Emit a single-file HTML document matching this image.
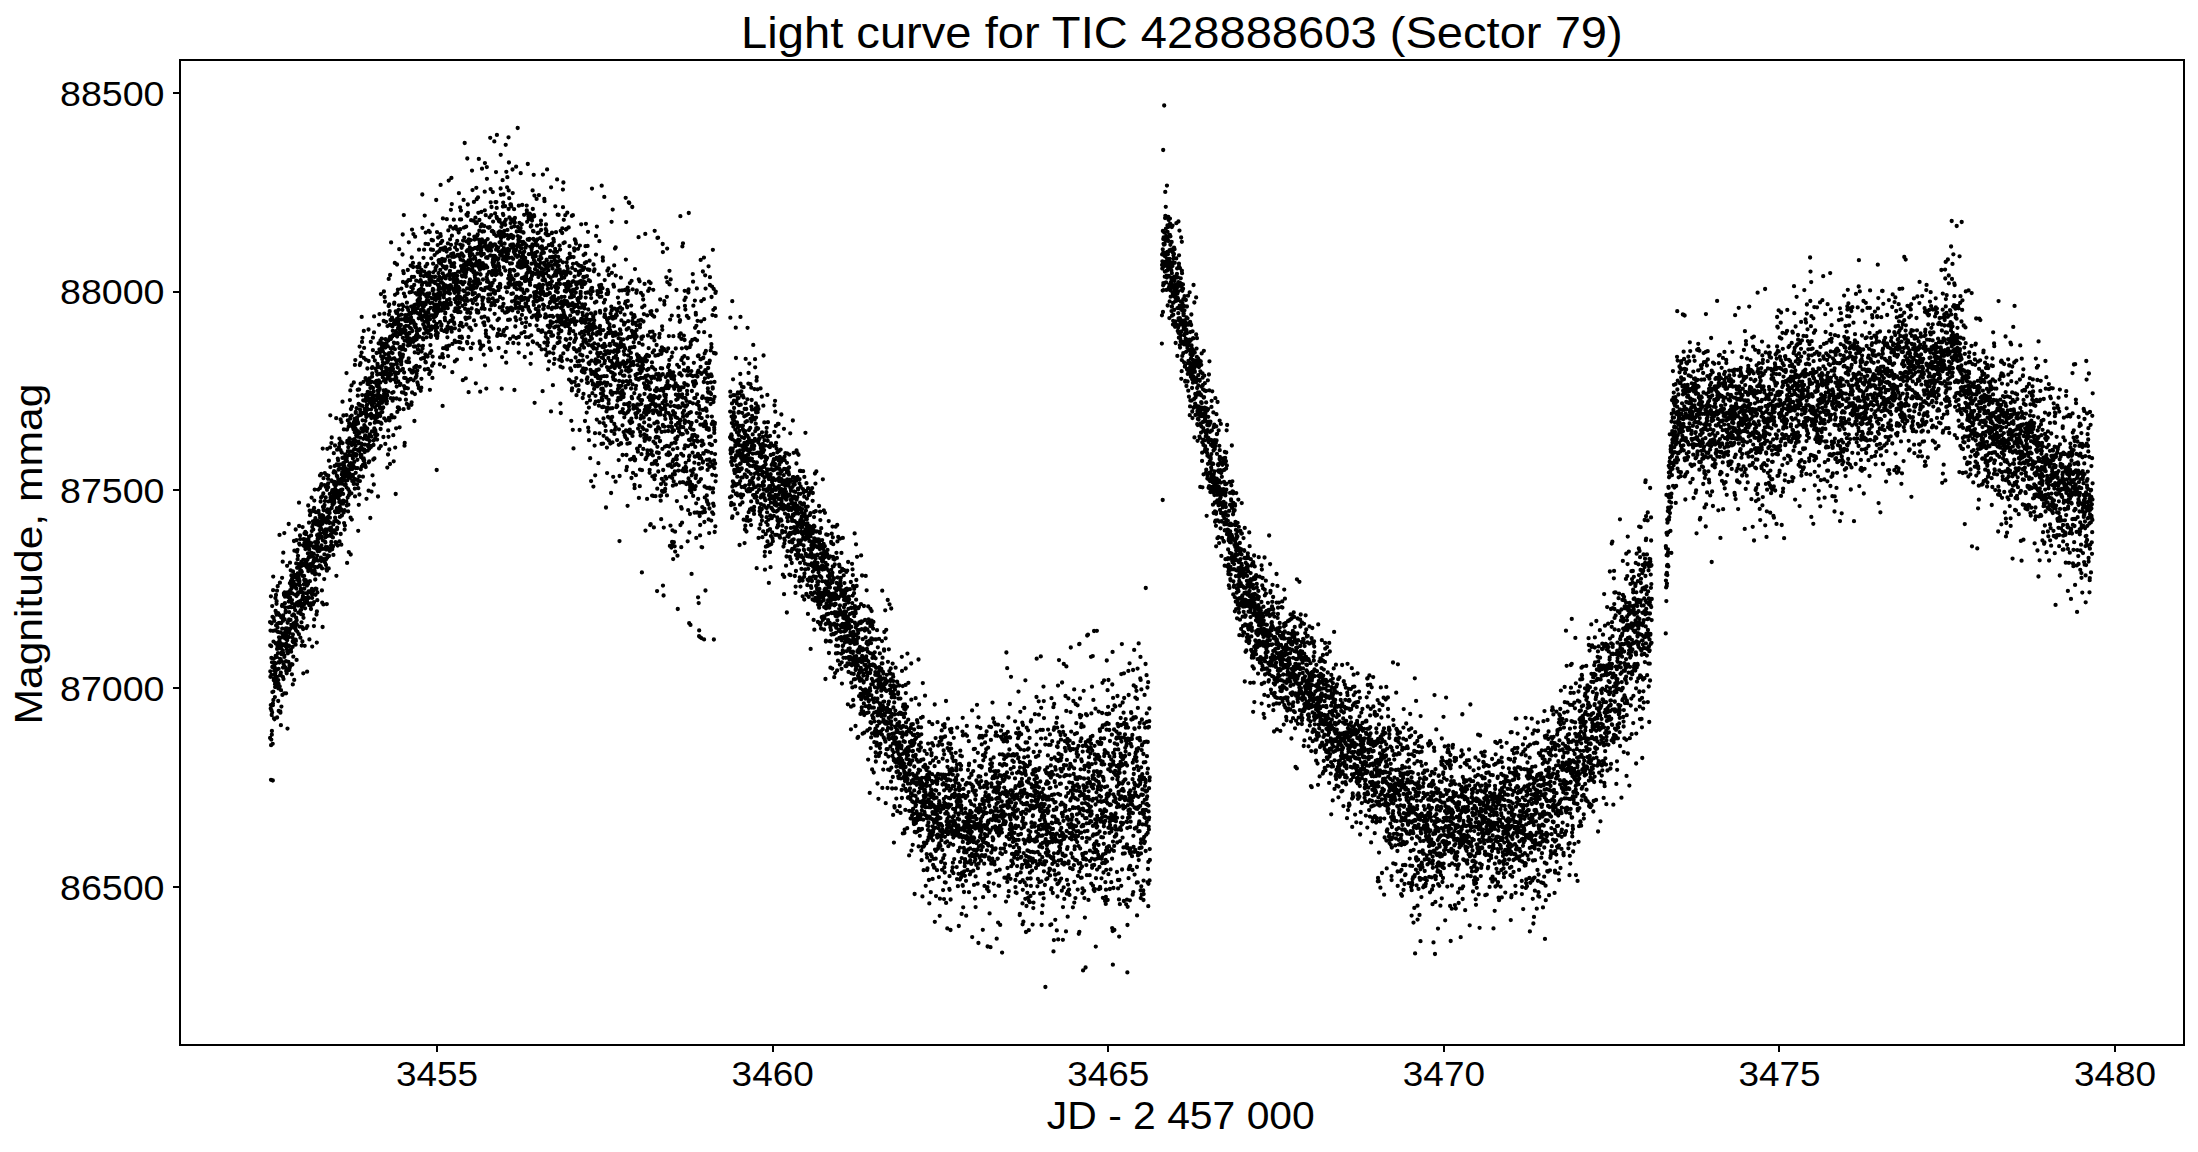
<!DOCTYPE html>
<html><head><meta charset="utf-8"><style>
html,body{margin:0;padding:0;background:#fff;}
body{width:2198px;height:1152px;overflow:hidden;}
svg{display:block;}
text{font-family:"Liberation Sans",sans-serif;fill:#000;}
.tk{font-size:35px;}
</style></head><body>
<svg width="2198" height="1152" viewBox="0 0 2198 1152">
<rect x="0" y="0" width="2198" height="1152" fill="#fff"/>
<path d="M270 622.1h0m.1 115.9h0m.1-92.7h0m.1 26h0m.1 5.5h0m.1-46.2h0m.1-8.2h0m.1 86.2h0m.1-3.5h0m.1-108.8h0m.1 183.5h0m.1-34.6h0m.1-99h0m.1 93.4h0m.1-81.7h0m0 16.9h0m.1 35.6h0m.1-87.1h0m.1 91.7h0m.1 19.7h0m.1-3.7h0m.1-68.7h0m.1 50.1h0m.1-106.3h0m.1 60.9h0m.1 25.1h0m.1-75.3h0m.1 50.2h0m.1 76.8h0m.1 36.7h0m.1-77h0m0 1.7h0m.1-74.4h0m.1-40.6h0m.1-13.6h0m.1 115h0m.1 8.3h0m.1-58.3h0m.1-23.7h0m.1 60.5h0m.1 1.8h0m.1-21.6h0m.1 59.8h0m.1-55.8h0m.1.7h0m.1-42.5h0m0 50h0m.1 48.5h0m.1-50.8h0m.1-1.4h0m.1 14.2h0m.1-6.7h0m.1 22.5h0m.1-12.9h0m.1 2.9h0m.1-56.6h0m.1 43.2h0m.1-75.7h0m.1 73.7h0m.1-60.7h0m.1 45h0m0 22.8h0m.1-35.3h0m.1 19.8h0m.1-68.3h0m.1 30.4h0m.1 60h0m.1-72.1h0m.1 69.9h0m.1-79.4h0m.1-2.6h0m.1 13.5h0m.1 42.3h0m.1 20h0m.1-86.3h0m.1 58.2h0m0 68.6h0m.1-74.4h0m.1-19.2h0m.1 45.5h0m.1-23.5h0m.1-18.3h0m.1-41.4h0m.1 98.2h0m.1-52.5h0m.1 21.2h0m.1-40h0m.1 87.9h0m.1-20.9h0m.1 8.3h0m.1-40.7h0m.1 21.1h0m0 15.2h0m.1 27h0m.1-48.8h0m.1-13.9h0m.1-11h0m.1-14.3h0m.1-8h0m.1 47.6h0m.1-22h0m.1-105.7h0m.1 108.5h0m.1 43.1h0m.1-47.8h0m.1-56h0m.1 60.9h0m0 31.7h0m.1-16.5h0m.1-26.4h0m.1 79h0m.1 1.3h0m.1-69.5h0m.1 31.2h0m.1-14.7h0m.1 13h0m.1 52.5h0m.1-35h0m.1-41.9h0m.1-25.3h0m.1-5.5h0m.1 26.3h0m0 62.8h0m.1-52.4h0m.1-8.5h0m.1 6.6h0m.1-6.9h0m.1 16h0m.1-55.4h0m.1-28.2h0m.1 50.9h0m.1-23.9h0m.1 90.1h0m.1-58.1h0m.1-3.3h0m.1-71.8h0m.1 88.7h0m.1-29.5h0m0 56h0m.1-9.3h0m.1-52.2h0m.1 37.8h0m.1-100.5h0m.1 65.4h0m.1 61h0m.1-14.9h0m.1-19.8h0m.1-6.7h0m.1-44.4h0m.1 1.7h0m.1 49.9h0m.1 48.4h0m.1-160.2h0m0 123.8h0m.1-1.2h0m.1 10.8h0m.1-74h0m.1 26.9h0m.1 18.6h0m.1-34.8h0m.1-6.5h0m.1 10.6h0m.1 25.1h0m.1 13.7h0m.1-12.8h0m.1 2.9h0m.1-23.9h0m.1-1.4h0m0 57h0m.1-36.9h0m.1-2.6h0m.1 32.8h0m.1 32.1h0m.1-22.3h0m.1-27.1h0m.1-15.3h0m.1 11.1h0m.1-3.7h0m.1 37.3h0m.1-34.4h0m.1 10.4h0m.1-20.8h0m.1 42.7h0m0-105.4h0m.1 74.4h0m.1 11.2h0m.1-58.9h0m.1 136.1h0m.1-105.8h0m.1-.6h0m.1-28.3h0m.1 59.4h0m.1-16.1h0m.1-40.1h0m.1 35.4h0m.1 13.7h0m.1 15.7h0m.1-30.6h0m.1-36.1h0m0 12.1h0m.1-83.3h0m.1 77.5h0m.1 44.1h0m.1-8.5h0m.1-17.6h0m.1-7.4h0m.1 57.8h0m.1-39.6h0m.1 35h0m.1-32.2h0m.1-32.3h0m.1 66.6h0m.1-84.2h0m.1-20.5h0m0 44.2h0m.1-9.3h0m.1-5.1h0m.1-2.3h0m.1 75.6h0m.1-45.9h0m.1 8.6h0m.1-58.2h0m.1 21.9h0m.1 57.3h0m.1-68.5h0m.1 70.7h0m.1-66.1h0m.1 39.3h0m.1-49.5h0m0 49.4h0m.1-36.4h0m.1 18.8h0m.1 57h0m.1-61.1h0m.1 71.2h0m.1-74.2h0m.1-21.5h0m.1 36.7h0m.1-21.9h0m.1 71.1h0m.1-26.8h0m.1 9.2h0m.1-5.4h0m.1 42.9h0m.1-49.9h0m0-8h0m.1-55.1h0m.1 12h0m.1 32h0m.1 41.3h0m.1-14.4h0m.1-61h0m.1 43.2h0m.1-10.2h0m.1-38.9h0m.1 47.7h0m.1-82.1h0m.1 74.2h0m.1 64.7h0m.1-103h0m0 30.3h0m.1-56.5h0m.1 33.2h0m.1 44.2h0m.1-53.1h0m.1 29.3h0m.1-9.7h0m.1-7.6h0m.1 23.1h0m.1 16.9h0m.1 13.1h0m.1-11.9h0m.1-51.3h0m.1 67.8h0m.1-5.1h0m0-110.1h0m.1 92.4h0m.1 19h0m.1-10.6h0m.1-12.6h0m.1-54.3h0m.1 25.2h0m.1-48.4h0m.1 55.8h0m.1 63.9h0m.1-39.7h0m.1 4.3h0m.1-39.9h0m.1-32.8h0m.1 16h0m0 34.8h0m.1-27.5h0m.1 4.7h0m.1 52h0m.1-82h0m.1 9.4h0m.1 14.3h0m.1 20.8h0m.1-1.1h0m.1-37.4h0m.1 49.8h0m.1-13.1h0m.1 20.2h0m.1-48.6h0m.1 38.7h0m.1-1h0m0-26h0m.1 8.8h0m.1-6.2h0m.1 55.8h0m.1-131.5h0m.1 23.3h0m.1 17.7h0m.1 38.7h0m.1-9h0m.1 7.6h0m.1 45.6h0m.1-81.9h0m.1 22.9h0m.1 18h0m.1-50.1h0m0 67h0m.1-1.4h0m.1-30.7h0m.1-31.3h0m.1 98.6h0m.1-33.3h0m.1 5.8h0m.1-18h0m.1-2.5h0m.1 24.3h0m.1-25h0m.1-18.3h0m.1 39.1h0m.1-19.3h0m.1-24.6h0m0-4.2h0m.1 60.6h0m.1-15.9h0m.1 39.2h0m.1-73.6h0m.1-6.6h0m.1 40.5h0m.1 21.3h0m.1-23.2h0m.1-5h0m.1 42.5h0m.1-77.4h0m.1-37h0m.1 36.5h0m.1 12.3h0m.1 20h0m0 18.9h0m.1-18.3h0m.1 32.5h0m.1-69.2h0m.1 113.5h0m.1-127.7h0m.1 72.2h0m.1-78.6h0m.1 53.9h0m.1-8.8h0m.1 13.4h0m.1 6.7h0m.1-28.5h0m.1 4h0m.1 8.8h0m0-45.5h0m.1 16.6h0m.1-26.4h0m.1 47.5h0m.1 64.9h0m.1-43.7h0m.1-62.6h0m.1 7.2h0m.1 61.6h0m.1-42.8h0m.1-33.5h0m.1 17h0m.1-1.1h0m.1.7h0m.1 49.6h0m0-18h0m.1-46h0m.1 27.6h0m.1-17.8h0m.1-2.2h0m.1-9h0m.1 95.2h0m.1-65.9h0m.1 31.1h0m.1 8.3h0m.1-36.9h0m.1 36.1h0m.1.1h0m.1-15.2h0m.1 86.1h0m0-88.7h0m.1-15.2h0m.1 25.4h0m.1 32.9h0m.1-23.2h0m.1-43.4h0m.1-11.4h0m.1-2.3h0m.1 7.6h0m.1 30.5h0m.1 13.3h0m.1-91.7h0m.1 65.5h0m.1-31.8h0m.1 52.2h0m.1 6.6h0m0-49.9h0m.1 9.4h0m.1-15h0m.1 39.2h0m.1-59h0m.1 14h0m.1 12.7h0m.1 55.8h0m.1 34.2h0m.1-70.1h0m.1-58.6h0m.1 59.7h0m.1-27.9h0m.1 38.7h0m.1-66h0m0 41.2h0m.1 10.2h0m.1 24.6h0m.1-27h0m.1 39.2h0m.1-33.8h0m.1-57h0m.1 80h0m.1-35.9h0m.1-11.3h0m.1 63.6h0m.1-73.6h0m.1 31h0m.1-23.3h0m.1 60.3h0m0-50.6h0m.1 17.3h0m.1-72.5h0m.1 107.2h0m.1-73.7h0m.1 57.8h0m.1 5.7h0m.1 3.3h0m.1 48.7h0m.1-119.7h0m.1 45.8h0m.1-8h0m.1 8h0m.1 19.7h0m.1-29.3h0m.1-41.8h0m0 35.2h0m.1 47.8h0m.1-80h0m.1 38.1h0m.1-32.8h0m.1 61h0m.1-81.1h0m.1 38.1h0m.1 6.1h0m.1 6.8h0m.1 65.6h0m.1-23.9h0m.1-94.2h0m.1 111.4h0m.1-98.6h0m0-20.2h0m.1 10.7h0m.1 49.7h0m.1 9.4h0m.1-80.8h0m.1 77.4h0m.1-20.9h0m.1 28.3h0m.1-32.3h0m.1 37.5h0m.1-.2h0m.1-61.2h0m.1 76.6h0m.1-36.5h0m.1 15h0m0 15.3h0m.1-65.9h0m.1 25.9h0m.1-36.4h0m.1 10.7h0m.1 35.2h0m.1 1.9h0m.1 28.8h0m.1 25.7h0m.1-65.9h0m.1-24.2h0m.1 118.2h0m.1-31.1h0m.1-66.4h0m.1-24.5h0m0 14.6h0m.1 20.4h0m.1 44.6h0m.1-7.8h0m.1-25.3h0m.1-28h0m.1 11.9h0m.1-14.3h0m.1 11h0m.1-5.4h0m.1 18.2h0m.1-70.9h0m.1 44.8h0m.1 1.3h0m.1-24.9h0m.1 27.9h0m0-26.1h0m.1 11.1h0m.1 10.8h0m.1.8h0m.1-9.7h0m.1 49h0m.1-26.8h0m.1 3.3h0m.1-2.8h0m.1-26.7h0m.1-6.6h0m.1 50.3h0m.1-35.3h0m.1-41.8h0m.1-12.8h0m0 74.6h0m.1-32.3h0m.1 19.4h0m.1-14.3h0m.1 3.8h0m.1 6.7h0m.1-31.8h0m.1 35.8h0m.1 29.2h0m.1-8.8h0m.1-71.7h0m.1 11.4h0m.1-23.4h0m.1 55h0m.1 32.1h0m0-15.8h0m.1-61.2h0m.1 52.8h0m.1 21.8h0m.1-37.1h0m.1 68.8h0m.1-75.2h0m.1 53.2h0m.1 34.3h0m.1-106.6h0m.1 27.7h0m.1 36.2h0m.1 67h0m.1-178.4h0m.1 100.3h0m.1-8.5h0m0-21h0m.1-12.4h0m.1 8.8h0m.1 6.3h0m.1-28.6h0m.1 110.9h0m.1-126.2h0m.1 31.7h0m.1.4h0m.1 7.1h0m.1 14.6h0m.1-25.2h0m.1 15h0m.1 57.3h0m.1-19.9h0m0-39.6h0m.1 34.8h0m.1-49.4h0m.1 28.9h0m.1-48.8h0m.1-12h0m.1 28h0m.1 61.5h0m.1-29.8h0m.1 9h0m.1-11.8h0m.1 12.5h0m.1-5.2h0m.1 9.9h0m.1-17.9h0m0-31.9h0m.1-10.5h0m.1 72.5h0m.1 5.6h0m.1-15.5h0m.1-74.7h0m.1 94.2h0m.1-37h0m.1-11.9h0m.1 2.5h0m.1-11.7h0m.1 93.2h0m.1-33.4h0m.1-80.9h0m.1 22.1h0m0 17.6h0m.1 28.2h0m.1-108.9h0m.1 98.3h0m.1 21.4h0m.1-59h0m.1 8.1h0m.1 37.7h0m.1-19.5h0m.1-57h0m.1 4.6h0m.1 3.8h0m.1-11.6h0m.1 40.8h0m.1-15h0m.1 16.2h0m0 31.5h0m.1 19.3h0m.1-46.4h0m.1-61.3h0m.1 95.3h0m.1-44.6h0m.1 37.5h0m.1-47.7h0m.1 21.9h0m.1-13.2h0m.1 3h0m.1 38h0m.1-57h0m.1 23.8h0m.1 4.9h0m0-21.7h0m.1-53.5h0m.1 80.5h0m.1-112.6h0m.1 51.8h0m.1 30.5h0m.1 33.1h0m.1 5.2h0m.1-1.3h0m.1-7h0m.1-28.5h0m.1 46.2h0m.1-48.8h0m.1 45.5h0m.1-98.9h0m0 37.4h0m.1.5h0m.1 27h0m.1-70.5h0m.1 94h0m.1 4.9h0m.1-6.2h0m.1-38.6h0m.1 57.7h0m.1-59.1h0m.1 42.5h0m.1-28.6h0m.1.9h0m.1-4.3h0m.1 3.7h0m.1 33h0m0 9.4h0m.1-.6h0m.1-15.5h0m.1-7.4h0m.1 1.1h0m.1 30.5h0m.1-73h0m.1-9.3h0m.1 31.2h0m.1-50.6h0m.1 41.7h0m.1 5h0m.1-28.7h0m.1 13h0m.1 37h0m0-27.4h0m.1 8.7h0m.1 27.9h0m.1-48.6h0m.1-15.9h0m.1 32.1h0m.1 13.4h0m.1-65.9h0m.1 72.2h0m.1-28.7h0m.1-3.2h0m.1-13.4h0m.1 19.6h0m.1 50.2h0m.1-29.8h0m0 8h0m.1-34.8h0m.1 57.3h0m.1-9.5h0m.1-38.3h0m.1-76.9h0m.1 78.7h0m.1 78.9h0m.1-82.8h0m.1-28.7h0m.1 79.9h0m.1-68.5h0m.1 32.4h0m.1 21.1h0m.1-79.5h0m0 46.8h0m.1 31.1h0m.1-50.9h0m.1 34.5h0m.1-20.2h0m.1 30.7h0m.1 23.9h0m.1-87h0m.1 23.6h0m.1 26.7h0m.1-48.6h0m.1 5.2h0m.1 13.8h0m.1 2h0m.1-11.6h0m.1 28.7h0m0 13.8h0m.1-2h0m.1-2.3h0m.1 14.9h0m.1-75.7h0m.1 36.6h0m.1 8.7h0m.1 9.6h0m.1-63.4h0m.1 102.8h0m.1-97.7h0m.1 49.5h0m.1 13.7h0m.1 10h0m.1-52.6h0m0 4h0m.1 26.7h0m.1 6.1h0m.1 9.3h0m.1-29.8h0m.1-30.5h0m.1-30.6h0m.1 114.5h0m.1-92.5h0m.1 61h0m.1-12.7h0m.1 14h0m.1 5.5h0m.1 35.4h0m.1-65.9h0m0 13.2h0m.1-69.9h0m.1 59.8h0m.1-29.4h0m.1 22.1h0m.1 40.9h0m.1-31.8h0m.1 26.9h0m.1-38.5h0m.1 17.5h0m.1-31.7h0m.1-56.2h0m.1 41.4h0m.1 25.6h0m.1 12.4h0m.1-4.9h0m0-4.1h0m.1 31.6h0m.1-9.8h0m.1-30.7h0m.1 37.5h0m.1-85.2h0m.1 50.3h0m.1 3.8h0m.1 42.9h0m.1-55h0m.1-28.1h0m.1 48.8h0m.1 44.9h0m.1-60.5h0m.1 6.6h0m0-3.4h0m.1 7.4h0m.1 37h0m.1 19.4h0m.1-44.7h0m.1-17.4h0m.1 58.1h0m.1-52.6h0m.1.2h0m.1-14.3h0m.1-4.4h0m.1 21.7h0m.1-20.9h0m.1 25.7h0m.1-10h0m0 13.6h0m.1-28.3h0m.1 1.9h0m.1 16.3h0m.1-5.5h0m.1.7h0m.1 31.8h0m.1-86.4h0m.1-42h0m.1 114.3h0m.1-29.3h0m.1 47.5h0m.1-44.6h0m.1-31.5h0m.1 133.4h0m0-86.8h0m.1-33.7h0m.1-1.4h0m.1 39.2h0m.1-37.5h0m.1 31.8h0m.1 23h0m.1-77.1h0m.1 30.8h0m.1 24.9h0m.1 35.3h0m.1-22.2h0m.1-42h0m.1 57.5h0m.1-61.4h0m.1 11.9h0m0 16h0m.1-44.7h0m.1 125.6h0m.1-56.9h0m.1-29.8h0m.1-24.1h0m.1-18.1h0m.1 46h0m.1 22.3h0m.1-53.2h0m.1 13h0m.1 22.5h0m.1-19h0m.1-54.7h0m.1 76.3h0m0-13.1h0m.1 14.5h0m.1-59.1h0m.1-28.3h0m.1 26.4h0m.1 46.9h0m.1 54h0m.1 36.8h0m.1-91.4h0m.1-54.1h0m.1 34h0m.1 23.7h0m.1-.6h0m.1-10.7h0m.1 37.9h0m0-68.8h0m.1-39.1h0m.1 39.2h0m.1-9h0m.1 104h0m.1-74.6h0m.1-38.4h0m.1 62.6h0m.1 11.8h0m.1-29.6h0m.1 4h0m.1 25.4h0m.1-15.9h0m.1-37.8h0m.1 39.6h0m.1 10.2h0m0-18.3h0m.1 16.2h0m.1-9.2h0m.1-25.7h0m.1 2.5h0m.1 23.4h0m.1-36.5h0m.1 52.7h0m.1 1.9h0m.1-101.4h0m.1 60.8h0m.1-21.5h0m.1 3.4h0m.1 24h0m.1-10h0m0 22.7h0m.1-7.9h0m.1 1.3h0m.1-36.4h0m.1 13.4h0m.1 56.4h0m.1-123.8h0m.1 131.5h0m.1-71.8h0m.1 54.5h0m.1-119h0m.1 68.2h0m.1 39.7h0m.1-22.3h0m.1 27.1h0m0-59.9h0m.1-.9h0m.1 7.3h0m.1 36.5h0m.1-1.6h0m.1-18.8h0m.1-4.7h0m.1-6.7h0m.1 17.3h0m.1-33.1h0m.1 28.1h0m.1-5.8h0m.1-10.1h0m.1-1.2h0m.1 65h0m0-66.9h0m.1 32.5h0m.1 30.2h0m.1-20.2h0m.1-23.3h0m.1 31.6h0m.1-78.3h0m.1 5.9h0m.1 26.5h0m.1 1.2h0m.1 8h0m.1 99.4h0m.1-42.6h0m.1-55.7h0m.1 9.2h0m.1-37.7h0m0 39.3h0m.1-53.8h0m.1 115.3h0m.1-89.3h0m.1 34.5h0m.1-60.4h0m.1 86.9h0m.1-25.4h0m.1 43.4h0m.1-61.4h0m.1-86.5h0m.1 58.3h0m.1-39.9h0m.1 116.1h0m.1-71.7h0m0-4.4h0m.1 43.6h0m.1-11h0m.1 16.8h0m.1-42.3h0m.1-49h0m.1 20.6h0m.1-27.6h0m.1 113.2h0m.1-12.3h0m.1-42.2h0m.1 32.4h0m.1 1.4h0m.1-1.4h0m.1-3.6h0m0 11.3h0m.1-26.5h0m.1-75.8h0m.1-35.7h0m.1 149.6h0m.1-22.1h0m.1-102.5h0m.1 88.1h0m.1-34.9h0m.1 10.7h0m.1-68h0m.1 111h0m.1-28.5h0m.1 29.5h0m.1 8.8h0m.1 6.4h0m0 11.7h0m.1-45.1h0m.1-2.7h0m.1-28.6h0m.1 38.5h0m.1-25.7h0m.1-31.3h0m.1 78.7h0m.1-2.1h0m.1-127.5h0m.1 27h0m.1 54.5h0m.1-64.5h0m.1 112.4h0m.1-35.1h0m0 24.4h0m.1.5h0m.1 13.3h0m.1-54.3h0m.1 42.9h0m.1-25.5h0m.1 18.2h0m.1-8.4h0m.1 29h0m.1-30h0m.1-34.5h0m.1 20h0m.1-42.6h0m.1 48.9h0m.1 40h0m0-71.7h0m.1-35.7h0m.1 53h0m.1-14.7h0m.1 16.9h0m.1-20.3h0m.1 22.5h0m.1-37.4h0m.1 119.1h0m.1-92.7h0m.1 25h0m.1 8.1h0m.1-31.3h0m.1 20.5h0m.1-24.1h0m0-7.1h0m.1 7.4h0m.1 24.1h0m.1-60.2h0m.1 12.1h0m.1 3.3h0m.1 7.9h0m.1 58.8h0m.1-41h0m.1-9.6h0m.1 15.2h0m.1 31.2h0m.1-62.2h0m.1 60.6h0m.1-115.3h0m.1 31.5h0m0 129.7h0m.1-28.3h0m.1-47h0m.1-21.4h0m.1 42.8h0m.1-42.6h0m.1 67.2h0m.1-12.7h0m.1-14.4h0m.1-55.8h0m.1 62.5h0m.1-46.7h0m.1 4.7h0m.1-6.7h0m.1 10.3h0m0 21.2h0m.1 11.8h0m.1-.1h0m.1 82.5h0m.1-130h0m.1 57.9h0m.1-63.3h0m.1 16.1h0m.1-56.8h0m.1 105.2h0m.1-33.2h0m.1-4.6h0m.1-8.8h0m.1 36h0m.1-49.6h0m0 31.1h0m.1 73.6h0m.1-92.9h0m.1-16.9h0m.1-13.7h0m.1 63.4h0m.1-26.2h0m.1-28.8h0m.1-3h0m.1 32.2h0m.1-38.5h0m.1 108.1h0m.1-80.3h0m.1.3h0m.1 2.6h0m.1-60.2h0m0 12.5h0m.1 37.8h0m.1 12.8h0m.1-43.9h0m.1 102.6h0m.1-43.6h0m.1 29.1h0m.1-4.5h0m.1-49.1h0m.1 93.1h0m.1-81.4h0m.1-70.7h0m.1-16h0m.1 83.7h0m.1 28.4h0m0-28.3h0m.1 58.2h0m.1-76.1h0m.1 34.6h0m.1 5.8h0m.1-62.2h0m.1 46.7h0m.1 11.3h0m.1 16h0m.1 3.8h0m.1-8.1h0m.1-61.6h0m.1 52.3h0m.1 11.6h0m.1-36.6h0m0 24.9h0m.1.4h0m.1 14.3h0m.1-35.8h0m.1 10.5h0m.1-10h0m.1-4.9h0m.1-24.1h0m.1 9.6h0m.1-27.8h0m.1 32.1h0m.1 30.8h0m.1-2.7h0m.1 4.3h0m.1-31.2h0m0 53.3h0m.1-65h0m.1 60.2h0m.1-30h0m.1-41h0m.1 1.2h0m.1 50.6h0m.1-25h0m.1 8h0m.1 97.9h0m.1-74.6h0m.1-29.2h0m.1 21.3h0m.1-47h0m.1 14.7h0m.1 21.5h0m0-59.9h0m.1 42.8h0m.1-5.6h0m.1 10.1h0m.1-65.8h0m.1 123.6h0m.1-65.5h0m.1 22.3h0m.1-55.7h0m.1-35.4h0m.1 74.3h0m.1-14.6h0m.1 33.8h0m.1-55.2h0m.1-2.4h0m0 45.9h0m.1 12.6h0m.1 7.6h0m.1-33.6h0m.1 17.2h0m.1-59.4h0m.1 88.7h0m.1-6.4h0m.1 23.5h0m.1-152h0m.1 118.7h0m.1-56.6h0m.1 42.6h0m.1-2.5h0m.1 27.4h0m0-49.5h0m.1-5.6h0m.1-23.5h0m.1-6.4h0m.1 61.4h0m.1-52.2h0m.1 54.9h0m.1-37h0m.1-6.8h0m.1 53.1h0m.1-3.7h0m.1-64.9h0m.1 28.4h0m.1 5.4h0m.1 23.3h0m.1-49.2h0m0 10.9h0m.1 10.4h0m.1 27.9h0m.1 6.8h0m.1-50.3h0m.1 79.9h0m.1-46.7h0m.1-42.8h0m.1-26.6h0m.1 36.5h0m.1-65.9h0m.1 89.2h0m.1 12.9h0m.1 24.7h0m.1-27.2h0m0-77.4h0m.1 49.7h0m.1 34h0m.1-100.4h0m.1 46.9h0m.1 50.3h0m.1-20.1h0m.1-72.4h0m.1 52.4h0m.1 19.6h0m.1 70.2h0m.1-96.3h0m.1-8.4h0m.1 40.1h0m.1 2.9h0m0 8h0m.1 30.3h0m.1-52.9h0m.1-45.8h0m.1 49.2h0m.1-1h0m.1 33h0m.1-4.6h0m.1-55.3h0m.1 52.4h0m.1 7.9h0m.1-44.5h0m.1 42.3h0m.1-27.5h0m.1 5.1h0m0-16.4h0m.1 33h0m.1 72.2h0m.1-92.7h0m.1-48.8h0m.1 32.4h0m.1-12.4h0m.1 31.4h0m.1-16.4h0m.1 93.4h0m.1-62.8h0m.1 38.7h0m.1-89.8h0m.1 13.9h0m.1 82.3h0m.1-130.7h0m0 63.4h0m.1-90.6h0m.1 139h0m.1-103.4h0m.1 38.6h0m.1 4.2h0m.1-52.9h0m.1 145.1h0m.1-92.4h0m.1 63.3h0m.1-82.1h0m.1-27.1h0m.1 64.2h0m.1-6.8h0m.1 95.4h0m0-139.3h0m.1-49.7h0m.1 61.6h0m.1 35.1h0m.1 8.9h0m.1-60.7h0m.1 28.4h0m.1 31.1h0m.1 18.8h0m.1-59.1h0m.1 25.2h0m.1-121.9h0m.1 83h0m.1 48.8h0m.1-15.1h0m0-6.8h0m.1 62.8h0m.1-66.8h0m.1-28.4h0m.1 45.6h0m.1 4.9h0m.1-52.8h0m.1 75.2h0m.1 24.6h0m.1-80.8h0m.1-10.2h0m.1 26.7h0m.1 47.6h0m.1-75h0m.1 5.1h0m.1 4.7h0m0 29.2h0m.1 4.3h0m.1-21.9h0m.1 51.2h0m.1 36.9h0m.1-100.2h0m.1 57.1h0m.1-27.3h0m.1 96.5h0m.1-137.6h0m.1 18.9h0m.1 15.8h0m.1-54.6h0m.1 39.4h0m.1 36.3h0m0-76.9h0m.1 55.8h0m.1 58.9h0m.1-97h0m.1 1.1h0m.1-58.5h0m.1 86.3h0m.1-54.4h0m.1 77.9h0m.1 74.9h0m.1-75.2h0m.1-48.4h0m.1 51.6h0m.1-40.5h0m.1-23.8h0m0 22.5h0m.1 26.3h0m.1-28.9h0m.1 51.2h0m.1 45.9h0m.1-55.3h0m.1 5h0m.1-65h0m.1 85.5h0m.1-35.4h0m.1 23.5h0m.1-64.7h0m.1 42.2h0m.1-99.6h0m.1 72h0m0-17.8h0m.1-6h0m.1 99.2h0m.1-118.8h0m.1 50.1h0m.1.1h0m.1 24.3h0m.1 39.9h0m.1-117.9h0m.1 38.5h0m.1-6.1h0m.1 51h0m.1 8.5h0m.1-57.8h0m.1 3.5h0m.1-17.4h0m0 50.3h0m.1 47.5h0m.1-47.4h0m.1-54.9h0m.1 10.2h0m.1 4.2h0m.1-70.5h0m.1 160h0m.1-61.1h0m.1-15.1h0m.1 94.3h0m.1-74.2h0m.1 46.3h0m.1-44.8h0m.1 30.5h0m0-38.1h0m.1-16.4h0m.1 28.6h0m.1 11.2h0m.1 13.6h0m.1-28.2h0m.1-21.6h0m.1-4.6h0m.1 25h0m.1-29.6h0m.1 5.7h0m.1 32.1h0m.1 1.6h0m.1-3.2h0m.1-46.6h0m0-26h0m.1 70h0m.1-9.6h0m.1-29.6h0m.1 29.9h0m.1 43h0m.1-62.8h0m.1 26.5h0m.1-51.4h0m.1 28.1h0m.1-22.9h0m.1-55.3h0m.1 102.2h0m.1-122.2h0m.1 103.3h0m.1 31.2h0m0-14.3h0m.1-72.8h0m.1 66.6h0m.1-77.4h0m.1 35.1h0m.1 86.3h0m.1-47.6h0m.1 64.3h0m.1-136h0m.1-58.1h0m.1 78.5h0m.1 92.5h0m.1-13.6h0m.1 5.4h0m.1-45.6h0m0 .1h0m.1-2.4h0m.1 115.7h0m.1-105.1h0m.1 102.3h0m.1-116.2h0m.1 61.7h0m.1-92h0m.1 21.5h0m.1 32h0m.1-34.8h0m.1 6h0m.1 9.2h0m.1-14.3h0m.1 78h0m0-15.8h0m.1-94.7h0m.1 116.2h0m.1-65.6h0m.1-.1h0m.1-8.2h0m.1 62h0m.1-26.1h0m.1-46.3h0m.1 21.4h0m.1-50.9h0m.1 118h0m.1-101.2h0m.1-20.9h0m.1 25.7h0m0 31.8h0m.1 22.7h0m.1-41.3h0m.1 15.2h0m.1-14.9h0m.1 60.7h0m.1-39.7h0m.1-72h0m.1 118.3h0m.1-42.7h0m.1 59.3h0m.1-94.9h0m.1 4.3h0m.1 11.8h0m.1-46h0m.1 38.5h0m0 89.3h0m.1-49.6h0m.1-116h0m.1 137.6h0m.1-34.7h0m.1 17h0m.1-29.2h0m.1 5.5h0m.1-5.1h0m.1-.4h0m.1-40.6h0m.1 77.2h0m.1-30.8h0m.1 6.1h0m.1-1.6h0m0-30.3h0m.1 14.9h0m.1-47.7h0m.1 59.4h0m.1.5h0m.1-19.5h0m.1-55h0m.1 113.4h0m.1-56.2h0m.1 5.5h0m.1-11h0m.1-10.7h0m.1 7h0m.1-26.4h0m.1 19.5h0m0 98.1h0m.1-32.8h0m.1 30.3h0m.1-110.5h0m.1-34.3h0m.1 19.5h0m.1-47.4h0m.1 162.9h0m.1-19.8h0m.1-41.7h0m.1 9.9h0m.1-.5h0m.1-18h0m.1 48.2h0m.1-81.8h0m.1 21.1h0m0 10.7h0m.1-57.7h0m.1 4.1h0m.1 74.9h0m.1-3.5h0m.1-104.3h0m.1 146.2h0m.1-42.1h0m.1 33.2h0m.1-48.9h0m.1 24h0m.1-69.7h0m.1 35.8h0m.1-27.6h0m.1 20.1h0m0 62.3h0m.1 53.6h0m.1-95.9h0m.1-17.7h0m.1 45h0m.1-12h0m.1 53.7h0m.1-47.6h0m.1-109.8h0m.1 90.6h0m.1-22.7h0m.1-11.5h0m.1 34.5h0m.1-3h0m.1-15.3h0m0 68.4h0m.1-41.8h0m.1 1h0m.1-9.2h0m.1 38.9h0m.1-85.9h0m.1 85.2h0m.1-53.3h0m.1 63.3h0m.1-2.5h0m.1-34.1h0m.1-35.1h0m.1 26.9h0m.1 2.6h0m.1-66.7h0m0 41.5h0m.1-13.8h0m.1 75.8h0m.1 11.9h0m.1-89.1h0m.1 7.2h0m.1-29.1h0m.1 64.3h0m.1 13.5h0m.1 35.8h0m.1-112.8h0m.1 80.9h0m.1-39.5h0m.1-21h0m.1 13.4h0m.1-15.3h0m0 54.6h0m.1-27h0m.1 69.9h0m.1-89.4h0m.1-49.1h0m.1 31.9h0m.1 48.5h0m.1-66.4h0m.1 26.3h0m.1 46.8h0m.1-69.6h0m.1 99.6h0m.1-37.6h0m.1-33.7h0m.1 19.6h0m0-16.7h0m.1 3.6h0m.1 2.4h0m.1 12.4h0m.1-4.1h0m.1-39.5h0m.1 7h0m.1 110.6h0m.1-115.2h0m.1 34.3h0m.1 48.9h0m.1-7.7h0m.1-62.4h0m.1 99h0m.1-8.9h0m0-75.5h0m.1-33.5h0m.1 81.8h0m.1-47.2h0m.1-.7h0m.1-18.7h0m.1 7.5h0m.1 27.4h0m.1 26.5h0m.1-151.9h0m.1 33.3h0m.1 120.6h0m.1-65.5h0m.1 55.3h0m.1-21.1h0m.1 41h0m0-12.3h0m.1-42.9h0m.1 4.1h0m.1 17.2h0m.1 15.2h0m.1-49.5h0m.1-32.1h0m.1 58.2h0m.1-5.4h0m.1-4.2h0m.1-30.3h0m.1 57.5h0m.1-83.9h0m.1 44.6h0m.1 63.7h0m0-86.4h0m.1 54.7h0m.1 1.2h0m.1-1h0m.1-110.9h0m.1 153.9h0m.1-53.4h0m.1 12.4h0m.1-6.8h0m.1-8.9h0m.1 41.5h0m.1 7.6h0m.1-118h0m.1 22.5h0m.1 37.9h0m0-71.7h0m.1 129.8h0m.1-80.1h0m.1 47.7h0m.1-12.4h0m.1-15.6h0m.1-28.3h0m.1 23h0m.1 16h0m.1 24.6h0m.1-35.3h0m.1-6.9h0m.1 5.2h0m.1 55h0m.1-36h0m0-34.4h0m.1-20.9h0m.1 30.1h0m.1-17.9h0m.1 17.4h0m.1 63h0m.1-23.8h0m.1-16.5h0m.1 6.1h0m.1 46.6h0m.1-124.8h0m.1 79.4h0m.1-23.1h0m.1 12.1h0m.1-2.5h0m.1-13.9h0m0 30.3h0m.1-95.5h0m.1 86.3h0m.1 13.7h0m.1-57.7h0m.1-.8h0m.1 101.5h0m.1-98.9h0m.1 18.2h0m.1-13.9h0m.1 5.5h0m.1-2.1h0m.1-50.7h0m.1 157.7h0m.1-109.2h0m0 38.7h0m.1-16.2h0m.1 49.9h0m.1-23.1h0m.1 15.2h0m.1 26.4h0m.1-36.7h0m.1-27h0m.1 29.2h0m.1-87.5h0m.1 86.5h0m.1-6.6h0m.1-14h0m.1-57.1h0m.1 92.9h0m0-70.1h0m.1 45.2h0m.1-86.3h0m.1 58.1h0m.1-16.4h0m.1-4.7h0m.1 3.9h0m.1 84.8h0m.1-63h0m.1 12.9h0m.1 62.3h0m.1-153.3h0m.1 132h0m.1-66h0m.1-9.1h0m.1 7.5h0m0-48.6h0m.1 9.5h0m.1 13.8h0m.1 8.6h0m.1 55.2h0m.1 35.9h0m.1-73.5h0m.1 25.5h0m.1 2.1h0m.1-23.1h0m.1 15.8h0m.1-28.4h0m.1 39.5h0m.1-27h0m.1 10.3h0m0 6h0m.1-3.8h0m.1-29.8h0m.1-21.9h0m.1 44.1h0m.1-17.3h0m.1 1.2h0m.1 14.6h0m.1-21h0m.1 39.8h0m.1-1.8h0m.1-44.7h0m.1 43.5h0m.1-45.7h0m.1 57.7h0m0 9.5h0m.1-34.9h0m.1 30.9h0m.1 4.4h0m.1-19.9h0m.1-115.5h0m.1 104.6h0m.1 6.7h0m.1 16.2h0m.1-61.3h0m.1 57.6h0m.1-12.1h0m.1 1.8h0m.1-81.4h0m.1 20.4h0m0 85.4h0m.1-10.4h0m.1-31.2h0m.1 39.8h0m.1-28.1h0m.1-23.3h0m.1-39.6h0m.1 88.1h0m.1-39.3h0m.1 17.6h0m.1-74h0m.1 42.5h0m.1 28.4h0m.1-18.5h0m.1-16.7h0m.1-12.8h0m0 44.6h0m.1-19.6h0m.1.9h0m.1 1.5h0m.1-25.2h0m.1 23.8h0m.1-9.7h0m.1 21.6h0m.1-47.3h0m.1 9.2h0m.1 38.3h0m.1-10.5h0m.1 14.2h0m.1 62.2h0m.1-42.5h0m0 35.4h0m.1-46.7h0m.1-18h0m.1-22.8h0m.1-35.7h0m.1 14.8h0m.1-64h0m.1 51.2h0m.1 6.9h0m.1 20.7h0m.1 31.1h0m.1-12.5h0m.1 43.2h0m.1.4h0m.1 4h0m0-5.5h0m.1-19.8h0m.1-26.1h0m.1 32.1h0m.1-28.5h0m.1 6.6h0m.1 20.3h0m.1-50.1h0m.1-17.9h0m.1 65h0m.1 48.2h0m.1.4h0m.1 51.3h0m.1-157.6h0m.1 25.1h0m.1-55h0m0 47.7h0m.1 91.5h0m.1-9.4h0m.1-87.4h0m.1 23h0m.1-16.7h0m.1-17.3h0m.1 36.4h0m.1-9.4h0m.1 20.5h0m.1 5.5h0m.1 28.3h0m.1 35.7h0m.1-75.4h0m.1-4.4h0m0 7.1h0m.1 14.4h0m.1-19.1h0m.1-28.5h0m.1 15.5h0m.1 41.6h0m.1-58.5h0m.1 60.8h0m.1-73h0m.1 66.1h0m.1-.7h0m.1-26.6h0m.1 6.2h0m.1-7h0m.1 63.1h0m0-70h0m.1-9.7h0m.1 36.5h0m.1 24.1h0m.1-25.6h0m.1-16h0m.1 58.8h0m.1-79.1h0m.1-.8h0m.1-15.1h0m.1 80.6h0m.1-112.9h0m.1 30.4h0m.1 50.6h0m.1 5.2h0m0 43.8h0m.1-43.4h0m.1-30.4h0m.1 61.9h0m.1-10.6h0m.1 3h0m.1-3.1h0m.1-18.4h0m.1-64.8h0m.1 13.1h0m.1 99.6h0m.1-63.6h0m.1-62.1h0m.1 62.4h0m.1 29.8h0m.1-18.8h0m0-12.6h0m.1-110.6h0m.1 112h0m.1-6.6h0m.1 59.7h0m.1-55.2h0m.1-1.9h0m.1-12.9h0m.1 10.4h0m.1 13h0m.1-26h0m.1-12.4h0m.1-11.8h0m.1 44.7h0m.1-22.8h0m0 8.2h0m.1-39.7h0m.1 23.3h0m.1-35.9h0m.1 94.1h0m.1 7.4h0m.1-25.6h0m.1-17.4h0m.1 19.2h0m.1-94.6h0m.1 35h0m.1 82.9h0m.1-73.6h0m.1 32.7h0m.1-20.6h0m0-88.3h0m.1 88h0m.1 49.7h0m.1 16.1h0m.1-127.6h0m.1 31.6h0m.1 21.1h0m.1 64.2h0m.1 7.5h0m.1 43.7h0m.1-28.3h0m.1-79.2h0m.1-10.1h0m.1 63.8h0m.1-39.5h0m.1 9.9h0m0-13.4h0m.1-1.2h0m.1 43.6h0m.1-64.5h0m.1-24.8h0m.1 35h0m.1 26.7h0m.1-13.7h0m.1 5.4h0m.1-62.2h0m.1 37.2h0m.1 65.6h0m.1-42.1h0m.1-17.2h0m.1 60.7h0m0-57h0m.1 44.2h0m.1-18.3h0m.1 6.4h0m.1 41.5h0m.1 20.7h0m.1-33.1h0m.1-71.9h0m.1-9h0m.1 26.5h0m.1.7h0m.1 33.8h0m.1-22.7h0m.1 5.6h0m.1-64.6h0m0 56h0m.1 19.6h0m.1 39.8h0m.1-31.2h0m.1-22.6h0m.1-44.6h0m.1 38.9h0m.1 1.4h0m.1-5.1h0m.1 10h0m.1 21.3h0m.1-11.5h0m.1 60.9h0m.1-109.8h0m.1-20.3h0m0 67h0m.1-55.6h0m.1 34.9h0m.1 4.2h0m.1-25.1h0m.1 55h0m.1-5.2h0m.1-17.4h0m.1 15.9h0m.1 9h0m.1-40.6h0m.1 31h0m.1-15.8h0m.1-5h0m.1-26.8h0m.1 86.9h0m0-48.9h0m.1-60.4h0m.1 66h0m.1-105.4h0m.1 97.4h0m.1 17.2h0m.1 22.4h0m.1-41.9h0m.1-31.6h0m.1 91.4h0m.1-11.1h0m.1-11.4h0m.1-53.7h0m.1 30.7h0m.1-83.2h0m0 77.6h0m.1-89.7h0m.1 37.3h0m.1-15.4h0m.1 113.2h0m.1-30.3h0m.1-52.6h0m.1 63.5h0m.1-40.4h0m.1-72h0m.1 55.5h0m.1-46.7h0m.1 62.6h0m.1 16.1h0m.1-44.6h0m0 69.6h0m.1 13.5h0m.1-88.8h0m.1 51.2h0m.1-23.4h0m.1-6.5h0m.1 68.8h0m.1-83.8h0m.1 12.2h0m.1 10.1h0m.1 22.3h0m.1 7.1h0m.1-60.3h0m.1 81.1h0m.1 53.6h0m.1-31h0m0-64.9h0m.1-23.8h0m.1-19.9h0m.1 49.9h0m.1-14.9h0m.1.5h0m.1-20h0m.1-56.2h0m.1 67.8h0m.1 4.1h0m.1-7h0m.1-37.2h0m.1 40.4h0m.1 4.3h0m.1-34.7h0m0 62.8h0m.1-24.2h0m.1 6h0m.1 9.2h0m.1-23h0m.1 6.1h0m.1 21.6h0m.1 8.1h0m.1 4.7h0m.1-38.4h0m.1 33.9h0m.1 13.3h0m.1-90.8h0m.1 35.4h0m.1 12.1h0m0 2.4h0m.1 101.5h0m.1-59.3h0m.1-47.2h0m.1.7h0m.1-45.9h0m.1 14.7h0m.1 83.2h0m.1-109.8h0m.1 84.2h0m.1-47.8h0m.1 14.1h0m.1 4.5h0m.1 72.2h0m.1-53.5h0m0 6h0m.1 18.2h0m.1-154.1h0m.1 184.8h0m.1-127.5h0m.1 34.3h0m.1 50.7h0m.1-96.3h0m.1 8.4h0m.1 105h0m.1-53.4h0m.1 45.2h0m.1-16.3h0m.1-24.6h0m.1 68.2h0m.1-76.5h0m0 131.7h0m.1-148.9h0m.1-3.8h0m.1 11.2h0m.1 33.3h0m.1-49.7h0m.1 15.8h0m.1 77.6h0m.1-45.6h0m.1 35.3h0m.1-28.6h0m.1-34.7h0m.1-6.7h0m.1 34.6h0m.1-2.6h0m0-23.2h0m.1-1.4h0m.1 73.1h0m.1-14.9h0m.1-27h0m.1-23.4h0m.1-3h0m.1 88.3h0m.1-107.8h0m.1 118.9h0m.1-108.4h0m.1-30.4h0m.1 128h0m.1-77.9h0m.1 59.8h0m0-30h0m.1-34.7h0m.1 43.1h0m.1-45.2h0m.1 26.5h0m.1-24.1h0m.1-95.1h0m.1 117.5h0m.1-34h0m.1 14.1h0m.1 20.3h0m.1-98.4h0m.1 102.9h0m.1 1.4h0m.1 49.2h0m.1-40.5h0m0-17.7h0m.1-36.4h0m.1 22.8h0m.1-51.1h0m.1 66.6h0m.1-22.3h0m.1-6.2h0m.1 13.8h0m.1 16h0m.1-7.2h0m.1-79.5h0m.1 118.5h0m.1-47.7h0m.1 11h0m.1-12.2h0m0-34.9h0m.1 44.2h0m.1-24.2h0m.1-17h0m.1 35.8h0m.1 23.2h0m.1-5.5h0m.1-15.5h0m.1-29.7h0m.1 10.5h0m.1 7h0m.1-47.7h0m.1 82.2h0m.1-26.5h0m.1-50.4h0m0 102.1h0m.1 58.2h0m.1-161.1h0m.1 41h0m.1-24.4h0m.1 59.1h0m.1-110.1h0m.1 99.8h0m.1-4.1h0m.1 26.7h0m.1-111h0m.1 23.9h0m.1 38.3h0m.1 42.9h0m.1-30.8h0m0 38.9h0m.1-26.9h0m.1-50h0m.1 28.8h0m.1-10.6h0m.1-4.7h0m.1-14.6h0m.1 61.8h0m.1-16.9h0m.1-81.9h0m.1 113.4h0m.1-63.9h0m.1-34.1h0m.1 99.7h0m.1-45.8h0m.1 13.8h0m0-18.2h0m.1 3.6h0m.1-107h0m.1 136.2h0m.1-55.5h0m.1 27.9h0m.1-3.8h0m.1-33h0m.1-10.7h0m.1 40.9h0m.1 80.6h0m.1-99.5h0m.1 1.9h0m.1 25.9h0m.1-25.2h0m0 99h0m.1-60.3h0m.1 108.4h0m.1-117.5h0m.1 74.9h0m.1-105h0m.1 30.5h0m.1-48.2h0m.1 25.2h0m.1 2.7h0m.1 34.7h0m.1 58.3h0m.1-97.1h0m.1-38.3h0m.1 54.1h0m0-10.4h0m.1-7.9h0m.1 69.8h0m.1-8.9h0m.1-84.3h0m.1 15.2h0m.1-70.8h0m.1 73.8h0m.1 55.1h0m.1-66.1h0m.1 68.8h0m.1 6.8h0m.1-3.3h0m.1-13.7h0m.1-26.9h0m.1 41.6h0m0 1.4h0m.1-26.7h0m.1-14.6h0m.1 80.7h0m.1-22.8h0m.1-80.5h0m.1 55.5h0m.1-29.4h0m.1 86.2h0m.1-100.7h0m.1-11.3h0m.1-11.3h0m.1 91h0m.1-96.3h0m.1 64.2h0m0-43.9h0m.1 70.3h0m.1 8.6h0m.1-16.3h0m.1-117.2h0m.1 18.6h0m.1-47.2h0m.1 202.2h0m.1-122.6h0m.1-1.5h0m.1 25.6h0m.1 21.2h0m.1-42.2h0m.1 21.6h0m.1-2.1h0m0-50.1h0m.1 118.4h0m.1-3h0m.1-64.8h0m.1-8.1h0m.1 78.5h0m.1 52.4h0m.1-122h0m.1 21h0m.1-38.7h0m.1 28.3h0m.1-110.1h0m.1 11.7h0m.1 102.9h0m.1-24.5h0m0 22.4h0m.1-12.2h0m.1 20.1h0m.1-13.2h0m.1-16.4h0m.1 22.7h0m.1-41.5h0m.1 79.4h0m.1-91.2h0m.1 22h0m.1 49.8h0m.1-48.6h0m.1 50.8h0m.1 19.2h0m.1-25.8h0m.1-46.9h0m0 89.9h0m.1-55.4h0m.1-54.5h0m.1 114.1h0m.1-70h0m.1 16.6h0m.1 10.9h0m.1-54.3h0m.1 54.2h0m.1-82h0m.1 9.9h0m.1 22.6h0m.1 98.7h0m.1-60.5h0m.1 21.6h0m0-61.2h0m.1 37.1h0m.1-147.7h0m.1 117.5h0m.1 39h0m.1-50.9h0m.1-54.3h0m.1 13.2h0m.1 87.3h0m.1 60.6h0m.1-99.5h0m.1 75.6h0m.1-111.2h0m.1 90.3h0m.1-19.7h0m0 19.5h0m.1-98.2h0m.1 96.1h0m.1-29.4h0m.1-42.4h0m.1 15.6h0m.1 9h0m.1 19.2h0m.1-43.7h0m.1-.6h0m.1 40.2h0m.1-8.6h0m.1 20.5h0m.1 15.5h0m.1-106.3h0m.1 67.6h0m0 12.5h0m.1-7.4h0m.1-43.2h0m.1 68.6h0m.1 38.4h0m.1-72.7h0m.1-23.9h0m.1 60.2h0m.1-28h0m.1 2.6h0m.1 4h0m.1-26.2h0m.1 17h0m.1-27.4h0m.1-92.8h0m0 160.6h0m.1-21.9h0m.1-20.9h0m.1 54.6h0m.1-57.9h0m.1 49.2h0m.1-11.4h0m.1-49.4h0m.1-30.9h0m.1 78.1h0m.1-21h0m.1 30.3h0m.1-98.7h0m.1 54.9h0m.1 13.8h0m0 4.2h0m.1-8.6h0m.1 7.3h0m.1-101.6h0m.1 77.6h0m.1-13.8h0m.1-33.8h0m.1 64h0m.1-19.5h0m.1-29.6h0m.1-9.1h0m.1 66.3h0m.1-139.3h0m.1 123.2h0m.1-39.6h0m0 51.7h0m.1 65.7h0m.1-34.7h0m.1-41.7h0m.1 60.6h0m.1 14.6h0m.1-34.3h0m.1 33.3h0m.1-63.2h0m.1 16.3h0m.1-27.7h0m.1-11.5h0m.1 15.8h0m.1-31.1h0m.1 26.4h0m.1 89.3h0m0-57.8h0m.1-38.9h0m.1 78h0m.1-10.7h0m.1-97.3h0m.1 14.4h0m.1 94.1h0m.1-63.3h0m.1 3.4h0m.1-27.5h0m.1-22.4h0m.1 87.4h0m.1-75.9h0m.1 52.3h0m.1 51.1h0m0-38h0m.1-42.2h0m.1 32.7h0m.1-2.7h0m.1-49.4h0m.1 38h0m.1-84.8h0m.1-33.7h0m.1 86.8h0m.1-46.8h0m.1 43.5h0m.1 17.3h0m.1 18.9h0m.1 60.5h0m.1-108.2h0m0 18.1h0m.1-.3h0m.1-21.3h0m.1 165.4h0m.1-156.5h0m.1 21h0m.1 2.3h0m.1 101.6h0m.1-106.8h0m.1-17.9h0m.1 78h0m.1-73.9h0m.1-56.3h0m.1 126.2h0m.1-7.8h0m.1-92.1h0m0 7.3h0m.1 45.8h0m.1-35.4h0m.1-21.6h0m.1 12.5h0m.1 116.5h0m.1-27.8h0m.1-109.4h0m.1 56.9h0m.1 16.1h0m.1-19.2h0m.1 11.7h0m.1 69.9h0m.1-93.5h0m.1-5.3h0m0 26.3h0m.1-22.7h0m.1 9h0m.1.1h0m.1-21.9h0m.1 113.8h0m.1-100.8h0m.1 77.9h0m.1-106.5h0m.1 18.6h0m.1 45.7h0m.1-20.1h0m.1 62.2h0m.1-25.3h0m.1 64.6h0m0-207.1h0m.1 74.9h0m.1 39.3h0m.1-6.6h0m.1 3.6h0m.1 106.7h0m.1-190.9h0m.1 115.8h0m.1-35.8h0m.1 9.4h0m.1 66.7h0m.1-72.1h0m.1 36.3h0m.1 19.9h0m.1-3.9h0m0-120.8h0m.1 47.9h0m.1-58h0m.1 52.7h0m.1 23.3h0m.1 89.7h0m.1-107.5h0m.1 13.6h0m.1 5h0m.1 65.9h0m.1-81.2h0m.1 39.9h0m.1 32.4h0m.1-27.7h0m.1-146h0m.1 71.7h0m0 78.1h0m.1-96.7h0m.1 60.6h0m.1-88.5h0m.1 112.9h0m.1-17.6h0m.1-59.6h0m.1 51.3h0m.1-32.1h0m.1 19.9h0m.1 71.2h0m.1-38.2h0m.1 2.2h0m.1 47.1h0m.1-56.1h0m0 75.3h0m.1-57.4h0m.1-11.4h0m.1-24.8h0m.1-40.7h0m.1 14.6h0m.1 4h0m.1 56.9h0m.1-4.4h0m.1-71.1h0m.1 103.1h0m.1-72.7h0m.1 9.7h0m.1-38.3h0m.1 21h0m0 66.6h0m.1-9.2h0m.1-49.2h0m.1 72.6h0m.1-50.4h0m.1 5.6h0m.1 38h0m.1-23.1h0m.1-30.6h0m.1-28h0m.1 90.8h0m.1-140.9h0m.1 67.1h0m.1-43.5h0m.1 44.9h0m.1 55.4h0m0-45.6h0m.1-3.5h0m.1 14.6h0m.1 77.6h0m.1 6.5h0m.1-73.2h0m.1-33.5h0m.1 9.5h0m.1 33.8h0m.1-27.5h0m.1-.8h0m.1-30h0m.1-12.1h0m.1 10.2h0m.1 51.2h0m0-44.3h0m.1 163.7h0m.1-106.6h0m.1 3.9h0m.1 13.3h0m.1-77.9h0m.1-4.8h0m.1 36.3h0m.1 31.6h0m.1-1.3h0m.1 42h0m.1-9.1h0m.1-13h0m.1 3.6h0m.1-32.6h0m0 22.8h0m.1-42.8h0m.1-5.1h0m.1 52h0m.1-135.6h0m.1 153.6h0m.1 17.7h0m.1-88.7h0m.1 47.3h0m.1-21.8h0m.1-43.3h0m.1 51.4h0m.1 6.3h0m.1 18.4h0m.1-50.7h0m0 18h0m.1-28.3h0m.1 61.2h0m.1-41.7h0m.1 36.4h0m.1-58.1h0m.1 30.1h0m.1-38.4h0m.1-9.1h0m.1 85.1h0m.1-48.9h0m.1 3.6h0m.1 31.1h0m.1-58.2h0m.1 103.9h0m.1-102.5h0m0 14.5h0m.1 97h0m.1-146.9h0m.1 131.3h0m.1-51.8h0m.1 18.1h0m.1-72.4h0m.1 51.7h0m.1-59.8h0m.1 85.4h0m.1-47h0m.1-15.4h0m.1 6.2h0m.1 12.5h0m.1 42.5h0m0-22.9h0m.1-42.7h0m.1-4.1h0m.1-6h0m.1 87.8h0m.1-30.9h0m.1-60h0m.1-55h0m.1 94.5h0m.1-19.5h0m.1 41.5h0m.1-24.4h0m.1 18.6h0m.1 16.3h0m.1 33.1h0m0-75.9h0m.1 39.3h0m.1-48.5h0m.1-23.8h0m.1 53.8h0m.1 36.7h0m.1 8.2h0m.1-55.8h0m.1-62.4h0m.1 84.5h0m.1-27.8h0m.1 45.8h0m.1 2.6h0m.1-56.8h0m.1-10.3h0m.1 12.1h0m0-11h0m.1-11.8h0m.1 45.5h0m.1-35.7h0m.1 16.9h0m.1-1.8h0m.1-24.4h0m.1 59.6h0m.1-40.1h0m.1 14.2h0m.1 33.1h0m.1-35.4h0m.1-49.3h0m.1 36.9h0m.1 0h0m0 41.5h0m.1 38.8h0m.1-54.9h0m.1-16h0m.1 95.9h0m.1-113.5h0m.1 37.5h0m.1 16.9h0m.1-31.8h0m.1-8.1h0m.1 18.5h0m.1 50.4h0m.1-23.2h0m.1-56h0m.1 33.2h0m0 25.4h0m.1 30.8h0m.1-19h0m.1-40.5h0m.1 44.7h0m.1-18.6h0m.1-27.8h0m.1-30.4h0m.1 28.3h0m.1 32.5h0m.1-100.7h0m.1 4.9h0m.1 79.5h0m.1-77h0m.1 8.8h0m0 41.2h0m.1-1.3h0m.1 11.1h0m.1 7h0m.1 10.8h0m.1-23.8h0m.1-27.3h0m.1-75.5h0m.1 180.5h0m.1-44.2h0m.1 6.7h0m.1-37.3h0m.1-53.8h0m.1 82.2h0m.1-30.3h0m.1-48.7h0m0 90.2h0m.1-92.6h0m.1 37.5h0m.1 82.9h0m.1-97.2h0m.1 39.9h0m.1 30.8h0m.1-39.8h0m.1-53.6h0m.1 21.7h0m.1 29.8h0m.1-55h0m.1 111.2h0m.1-42.3h0m.1 29.2h0m0-27h0m.1.1h0m.1-38.1h0m.1-32.2h0m.1 81.5h0m.1-24.2h0m.1 91.9h0m.1-137.3h0m.1 51.8h0m.1 75.1h0m.1-133.7h0m.1 5.8h0m.1 53.8h0m.1 56h0m.1-109.9h0m0 47.6h0m.1-9.3h0m.1-14.2h0m.1 3.4h0m.1 64.4h0m.1-41.3h0m.1-55.5h0m.1 26.7h0m.1 27.2h0m.1-57.2h0m.1 27.1h0m.1 11h0m.1-64.9h0m.1 151.1h0m.1-132.5h0m.1 64.1h0m0-15.8h0m.1-26.3h0m.1 111.1h0m.1-68.9h0m.1-34.2h0m.1 76.7h0m.1-13.8h0m.1-70.5h0m.1-56.6h0m.1 130.1h0m.1-45h0m.1-44.7h0m.1 77.1h0m.1-76h0m.1 28.6h0m0-4.9h0m.1-44.4h0m.1 102.2h0m.1 105h0m.1-106.6h0m.1-2.3h0m.1-32h0m.1 7.3h0m.1 17h0m.1 9.7h0m.1-43h0m.1 21h0m.1-9.6h0m.1 29.8h0m.1 14.8h0m0 6.3h0m.1-59h0m.1-14.3h0m.1 58.2h0m.1-36.2h0m.1 2h0m.1 26.1h0m.1 4.3h0m.1 29.3h0m.1-126.7h0m.1 119.2h0m.1-72.8h0m.1 56h0m.1-75.6h0m.1 44.9h0m0-18.8h0m.1 91.9h0m.1-104.2h0m.1 80.3h0m.1-74.7h0m.1-11.9h0m.1 54.9h0m.1 28.9h0m.1-44.9h0m.1 40.5h0m.1-26.9h0m.1-11.2h0m.1 55.5h0m.1-52.9h0m.1 33.3h0m.1-77.7h0m0 32.4h0m.1 48.4h0m.1-53.8h0m.1-64.5h0m.1 111.2h0m.1-6.5h0m.1-33.1h0m.1 17.7h0m.1-19.4h0m.1 27.8h0m.1 53h0m.1-48.6h0m.1-22.4h0m.1-15.1h0m.1 12.6h0m0-24.7h0m.1 68.1h0m.1-77.7h0m.1 18.2h0m.1 35.9h0m.1-.5h0m.1-3.1h0m.1-25.8h0m.1 24h0m.1-62.4h0m.1-3.7h0m.1 9.3h0m.1 63.9h0m.1 38h0m.1-78.4h0m0 4.7h0m.1 10.3h0m.1 80.9h0m.1-61.1h0m.1-1.2h0m.1-40.7h0m.1 53.1h0m.1 31h0m.1-42.5h0m.1-38.2h0m.1 81.4h0m.1-51.1h0m.1 111.1h0m.1-150.6h0m.1 32.4h0m.1 18.3h0m0-116.7h0m.1 110.2h0m.1 19.9h0m.1-28.4h0m.1 32.8h0m.1-16.1h0m.1-44.2h0m.1 60h0m.1-56.5h0m.1 17.2h0m.1-16.7h0m.1 52.8h0m.1-42.6h0m.1-.2h0m.1-63.8h0m0 65.5h0m.1 78.1h0m.1-141.4h0m.1 93.9h0m.1-15.7h0m.1-64.8h0m.1 50.5h0m.1 52.3h0m.1-36.7h0m.1 13.8h0m.1 54.8h0m.1-80.4h0m.1 45.5h0m.1-80.7h0m.1-4.6h0m0 107.7h0m.1-3.5h0m.1-15.9h0m.1-92.9h0m.1 48.7h0m.1-25.1h0m.1 107.1h0m.1-124.4h0m.1 2.9h0m.1 26h0m.1 35.3h0m.1-34.6h0m.1 4.7h0m.1 29h0m.1-10.1h0m0-114.6h0m.1 65.8h0m.1 110.2h0m.1-60.4h0m.1 67.6h0m.1-13.6h0m.1-13.2h0m.1-36.9h0m.1 53.5h0m.1-75.6h0m.1 102.5h0m.1-62.4h0m.1.5h0m.1-37.2h0m.1-6.6h0m.1 12.5h0m0-10h0m.1-31h0m.1 10.1h0m.1 48.6h0m.1 38.1h0m.1 29.4h0m.1-45.2h0m.1-32.9h0m.1 44.3h0m.1 25h0m.1-59.5h0m.1 33.3h0m.1-23.3h0m.1-9.6h0m.1-36.3h0m0 58.7h0m.1-58.5h0m.1-6.5h0m.1 51.2h0m.1 24.1h0m.1-1.7h0m.1-3h0m.1-43.7h0m.1 6.8h0m.1 47.7h0m.1 79.2h0m.1-224.1h0m.1 148.5h0m.1-37.6h0m.1-10.4h0m0-26.1h0m.1 4.1h0m.1-21.8h0m.1 65h0m.1-75.8h0m.1 48.1h0m.1-48.7h0m.1 102.9h0m.1-19.5h0m.1-70.5h0m.1 62.2h0m.1-39.2h0m.1-11.5h0m.1 40h0m.1 25.6h0m.1 62.6h0m0-84.4h0m.1 34.7h0m.1-18.7h0m.1 0h0m.1 36.5h0m.1-114.4h0m.1 36.9h0m.1 72.8h0m.1-108.8h0m.1 1.9h0m.1 122.1h0m.1-111.7h0m.1 44.1h0m.1 5.6h0m.1-26.4h0m0 52h0m.1 19.3h0m.1-82h0m.1 94.3h0m.1-99h0m.1 14.4h0m.1 11.7h0m.1 13.2h0m.1-50.5h0m.1 58.8h0m.1-101.3h0m.1 65.7h0m.1-15.8h0m.1 7.4h0m.1 23.8h0m0 12.4h0m.1-38.2h0m.1 29.7h0m.1-59.1h0m.1 43.5h0m.1 50.6h0m.1-62.6h0m.1 6.8h0m.1 18.9h0m.1 32.2h0m.1-16.9h0m.1-20.7h0m.1-32.1h0m.1 48h0m.1-120.5h0m0 127.6h0m.1-45.2h0m.1 53.9h0m.1-27.2h0m.1 54.7h0m.1-76.8h0m.1-51.7h0m.1 77.6h0m.1-19.8h0m.1 15.3h0m.1 49.7h0m.1-80.7h0m.1 61.1h0m.1 8.4h0m.1 7.2h0m.1-118.6h0m0 83.2h0m.1-32.5h0m.1 17.9h0m.1-22.4h0m.1 19.1h0m.1 49.2h0m.1 30.3h0m.1-39.4h0m.1-74.6h0m.1 96.3h0m.1-96.3h0m.1 23.6h0m.1 68.6h0m.1-66.7h0m.1 50.9h0m0-38.1h0m.1-34.4h0m.1 53.3h0m.1-42.6h0m.1 143.3h0m.1-36.9h0m.1-10.3h0m.1-125.6h0m.1 182.2h0m.1-105.1h0m.1 7.8h0m.1-12h0m.1-28.9h0m.1 26.6h0m.1 29.6h0m0 26.3h0m.1-38.2h0m.1-22.1h0m.1-18.7h0m.1-1.8h0m.1 84.5h0m.1-36.6h0m.1-17.8h0m.1-73.6h0m.1-4.7h0m.1 96.2h0m.1-1.7h0m.1 44.8h0m.1-61.6h0m.1-33.5h0m.1-82.9h0m0 72.7h0m.1-55.1h0m.1 103.3h0m.1 7h0m.1 35.8h0m.1-170.8h0m.1 60.6h0m.1 80.4h0m.1-11.2h0m.1-92.5h0m.1 51.5h0m.1 32h0m.1-19.2h0m.1 38.1h0m.1-21.2h0m0-23.5h0m.1 37.5h0m.1-18.2h0m.1 49.4h0m.1-103.8h0m.1 48.5h0m.1-17.7h0m.1 17.4h0m.1 26h0m.1 9.7h0m.1-111.1h0m.1 131.9h0m.1-24.7h0m.1-.4h0m.1-18.1h0m0 35.3h0m.1-21.3h0m.1-88.4h0m.1 45.4h0m.1 16.6h0m.1-4.4h0m.1-3.3h0m.1 56h0m.1-110.8h0m.1 43h0m.1-9.7h0m.1 38.8h0m.1 19h0m.1-54h0m.1 52.2h0m0-52h0m.1 93.3h0m.1-146.9h0m.1 89.7h0m.1 47h0m.1-60.9h0m.1-29.8h0m.1 9.7h0m.1 57.6h0m.1-44.2h0m.1 64.9h0m.1-40.5h0m.1-24.3h0m.1 4.8h0m.1 37.2h0m.1 22.1h0m0-73.7h0m.1-44.9h0m.1 30.5h0m.1 66.8h0m.1 54.9h0m.1-94.9h0m.1 48.7h0m.1-43.3h0m.1 53.9h0m.1-97.8h0m.1 84.7h0m.1-77.2h0m.1 18.7h0m.1 48.2h0m.1-23.2h0m0 7.1h0m.1 24.3h0m.1-13.2h0m.1 52.9h0m.1-29.9h0m.1-65.5h0m.1 32.1h0m.1-19.5h0m.1 6.1h0m.1 89.5h0m.1-124.3h0m.1 103.8h0m.1 9.7h0m.1 50.3h0m.1-111.2h0m0 10.4h0m.1 1.8h0m.1-27.1h0m.1 87.9h0m.1 7.8h0m.1-174.5h0m.1 81.2h0m.1 91.2h0m.1-120.4h0m.1 14h0m.1 29.9h0m.1-1.8h0m.1-6.9h0m.1 1.8h0m.1 124.9h0m.1-214.6h0m0 74.8h0m.1-26.2h0m.1 57.1h0m.1-39.7h0m.1 50h0m.1-19.8h0m.1 137h0m.1-191.3h0m.1 34.6h0m.1 56.5h0m.1-52h0m.1 22.2h0m.1-69.9h0m.1 93.4h0m.1-34.9h0m0 42.2h0m.1-98.7h0m.1 39.1h0m.1-12.9h0m.1 105.1h0m.1-142.3h0m.1 100.8h0m.1-16.8h0m.1 42.5h0m.1-41.3h0m.1-54.7h0m.1 64.6h0m.1-93.7h0m.1 116.6h0m.1-52.5h0m0-22.7h0m.1 10.3h0m.1 45.6h0m.1-94.7h0m.1 142.1h0m.1-101.3h0m.1 93.8h0m.1-56.7h0m.1 73.8h0m.1-132h0m.1 88.4h0m.1-39.5h0m.1-24h0m.1 62.3h0m.1-45.3h0m0-21.1h0m.1 22h0m.1-23.6h0m.1 16.6h0m.1 14.7h0m.1 47.7h0m.1-49.6h0m.1-28.7h0m.1 82.9h0m.1-65.5h0m.1-51.7h0m.1 16.1h0m.1 126.3h0m.1-79.4h0m.1 73.4h0m.1-110.3h0m0-3.3h0m.1 118.5h0m.1-92.1h0m.1 4.5h0m.1 5h0m.1-34.2h0m.1 87.7h0m.1-95.3h0m.1 84.5h0m.1-78.4h0m.1 158.2h0m.1-81.1h0m.1 16.8h0m.1-120.1h0m.1 87.9h0m0-60.1h0m.1 7.9h0m.1 1.3h0m.1 71.9h0m.1-33.6h0m.1-23.1h0m.1-4.4h0m.1-1.6h0m.1 4.6h0m.1 11.3h0m.1-37.3h0m.1 10.4h0m.1-56.5h0m.1 94.5h0m.1 26.4h0m0-60.5h0m.1 95.9h0m.1-114.4h0m.1 56.3h0m.1 48.8h0m.1-39.3h0m.1-44.8h0m.1 50h0m.1-32.7h0m.1 65.9h0m.1-14.9h0m.1-42.7h0m.1 32.6h0m.1 52.6h0m.1-26h0m.1-11.5h0m0-45.2h0m.1-34.1h0m.1-11.4h0m.1 98.7h0m.1-91.5h0m.1 64.8h0m.1 52.1h0m.1-138.8h0m.1 84.9h0m.1-58.6h0m.1 37.9h0m.1 28.4h0m.1-65.7h0m.1-14.3h0m.1 40.1h0m0 27h0m.1-26.3h0m.1-24.5h0m.1 88.6h0m.1-95.7h0m.1-13.8h0m.1 67.9h0m.1 90h0m.1-116.5h0m.1 18.4h0m.1-69.2h0m.1 29.2h0m.1-36.7h0m.1 93.3h0m.1-41.9h0m0-4.8h0m.1 76.1h0m.1-145.1h0m.1 145.3h0m.1-49h0m.1-57.9h0m.1 65.1h0m.1-10.8h0m.1 26.3h0m.1-23.4h0m.1 93.2h0m.1-9.8h0m.1-23.6h0m.1-103.1h0m.1 38.3h0m0 68.4h0m.1-26h0m.1-25.5h0m.1-4.5h0m.1 50.5h0m.1-131.4h0m.1 46.6h0m.1-23h0m.1 113.3h0m.1-151h0m.1 87.8h0m.1 108.1h0m.1-118.2h0m.1 35.5h0m.1-11.2h0m.1 29.3h0m0 68.4h0m.1-151.3h0m.1 50.5h0m.1 76.9h0m.1 32.6h0m.1-116.5h0m.1 72.4h0m.1-32h0m.1-1.7h0m.1-92.4h0m.1-9.3h0m.1 79.9h0m.1-11.7h0m.1 1.2h0m.1-48.9h0m0 119.1h0m.1-73.7h0m.1 131.6h0m.1-133.5h0m.1 27.6h0m.1 17.5h0m.1-49.9h0m.1-29.8h0m.1 4.1h0m.1 42.5h0m.1-23.4h0m.1 167.8h0m.1-183h0m.1 73.9h0m.1 1.9h0m0-28.4h0m.1-57.4h0m.1 72.6h0m.1 20h0m.1-35.3h0m.1-6.7h0m.1-150.1h0m.1 99.2h0m.1 41.7h0m.1 17.3h0m.1 46.4h0m.1-68.9h0m.1 22.1h0m.1-55.2h0m.1 93.4h0m.1-12.6h0m0-38.5h0m.1 50h0m.1-58.4h0m.1-8.7h0m.1.9h0m.1 169.3h0m.1-222.1h0m.1 84.1h0m.1-25.3h0m.1 24.4h0m.1-76.4h0m.1 102.7h0m.1 14.9h0m.1-61h0m.1-7.6h0m0 23.1h0m.1 41.7h0m.1-115.7h0m.1 176.2h0m.1-119.2h0m.1 77.4h0m.1-101.2h0m.1 130.6h0m.1-71h0m.1 113.1h0m.1-161.8h0m.1-1.2h0m.1 83.5h0m.1-19.6h0m.1-16.9h0m0 42.3h0m.1-38h0m.1-35.9h0m.1-73.1h0m.1-18.7h0m.1 138.7h0m.1-3.5h0m.1-69.4h0m.1 68.4h0m.1-35.3h0m.1 14.1h0m.1 70.7h0m.1-193h0m.1 135.4h0m.1 24.4h0m0-54.1h0m.1 21.1h0m.1-62.2h0m.1 61.8h0m.1 23h0m.1 7h0m.1-88.6h0m.1 90.2h0m.1-23.9h0m.1 17.5h0m.1-33.7h0m.1 32.2h0m.1-20.7h0m.1 107.2h0m.1-131.2h0m.1 69.2h0m0-55.7h0m.1-70.8h0m.1 94.8h0m.1 36.2h0m.1-22.5h0m.1 1.5h0m.1-99.4h0m.1 76.4h0m.1-120.5h0m.1 192.1h0m.1-10.9h0m.1-125.6h0m.1 31.5h0m.1-40.9h0m.1 23.6h0m0 15h0m.1-35.6h0m.1 22.3h0m.1 66.2h0m.1-45.1h0m.1 49.2h0m.1-43.4h0m.1 13.3h0m.1-67h0m.1 107.7h0m.1-101.4h0m.1 38.2h0m.1-45.4h0m.1 104h0m.1-92.3h0m0 79.9h0m.1 67.3h0m.1-78.3h0m.1-179.9h0m.1 212.2h0m.1-40.2h0m.1 41.3h0m.1-15.6h0m.1 23.8h0m.1-7h0m.1-53.2h0m.1-58.8h0m.1 57.7h0m.1 42.7h0m.1-131.1h0m.1 100.5h0m0-97.3h0m.1 146h0m.1 36.9h0m.1-48.6h0m.1-64.9h0m.1 60.9h0m.1 27.5h0m.1 17.3h0m.1-12.6h0m.1-16.3h0m.1-104.3h0m.1 44.6h0m.1 28.9h0m.1-21.3h0m.1-157.9h0m0 147h0m.1-27.1h0m.1 46.4h0m.1 19.2h0m.1-102.3h0m.1 34.4h0m.1 46.4h0m.1-61.1h0m.1 51.3h0m.1-40.9h0m.1 6.8h0m.1 108.8h0m.1-79.6h0m.1-36.8h0m.1 121.5h0m0-93.9h0m.1 14.5h0m.1 2.5h0m.1 153.5h0m.1-121.9h0m.1 11.8h0m.1-62.7h0m.1 62.1h0m.1 14.6h0m.1-117.5h0m.1 82.3h0m.1 62.3h0m.1 9.1h0m.1-80.5h0m.1 106h0m0-153.3h0m.1 89.1h0m.1-26h0m.1-112.2h0m.1 136.9h0m.1-117.6h0m.1 32.2h0m.1 28.9h0m.1-57.1h0m.1 122.9h0m.1-83.9h0m.1-40.8h0m.1 77.7h0m.1-11.9h0m.1-89.5h0m.1 60.1h0m0 74.8h0m.1-3.4h0m.1-125h0m.1 165.5h0m.1-32h0m.1 9.2h0m.1-84.6h0m.1-15.1h0m.1 35.2h0m.1-28.9h0m.1 20.9h0m.1-18h0m.1 16.6h0m.1-10.8h0m.1 27.8h0m0 6.8h0m.1-22h0m.1-15.1h0m.1 113h0m.1-35.1h0m.1-23.2h0m.1-71.8h0m.1 79.4h0m.1-41.5h0m.1 39.9h0m.1-19.1h0m.1 120.9h0m.1-132h0m.1-54.3h0m.1 110.6h0m0 3.7h0m.1 10.1h0m.1-209.3h0m.1 88.6h0m.1 6.3h0m.1-43.9h0m.1 93.7h0m.1 28.2h0m.1 22.3h0m.1-8.8h0m.1-45h0m.1 79.1h0m.1-69.4h0m.1-163.3h0m.1 123.4h0m.1-14.3h0m0 58.3h0m.1-40.9h0m.1 5.1h0m.1 135.6h0m.1-159.1h0m.1-33h0m.1 94.5h0m.1 13.6h0m.1-40.9h0m.1 5.8h0m.1-31.5h0m.1-39.5h0m.1 30.3h0m.1-51.6h0m.1 158.6h0m0-80h0m.1 89.9h0m.1-83.4h0m.1-41.9h0m.1 59.5h0m.1 6.4h0m.1 55.4h0m.1-181.3h0m.1 86.8h0m.1 44.8h0m.1-62.5h0m.1 47.3h0m.1-32.6h0m.1 149.3h0m.1-54.6h0m0-179.6h0m.1 28.1h0m.1 40.6h0m.1 39.4h0m.1-10.6h0m.1-30.7h0m.1 78.3h0m.1 14.6h0m.1-41.7h0m.1-21.2h0m.1 18.8h0m.1-47.5h0m.1 89.9h0m.1.6h0m.1-95.3h0m0 129.3h0m.1-81.4h0m.1 47.5h0m.1-44.7h0m.1-9.5h0m.1 48.5h0m.1-91.4h0m.1 39.7h0m.1-51.2h0m.1 91.5h0m.1-39h0m.1-4.8h0m.1-11.1h0m.1 63.6h0m.1-12.2h0m.1-34.4h0m0-13h0m.1 121.9h0m.1-15.3h0m.1-141.9h0m.1 126.4h0m.1-36.7h0m.1-11.7h0m.1 6.6h0m.1-96.9h0m.1 250.5h0m.1-65.1h0m.1-108.7h0m.1-1.4h0m.1 7.7h0m.1-44.3h0m0 83h0m.1-48.7h0m.1-56.2h0m.1 31.5h0m.1-8.6h0m.1-18h0m.1 34.8h0m.1 52.1h0m.1-56.5h0m.1-65h0m.1 165.5h0m.1-109.4h0m.1 109.8h0m.1-57.8h0m.1 9.6h0m0-75h0m.1 50.8h0m.1-25.6h0m.1 17.5h0m.1 28.9h0m.1-46.4h0m.1 66h0m.1-121.2h0m.1 18.5h0m.1 81.6h0m.1 5.1h0m.1 29.7h0m.1 29.7h0m.1-62.8h0m.1 16.9h0m.1-26.8h0m0-.9h0m.1-17.5h0m.1 11.7h0m.1-36.2h0m.1 22.1h0m.1 51.4h0m.1-15.9h0m.1 35.1h0m.1-87h0m.1 6.2h0m.1 42.6h0m.1-69.2h0m.1-2.1h0m.1 81.6h0m.1-49.6h0m0 62.7h0m.1-41.6h0m.1-28.3h0m.1-32.7h0m.1 120.5h0m.1-68.7h0m.1-43.5h0m.1-33h0m.1 13.6h0m.1 45.2h0m.1 88.2h0m.1-147h0m.1 96.1h0m.1 1.4h0m.1-189.7h0m0 103.8h0m.1 112.1h0m.1-154.1h0m.1 170.9h0m.1-60.1h0m.1-148.3h0m.1 248.1h0m.1-107.2h0m.1 92h0m.1-73.8h0m.1-51.7h0m.1 101.2h0m.1 36.3h0m.1-27.8h0m.1-132.8h0m0 97.8h0m.1-96.9h0m.1 31.2h0m.1 105.2h0m.1-149.8h0m.1 211.9h0m.1-218.1h0m.1 13.2h0m.1 111.1h0m.1-51.7h0m.1-4.8h0m.1-34.3h0m.1 110.5h0m.1-47.7h0m.1-16.6h0m.1-39.3h0m0-37.2h0m.1 80.8h0m.1-169.3h0m.1 134.6h0m.1 69.6h0m.1 3.4h0m.1-59.4h0m.1-147.6h0m.1 200h0m.1 18.2h0m.1-44.7h0m.1 66.6h0m.1-13.5h0m.1-146.5h0m.1 78.7h0m0-14.1h0m.1 111.9h0m.1-26.6h0m.1-52.1h0m.1 40.1h0m.1 2.1h0m.1-86.2h0m.1 28.7h0m.1 4.7h0m.1-17.5h0m.1 5.2h0m.1 30.5h0m.1-82.9h0m.1 7.9h0m.1 105.1h0m0 40.5h0m.1 18.9h0m.1-197.2h0m.1 116.1h0m.1-65.9h0m.1 16.3h0m.1 17.2h0m.1 33.9h0m.1 23.7h0m.1-215.1h0m.1 113.9h0m.1 115h0m.1-51.5h0m.1-95.1h0m.1 34.5h0m.1 9.8h0m0 98.5h0m.1 40.7h0m.1-155h0m.1 87.4h0m.1-43.3h0m.1 46.8h0m.1-43.8h0m.1-48.3h0m.1 25.7h0m.1-25.9h0m.1 140.5h0m.1-120.2h0m.1 71.3h0m.1-75.9h0m.1-16.9h0m0 78h0m.1-46.2h0m.1 137.8h0m.1 3.4h0m.1-171.4h0m.1 89.5h0m.1 54.1h0m.1-191.3h0m.1 69.7h0m.1 120.5h0m.1-125.4h0m.1 79.4h0m.1-38.5h0m.1 14.1h0m.1-66.1h0m0 52.7h0m.1-38.5h0m.1 138.2h0m.1-60.7h0m.1-28.7h0m.1-7h0m.1 38.5h0m.1-124.5h0m.1 32.5h0m.1 4.7h0m.1 6.5h0m.1-46h0m.1 117.8h0m.1-53.8h0m.1 94.2h0m0-74.8h0m.1-13.6h0m.1 44.3h0m.1-.2h0m.1-39.3h0m.1 47.3h0m.1 37.1h0m.1-93h0m.1 95.2h0m.1-92.3h0m.1 69.2h0m.1-49.6h0m.1-18.4h0m.1 37.4h0m.1-77.4h0m.1-83.4h0m0 142.5h0m.1-23.9h0m.1-76.5h0m.1 218.6h0m.1-93.2h0m.1-61.8h0m.1 67.8h0m.1 14.4h0m.1-63.7h0m.1 8.3h0m.1-88.4h0m.1 114h0m.1 90.9h0m.1-40.3h0m.1 23.7h0m0-142.3h0m.1-2.8h0m.1 107.5h0m.1-32h0m.1-27h0m.1-6.3h0m.1 68.9h0m.1-17h0m.1-60.1h0m.1 19.5h0m.1-85.1h0m.1 27h0m.1 95.8h0m.1-56.3h0m.1-22.2h0m0 66.6h0m.1 50.4h0m.1-115.3h0m.1 28.4h0m.1 3.8h0m.1 201.3h0m.1-102.2h0m.1-70h0m.1-92.9h0m.1 120.2h0m.1-10.3h0m.1-53.5h0m.1-19h0m.1 16.6h0m.1-66.1h0m.1 69.7h0m0-3.9h0m.1-24.6h0m.1 32.3h0m.1-69.2h0m.1 149.4h0m.1-71.1h0m.1-56.3h0m.1 107.6h0m.1-11.6h0m.1-58.3h0m.1-45.1h0m.1 69.2h0m.1 29.4h0m.1 9.7h0m.1 15.6h0m0-3.7h0m.1-128.6h0m.1 88.2h0m.1-110h0m.1 157h0m.1-31h0m.1 30.3h0m.1-54.6h0m.1 1.8h0m.1-29.8h0m.1-123.7h0m.1 142.9h0m.1 153.8h0m.1-71.4h0m.1-83.2h0m0 30.5h0m.1 6.8h0m.1-56.9h0m.1 32.3h0m.1 25.4h0m.1-52.7h0m.1 53.2h0m.1 43.1h0m.1-22h0m.1-26.6h0m.1-28.7h0m.1 49.9h0m.1-69.9h0m.1-5.5h0m.1 144h0m0-128.9h0m.1-54.6h0m.1 122.7h0m.1 12.2h0m.1 3.4h0m.1-68h0m.1 69.5h0m.1-79.7h0m.1-40h0m.1 46.4h0m.1 24.2h0m.1-115.2h0m.1 91.3h0m.1 28.3h0m.1-41.5h0m.1 28.3h0m0-11h0m.1-38.1h0m.1 63.8h0m.1 13.5h0m.1-143.8h0m.1 74.3h0m.1 83.6h0m.1-20.4h0m.1-130.5h0m.1 118.9h0m.1 65.2h0m.1-3h0m.1-31.7h0m.1-48.7h0m.1 10.5h0m0-68.1h0m.1 65.2h0m.1 128h0m.1-129.8h0m.1-83.6h0m.1 114.5h0m.1-143h0m.1 241.1h0m.1-73.9h0m.1-67.8h0m.1-5.5h0m.1-62.9h0m.1 90.2h0m.1-4.2h0m.1-89h0m0 143h0m.1-75.8h0m.1-40.9h0m.1 113.8h0m.1 12.7h0m.1-97.1h0m.1-4.4h0m.1 133.2h0m.1-118.6h0m.1 33.8h0m.1 65.6h0m.1-144.7h0m.1-16.4h0m.1 37.1h0m.1 15.2h0m.1 34.3h0m0 53.5h0m.1-78.8h0m.1 119.3h0m.1-82.7h0m.1-123.4h0m.1 109.4h0m.1 42.4h0m.1 21.9h0m.1-126.7h0m.1 59.2h0m.1 131.4h0m.1-116.9h0m.1-60.1h0m.1-33.7h0m.1 61.1h0m0 45.5h0m.1-82.9h0m.1 138.8h0m.1-144.4h0m.1-104h0m.1 230.5h0m.1-56.1h0m.1-14.9h0m.1 85.1h0m.1-105.7h0m.1 73.7h0m.1-87.7h0m.1 140.5h0m.1-91.9h0m.1 2.2h0m0 31.2h0m.1-40.5h0m.1 32.8h0m.1-38.8h0m.1 69.7h0m.1-50.2h0m.1-36.5h0m.1 62.8h0m.1-5.4h0m.1-86.6h0m.1 43.2h0m.1-77.7h0m.1 100.7h0m.1 41.3h0m.1 138.6h0m0-169.5h0m.1 43h0m.1 24.1h0m.1-41.9h0m.1-208.9h0m.1 141.6h0m.1 57.6h0m.1-14.4h0m.1-9.9h0m.1-57.6h0m.1-117.5h0m.1 189.5h0m.1 44.3h0m.1-92.3h0m.1 58.3h0m.1-61.3h0m0 22.1h0m.1-24.5h0m.1 79.2h0m.1-98.4h0m.1 60.1h0m.1 43.1h0m.1-52.3h0m.1-68.1h0m.1 91.2h0m.1-32.1h0m.1-62.5h0m.1 62.5h0m.1-6.3h0m.1 51.1h0m.1-61.8h0m0 32.8h0m.1 28.7h0m.1-141.5h0m.1 196.4h0m.1-88.1h0m.1-57.2h0m.1 63.8h0m.1 86.3h0m.1-132.5h0m.1 7.6h0m.1 108.3h0m.1 11.3h0m.1 23.8h0m.1-109.7h0m.1-55.7h0m0-.5h0m.1 35.6h0m.1-37.7h0m.1 80.7h0m.1 46.9h0m.1-131.5h0m.1 143.7h0m.1-164.7h0m.1 42.1h0m.1-38.6h0m.1 119.1h0m.1-46h0m.1 6.3h0m.1-165.2h0m.1 130.2h0m.1 50.8h0m0-172.9h0m.1 333.5h0m.1-159.5h0m.1 43.9h0m.1-79h0m.1 100.8h0m.1-10.5h0m.1 114.2h0m.1-245.2h0m.1 177.3h0m.1-178.8h0m.1 77.5h0m.1-37.9h0m.1 12.6h0m.1-99.8h0m0 93.5h0m.1-90.2h0m.1 91h0m.1 31.1h0m.1-11.2h0m.1-9.2h0m.1 85.1h0m.1-60h0m.1 15.3h0m.1 42.4h0m.1-79.9h0m.1 9.8h0m.1 57.9h0m.1-79h0m.1 86.5h0m0-107.2h0m.1 23.9h0m.1 4.1h0m.1-10.1h0m.1 17.3h0m.1-26.4h0m.1-108.6h0m.1 201.3h0m.1-90.5h0m.1 66.5h0m.1-103.3h0m.1 94.6h0m.1-149.1h0m.1 198.6h0m.1-90.8h0m0-17.8h0m.1-138.2h0m.1 33.5h0m.1 100.6h0m.1-7.9h0m.1.3h0m.1 6h0m.1 84.2h0m.1-78.2h0m.1-13.3h0m.1-6.8h0m.1-18.5h0m.1 82.5h0m.1-45.6h0m.1 2.8h0m.1 38.4h0m0-13.4h0m.1 41.8h0m.1-2.5h0m.1-116.4h0m.1 28.8h0m.1 100.5h0m.1-89.8h0m.1 70.9h0m.1-86.6h0m.1-89.1h0m.1 13.6h0m.1 86.4h0m.1 15.2h0m.1 159.9h0m.1-91.7h0m0 22.4h0m.1-12.2h0m.1-144.8h0m.1 95.8h0m.1-9.3h0m.1 119.5h0m.1-153.4h0m.1-92.8h0m.1 137.7h0m.1-15h0m.1 16.7h0m.1 8.1h0m.1-4.2h0m.1-45.6h0m.1-1.9h0m0 172.4h0m.1-169.3h0m.1 65.4h0m.1-86.9h0m.1-41.2h0m.1 151.5h0m.1-40.1h0m.1 114.9h0m.1-64h0m.1-46h0m.1-79.3h0m.1 177.7h0m.1-100.1h0m.1 113.8h0m.1-82.7h0m.1 12.9h0m0 11.5h0m.1-36.4h0m.1-38.1h0m.1 147.9h0m.1-186.8h0m.1-36.1h0m.1 123.4h0m.1-73.1h0m.1 94.8h0m.1-67.1h0m.1 128h0m.1-111.8h0m.1-50.9h0m.1 26.3h0m.1 59.4h0m0-76.4h0m.1-12.7h0m.1 38.9h0m.1 27.6h0m.1 103.7h0m.1-74.9h0m.1 2.9h0m.1-61.1h0m.1 118.5h0m.1 19.9h0m.1-165.3h0m.1 52.1h0m.1-21.4h0m.1 25.9h0m.1-36.6h0m0-22.9h0m.1-34.9h0m.1 46.1h0m.1 30.4h0m.1 59.6h0m.1-27.4h0m.1-57.4h0m.1-14.3h0m.1-95.5h0m.1 174h0m.1-24.7h0m.1 20h0m.1 41.8h0m.1-45.3h0m.1-38h0m0-11.3h0m.1-41.7h0m.1 21.1h0m.1 62.3h0m.1 107.5h0m.1-156.6h0m.1 37.5h0m.1 172.4h0m.1-180.7h0m.1-32.3h0m.1 27h0m.1-15.4h0m.1-99.9h0m.1 162.9h0m.1-154.6h0m.1 71.2h0m0 7.4h0m.1 70.7h0m.1-59.1h0m.1-15.9h0m.1-23.4h0m.1 64.7h0m.1-34.7h0m.1-23h0m.1-37.2h0m.1-2.1h0m.1 89.4h0m.1-102.2h0m.1 106.1h0m.1-8.3h0m.1 62.9h0m0-109.4h0m.1-52.9h0m.1 87.1h0m.1-17.4h0m.1-173.7h0m.1 308.8h0m.1-98.4h0m.1-6.1h0m.1-87h0m.1 100.4h0m.1-38.8h0m.1 112h0m.1-53.2h0m.1 93.3h0m.1-208.3h0m0 21h0m.1 27.5h0m.1-11.9h0m.1 133.2h0m.1-74.3h0m.1-86.1h0m.1 48.3h0m.1 126.1h0m.1-128.2h0m.1 76.1h0m.1-224.2h0m.1 111.3h0m.1 45.8h0m.1-5.9h0m.1 15.4h0m.1 21.1h0m0 48.1h0m.1-238.9h0m.1 173.4h0m.1 39h0m.1-28.5h0m.1 55.1h0m.1-76.8h0m.1-18.3h0m.1-23.7h0m.1 104.9h0m.1-132.8h0m.1 34.5h0m.1 40.6h0m.1 60.6h0m.1-88.1h0m0-27.1h0m.1 92.3h0m.1-148.3h0m.1 39.9h0m.1-49.2h0m.1 132.2h0m.1-2.5h0m.1-114.6h0m.1 91.9h0m.1 47.6h0m.1-74.8h0m.1-61h0m.1 88.8h0m.1 68.6h0m.1-169.4h0m0 165.2h0m.1-56.1h0m.1 90.4h0m.1-149.6h0m.1 120.3h0m.1-37.5h0m.1 53.7h0m.1-68.5h0m.1 55.7h0m.1-70.3h0m.1-16.2h0m.1-36.4h0m.1-32.3h0m.1 99.8h0m.1-25h0m0 14.3h0m.1-10.9h0m.1 38.5h0m.1-18.2h0m.1-39.1h0m.1 107h0m.1 58.9h0m.1-183.1h0m.1 27.1h0m.1 60.9h0m.1-78.2h0m.1 142.2h0m.1-139.1h0m.1-78.6h0m.1 25.4h0m.1 160.6h0m0-189h0m.1 132.3h0m.1-208.8h0m.1 247.2h0m.1-20.4h0m.1 16.7h0m.1 166.7h0m.1-210.2h0m.1 119.5h0m.1-76.9h0m.1 28.7h0m.1-137.1h0m.1 143h0m.1-88.1h0m.1 111.9h0m0-32.4h0m.1-53.6h0m.1 59.1h0m.1-4.6h0m.1-42.5h0m.1 184.9h0m.1-249.9h0m.1-32.8h0m.1 2.6h0m.1 67.4h0m.1 12.8h0m.1 45.7h0m.1 19.3h0m.1-45.7h0m.1-5.9h0m0-67.3h0m.1 121.2h0m.1 81.6h0m.1-151h0m.1 52.4h0m.1-84.3h0m.1 38.4h0m.1 7.9h0m.1 47.7h0m.1-145h0m.1 95.1h0m.1 52.1h0m.1-34.6h0m.1 20.1h0m.1-198.6h0m.1 102.1h0m0 27.1h0m.1-21.6h0m.1-100h0m.1 214.2h0m.1-51.7h0m.1-138.5h0m.1 77.3h0m.1 46.8h0m.1 58h0m.1-18.6h0m.1-106.4h0m.1 22.4h0m.1 55.7h0m.1 47.9h0m.1-90.7h0m0-12h0m.1 76.6h0m.1-27.9h0m.1 77.9h0m.1-56.2h0m.1 32.7h0m.1-188.6h0m.1 38.4h0m.1-11.2h0m.1 53.4h0m.1 65.7h0m.1-49h0m.1 58.6h0m.1-80.8h0m.1 110.5h0m0-8.1h0m.1-165.2h0m.1 1.8h0m.1 68.8h0m.1 92h0m.1 27.8h0m.1 34.6h0m.1-212.1h0m.1 110.6h0m.1-15.2h0m.1-17.1h0m.1 9h0m.1-124.7h0m.1 152.1h0m.1-46.2h0m0-54h0m.1 172.2h0m.1-136h0m.1 59.8h0m.1-59.9h0m.1-55.6h0m.1 51.5h0m.1 69.2h0m.1-85.5h0m.1 97.9h0m.1 143.4h0m.1-98.4h0m.1-97.1h0m.1-31.1h0m.1 111.4h0m.1-150h0m0 23.2h0m.1 247.8h0m.1-139.2h0m.1-7.5h0m.1-50.4h0m.1 230.2h0m.1-5.8h0m.1-213.5h0m.1 64.5h0m.1-72.4h0m.1 49.2h0m.1 57.8h0m.1-3.1h0m.1-99.4h0m.1 42.5h0m0 181.1h0m.1-101.7h0m.1-10.4h0m.1-56.3h0m.1-44h0m.1-65.5h0m.1 7.7h0m.1-107h0m.1 99.4h0m.1 13.8h0m.1 106h0m.1-157.8h0m.1 137.3h0m.1-157.5h0m.1 337h0m0-264.2h0m.1 67.1h0m.1 106.1h0m.1-128.9h0m.1 27.3h0m.1-4.8h0m.1 27.4h0m.1-70.1h0m.1 149.3h0m.1-40.2h0m.1-66.3h0m.1 71.7h0m.1-87.9h0m.1-28.1h0m.1 27.9h0m.1 38.1h0m0-191h0m.1 138.4h0m.1 51.4h0m.1-103.1h0m.1 94.9h0m.1-95.4h0m.1 86.5h0m.1-18.2h0m.1 27.7h0m.1-71.7h0m.1-82.8h0m.1-41.6h0m.1 381.8h0m.1-307.2h0m.1 39.6h0m0-52.6h0m.1 202.8h0m.1-13h0m.1-22.5h0m.1-133.1h0m.1 144h0m.1-118.9h0m.1 133.6h0m.1-88.6h0m.1-148.2h0m.1 146.4h0m.1-51.6h0m.1 220.4h0m.1-301.9h0m.1 119.7h0m0 .9h0m.1-37.7h0m.1-20.5h0m.1 72.9h0m.1 26.9h0m.1-52.1h0m.1 10.4h0m.1 18h0m.1-63.9h0m.1 47.6h0m.1 18.1h0m.1 66.5h0m.1 5h0m.1-40.6h0m.1 28.1h0m0-113.6h0m.1 127.7h0m.1-100.6h0m.1 15h0m.1-17.8h0m.1 71.3h0m.1-87h0m.1 81.7h0m.1-76.1h0m.1 3.3h0m.1 59.8h0m.1-83.6h0m.1 136.4h0m.1-127.3h0m.1 15.6h0m.1 111.4h0m0-237.8h0m.1 253.1h0m.1-91h0m.1 1.5h0m.1 6.9h0m.1-73.7h0m.1 170h0m.1-73.8h0m.1 7.6h0m.1 41.6h0m.1-20.9h0m.1-43.8h0m.1-83.1h0m.1-75.7h0m.1-7.8h0m0 115.3h0m.1 96.2h0m.1-152.8h0m.1 63.1h0m.1 62.5h0m.1-62.3h0m.1 4.9h0m.1-53.7h0m.1 86.1h0m.1-54.2h0m.1-7.8h0m.1 19.5h0m.1 51h0m.1 75.6h0m.1-176.5h0m0 108.8h0m.1-105.6h0m.1-50.3h0m.1 79.2h0m.1 47.8h0m.1-7.4h0m.1 28.3h0m.1-158.3h0m.1 225.7h0m.1-37.5h0m.1-10.4h0m.1-149.3h0m.1 151h0m.1-78.7h0m.1 1.2h0m.1 33.1h0m0-171.9h0m.1 242.6h0m.1-4h0m.1 15.2h0m.1 10.3h0m.1-204.1h0m.1 92.3h0m.1-2.8h0m.1-110.5h0m.1 217h0m.1 133.7h0m.1-286.5h0m.1 107.3h0m.1-32.6h0m.1 5.2h0m0-3.2h0m.1 38.4h0m.1-86.2h0m.1 14.9h0m.1 135.2h0m.1-107.9h0m.1-1.3h0m.1-114.6h0m.1 145.9h0m.1 9.4h0m.1-22.5h0m.1 85.3h0m.1-233.4h0m.1 188.4h0m.1-165.4h0m0 37.6h0m.1-61.9h0m.1 184h0m14.1 21.7h0m.1-60h0m.1-25.7h0m.1-19.9h0m.1-74h0m.1 132.3h0m.1-53.7h0m.1 40.2h0m.1 17.1h0m.1-15.1h0m.1 9.8h0m.1 56.8h0m.1-43.1h0m.1-10.1h0m.1-17.5h0m0 68.5h0m.1-6.6h0m.1-79.7h0m.1 41.4h0m.1-22.3h0m.1-12.6h0m.1-19.7h0m.1 114.5h0m.1-52.8h0m.1-163.9h0m.1 185.5h0m.1 29.8h0m.1-65.1h0m.1-12h0m.1 9.3h0m.1 32.6h0m0-62.1h0m.1 39.9h0m.1-79.8h0m.1 111.8h0m.1-96h0m.1 31.4h0m.1 32.5h0m.1 25.1h0m.1-71.9h0m.1 1.6h0m.1 90.6h0m.1-103.7h0m.1 7.3h0m.1 12.8h0m.1 49.1h0m0 .9h0m.1 12.7h0m.1-24h0m.1-34.5h0m.1 35.6h0m.1 12.6h0m.1-78.1h0m.1 21.9h0m.1 24.2h0m.1 67.8h0m.1-79.3h0m.1 15.3h0m.1 1.1h0m.1 11.5h0m.1 27.8h0m0-84.1h0m.1-73.6h0m.1 166.3h0m.1-136h0m.1 97.2h0m.1 15.4h0m.1.9h0m.1-70.4h0m.1 64.2h0m.1 5h0m.1.8h0m.1 22.2h0m.1-89.9h0m.1 19h0m.1 10h0m0 9.2h0m.1 42.6h0m.1-7.5h0m.1-25.3h0m.1 62h0m.1-45.4h0m.1-69.9h0m.1 97.3h0m.1-102.9h0m.1 1.3h0m.1 33.6h0m.1-2.1h0m.1 14.3h0m.1 4.5h0m.1-31.4h0m.1-14.6h0m0 72.1h0m.1-14.8h0m.1-20.5h0m.1-23h0m.1 33.1h0m.1-39.8h0m.1-12.1h0m.1 90.4h0m.1-12.3h0m.1-40.2h0m.1 114h0m.1-104.4h0m.1 29.5h0m.1-6.1h0m.1-10.5h0m0-3.2h0m.1 54.4h0m.1-23.6h0m.1-107.1h0m.1 94.9h0m.1-152h0m.1 66.8h0m.1 79.7h0m.1-58.7h0m.1 89.6h0m.1-68.5h0m.1 43.6h0m.1-11.3h0m.1 19.5h0m.1 19.8h0m0-106.1h0m.1 54.4h0m.1 9.2h0m.1 32.1h0m.1-18.6h0m.1-31.3h0m.1-41.4h0m.1-9h0m.1 26.1h0m.1 47.5h0m.1-6.6h0m.1 48.7h0m.1-43.4h0m.1 18.4h0m.1-82h0m.1 61.9h0m0-28.2h0m.1-3.5h0m.1 69.4h0m.1-47.4h0m.1-2.5h0m.1 3.2h0m.1-50.9h0m.1-10.2h0m.1 132.5h0m.1-69.2h0m.1-2.4h0m.1 8.7h0m.1-25.3h0m.1 6.5h0m.1-21.7h0m0 44.9h0m.1-18.3h0m.1 44.4h0m.1 55.8h0m.1-134.1h0m.1 65.3h0m.1-40.7h0m.1 95.9h0m.1-72.6h0m.1 28.7h0m.1-54.5h0m.1 94.6h0m.1-103.6h0m.1-18.9h0m.1-44.3h0m0 88.6h0m.1-13.1h0m.1 21.5h0m.1-40.5h0m.1 32.8h0m.1-.2h0m.1-39h0m.1 111.4h0m.1 11.1h0m.1-71.4h0m.1 10.1h0m.1 20.3h0m.1-13.5h0m.1-55.8h0m.1 40.1h0m0 55.7h0m.1-72.3h0m.1-2.9h0m.1-42.5h0m.1 36.7h0m.1-108.2h0m.1 122.4h0m.1 41.2h0m.1-27.4h0m.1-5.7h0m.1-3.8h0m.1.2h0m.1-40.6h0m.1-30.5h0m.1 137.2h0m.1-49.1h0m0-98.8h0m.1 139.3h0m.1-74.2h0m.1 50.9h0m.1-39.6h0m.1-19.3h0m.1 54.5h0m.1-43.4h0m.1-77.5h0m.1 125.3h0m.1-38.1h0m.1 1.4h0m.1-9.8h0m.1 38.8h0m.1 28.3h0m0-18.3h0m.1-25.3h0m.1-7.6h0m.1-30.4h0m.1 92.2h0m.1-135.9h0m.1 34.6h0m.1 30.5h0m.1 11.1h0m.1 13.4h0m.1-32.8h0m.1 84.1h0m.1-23.7h0m.1-113.7h0m.1 33.8h0m0-14.9h0m.1 101.8h0m.1-67.6h0m.1-40.8h0m.1 46.2h0m.1-36.6h0m.1 49.2h0m.1 23.8h0m.1-66.8h0m.1 50.3h0m.1 12.4h0m.1-59.9h0m.1 70.4h0m.1-54.6h0m.1 48h0m.1-28.7h0m0-11.1h0m.1 67.8h0m.1-15.3h0m.1-46.9h0m.1-103.3h0m.1 132.5h0m.1-36.3h0m.1 43.9h0m.1-23.2h0m.1-12.9h0m.1-7.8h0m.1 69.3h0m.1 3.5h0m.1-7h0m.1-88.6h0m0 27.7h0m.1 19.7h0m.1-76.6h0m.1 108.5h0m.1-78.2h0m.1 75.7h0m.1-56.1h0m.1 34.7h0m.1-114.5h0m.1 8.1h0m.1 63.8h0m.1-22.6h0m.1 1.7h0m.1 30.4h0m.1 27.4h0m0 19.1h0m.1-63.4h0m.1-20.2h0m.1 49.8h0m.1-35.7h0m.1-5.2h0m.1 15.8h0m.1 68.7h0m.1-30.2h0m.1-86h0m.1 187.5h0m.1-191h0m.1 85.3h0m.1-34.5h0m.1 64.3h0m0-19.8h0m.1 28.5h0m.1-31.5h0m.1-16.6h0m.1 49.5h0m.1-113.1h0m.1 22.9h0m.1-5.9h0m.1 46.3h0m.1-23.8h0m.1-.4h0m.1 57.1h0m.1-6.7h0m.1-36.3h0m.1-33.5h0m.1 128.9h0m0-59.6h0m.1-38h0m.1 27h0m.1 7.2h0m.1-35.5h0m.1 50.8h0m.1-22h0m.1-32.7h0m.1 93.5h0m.1-89.9h0m.1 72.5h0m.1-41.3h0m.1-13.7h0m.1 51.7h0m.1-55.5h0m0 33.4h0m.1 28.8h0m.1-61.5h0m.1-8.1h0m.1 66.5h0m.1 12.9h0m.1-136h0m.1 109.1h0m.1 10.9h0m.1-60.2h0m.1 56h0m.1-47.3h0m.1-11.6h0m.1 12.2h0m.1 38h0m0-39.6h0m.1-6.3h0m.1 21h0m.1 45.8h0m.1-119.7h0m.1 112.3h0m.1 11.5h0m.1-88.2h0m.1 34.9h0m.1 18.7h0m.1-12.1h0m.1 63.4h0m.1-61.9h0m.1-24.9h0m.1-2.3h0m.1 34.6h0m0-38.7h0m.1-7.2h0m.1 15.5h0m.1 79h0m.1-37.2h0m.1-88.4h0m.1 83.9h0m.1-134.1h0m.1 116.8h0m.1 22.3h0m.1-9.2h0m.1 20h0m.1-24.2h0m.1-31.1h0m.1 16.7h0m0-1.2h0m.1-43.2h0m.1 54.8h0m.1-37h0m.1 58h0m.1 57.9h0m.1-4.3h0m.1 17.9h0m.1-113.3h0m.1 5.2h0m.1 38.7h0m.1-54.7h0m.1 54.7h0m.1-42.3h0m.1 31.6h0m0-25.3h0m.1 69.9h0m.1 12.5h0m.1-39.1h0m.1-72.2h0m.1 86.8h0m.1-62.6h0m.1-27.4h0m.1 58.7h0m.1 26.3h0m.1-89.4h0m.1 80.2h0m.1-35.3h0m.1 1.3h0m.1 38.3h0m0-42.8h0m.1-11.7h0m.1 88.2h0m.1-151.1h0m.1 146.5h0m.1-104.6h0m.1 88.1h0m.1-84.1h0m.1 89.9h0m.1-108.5h0m.1 123.6h0m.1-57.3h0m.1-12.4h0m.1-6.4h0m.1 50h0m.1-41.8h0m0 27.9h0m.1-16h0m.1-43.6h0m.1 136.7h0m.1-103.7h0m.1 16.2h0m.1-1.1h0m.1-8.1h0m.1 58.7h0m.1-45.8h0m.1-22.8h0m.1 17.7h0m.1-19h0m.1-27.8h0m.1 105h0m0-116.3h0m.1 93.2h0m.1-39.2h0m.1 25.5h0m.1-29.3h0m.1-9.6h0m.1 90.7h0m.1-93h0m.1-19.2h0m.1 47.6h0m.1 33.5h0m.1-92.6h0m.1 25.9h0m.1 48.4h0m.1 26.3h0m0-36.1h0m.1-38.9h0m.1 27.1h0m.1-31.3h0m.1 53.3h0m.1-28.8h0m.1 19.3h0m.1-26.7h0m.1 50.3h0m.1-40.9h0m.1-27.4h0m.1 74.5h0m.1-40.5h0m.1-17.5h0m.1 4.1h0m.1 56.6h0m0-42.6h0m.1 11.6h0m.1-47.7h0m.1 16h0m.1-8.2h0m.1-9.1h0m.1-7.2h0m.1 24.3h0m.1-32.5h0m.1 65.2h0m.1 4.8h0m.1-56.7h0m.1 44.1h0m.1-38.1h0m.1 34.6h0m0 3.9h0m.1-71.6h0m.1-26.7h0m.1 99.2h0m.1.2h0m.1-17.4h0m.1-17.8h0m.1-5.7h0m.1-63h0m.1 134.1h0m.1-123.2h0m.1 83.2h0m.1-14.9h0m.1 17.5h0m.1-51.9h0m0 13.3h0m.1 43.2h0m.1-76.2h0m.1 64h0m.1-47h0m.1 52.6h0m.1 16h0m.1-23.2h0m.1 17.2h0m.1-56.9h0m.1 9h0m.1 9.7h0m.1 67.5h0m.1-66.4h0m.1 19.3h0m0 39.7h0m.1-31.5h0m.1 21.6h0m.1-65.2h0m.1 68h0m.1-32.8h0m.1 16.9h0m.1 6.2h0m.1-86.6h0m.1 101.1h0m.1-51.4h0m.1 52.2h0m.1-47.2h0m.1 16.2h0m.1-58.5h0m.1-12.4h0m0 98.6h0m.1-62.1h0m.1 38.4h0m.1-12.7h0m.1-35.2h0m.1 30.1h0m.1-3.3h0m.1 30.9h0m.1-44h0m.1 4.2h0m.1 66.7h0m.1 1.5h0m.1-44.6h0m.1-35.5h0m.1 47.2h0m0-30.3h0m.1 63.8h0m.1-47.6h0m.1-20h0m.1 11.1h0m.1-20.6h0m.1 29h0m.1-40h0m.1 49.3h0m.1 20.4h0m.1-11.3h0m.1-46.1h0m.1 43.1h0m.1-26.1h0m.1-64.4h0m0 74.6h0m.1 31.5h0m.1-19.6h0m.1-19.7h0m.1-10.1h0m.1 19.5h0m.1 17h0m.1-9.5h0m.1 32.7h0m.1 1.6h0m.1-6.8h0m.1-41.5h0m.1 24.2h0m.1-13.1h0m.1 12h0m.1-2.8h0m0 70.2h0m.1-116.4h0m.1 49.6h0m.1-27.6h0m.1 29.2h0m.1-4.6h0m.1 41.6h0m.1-54.2h0m.1-17.1h0m.1 32.8h0m.1-1.3h0m.1-77.9h0m.1 165.4h0m.1-125.3h0m.1 108h0m0-38.3h0m.1 5h0m.1-37.7h0m.1-49.3h0m.1 3.6h0m.1 80.1h0m.1-55h0m.1 28.3h0m.1-24.5h0m.1-6.5h0m.1 49.2h0m.1-78.7h0m.1 41.9h0m.1-2.6h0m.1 14.1h0m0-8h0m.1-29.4h0m.1 11.4h0m.1 11.3h0m.1 73.9h0m.1-37.9h0m.1-28.1h0m.1 8.9h0m.1-14.3h0m.1 62.2h0m.1-58.8h0m.1-25.3h0m.1 140.1h0m.1-149.7h0m.1 22.5h0m0-32h0m.1 64.2h0m.1-35.2h0m.1-2.9h0m.1 56.8h0m.1 14.9h0m.1-36h0m.1-44h0m.1 50.1h0m.1-35.8h0m.1 29.6h0m.1.2h0m.1-46.9h0m.1 66.1h0m.1-28.1h0m.1-1.6h0m0-32.5h0m.1 64.6h0m.1-52.4h0m.1 25.6h0m.1-35.5h0m.1-7.2h0m.1.1h0m.1-12.8h0m.1 39.7h0m.1 80.3h0m.1-32.8h0m.1-62.1h0m.1 2.4h0m.1 74.8h0m.1-24.1h0m0-24.9h0m.1-12h0m.1-.5h0m.1-62.1h0m.1 54.7h0m.1 87.2h0m.1-15.9h0m.1-59.5h0m.1 34.3h0m.1-6.2h0m.1-37.2h0m.1-10.1h0m.1 10.1h0m.1 26.9h0m.1 33.9h0m0-34h0m.1-7.4h0m.1-8.2h0m.1 48.3h0m.1 12.8h0m.1-44.6h0m.1-15h0m.1 17.5h0m.1 19.3h0m.1 8.8h0m.1-6.6h0m.1-55.5h0m.1 21.4h0m.1-9.4h0m.1 33.6h0m.1-55.4h0m0-56.6h0m.1 94.1h0m.1-17.6h0m.1 1.6h0m.1 7h0m.1-21.5h0m.1 31.4h0m.1-38.3h0m.1-24.4h0m.1 86.5h0m.1-35.8h0m.1 45.3h0m.1-21.6h0m.1-35.7h0m.1 5h0m0-14.8h0m.1 32.1h0m.1 17.2h0m.1-16.9h0m.1 7.1h0m.1-36.7h0m.1 91.5h0m.1-42.7h0m.1 12.9h0m.1-66.7h0m.1 24.1h0m.1-11.7h0m.1 101h0m.1-83.1h0m.1 76.8h0m0-56.6h0m.1-31.7h0m.1 56.7h0m.1 16h0m.1-63.8h0m.1-8.1h0m.1 14.3h0m.1-32.9h0m.1-17h0m.1-13.1h0m.1 49.3h0m.1-22.1h0m.1 45.4h0m.1 4h0m.1 23.2h0m0-20.3h0m.1-18.3h0m.1 47h0m.1-61.4h0m.1-44.1h0m.1 23.8h0m.1 29.2h0m.1 39.2h0m.1 5.7h0m.1-62.3h0m.1 64.6h0m.1-21.1h0m.1 8.1h0m.1-51h0m.1 24.2h0m.1-58.7h0m0 69.2h0m.1-14.4h0m.1 33.6h0m.1 13.2h0m.1-62.6h0m.1 56.5h0m.1 5.4h0m.1-48h0m.1 73.3h0m.1-97.7h0m.1-4.1h0m.1 45.2h0m.1 52.9h0m.1-36.6h0m.1-69.8h0m0 37.8h0m.1 54.1h0m.1-60.1h0m.1 17.8h0m.1-26.7h0m.1 92.8h0m.1-8h0m.1-92.1h0m.1-15.6h0m.1 73.2h0m.1-3.6h0m.1-12.8h0m.1 3.7h0m.1-12.5h0m.1 37.9h0m0-1.3h0m.1 13.4h0m.1-12.3h0m.1-44.3h0m.1 4.1h0m.1 5.1h0m.1 12.1h0m.1-24.5h0m.1-4.3h0m.1 18.2h0m.1-6.2h0m.1 10.1h0m.1 53.6h0m.1 15.8h0m.1-80.2h0m.1 18.5h0m0-12h0m.1-33.5h0m.1 68.3h0m.1-86.2h0m.1 66.4h0m.1-16.1h0m.1-28.9h0m.1 52.9h0m.1 14.9h0m.1-22h0m.1 11.3h0m.1-46.3h0m.1 46.9h0m.1 26.5h0m.1-80.1h0m0 102.8h0m.1-122.6h0m.1 96.7h0m.1-60.2h0m.1 25.4h0m.1-7.1h0m.1 1.2h0m.1 30.7h0m.1-39.6h0m.1 15.5h0m.1 30h0m.1-39.9h0m.1-96.8h0m.1 84.5h0m.1-.8h0m0-9.6h0m.1 47.1h0m.1-16.4h0m.1-27h0m.1 7h0m.1-26.6h0m.1 28h0m.1 74.9h0m.1-110.7h0m.1 111.6h0m.1-60.1h0m.1-10.9h0m.1-4.6h0m.1-20.7h0m.1 57.7h0m0-29.1h0m.1-10.5h0m.1 18.8h0m.1 49.8h0m.1-61.9h0m.1 9.6h0m.1 46.7h0m.1-73h0m.1 58.1h0m.1 49.2h0m.1-75.5h0m.1-50.3h0m.1 80.7h0m.1-39h0m.1 51h0m.1-24.6h0m0-7h0m.1-54.2h0m.1 101.9h0m.1-41.4h0m.1.1h0m.1.9h0m.1.2h0m.1-7.2h0m.1-8.5h0m.1-47.9h0m.1 33h0m.1 7.1h0m.1 45.2h0m.1-.8h0m.1-62.6h0m0 14.7h0m.1-3.1h0m.1 28.8h0m.1-.6h0m.1 10.1h0m.1-51.7h0m.1 23.2h0m.1 112.5h0m.1-158h0m.1 102.1h0m.1-6.8h0m.1-8.4h0m.1-24.9h0m.1-3.3h0m.1 38.3h0m0-42.6h0m.1 3.4h0m.1-6.6h0m.1 21.2h0m.1-15.1h0m.1-6.5h0m.1 39.3h0m.1-23.5h0m.1-69.4h0m.1 61.2h0m.1 45.4h0m.1-29.9h0m.1 34.7h0m.1-98.7h0m.1 63.6h0m.1-71.4h0m0 78.6h0m.1-38.6h0m.1 15h0m.1 18.8h0m.1-39.3h0m.1 4.4h0m.1 9.7h0m.1 34.7h0m.1 43.6h0m.1-89.6h0m.1-4.7h0m.1 29.9h0m.1-38.4h0m.1-5.1h0m.1 57.8h0m0-31.4h0m.1 91.3h0m.1-103.3h0m.1 74.1h0m.1-8h0m.1-47h0m.1 16.3h0m.1-88.3h0m.1 90.2h0m.1-5.9h0m.1-26.4h0m.1 66.6h0m.1-114.4h0m.1 94.7h0m.1-19.7h0m0 4.6h0m.1-52h0m.1 65.7h0m.1-35.5h0m.1 21.3h0m.1 23.3h0m.1-54.3h0m.1-60.2h0m.1 97.3h0m.1-3h0m.1-19.2h0m.1-7.1h0m.1-8.1h0m.1 32.4h0m.1 25.2h0m0-41.9h0m.1 53.9h0m.1-46.3h0m.1 27.5h0m.1-27.1h0m.1 7.9h0m.1 30.8h0m.1-9.1h0m.1 16.7h0m.1 20.6h0m.1-55h0m.1 37.8h0m.1-22.9h0m.1-.5h0m.1 10.5h0m.1-21.4h0m0 2h0m.1 23.1h0m.1-56.3h0m.1 54.7h0m.1 4.9h0m.1-92.9h0m.1 101.7h0m.1-60.6h0m.1-3.3h0m.1 45.2h0m.1-47.9h0m.1 34.7h0m.1-26.8h0m.1-17.4h0m.1 92.3h0m0-91h0m.1-21.2h0m.1 46.4h0m.1 66.6h0m.1-104.6h0m.1 84.2h0m.1-56.8h0m.1 29.2h0m.1-8.4h0m.1 54.5h0m.1-75.6h0m.1 81.3h0m.1-75h0m.1-25.3h0m.1 49.2h0m0 19.1h0m.1-3.6h0m.1 8.7h0m.1-35.5h0m.1 51.1h0m.1-.1h0m.1-72.1h0m.1 16.2h0m.1-21.1h0m.1 25.4h0m.1 15.7h0m.1-20.6h0m.1 9h0m.1 28.2h0m.1 21.2h0m.1.9h0m0-140.6h0m.1 76.9h0m.1-1.9h0m.1 5.3h0m.1-10.7h0m.1-.8h0m.1 50.9h0m.1 17.5h0m.1-72.7h0m.1 56.3h0m.1-89.7h0m.1 83.9h0m.1 35.2h0m.1-22.4h0m.1-54.2h0m0-1.2h0m.1 17.4h0m.1 49.1h0m.1-28.3h0m.1 1.6h0m.1 3.5h0m.1-48.8h0m.1-33.4h0m.1 39.6h0m.1 4.6h0m.1 31.6h0m.1-7.2h0m.1 97.6h0m.1-112.4h0m.1-3.6h0m0 61.1h0m.1-41.6h0m.1 59.1h0m.1-.9h0m.1-32.4h0m.1-2.3h0m.1-71.5h0m.1 89.2h0m.1-34.1h0m.1 13.7h0m.1 11.2h0m.1-25.8h0m.1-33.8h0m.1 14h0m.1-14.9h0m0 60.2h0m.1-29.8h0m.1 7.3h0m.1-26.9h0m.1 16.9h0m.1-31.8h0m.1 44.5h0m.1-59.6h0m.1 59.8h0m.1-18.5h0m.1 24.1h0m.1 20h0m.1-19h0m.1-9.3h0m.1 21.9h0m.1-43.1h0m0 15.8h0m.1 14.5h0m.1-79.9h0m.1 37h0m.1 94.9h0m.1-56.9h0m.1-.8h0m.1 12.4h0m.1-23.1h0m.1-7.7h0m.1 1.7h0m.1 44.2h0m.1 18.4h0m.1-67.3h0m.1 13.6h0m0 17.9h0m.1-48.9h0m.1 37.7h0m.1 30.7h0m.1 2.7h0m.1 40.1h0m.1-84.4h0m.1 10.6h0m.1 47.5h0m.1-37.4h0m.1 25.9h0m.1-30.2h0m.1-57.8h0m.1 28h0m.1-26.9h0m0 57h0m.1 34.6h0m.1-21.6h0m.1-32.2h0m.1-47.1h0m.1 61.3h0m.1-20.5h0m.1 1h0m.1 20.4h0m.1 72.7h0m.1-86.2h0m.1-9.6h0m.1-46.2h0m.1 97.8h0m.1-58.1h0m.1-29h0m0 43.2h0m.1 24h0m.1-47.5h0m.1 36.7h0m.1-49.5h0m.1 89.8h0m.1-75.1h0m.1 35.1h0m.1-27.7h0m.1 12.7h0m.1 34.3h0m.1-35.1h0m.1 15.4h0m.1 40.5h0m.1 43.1h0m0-53.5h0m.1-24.5h0m.1 6.1h0m.1-45.7h0m.1 5.2h0m.1-.4h0m.1 47.7h0m.1-16.6h0m.1-7.2h0m.1 84.8h0m.1-73.9h0m.1 26.6h0m.1-1.2h0m.1-20.8h0m.1 12.2h0m0-89.3h0m.1 77.5h0m.1 28.7h0m.1 20.5h0m.1-58.5h0m.1 50.8h0m.1-17.9h0m.1-37.1h0m.1-37.9h0m.1 59.5h0m.1-29.3h0m.1 56.5h0m.1-14.8h0m.1-66.8h0m.1 31.6h0m0 26.4h0m.1 54.6h0m.1-145.6h0m.1 95.4h0m.1-78.9h0m.1 55.9h0m.1-19.8h0m.1 75.6h0m.1-37.3h0m.1 44.9h0m.1-14.8h0m.1-62.6h0m.1-46.3h0m.1 61.6h0m.1-9.5h0m.1 24.5h0m0-29.7h0m.1 2.8h0m.1 44.1h0m.1-15.9h0m.1-28.9h0m.1 43.6h0m.1-65h0m.1 44.2h0m.1 29.2h0m.1-52.9h0m.1-18.8h0m.1 47.1h0m.1-16.8h0m.1 68h0m.1-59.2h0m0-16.3h0m.1-17.2h0m.1-33.3h0m.1 44.5h0m.1 27.9h0m.1-30.4h0m.1 44.9h0m.1 12.7h0m.1-6.4h0m.1-53.9h0m.1 7.9h0m.1 51.3h0m.1-46.6h0m.1 1.1h0m.1 2.4h0m0 59.7h0m.1-100.8h0m.1 115.9h0m.1-28.5h0m.1 22h0m.1-34.9h0m.1 56.2h0m.1-46.3h0m.1-66.8h0m.1-1.6h0m.1 46.1h0m.1 23h0m.1-14.1h0m.1 22.2h0m.1 4.4h0m.1-112.6h0m0 76.4h0m.1.5h0m.1 30.7h0m.1-55.2h0m.1 62h0m.1-34.4h0m.1 39.9h0m.1-61.4h0m.1 16.1h0m.1-37.2h0m.1-5.4h0m.1 37.3h0m.1-7.3h0m.1 27.4h0m.1 4.2h0m0-13.8h0m.1.7h0m.1-35.3h0m.1 21.7h0m.1 6.5h0m.1-15.6h0m.1 46.9h0m.1-6.2h0m.1-43h0m.1 11.3h0m.1 11h0m.1 8h0m.1 42.4h0m.1-53.1h0m.1-12.7h0m0 30.5h0m.1 8.9h0m.1 18.1h0m.1-68.6h0m.1 22.6h0m.1 18.2h0m.1-4.3h0m.1-53.8h0m.1 67.8h0m.1 26.4h0m.1-15h0m.1-34.6h0m.1-27.9h0m.1 1.7h0m.1 30.2h0m0-22.5h0m.1.3h0m.1-27.7h0m.1 65.5h0m.1 27.4h0m.1-43.3h0m.1 21.5h0m.1-14.1h0m.1 76.7h0m.1-87.1h0m.1 4h0m.1-59.2h0m.1 60.1h0m.1-19.6h0m.1 6.3h0m.1 63.1h0m0-23h0m.1 8.3h0m.1-17.5h0m.1-43.1h0m.1 30.4h0m.1 31.5h0m.1-58.9h0m.1 21.4h0m.1 3.8h0m.1 34.7h0m.1-30.9h0m.1 35.4h0m.1-15.5h0m.1-28.6h0m.1 15.4h0m0-46.1h0m.1 24.7h0m.1 43.1h0m.1-13.8h0m.1-1.2h0m.1-9.6h0m.1 25.6h0m.1-6h0m.1-17.2h0m.1-52.8h0m.1 147.3h0m.1-22.6h0m.1-99h0m.1 75h0m.1-55.8h0m0 46.4h0m.1-65.2h0m.1 26.8h0m.1-13.9h0m.1 38.8h0m.1 5.5h0m.1-24.8h0m.1-76.7h0m.1 78.2h0m.1-38.9h0m.1 84.3h0m.1-74.5h0m.1-43.6h0m.1 64.3h0m.1-38h0m.1 57.4h0m0-77.9h0m.1 76.5h0m.1-65.6h0m.1 114h0m.1-62.5h0m.1 25h0m.1-30.5h0m.1 73.4h0m.1-72.7h0m.1 41.2h0m.1-37.7h0m.1 43.2h0m.1-86.2h0m.1-4.3h0m.1 68.1h0m0-40.8h0m.1-8.2h0m.1 56.2h0m.1-24.4h0m.1-106.4h0m.1 110.5h0m.1-21.2h0m.1-16.6h0m.1 73.1h0m.1-19.5h0m.1 26.7h0m.1-62.4h0m.1-13.1h0m.1 115.1h0m.1-56h0m0-4.5h0m.1-52.3h0m.1 14.4h0m.1 40.9h0m.1-124.2h0m.1 55.4h0m.1 56.5h0m.1-76.2h0m.1 85.9h0m.1-30.8h0m.1-49.1h0m.1 55.9h0m.1 1.5h0m.1-3.8h0m.1 22.5h0m0-105.3h0m.1 68.4h0m.1 34.4h0m.1-7.8h0m.1-.9h0m.1 87h0m.1-107.9h0m.1-5.6h0m.1 41.1h0m.1-27.7h0m.1 38h0m.1-42.8h0m.1 104h0m.1-128.8h0m.1 29.5h0m.1 38.5h0m0-26.8h0m.1 28.7h0m.1-4.4h0m.1 4.2h0m.1-70.8h0m.1 89h0m.1-43.6h0m.1 8.7h0m.1-38.9h0m.1 55.7h0m.1 1.6h0m.1-7.3h0m.1-2.2h0m.1-11.1h0m.1-12h0m0 33.8h0m.1-32.5h0m.1 2h0m.1 20.1h0m.1 17.7h0m.1 25.8h0m.1-20h0m.1-32.3h0m.1-32h0m.1 38.3h0m.1-44.9h0m.1-18.9h0m.1-48.7h0m.1 143.8h0m.1-3.1h0m0-74.6h0m.1 40.6h0m.1 17.2h0m.1 31.6h0m.1-3.4h0m.1-78.4h0m.1 41.4h0m.1-95h0m.1 80.4h0m.1 5.6h0m.1-11.2h0m.1-28.7h0m.1 26.9h0m.1 85.2h0m.1-94.5h0m.1 22h0m0 32.5h0m.1-3.6h0m.1-41.1h0m.1 62.8h0m.1-.5h0m.1-35.7h0m.1-2.1h0m.1-13.9h0m.1 23h0m.1-1h0m.1 21.8h0m.1-97.4h0m.1 90.8h0m.1-36.4h0m.1 54.6h0m0 17.7h0m.1-72.8h0m.1 4.9h0m.1-15.5h0m.1-18.8h0m.1 28.1h0m.1 34.8h0m.1-35.8h0m.1-37.7h0m.1 45.1h0m.1-36.7h0m.1 41h0m.1 20.1h0m.1 9.3h0m.1 7.5h0m0-68.9h0m.1-61.4h0m.1 89.1h0m.1-7h0m.1 34.5h0m.1-2.1h0m.1-33.9h0m.1 12.4h0m.1 28.4h0m.1-54.1h0m.1-52.9h0m.1 88.8h0m.1-6.6h0m.1-23.5h0m.1 63.9h0m0-52.7h0m.1-18.5h0m.1 34.5h0m.1 54.3h0m.1-101h0m.1 68.9h0m.1-75.5h0m.1 71h0m.1-42.2h0m.1-7h0m.1 49.4h0m.1 65.5h0m.1-153.2h0m.1 55.1h0m.1-38.8h0m.1 89.6h0m0-39.5h0m.1-53.5h0m.1 82h0m.1 6.8h0m.1-41.4h0m.1 33.7h0m.1-9.7h0m.1 14.9h0m.1-73.4h0m.1 62.7h0m.1 10.9h0m.1-65.1h0m.1 152.2h0m.1-64.3h0m.1-40.4h0m0-35.1h0m.1 11.8h0m.1 8.1h0m.1 17.8h0m.1-64.7h0m.1-17.3h0m.1 113.4h0m.1-96.2h0m.1 122.1h0m.1-78h0m.1-47.5h0m.1 20.6h0m.1 94.2h0m.1-53.1h0m.1-45.8h0m0 84.5h0m.1-27.7h0m.1-41.7h0m.1-42.5h0m.1 9.5h0m.1 58.2h0m.1 28.8h0m.1 25.7h0m.1 36.2h0m.1-54h0m.1-90.2h0m.1 32.6h0m.1 41.2h0m.1-33.8h0m.1 19.1h0m.1-20.1h0m0 16.5h0m.1 37.3h0m.1-18h0m.1-71.4h0m.1 26.5h0m.1-15.8h0m.1-17.5h0m.1 96.1h0m.1-36.6h0m.1 91.1h0m.1-64.8h0m.1-5.4h0m.1-37.5h0m.1-7.8h0m.1 55.6h0m0-46.8h0m.1 76.4h0m.1-20.9h0m.1.1h0m.1-22.9h0m.1-46.2h0m.1 78.8h0m.1-65.2h0m.1 21.4h0m.1 48.3h0m.1-60.8h0m.1-2.7h0m.1-32.8h0m.1 89.3h0m.1 23.8h0m0-94.1h0m.1 74.4h0m.1 28.8h0m.1-5.2h0m.1-26.2h0m.1-62.2h0m.1-28.6h0m.1 28.5h0m.1 44.2h0m.1 33.7h0m.1-3h0m.1-50.7h0m.1 19.7h0m.1-31.3h0m.1-50.2h0m0 42.2h0m.1 63.3h0m.1-9.8h0m.1-24.3h0m.1-2.9h0m.1 84.8h0m.1-68.1h0m.1-27.5h0m.1-40.6h0m.1 28.4h0m.1 37.9h0m.1-33.6h0m.1 52h0m.1-50.4h0m.1 117.2h0m.1-114.2h0m0 48.8h0m.1-60.4h0m.1 48.6h0m.1 34.5h0m.1-47.6h0m.1-69.7h0m.1 115.1h0m.1-9.4h0m.1-77.3h0m.1 16h0m.1 39.8h0m.1-52.4h0m.1 51.9h0m.1-69.1h0m.1 50.1h0m0 44.6h0m.1-71.7h0m.1 28.2h0m.1 9.1h0m.1 38.9h0m.1-8.6h0m.1-29.1h0m.1-4.4h0m.1-23.4h0m.1-.8h0m.1-2.6h0m.1-3.7h0m.1 51.1h0m.1-40.4h0m.1-21.7h0m0 .9h0m.1 26.1h0m.1 20.3h0m.1-37.2h0m.1-15.7h0m.1 43.6h0m.1 27.7h0m.1-93.6h0m.1 43.8h0m.1-94.2h0m.1 197.2h0m.1-124.5h0m.1-5.7h0m.1 52.3h0m.1-21h0m.1 40.2h0m0-57.6h0m.1 34.3h0m.1 4h0m.1 11.8h0m.1 47.9h0m.1-67.7h0m.1-28.4h0m.1 46.2h0m.1-41.3h0m.1 59h0m.1-22.9h0m.1-5.3h0m.1-59.9h0m.1 1.4h0m.1 33.4h0m0 17.5h0m.1-69.6h0m.1 56.4h0m.1 25.3h0m.1-29.3h0m.1 55h0m.1-23.8h0m.1 46.8h0m.1-79.9h0m.1 41.1h0m.1-113.3h0m.1 68.7h0m.1 62.7h0m.1-57.8h0m.1 6.3h0m0-51.9h0m.1 164.9h0m.1-49h0m.1-45.9h0m.1 13.3h0m.1-13.5h0m.1-78.3h0m.1 92h0m.1-30.8h0m.1-8.6h0m.1 66.8h0m.1-37.2h0m.1-37.2h0m.1 55.9h0m.1-20.5h0m0 13.7h0m.1-16h0m.1 15.6h0m.1-.9h0m.1-41.5h0m.1 106.9h0m.1-65.6h0m.1-122.4h0m.1 149.1h0m.1-87.3h0m.1 66.2h0m.1 41.6h0m.1-65.3h0m.1 6.8h0m.1 45.5h0m.1-19.1h0m0-2.6h0m.1-24.9h0m.1 8h0m.1-68.7h0m.1 52.4h0m.1 10.4h0m.1 26.9h0m.1-4.4h0m.1-63.5h0m.1 18.9h0m.1-85.7h0m.1 107.3h0m.1 58.5h0m.1-46.9h0m.1-33.4h0m0 31.7h0m.1-10.6h0m.1-37.3h0m.1 11.8h0m.1 24.7h0m.1 36.2h0m.1-65.2h0m.1 12.5h0m.1-25.1h0m.1 47.7h0m.1-36.7h0m.1 102.2h0m.1-60.3h0m.1-112.9h0m.1 159.2h0m0-39h0m.1-11.9h0m.1 8.1h0m.1-27.6h0m.1-10.4h0m.1 6h0m.1 20.9h0m.1 24.2h0m.1 50.5h0m.1-54.5h0m.1 16h0m.1 6h0m.1-62h0m.1-30.4h0m.1 28.3h0m.1 85.1h0m0-102.7h0m.1 69.3h0m.1-49.1h0m.1 120.4h0m.1-138.2h0m.1 4.4h0m.1 26.3h0m.1-21.9h0m.1 66.8h0m.1 6.4h0m.1 1.7h0m.1 82.2h0m.1-148.3h0m.1 39h0m.1-19h0m0-11.9h0m.1 38.6h0m.1 65.2h0m.1-108.8h0m.1 110.2h0m.1-66.1h0m.1-27.1h0m.1-24.9h0m.1 72.3h0m.1-24.7h0m.1-10.5h0m.1-16h0m.1 16.6h0m.1-7.6h0m.1 18.1h0m0-70h0m.1 74.4h0m.1 46.3h0m.1-26.1h0m.1-76h0m.1 51.8h0m.1 6.7h0m.1 53.8h0m.1-32.1h0m.1 5.5h0m.1-41.4h0m.1 29.6h0m.1-28.1h0m.1-6.2h0m.1-44.3h0m0 66.9h0m.1-18.5h0m.1-47.9h0m.1 129.1h0m.1-87.2h0m.1 27.8h0m.1-1.4h0m.1-18.6h0m.1 14.2h0m.1 25.1h0m.1-77.1h0m.1-1.7h0m.1 84h0m.1-17.7h0m.1-44.6h0m.1 64h0m0-79.4h0m.1 48.3h0m.1 7h0m.1-11.5h0m.1 16.2h0m.1-33.3h0m.1-39.8h0m.1 36.7h0m.1 41.5h0m.1-18.3h0m.1-2.9h0m.1-9.7h0m.1 73.4h0m.1-79.7h0m.1 28.2h0m0 .7h0m.1-42.8h0m.1 61.4h0m.1-12.3h0m.1 5.3h0m.1-68.4h0m.1 114.3h0m.1-79.9h0m.1 12.4h0m.1 15.7h0m.1 17.3h0m.1-50.3h0m.1 30.6h0m.1-10.4h0m.1-3h0m0 1.8h0m.1-32.9h0m.1 31.9h0m.1 43.9h0m.1-76.6h0m.1-56.6h0m.1 141.2h0m.1-127.1h0m.1 66.2h0m.1-10.1h0m.1 33.7h0m.1-24.7h0m.1 29.3h0m.1-32.8h0m.1-46.4h0m.1 147.3h0m0-79.6h0m.1 14h0m.1-61.1h0m.1 19.1h0m.1 8.2h0m.1 51.5h0m.1-80.8h0m.1 64.2h0m.1-27.7h0m.1-27.1h0m.1 64h0m.1-14.6h0m.1-46.3h0m.1 59.3h0m.1-67.6h0m0 62.8h0m.1-20.6h0m.1 81.9h0m.1-60.1h0m.1 56.7h0m.1-53.8h0m.1-33.9h0m.1 39.2h0m.1-76.8h0m.1 9.2h0m.1 39h0m.1 57.4h0m.1-20.9h0m.1-79.9h0m.1-24.2h0m0 82.1h0m.1-98.5h0m.1 24.6h0m.1 41.3h0m.1-12h0m.1 4.8h0m.1 21.9h0m.1 41.9h0m.1-56.5h0m.1 24.4h0m.1 14.4h0m.1 2.1h0m.1-20.7h0m.1-22.8h0m.1 23.8h0m0-48.9h0m.1 48.9h0m.1 72.5h0m.1-48.4h0m.1-126.2h0m.1 125.2h0m.1.5h0m.1-31.6h0m.1 50.1h0m.1-14.3h0m.1-28.3h0m.1-3.6h0m.1-32h0m.1 77.5h0m.1-114.3h0m.1 91.4h0m0-25.8h0m.1 15.4h0m.1-16.7h0m.1 12.5h0m.1-28.4h0m.1-1.7h0m.1 125.9h0m.1-104.6h0m.1 60.1h0m.1-20.5h0m.1-19.9h0m.1 4h0m.1-12.1h0m.1 35.5h0m.1-37.3h0m0-18.7h0m.1 46.4h0m.1-23.8h0m.1 19.1h0m.1-40.7h0m.1 20.5h0m.1 35.8h0m.1 19.2h0m.1-91.1h0m.1 34.7h0m.1-33.8h0m.1 65.7h0m.1-61.1h0m.1-69.3h0m.1 36.2h0m0 24.7h0m.1 126.2h0m.1-104.7h0m.1 47.4h0m.1-52.5h0m.1 40.2h0m.1 30.3h0m.1 7.4h0m.1-3.2h0m.1-14h0m.1-41.1h0m.1 35h0m.1-21.6h0m.1-22.5h0m.1 93.5h0m.1-110h0m0-10.6h0m.1 26.7h0m.1 58h0m.1-52.9h0m.1 23.4h0m.1-34.4h0m.1 69h0m.1-31.3h0m.1-7.5h0m.1 46.9h0m.1-80.1h0m.1 82h0m.1-21.5h0m.1-73h0m.1 37h0m0 23.9h0m.1-55.4h0m.1 8.1h0m.1 80.8h0m.1 70.1h0m.1-62.1h0m.1-36.3h0m.1-16.9h0m.1-39.2h0m.1 79.5h0m.1-62.1h0m.1 20.1h0m.1 6.3h0m.1 22.9h0m.1-10.2h0m0-97.8h0m.1 56.8h0m.1 77.4h0m.1-9.4h0m.1-18.2h0m.1 8.5h0m.1-75.2h0m.1 37.4h0m.1 8h0m.1 27.9h0m.1-26.6h0m.1-25h0m.1 53h0m.1-30.4h0m.1 18.6h0m0-80.8h0m.1 63.1h0m.1 15.9h0m.1 32.4h0m.1-48.5h0m.1-60.5h0m.1 11.2h0m.1 86.3h0m.1-3.6h0m.1-43.6h0m.1-23.2h0m.1 69.4h0m.1-57.4h0m.1 16.7h0m.1-51.2h0m.1-67.7h0m0 133.1h0m.1 53.8h0m.1-76.8h0m.1-33.7h0m.1 93h0m.1-84h0m.1-40.4h0m.1 46.3h0m.1 41.2h0m.1-41.3h0m.1 30.1h0m.1.6h0m.1 2.4h0m.1 52h0m.1-47.7h0m0 13.8h0m.1 28.3h0m.1-59.9h0m.1 43.9h0m.1-53.1h0m.1 23.6h0m.1-4.8h0m.1 39.1h0m.1-3.5h0m.1-72.9h0m.1 4.9h0m.1-29.7h0m.1 9.5h0m.1 32.6h0m.1 21.7h0m0-47.3h0m.1 116.2h0m.1-21.4h0m.1 31.1h0m.1-57.5h0m.1 7.6h0m.1-32.3h0m.1 51h0m.1-22.5h0m.1-23.3h0m.1 18h0m.1 95.2h0m.1-49.8h0m.1-58.2h0m.1-71.5h0m.1-33.8h0m0 102.3h0m.1-.1h0m.1.5h0m.1 16.2h0m.1 17.7h0m.1-60.3h0m.1 7.3h0m.1 80h0m.1 23.5h0m.1-74.4h0m.1.2h0m.1 46.6h0m.1-28.3h0m.1-16.6h0m.1-6.2h0m0 54h0m.1-79h0m.1 45.5h0m.1-61.2h0m.1 62.3h0m.1-8.3h0m.1-15h0m.1 16.7h0m.1-110.8h0m.1 69.1h0m.1 12.8h0m.1 19.5h0m.1-4.6h0m.1-24.4h0m.1 28.3h0m0 10.9h0m.1 78.5h0m.1-84.6h0m.1 5.9h0m.1 8.5h0m.1-31.8h0m.1-4.2h0m.1 63.6h0m.1-57.2h0m.1-15.9h0m.1 25h0m.1 59.1h0m.1-100.3h0m.1 28.6h0m.1 34h0m0 1.8h0m.1 39.3h0m.1 12.4h0m.1-95.2h0m.1 50.6h0m.1 42.9h0m.1-27.8h0m.1-72.8h0m.1 9.3h0m.1 25.2h0m.1 27.6h0m.1-86.2h0m.1 86.5h0m.1-54.1h0m.1 46.5h0m.1 3.6h0m0-9.5h0m.1 20.5h0m.1-37.6h0m.1 7.7h0m.1 72.8h0m.1-100.8h0m.1-1.6h0m.1-55.7h0m.1 181.5h0m.1-131h0m.1 61.8h0m.1-30.7h0m.1 13.2h0m.1-30.9h0m.1 9.5h0m0 65.4h0m.1-56.6h0m.1-41h0m.1 30.1h0m.1-43.8h0m.1 69h0m.1 13h0m.1-24.1h0m.1 47.2h0m.1 37.7h0m.1-99.3h0m.1 45h0m.1-48.4h0m.1 15.7h0m.1-14.8h0m0 12.1h0m.1-47.2h0m.1 37.4h0m.1-39.6h0m.1 103.2h0m.1-75.3h0m.1 16.2h0m.1-54h0m.1 31h0m.1 45h0m.1-95h0m.1 88h0m.1-29.2h0m.1 95.9h0m.1-52.6h0m.1 8.5h0m0-21.1h0m.1 26.6h0m.1-79.8h0m.1 104.4h0m.1-32.8h0m.1-86.6h0m.1 84.2h0m.1-24.5h0m.1 53.7h0m.1-64.3h0m.1 12.2h0m.1 14.6h0m.1-22.9h0m.1 69.2h0m.1-45h0m0-40.9h0m.1 32h0m.1-15.7h0m.1 69.4h0m.1-101.3h0m.1-61.7h0m.1 217.3h0m.1-115.4h0m.1 43.2h0m.1-41.4h0m.1-18.1h0m.1 37.7h0m.1-16.7h0m.1-34.8h0m.1-38.2h0m0 81.5h0m.1 39.1h0m.1-7.6h0m.1-93.3h0m.1 138.3h0m.1-138.3h0m.1 32.8h0m.1 28.4h0m.1-7.8h0m.1-32.1h0m.1 18.6h0m.1 24.6h0m.1-.1h0m.1 13.2h0m.1 34.8h0m0-55.3h0m.1-31h0m.1 53.7h0m.1-27.9h0m.1-28.4h0m.1-59.1h0m.1 94.4h0m.1 18h0m.1 14.2h0m.1-74.8h0m.1 33h0m.1-61.5h0m.1 79.2h0m.1-5.9h0m.1-40.5h0m.1 50h0m0 17.7h0m.1 1.7h0m.1-85.8h0m.1 55.5h0m.1 59.7h0m.1-73.3h0m.1-10h0m.1 7.4h0m.1 42.2h0m.1-41h0m.1-60.6h0m.1 93.8h0m.1 80.2h0m.1-71.4h0m.1 54.3h0m0-74.8h0m.1-18.9h0m.1-30.4h0m.1 56.3h0m.1-18.8h0m.1 33.8h0m.1-27.8h0m.1 18.7h0m.1-99.4h0m.1 87.4h0m.1 10.4h0m.1-11.1h0m.1 37.9h0m.1-52.7h0m.1 27.3h0m0-96.6h0m.1 100.2h0m.1 21.1h0m.1-82.2h0m.1-48.7h0m.1 44.2h0m.1 34.1h0m.1 61.1h0m.1-125.1h0m.1 81.3h0m.1 23.9h0m.1-20.2h0m.1-45.2h0m.1 49.1h0m.1-74.9h0m.1-21.2h0m0 68.3h0m.1-29.2h0m.1-51.5h0m.1 165h0m.1-31.9h0m.1-27.1h0m.1-56.5h0m.1 8.6h0m.1-32.7h0m.1 57.8h0m.1-9.3h0m.1 8.7h0m.1 91.4h0m.1-108.8h0m.1 12.3h0m0-48.3h0m.1 113h0m.1-12.2h0m.1-130.9h0m.1 3.1h0m.1 145.2h0m.1 9.8h0m.1-45.5h0m.1 26.9h0m.1-127.2h0m.1 77.1h0m.1 29h0m.1-38.3h0m.1-29.3h0m.1 30h0m0-26.6h0m.1 104.2h0m.1-85.8h0m.1-11.8h0m.1-84h0m.1 201.9h0m.1-98.7h0m.1 28h0m.1-25.4h0m.1 14.6h0m.1-9.4h0m.1-23.8h0m.1 40.7h0m.1-48.4h0m.1 41.1h0m0 3.5h0m.1 16.3h0m.1-80.6h0m.1 167.6h0m.1-109.4h0m.1-52.2h0m.1-18.7h0m.1 65.6h0m.1-6.7h0m.1 27.2h0m.1-115.5h0m.1 89.1h0m.1 18.2h0m.1 20.2h0m.1-102.7h0m.1 42.5h0m0-6.7h0m.1 25.1h0m.1-6.5h0m.1 18.5h0m.1-42.1h0m.1 50.3h0m.1-74.1h0m.1 56.1h0m.1 82.3h0m.1-119h0m.1 106.3h0m.1 13.6h0m.1-99.1h0m.1 36.4h0m.1 4.4h0m0-59.6h0m.1-42.6h0m.1 69.1h0m.1-68.6h0m.1 113.9h0m.1-99.7h0m.1 186h0m.1-30.5h0m.1-119.2h0m.1-48.6h0m.1 89.7h0m.1-32.5h0m.1 15.9h0m.1-56.2h0m.1 4.9h0m0 75.4h0m.1-100.1h0m.1 3.5h0m.1 95.9h0m.1 3.2h0m.1-34.9h0m.1-27.8h0m.1 102.3h0m.1-75.8h0m.1 39.2h0m.1-76.3h0m.1-1.4h0m.1 60.7h0m.1 50.1h0m.1-97.2h0m.1 4.4h0m0 11.3h0m.1 76.7h0m.1-53.9h0m.1 16.2h0m.1 19.8h0m.1-7.2h0m.1 35.6h0m.1-112.2h0m.1 61h0m.1 12.2h0m.1-96.4h0m.1 78.3h0m.1 4.8h0m.1-23.8h0m.1-11h0m0 73h0m.1-37.3h0m.1-12.7h0m.1 12.9h0m.1-28.4h0m.1 27.5h0m.1 9.7h0m.1-50.6h0m.1 29.1h0m.1.6h0m.1 13.7h0m.1-33.8h0m.1 22.6h0m.1-17.4h0m.1-34.2h0m0 21.6h0m.1-29.6h0m.1 82.6h0m.1-9.4h0m.1-46.2h0m.1-2.2h0m.1 2.2h0m.1-11.9h0m.1 2.5h0m.1 61.9h0m.1-30.9h0m.1 65.7h0m.1-35.3h0m.1-3h0m.1-64.4h0m0 114.7h0m.1-72.4h0m.1-79h0m.1 76.3h0m.1-4.1h0m.1 34.6h0m.1-59.4h0m.1 43.6h0m.1-19h0m.1 86.5h0m.1-89.6h0m.1 35.5h0m.1 18.9h0m.1-67.4h0m.1 41.8h0m.1-10.7h0m0 59.1h0m.1-22.5h0m.1-63.8h0m.1 138.5h0m.1-131.2h0m.1 18.5h0m.1 6.2h0m.1 17.3h0m.1-46.5h0m.1 16.3h0m.1-5.1h0m.1 26.8h0m.1-42.9h0m.1 14.3h0m.1-35.9h0m0 115.7h0m.1-31.8h0m.1 14.2h0m.1-72.6h0m.1-38.6h0m.1 5h0m.1 13.7h0m.1 65.5h0m.1-33.4h0m.1-5.6h0m.1-26.5h0m.1 108h0m.1-111.7h0m.1 42h0m.1-2.2h0m0 3.3h0m.1 1.4h0m.1 19.5h0m.1 84.2h0m.1-55.8h0m.1-29.8h0m.1-72h0m.1 116.4h0m.1 2.3h0m.1-78.7h0m.1 41.4h0m.1-106.1h0m.1 48.2h0m.1 105.4h0m.1-167.4h0m.1 124.1h0m0 43.9h0m.1-150.4h0m.1 78.2h0m.1 60h0m.1 33.7h0m.1-85.6h0m.1 53.3h0m.1-86.1h0m.1 6h0m.1 41.3h0m.1 11.7h0m.1-20.6h0m.1 64.7h0m.1-39.7h0m.1 19.1h0m0-19.9h0m.1-25.9h0m.1 4.1h0m.1-4.8h0m.1 5.8h0m.1 35.5h0m.1-3.3h0m.1 12.9h0m.1-15.7h0m.1-.9h0m.1-63.3h0m.1 16.9h0m.1-4.1h0m.1-10.8h0m.1-63.4h0m0 115.8h0m.1-65.6h0m.1-.4h0m.1 12h0m.1 84.5h0m.1-42.1h0m.1 77h0m.1-93.8h0m.1 30h0m.1.5h0m.1-35.1h0m.1 18.9h0m.1-110.3h0m.1 57h0m.1 42.4h0m0-89.5h0m.1 103.3h0m.1-11.8h0m.1-31.4h0m.1 74.1h0m.1-31.6h0m.1 24h0m.1-34.5h0m.1 15.3h0m.1-11.2h0m.1-62h0m.1 49.2h0m.1-4.7h0m.1 8.7h0m.1-2.5h0m.1 28.7h0m0-32.5h0m.1-24.8h0m.1 47.5h0m.1-98.4h0m.1 24.1h0m.1 126.9h0m.1-128.6h0m.1 64.5h0m.1-50.4h0m.1 64.5h0m.1-11.7h0m.1 25.3h0m.1-17.6h0m.1 23.6h0m.1-78.4h0m0 91h0m.1-73.3h0m.1 47.3h0m.1-37.4h0m.1 49.2h0m.1-26.2h0m.1-7.8h0m.1 14.8h0m.1-23.9h0m.1 4.1h0m.1 50.7h0m.1-16h0m.1-28.1h0m.1-23.8h0m.1 59.9h0m0-90.2h0m.1 42.4h0m.1-41.2h0m.1 9.7h0m.1 27.8h0m.1 19.4h0m.1-15.4h0m.1 37.6h0m.1-143.6h0m.1 226.7h0m.1-96.6h0m.1-3.1h0m.1-50h0m.1 68.5h0m.1-65.4h0m.1 26.6h0m0 9.9h0m.1 13.1h0m.1-1.2h0m.1-52.4h0m.1-15.4h0m.1 99.6h0m.1-20.9h0m.1-7.6h0m.1-4.9h0m.1 3h0m.1-91.1h0m.1 72.9h0m.1 62.8h0m.1-59.6h0m.1 24.7h0m0-11.8h0m.1-32.7h0m.1-12.8h0m.1 25h0m.1 44h0m.1-100.6h0m.1 96.1h0m.1-108.4h0m.1 149.8h0m.1-82.6h0m.1 12.5h0m.1-29h0m.1 60.1h0m.1-64.7h0m.1 81.5h0m0 30.7h0m.1-83h0m.1-33.5h0m.1 63.5h0m.1-59h0m.1 15.6h0m.1 32h0m.1 22.2h0m.1-84.5h0m.1 70.3h0m.1-7.5h0m.1-24.2h0m.1 31.2h0m.1-23.5h0m.1-18h0m0-103.9h0m.1 21.9h0m.1 97.9h0m.1 24.9h0m.1-66.9h0m.1 26h0m.1 75.1h0m.1-28.6h0m.1-102.3h0m.1 115.4h0m.1-58.3h0m.1 31.2h0m.1-17.3h0m.1-41.2h0m.1 160.4h0m.1-225.7h0m0 59.2h0m.1 87.2h0m.1-51.2h0m.1 15.7h0m.1-52h0m.1 70.2h0m.1-61.9h0m.1-18.4h0m.1-28.4h0m.1 119.5h0m.1-49.4h0m.1 49.9h0m.1-30.2h0m.1-22.9h0m.1-68.8h0m0 94.9h0m.1 6.5h0m.1-71.4h0m.1 21.7h0m.1-10.8h0m.1-48.7h0m.1 95.9h0m.1 11.5h0m.1-27.1h0m.1 13.2h0m.1-2.7h0m.1 41.9h0m.1-15.5h0m.1 5h0m.1-69.1h0m0 50.7h0m.1-21h0m.1-43.2h0m.1 62.9h0m.1-86.1h0m.1 22h0m.1 88.8h0m.1-16.2h0m.1-103h0m.1 91.1h0m.1-10.5h0m.1-16.2h0m.1-62.9h0m.1 61.6h0m.1 41.9h0m.1 88.8h0m0-83h0m.1-91.6h0m.1 84.9h0m.1 57.1h0m.1-93.2h0m.1-43.7h0m.1 95.7h0m.1-68.9h0m.1 27.1h0m.1 11.8h0m.1-21.8h0m.1 7.4h0m.1 27.1h0m.1 3.7h0m.1-17.2h0m0 38.5h0m.1-38h0m.1-40h0m.1 100.2h0m.1-59.3h0m.1 7.5h0m.1 22.3h0m.1-48.4h0m.1-51.2h0m.1-14.3h0m.1 53.4h0m.1 59.3h0m.1-26.9h0m.1 8h0m.1-44h0m0-39.5h0m.1 47.9h0m.1-65.4h0m.1 39.1h0m.1 68.6h0m.1-61.1h0m.1-32.7h0m.1 79.4h0m.1-1.7h0m.1-13.9h0m.1-81.6h0m.1 103.9h0m.1-50.2h0m.1 42.7h0m.1 22.5h0m0-25.3h0m.1 63.9h0m.1-53h0m.1-47.8h0m.1-4.7h0m.1 103.8h0m.1 59.3h0m.1-148.9h0m.1 24.4h0m.1 7.4h0m.1 14.6h0m.1-96.3h0m.1 97.9h0m.1-24.9h0m.1 2.1h0m.1-23.6h0m0 74.8h0m.1-72.4h0m.1 89.6h0m.1-8.9h0m.1-87.1h0m.1 62.3h0m.1 1.7h0m.1-53.8h0m.1-78.8h0m.1 79.5h0m.1 26.6h0m.1 80.7h0m.1-39.8h0m.1-13.8h0m.1-28.5h0m0 27.3h0m.1-89.6h0m.1 1.5h0m.1-6.4h0m.1 6.8h0m.1 41.4h0m.1 134.9h0m.1-187.6h0m.1 70.7h0m.1-10.8h0m.1-79.6h0m.1 70.8h0m.1-83.6h0m.1 136.6h0m.1-11.2h0m0-69h0m.1 15h0m.1-14.5h0m.1 2.7h0m.1 59.5h0m.1-79.5h0m.1 32.5h0m.1-35.9h0m.1 99.4h0m.1-42.7h0m.1 38.6h0m.1-80.3h0m.1-75.7h0m.1 134.8h0m.1-9.8h0m.1 22.1h0m0-37.9h0m.1 28.5h0m.1 8.4h0m.1-72.1h0m.1-58.1h0m.1 120.4h0m.1-20.6h0m.1-26.6h0m.1-34.3h0m.1 126.2h0m.1-66.6h0m.1-1.4h0m.1-44.3h0m.1 6.8h0m.1 41.2h0m0-97h0m.1 139.4h0m.1-71.5h0m.1 74.2h0m.1-48.7h0m.1-40h0m.1 120.1h0m.1-88.5h0m.1-19.7h0m.1 62h0m.1-23.1h0m.1-16h0m.1-86.2h0m.1 11.2h0m.1 112.9h0m0-74.7h0m.1 56.4h0m.1-59h0m.1 49.3h0m.1-88.1h0m.1 66.5h0m.1 72.1h0m.1-52.7h0m.1-25.7h0m.1 11.4h0m.1 4.4h0m.1 130.4h0m.1-123.1h0m.1 12.2h0m.1-40.4h0m0 45.2h0m.1-4.3h0m.1-50.8h0m.1-41.7h0m.1 62.2h0m.1 60.8h0m.1-76.4h0m.1 9.5h0m.1 66.7h0m.1-56h0m.1-77.9h0m.1 197.9h0m.1-111.3h0m.1-40.2h0m.1 18.7h0m.1 40.4h0m0-44.7h0m.1 100.2h0m.1-58.1h0m.1 7.9h0m.1-14.3h0m.1-37.4h0m.1 32.7h0m.1 69.3h0m.1-98.6h0m.1 11.3h0m.1 35.4h0m.1-58.7h0m.1 94.5h0m.1-115.4h0m.1 71.6h0m0-61.7h0m.1 30.3h0m.1.2h0m.1 130.2h0m.1-141.8h0m.1 70.1h0m.1-26.6h0m.1-50.8h0m.1 72.9h0m.1-42h0m.1-69.9h0m.1-6.1h0m.1 84.1h0m.1 1h0m.1-78.3h0m0 73.5h0m.1-17.5h0m.1 35.6h0m.1-53.4h0m.1 34.6h0m.1-9h0m.1 31.1h0m.1 21.7h0m.1 98.5h0m.1-213.3h0m.1 78.8h0m.1-52.6h0m.1-11h0m.1-28.7h0m.1 53.4h0m.1 27h0m0-13.7h0m.1 21.2h0m.1-1.6h0m.1 11.9h0m.1-18.7h0m.1 11.7h0m.1-5.1h0m.1-30.8h0m.1-39.7h0m.1-6.9h0m.1 86.4h0m.1-65.8h0m.1 93.4h0m.1-89.4h0m.1 4.8h0m0 23.7h0m.1 17.9h0m.1 72.2h0m.1-98.3h0m.1-4.4h0m.1 40.7h0m.1 28.5h0m.1-50h0m.1-19h0m.1 48.8h0m.1-9.6h0m.1 6.9h0m.1-83.1h0m.1 106.5h0m.1-39.3h0m0 46.5h0m.1-60.6h0m.1 30.7h0m.1-31h0m.1 110.6h0m.1-167.8h0m.1 23.3h0m.1 7.8h0m.1-112.4h0m.1 124.2h0m.1 101h0m.1-41.1h0m.1 41.6h0m.1-82h0m.1-23.7h0m0 22.4h0m.1-53.4h0m.1-73.3h0m.1 213.7h0m.1-80.2h0m.1 66.3h0m.1-130.5h0m.1 69.9h0m.1-75.5h0m.1 145.6h0m.1-69.7h0m.1-53.3h0m.1 1.2h0m.1 140.6h0m.1-178.8h0m.1 74.8h0m0 10.9h0m.1-48.4h0m.1 120.4h0m.1 16h0m.1-113.7h0m.1 37.3h0m.1 24h0m.1-4.8h0m.1 5.2h0m.1-89.7h0m.1 57h0m.1-69.3h0m.1 62.3h0m.1 30h0m.1 16.1h0m0-141.6h0m.1 113.6h0m.1-79.9h0m.1 91.4h0m.1-3.7h0m.1-10.1h0m.1 63.5h0m.1-59.2h0m.1-50.7h0m.1 21.4h0m.1 33.6h0m.1-147.1h0m.1 118.3h0m.1 29.5h0m.1-69.2h0m0 110.8h0m.1-5.5h0m.1-27.8h0m.1-30.6h0m.1-11.9h0m.1 45.6h0m.1-6h0m.1 23.9h0m.1-80.5h0m.1 63.7h0m.1 24.4h0m.1-100.8h0m.1 53h0m.1-4.9h0m.1-11.1h0m.1 56.2h0m0-62.4h0m.1 50.4h0m.1-14.6h0m.1 36.5h0m.1-68.4h0m.1-41.3h0m.1 84.5h0m.1-29.2h0m.1 37.8h0m.1-80h0m.1-5.4h0m.1 79.4h0m.1-26.8h0m.1-19.2h0m.1 62.3h0m0-58.5h0m.1 17.5h0m.1 16.4h0m.1-77.3h0m.1 99.2h0m.1-48.4h0m.1-11.1h0m.1 10.5h0m.1-27.4h0m.1-57.1h0m.1 90.4h0m.1-23.7h0m.1 99.1h0m.1-7.1h0m.1-93.8h0m0 39.4h0m.1 66.8h0m.1-64.2h0m.1-24.9h0m.1-8.3h0m.1-61.9h0m.1 118.7h0m.1-11.8h0m.1-21.3h0m.1-7.8h0m.1 82.2h0m.1-48.4h0m.1 30.6h0m.1-121.2h0m.1-8.6h0m0 27.3h0m.1 93.3h0m.1-71.4h0m.1 79.5h0m.1-56.9h0m.1 41.6h0m.1-62.6h0m.1 58.3h0m.1-56.4h0m.1 11.5h0m.1-71.5h0m.1-9.9h0m.1 30.2h0m.1 76.4h0m.1-8.8h0m.1-134.5h0m0 65.8h0m.1-10.1h0m.1 92.6h0m.1-68.5h0m.1-35.4h0m.1 111.9h0m.1-63.3h0m.1 67.1h0m.1-3.1h0m.1-62.5h0m.1-53.4h0m.1 67.1h0m.1 115.2h0m.1-153h0m.1 151.8h0m0-131.3h0m.1-15.1h0m.1 114.7h0m.1-89.3h0m.1-81h0m.1 37.5h0m.1 23.5h0m.1 12.7h0m.1 86.9h0m.1-14.7h0m.1-44.9h0m.1 21.2h0m.1-43.4h0m.1-56.4h0m.1 80h0m0-11.5h0m.1 54.2h0m.1-28.3h0m.1 39.3h0m.1-85.5h0m.1 14.1h0m.1-17.7h0m.1-5.1h0m.1 91.2h0m.1-43.4h0m.1-98.9h0m.1 62.2h0m.1 118.6h0m.1 20.9h0m.1-44.1h0m.1-59.9h0m0 69.5h0m.1-78h0m.1-86.7h0m.1 92.8h0m.1-55.1h0m.1 41.4h0m.1 117.5h0m.1-82h0m.1-14.9h0m.1 28.3h0m.1-59.4h0m.1 33.3h0m.1-59h0m.1-17.9h0m.1 41.5h0m0-34.2h0m.1-49.5h0m.1 81.7h0m.1-25.4h0m.1 6.3h0m.1 111.9h0m.1-38.9h0m.1 16.9h0m.1-56.4h0m.1-39.4h0m.1 6.3h0m.1 127.9h0m.1-218.5h0m.1 93.4h0m.1 50h0m0-81.2h0m.1 121h0m.1-88.5h0m.1 38.6h0m.1 118.4h0m.1-76h0m.1-51.7h0m.1 5.2h0m.1 75.8h0m.1 20.7h0m.1-65.5h0m.1-112.8h0m.1 65.9h0m.1 73.3h0m.1-85.4h0m0 21.3h0m.1-60.3h0m.1 54.6h0m.1 95.7h0m.1-42.3h0m.1-84.2h0m.1 112.3h0m.1-129.1h0m.1 114.6h0m.1-2.9h0m.1-104.8h0m.1-26.1h0m.1 167.3h0m.1-46.8h0m.1-20.5h0m.1-47.8h0m0 55.8h0m.1-89.8h0m.1 108.7h0m.1 73h0m.1-119.6h0m.1 90.4h0m.1-122.3h0m.1 56.6h0m.1-24.8h0m.1 30.9h0m.1-35.7h0m.1-67.8h0m.1 164.3h0m.1-137.9h0m.1 108.4h0m0-111h0m.1 95.9h0m.1-19.9h0m.1-42.8h0m.1 71.3h0m.1-34.4h0m.1 64.2h0m.1-44.1h0m.1 26.6h0m.1-156.9h0m.1 164.3h0m.1-77.7h0m.1.3h0m.1-88.3h0m.1 64.3h0m0 20.9h0m.1 17.5h0m.1-.4h0m.1-21.6h0m.1 26h0m.1 33.8h0m.1-65.2h0m.1-7.9h0m.1 83h0m.1-30.4h0m.1-66.5h0m.1 78.1h0m.1-11.6h0m.1 84.4h0m.1-62h0m.1-4h0m0-42.5h0m.1-41.7h0m.1 41.1h0m.1-7.9h0m.1-1.5h0m.1 102h0m.1-137.9h0m.1 132.4h0m.1-130.6h0m.1-20h0m.1 141.1h0m.1-84.8h0m.1-22.5h0m.1 53.8h0m.1-43.3h0m0 29.3h0m.1-34.5h0m.1 35.6h0m.1-47.1h0m.1 72.8h0m.1-66.1h0m.1 37.2h0m.1-109.3h0m.1 127.5h0m.1-51.5h0m.1 17.3h0m.1-6.6h0m.1-29.3h0m.1-2.4h0m.1 92h0m0-67.9h0m.1 12.8h0m.1-6.5h0m.1-42.7h0m.1 111.1h0m.1-85.4h0m.1 49.1h0m.1-55.5h0m.1-31.6h0m.1-47.6h0m.1 140.8h0m.1-179.1h0m.1 72.9h0m.1 51.3h0m.1 58h0m0-63h0m.1 86.3h0m.1-59.9h0m.1-2.7h0m.1 84.7h0m.1-49.6h0m.1-44.6h0m.1-5.6h0m.1 65.5h0m.1 27h0m.1-79.4h0m.1-3h0m.1 68.3h0m.1-109.2h0m.1 78.4h0m.1-7.9h0m0-19.6h0m.1-36.5h0m.1-68.8h0m.1 103.9h0m.1-90.5h0m.1 114.3h0m.1-41.7h0m.1 5.9h0m.1 89h0m.1-35.7h0m.1-78.4h0m.1 86.3h0m.1-58.3h0m.1-44.5h0m.1 68.5h0m0-9.8h0m.1 50.1h0m.1 2.5h0m.1 30.8h0m.1-112.2h0m.1 29.8h0m.1-81.5h0m.1 99.6h0m.1-25.1h0m.1-147.9h0m.1 187.7h0m.1-8.2h0m.1-97.3h0m.1-30.8h0m.1 89.3h0m0 27.7h0m.1-16.4h0m.1 72.9h0m.1 43.7h0m.1-108.1h0m.1-13.3h0m.1-11.3h0m.1 120.6h0m.1-97.3h0m.1 31.8h0m.1 9.8h0m.1 7h0m.1-28.7h0m.1 69.8h0m.1-62.4h0m.1-18h0m0-95h0m.1 69.3h0m.1 14.4h0m.1 79.6h0m.1-104.2h0m.1 38.4h0m.1-20.7h0m.1-120.1h0m.1 142.1h0m.1 69.6h0m.1-197.2h0m.1 170.2h0m.1-153.2h0m.1 77.4h0m.1 15.7h0m0 50.3h0m.1-45.5h0m.1 3.4h0m.1 42h0m.1 3.2h0m.1-60.4h0m.1 37.6h0m.1 43.2h0m.1-42.5h0m.1-72.4h0m.1 51.8h0m.1-77.3h0m.1 242.4h0m.1-158.8h0m.1-89.9h0m0 58.2h0m.1 42.7h0m.1 13.7h0m.1-41.9h0m.1-27.2h0m.1-11.6h0m.1 89.3h0m.1 17.8h0m.1-45.1h0m.1-6.3h0m.1-2.5h0m.1-52.1h0m.1 26.4h0m.1 45.5h0m.1-14.5h0m0 18.4h0m.1-67.7h0m.1 74h0m.1-87.9h0m.1 111h0m.1-69.8h0m.1 23.8h0m.1-48.8h0m.1 29.4h0m.1-57.7h0m.1 69.2h0m.1-95h0m.1 143.5h0m.1-46.3h0m.1 24.6h0m.1-40.3h0m0 30.9h0m.1-59.2h0m.1-9.4h0m.1 23.2h0m.1-51.7h0m.1 110.6h0m.1-55.9h0m.1 6.5h0m.1-30.8h0m.1 67.4h0m.1 25.9h0m.1-80.4h0m.1 81.8h0m.1-37h0m.1-5.6h0m0-93h0m.1 38.7h0m.1 102.3h0m.1-6.3h0m.1 56h0m.1-137.3h0m.1 69.2h0m.1-112.2h0m.1 32.2h0m.1-11.6h0m.1 12.3h0m.1 56.6h0m.1 55.1h0m.1-60.3h0m.1-70.1h0m0 165.4h0m.1-86.7h0m.1-139.5h0m.1 189.9h0m.1-65.4h0m.1 35.6h0m.1-86.5h0m.1 23.2h0m.1 45.8h0m.1-99.6h0m.1 82h0m.1 40.7h0m.1-21.8h0m.1-25.8h0m.1-16.5h0m.1-.2h0m0 93.4h0m.1-59.1h0m.1-5h0m.1-54.3h0m.1 64.9h0m.1 17.6h0m.1-149.9h0m.1 244.2h0m.1-91.3h0m.1-50.1h0m.1-80.2h0m.1 210.3h0m.1-86.8h0m.1-58.9h0m.1-90.5h0m0 166.5h0m.1-142.9h0m.1 89.1h0m.1-14h0m.1-45.1h0m.1 23.7h0m.1 1h0m.1 79.7h0m.1-24.3h0m.1 37.1h0m.1-107.6h0m.1 152.7h0m.1-84.9h0m.1 44.7h0m.1-77.5h0m0 39.4h0m.1-71.8h0m.1 104.9h0m.1-52.4h0m.1-35.7h0m.1 22.9h0m.1 10h0m.1-96.5h0m.1 96.5h0m.1-59.6h0m.1 47.8h0m.1 14.1h0m.1 108.7h0m.1-96.8h0m.1-87.2h0m0 93.9h0m.1-122.6h0m.1 10h0m.1 47.4h0m.1 108.9h0m.1 12.5h0m.1-31.3h0m.1-118.2h0m.1 73.2h0m.1 33h0m.1-167.6h0m.1 108.2h0m.1 145.6h0m.1-196.9h0m.1 18.5h0m.1-7.4h0m0 129.5h0m.1-22.5h0m.1-8.8h0m.1 21.5h0m.1-113.3h0m.1-99.9h0m.1 181.8h0m.1-110.1h0m.1 114.9h0m.1-5.4h0m.1-17.7h0m.1 57.3h0m.1-44.9h0m.1-81.7h0m.1 22.3h0m0 73.8h0m.1-66.5h0m.1 64.2h0m.1-53.2h0m.1 35.4h0m.1-61.4h0m.1 35.8h0m.1-69.7h0m.1 25.4h0m.1 83.6h0m.1-60.3h0m.1-44.1h0m.1 120.4h0m.1 18.6h0m.1-120.9h0m0 70.2h0m.1 12.9h0m.1-69.4h0m.1-16.2h0m.1 47.5h0m.1 88h0m.1-77h0m.1-.9h0m.1-130.3h0m.1 150.7h0m.1 30.2h0m.1-137h0m.1 127.3h0m.1-20.5h0m.1 21.8h0m.1-40.5h0m0 2.2h0m.1 123.1h0m.1-32.7h0m.1-138.3h0m.1-36.9h0m.1 102.4h0m.1 3.2h0m.1-16.7h0m.1-16.4h0m.1 82.9h0m.1-223.4h0m.1 101.3h0m.1 99.4h0m.1-25.7h0m.1-.5h0m0-62.1h0m.1 122.6h0m.1-36.2h0m.1-6.6h0m.1-19.9h0m.1-95.1h0m.1 24.3h0m.1-17.4h0m.1 62.9h0m.1-75.8h0m.1 72.2h0m.1-32.2h0m.1 30.6h0m.1-109.7h0m.1 55h0m0 59.7h0m.1 44.9h0m.1-114.1h0m.1 95.1h0m.1 94.8h0m.1-134.9h0m.1-31.2h0m.1-54.4h0m.1-44.5h0m.1 108.8h0m.1 12.7h0m.1 43.1h0m.1 62.7h0m.1-133.8h0m.1 57.7h0m0 62.3h0m.1-30.8h0m.1-30.4h0m.1-1.9h0m.1-73.6h0m.1-4.2h0m.1 108.1h0m.1 69.6h0m.1-53.3h0m.1 28.1h0m.1 1h0m.1-7.9h0m.1-91.5h0m.1 31.4h0m.1-126.1h0m.1 165.2h0m0-43.7h0m.1-.6h0m.1 42.2h0m.1-115.5h0m.1 73.4h0m.1-50.6h0m.1 120.8h0m.1-141.2h0m.1 33.9h0m.1 50.8h0m.1 61.8h0m.1-85.1h0m.1-69.2h0m.1 34.7h0m.1 52h0m0 10.8h0m.1-88.9h0m.1 118.8h0m.1-101.2h0m.1-2.9h0m.1 36.7h0m.1-50.3h0m.1-38.2h0m.1 87h0m.1-151.6h0m.1 143.2h0m.1-41.7h0m.1 75h0m.1-92.4h0m.1 121.9h0m0-27.5h0m.1 7.7h0m.1-13.8h0m.1-53.6h0m.1 70.8h0m.1 2.3h0m.1-24.8h0m.1 18.4h0m.1-7h0m.1-28.8h0m.1-14.3h0m.1 33.9h0m.1 0h0m.1 40.7h0m.1 11.7h0m.1-75.1h0m0-7h0m.1 120.2h0m.1-100.2h0m.1 1h0m.1-64.9h0m.1 85.8h0m.1-128h0m.1 48.1h0m.1 48.1h0m.1-23.2h0m.1 51.4h0m.1 39.8h0m.1-29.5h0m.1-45.7h0m.1-100.6h0m0 79h0m.1 134.2h0m.1-20.6h0m.1-45.9h0m.1 13.1h0m.1-2.8h0m.1-112.3h0m.1 51.7h0m.1-25.1h0m.1 74.8h0m.1 24.4h0m.1-52h0m.1 90.2h0m.1-99.7h0m.1-19.5h0m0-1.5h0m.1-73.4h0m.1 135.6h0m.1-61h0m.1 58h0m.1-10.5h0m.1 5.2h0m.1-108.1h0m.1 62.5h0m.1 5h0m.1 29.1h0m.1-66h0m.1-2h0m.1 108.8h0m.1-127.5h0m0 81.3h0m.1-65.8h0m.1 93.5h0m.1-62.9h0m.1 5.1h0m.1-27.6h0m.1-51.4h0m.1 184.3h0m.1-89.9h0m.1 76.1h0m.1-39.7h0m.1-81h0m.1 22.2h0m.1 53.9h0m.1-24.1h0m.1-61.2h0m0 76.6h0m.1 23.6h0m.1 17.4h0m.1 70.3h0m.1-125h0m.1-21.8h0m.1.4h0m.1-143.2h0m.1 227.5h0m.1 60.1h0m.1-287.8h0m.1 169h0m.1-35.9h0m.1 14.2h0m.1-76.3h0m0 80.8h0m.1-97.3h0m.1 134.3h0m.1 15.7h0m.1 14.6h0m.1-145.8h0m.1 23.9h0m.1 28.1h0m.1 99h0m.1-90.5h0m.1 100h0m.1-68.5h0m.1 23.4h0m.1-105.7h0m.1-11.4h0m0 43.8h0m.1-20.9h0m.1-14.3h0m.1 102.2h0m.1 51.3h0m.1-116.4h0m.1 32.3h0m.1 72.9h0m.1-63.2h0m.1 34.6h0m.1 16h0m.1 39.2h0m.1-4.6h0m.1-73.1h0m.1-63.8h0m.1 104.1h0m0-109.7h0m.1 62.6h0m.1 16.3h0m.1 145.5h0m.1-111.3h0m.1-33.2h0m.1-40.4h0m.1 9.9h0m.1-69h0m.1-35.6h0m.1 103.8h0m.1 15.8h0m.1-31.9h0m.1.2h0m.1 9.5h0m0 102.6h0m.1-121.5h0m.1 128.8h0m.1-132.2h0m.1 24.4h0m.1 8.6h0m.1 32.5h0m.1 86.2h0m.1-64.8h0m.1 5.8h0m.1-40.4h0m.1-15.1h0m.1-5.9h0m.1-52.5h0m.1 222.8h0m0-168.9h0m.1-32.6h0m.1-23.9h0m.1 44.6h0m.1-72.5h0m.1 138.6h0m.1 6.9h0m.1-113.6h0m.1 119h0m.1-23.2h0m.1-23.7h0m.1 5.1h0m.1-36.4h0m.1 88.3h0m.1-159.9h0m0 122.5h0m.1-40.9h0m.1-161.4h0m.1 147.6h0m.1 28.2h0m.1 19.6h0m.1-26.8h0m.1-53h0m.1 59.7h0m.1-6.3h0m.1-169.8h0m.1 105.8h0m.1 37.9h0m.1-14.9h0m.1 41.7h0m.1 94.7h0m0-102.9h0m.1-25.4h0m.1 19.7h0m.1-43.6h0m.1 17.1h0m.1-7.6h0m.1 65.9h0m.1-55.9h0m.1 32.4h0m.1 12.1h0m.1-69.9h0m.1 96.9h0m.1 36.5h0m.1-93.6h0m.1 26h0m0 43.1h0m.1 10.3h0m.1-45.5h0m.1-32h0m.1 37.7h0m.1-81.7h0m.1 13.9h0m.1-5.9h0m.1 68.2h0m.1-78.7h0m.1 69.6h0m.1-149.8h0m.1 86.8h0m.1 5.4h0m.1 72.5h0m0 62.1h0m.1-170.2h0m.1 97.9h0m.1-24.8h0m.1 27.6h0m.1-49.9h0m.1 94.4h0m.1-171.9h0m.1 181.1h0m.1-2.3h0m.1-114.8h0m.1 50h0m.1-64.8h0m.1 40.1h0m.1 2.6h0m.1-122.5h0m0 179.7h0m.1-9.9h0m.1 59.8h0m.1-97.3h0m.1 10.4h0m.1 53.5h0m.1-152.4h0m.1 134.5h0m.1-59.3h0m.1 114.6h0m.1-105h0m.1 60.2h0m.1-73.4h0m.1-140.5h0m.1 234h0m0-16.9h0m.1-2.1h0m.1-67h0m.1 112h0m.1-145.2h0m.1 8.7h0m.1 89.1h0m.1 15.9h0m.1 29.6h0m.1-129.9h0m.1 60.1h0m.1 4.3h0m.1 28.5h0m.1-143.4h0m.1 95.8h0m0-41.4h0m.1 60.6h0m.1 122.9h0m.1-112.3h0m.1 43.9h0m.1-28.3h0m.1-69.4h0m.1 42.7h0m.1-24.7h0m.1-6.2h0m.1 49h0m.1-13.7h0m.1-71.7h0m.1-125.1h0m.1 140.3h0m0 48.7h0m.1 49.8h0m.1-53.8h0m.1 10.5h0m.1 25.4h0m.1 6.7h0m.1-116.5h0m.1 47.3h0m.1 44.5h0m.1-61.3h0m.1-17.5h0m.1 31.5h0m.1 14.9h0m.1 53.7h0m.1-79.1h0m.1-17h0m0 22.9h0m.1 63.1h0m.1-133.3h0m.1 107.3h0m.1 70.3h0m.1-106.1h0m.1-9.5h0m.1-29.7h0m.1 13.1h0m.1 38.7h0m.1 71.3h0m.1-35.6h0m.1-56.5h0m.1-45.6h0m.1 13h0m0 115.7h0m.1-127h0m.1 155.9h0m.1-76.7h0m.1 78.2h0m.1-66.9h0m.1-60.9h0m.1 40.5h0m.1-29.1h0m.1-33.5h0m.1 51.3h0m.1 7h0m.1-52.8h0m.1 42.3h0m.1 50.9h0m0-35.3h0m.1-58.9h0m.1 135.3h0m.1-114.1h0m.1 94.6h0m.1-40.8h0m.1 39h0m.1-43h0m.1-101h0m.1 150.2h0m.1-98.7h0m.1-37.3h0m.1-44.4h0m.1 139h0m.1-60.1h0m.1 15.1h0m0-51.3h0m.1 172.3h0m.1-60.5h0m.1 17.2h0m.1-42h0m.1 50.3h0m.1-84.8h0m.1 94.5h0m.1-71.3h0m.1-20.6h0m.1 63.2h0m.1-17.5h0m.1-3h0m.1-143h0m.1 75.8h0m0-17.7h0m.1 25.9h0m.1 45.5h0m.1-56.2h0m.1 55.7h0m.1-59.1h0m.1 37h0m.1 45.7h0m.1 30.1h0m.1 38h0m.1-84.6h0m.1 4.5h0m.1 61.3h0m.1-157.7h0m.1 27h0m0 101.8h0m.1 6.6h0m.1 44h0m.1-6.9h0m.1-7.3h0m.1-39.4h0m.1-39.3h0m.1 58.8h0m.1-156h0m.1 84.9h0m.1-69h0m.1 65.2h0m.1-134.4h0m.1 186.9h0m.1-45h0m0 59.2h0m.1-138.7h0m.1 63.4h0m.1 63.5h0m.1-135.6h0m.1 79.4h0m.1-103.4h0m.1 209.8h0m.1-146.9h0m.1 50.6h0m.1 13.9h0m.1-110.8h0m.1 62.5h0m.1-55.4h0m.1 113.8h0m.1 46.5h0m0-194.2h0m.1 115.8h0m.1-71.9h0m.1 94h0m.1 10h0m.1 18.3h0m.1 5.5h0m.1-138h0m.1 16.3h0m.1 63.9h0m.1 39h0m.1-76.6h0m.1 8.3h0m.1 57.3h0m.1-16.7h0m0 83.8h0m.1-148h0m.1 84.1h0m.1-20.5h0m.1-.2h0m.1-14h0m.1-19.3h0m.1 98.3h0m.1-102.6h0m.1 53.5h0m.1-15.5h0m.1-40.2h0m.1 49.5h0m.1 2.3h0m.1 65.8h0m0-122.8h0m.1 72h0m.1-2.9h0m.1 20.9h0m.1-84.9h0m.1 50.7h0m.1-80.5h0m.1 94.4h0m.1 29.6h0m.1 69.4h0m.1-243.6h0m.1 94.2h0m.1 41.2h0m.1-168h0m.1 279.1h0m.1-114h0m0-107.1h0m.1 254.8h0m.1-123.1h0m.1-143.7h0m.1 54.9h0m.1 8.6h0m.1 33h0m.1 93.6h0m.1-123.4h0m.1 7.9h0m.1 28.7h0m.1 49.7h0m.1-35.6h0m.1-85.8h0m.1 116.4h0m0-92.1h0m.1 2.6h0m.1 173.6h0m.1-224.6h0m.1 91.4h0m.1-53.5h0m.1 93.4h0m.1-16.2h0m.1-70.9h0m.1 24.6h0m.1-3.2h0m.1 55.2h0m.1-119.7h0m.1 110.2h0m.1-3.3h0m0-14.7h0m.1-23.8h0m.1 60.9h0m.1-6.1h0m.1-8.4h0m.1-18.9h0m.1 32.9h0m.1-1.1h0m.1-95.7h0m.1-6.9h0m.1 44.1h0m.1-38h0m.1 28.5h0m.1 20.3h0m.1 85.5h0m0-64.8h0m.1 10.6h0m.1 24.7h0m.1-98h0m.1 35.1h0m.1-83.6h0m.1 27.9h0m.1 105.6h0m.1-55.2h0m.1 2.7h0m.1 103h0m.1 8.4h0m.1-83.9h0m.1-55.1h0m.1-23.1h0m.1 67.6h0m0-60.1h0m.1 58h0m.1-27h0m.1 19.5h0m.1-12.4h0m.1 127.5h0m.1-116.7h0m.1 153.9h0m.1-167.6h0m.1 111h0m.1-142h0m.1 68.5h0m.1-33.7h0m.1-39.2h0m.1 170.6h0m0-105h0m.1-61h0m.1-32.6h0m.1 135.5h0m.1-13.6h0m.1-30.7h0m.1-43.2h0m.1 8.4h0m.1-44h0m.1 38.6h0m.1 9.4h0m.1 56.6h0m.1 7.3h0m.1-104.9h0m.1-50.9h0m0 211.7h0m.1-95.6h0m.1-48.6h0m.1 54.9h0m.1-58.8h0m.1 17.9h0m.1-111.5h0m.1 113.6h0m.1 111.8h0m.1-44.9h0m.1-59.3h0m.1 18.3h0m.1 33.7h0m.1 20.3h0m.1-135.1h0m.1 61.8h0m0 24.5h0m.1 64.9h0m.1-94.5h0m.1 46.1h0m.1 17.9h0m.1-41.5h0m.1 26.9h0m.1 38.8h0m.1-134.7h0m.1 78.2h0m.1 7.4h0m.1 102.7h0m.1-227.7h0m.1 64.4h0m.1-39.7h0m0 24.9h0m.1 74.5h0m.1-73.3h0m.1 48.4h0m.1 7.5h0m.1-23.3h0m.1 96.6h0m.1-53.2h0m.1-65.7h0m.1 21.5h0m.1 41.2h0m.1-49.3h0m.1 59.3h0m.1-27.8h0m.1-27.7h0m0 11.2h0m.1-43.7h0m.1 79.1h0m.1-70.5h0m.1 13.1h0m.1 23.9h0m.1 139.6h0m.1-57.7h0m.1-101h0m.1-21.5h0m.1 97.5h0m.1-96.3h0m.1 122.5h0m.1-104.4h0m.1 101h0m0 55.3h0m.1-134.2h0m.1 56.6h0m.1 6h0m.1 144.3h0m.1-47.4h0m.1-186.4h0m.1 168.2h0m.1-58.8h0m.1-42.8h0m.1 12.8h0m.1-90.4h0m.1 11.1h0m.1 44.6h0m.1-112.4h0m.1 139.5h0m0-9.7h0m.1 77.5h0m.1-183.2h0m.1 174.2h0m.1-55.3h0m.1-4h0m.1-17.2h0m.1 2h0m.1-40.5h0m.1-14.2h0m.1 127h0m.1-203.7h0m.1 188.2h0m.1-34.4h0m.1-7.6h0m0 90.8h0m.1-102.5h0m.1 29.4h0m.1 38.7h0m.1-75.5h0m.1 63.1h0m.1-5.1h0m.1-57.5h0m.1 30.8h0m.1-77.7h0m.1 68.7h0m.1-8.7h0m.1-91.8h0m.1 83.5h0m.1 56.4h0m0-139.2h0m.1 6.6h0m.1 77.9h0m.1-51h0m.1-8.3h0m.1 59.5h0m.1-58.6h0m.1 62h0m.1 55.2h0m.1-43.3h0m.1-8.1h0m.1-69.8h0m.1 135h0m.1-90.8h0m.1 115.5h0m.1-132h0m0 34.2h0m.1-77.9h0m.1 94.1h0m.1-143.1h0m.1 127.3h0m.1 94.8h0m.1-56.3h0m.1-118.5h0m.1 129.6h0m.1-161.5h0m.1 88.6h0m.1-14.1h0m.1 9h0m.1 19.5h0m.1-138.5h0m0 202h0m.1-69.1h0m.1-54.3h0m.1 78.9h0m.1 67.2h0m.1-145.7h0m.1 99.6h0m.1-44.1h0m.1 10.3h0m.1-37.8h0m.1 35.4h0m.1 57.5h0m.1-152.2h0m.1 19.5h0m.1 40.5h0m0-4h0m.1-66.7h0m.1 65.5h0m.1-34.8h0m.1 90.9h0m.1-23.3h0m.1 10.3h0m.1 12.8h0m.1-51h0m.1-66.5h0m.1 136.7h0m.1-66.4h0m.1-11.9h0m.1 133.3h0m.1-183.6h0m0 168.1h0m.1 48.4h0m.1-148.9h0m.1-15.6h0m.1 58h0m.1-70.6h0m.1-69.7h0m.1 184.2h0m.1 29.6h0m.1-174.5h0m.1 147.5h0m.1-48.3h0m.1-21.1h0m.1 45.3h0m.1-83.1h0m.1 22h0m0 26.6h0m.1 10.6h0m.1-164h0m.1 216.7h0m.1-35.9h0m.1 30.2h0m.1-74.6h0m.1-52.5h0m.1 95h0m.1-.9h0m.1 26.8h0m.1-17h0m.1-93.4h0m.1-14.8h0m.1 53.7h0m0 36.4h0m.1-28.8h0m.1-43.9h0m.1 65.5h0m.1-127.4h0m.1 103.9h0m.1-125.5h0m.1 233.4h0m.1-210.4h0m.1 218.2h0m.1-55.1h0m.1 10.4h0m.1-13.9h0m.1-72.2h0m.1 27.4h0m0 91.6h0m.1-196.9h0m.1 87.3h0m.1 70.8h0m.1-97.4h0m.1 144.6h0m.1-175.2h0m.1 25.9h0m.1 49.4h0m.1-50.4h0m.1 29.8h0m.1 15.2h0m.1-10.4h0m.1 45.4h0m.1-11.7h0m.1-2.6h0m0-7.4h0m.1-7.9h0m.1 16.4h0m.1 2.8h0m.1 25.3h0m.1 51.2h0m.1-136.5h0m.1 146h0m.1-19.4h0m.1 13.5h0m.1-131.7h0m.1 47.6h0m.1 3.5h0m.1-35.6h0m.1 59.1h0m0-113.5h0m.1 18.7h0m.1 100.8h0m.1-25.8h0m.1-122.3h0m.1 122.5h0m.1-17.6h0m.1 41.9h0m.1-55.8h0m.1 4.6h0m.1-62.9h0m.1 52.1h0m.1-17.6h0m.1 55.9h0m.1-154h0m0 118.3h0m.1 68.7h0m.1-263h0m.1 236.7h0m.1-14.8h0m.1-18.3h0m.1 12.5h0m.1-62.4h0m.1 92.9h0m.1-35.7h0m.1-123.7h0m.1 147h0m.1-108.8h0m.1 8.4h0m.1 82.2h0m0-47.8h0m.1 34.6h0m.1 5.6h0m.1-23.2h0m.1 31.6h0m.1-117.3h0m.1 194.7h0m.1-49.3h0m.1-90.9h0m.1 26.7h0m.1 100.3h0m.1-141.5h0m.1-45.3h0m.1 224h0m.1-44.3h0m.1-56.3h0m0 78.2h0m.1-72.4h0m.1 15.2h0m.1-7.2h0m.1 10.1h0m.1-102.6h0m.1 61.3h0m.1 29.4h0m.1-96.4h0m.1-12.7h0m.1 71.9h0m.1 100h0m.1-103h0m.1 71.7h0m.1 10.9h0m12-516.4h0m.1-28.3h0m.1-50.2h0m.1-10.7h0m.1 14.2h0m.1-7.3h0m.1-6.8h0m.1 9.3h0m.1 26.8h0m.1-41.3h0m.1-18.3h0m.1 81h0m.1-46h0m.1 19.3h0m.1-32.9h0m0-13.4h0m.1 44.1h0m.1 7h0m.1-46.3h0m.1-6.3h0m.1 28h0m.1 1.1h0m.1-21.9h0m.1 39.1h0m.1-19.5h0m.1-31.9h0m.1 20.6h0m.1 10.5h0m.1-1.6h0m.1-17.7h0m.1 32.5h0m0-44.1h0m.1 39h0m.1-15.3h0m.1-38.2h0m.1 21.3h0m.1-47.5h0m.1 23.9h0m.1.5h0m.1 49.1h0m.1-10h0m.1-48.6h0m.1 34.1h0m.1-12.3h0m.1 53.7h0m.1-46.3h0m0 25.6h0m.1 9.2h0m.1 5.4h0m.1 13.7h0m.1-36.1h0m.1-37.1h0m.1 58.9h0m.1 2h0m.1-92h0m.1 73.2h0m.1 11.8h0m.1-18.7h0m.1 9.7h0m.1-36.1h0m.1 12.5h0m0-6.2h0m.1 73.7h0m.1-41.2h0m.1-10.1h0m.1-13.7h0m.1 26.7h0m.1 1.2h0m.1-9.4h0m.1-42.1h0m.1 24.1h0m.1-14.2h0m.1-6.9h0m.1 56.1h0m.1-24.5h0m.1 35.9h0m0-23.6h0m.1-2.7h0m.1-1.7h0m.1 8.7h0m.1 50h0m.1-33.4h0m.1-34.6h0m.1 51.3h0m.1-42.6h0m.1-23.9h0m.1-16.3h0m.1 5h0m.1 63h0m.1 3.7h0m.1-45.5h0m.1 21.7h0m0-30.2h0m.1 32.2h0m.1 28.2h0m.1-14.4h0m.1-19.6h0m.1-13h0m.1 27.9h0m.1 6.6h0m.1-21.3h0m.1 7.5h0m.1 40.7h0m.1-31.4h0m.1-37.7h0m.1 64.7h0m.1-33.6h0m0-46h0m.1 79.4h0m.1 9.2h0m.1-28.4h0m.1-25h0m.1-12.9h0m.1 16.7h0m.1-40.5h0m.1 67h0m.1.5h0m.1-40.7h0m.1 72.2h0m.1-21.7h0m.1 17.9h0m.1-24.9h0m0 18.8h0m.1-22.5h0m.1-36.9h0m.1 29.9h0m.1-36.3h0m.1 9.6h0m.1 22.3h0m.1-26.9h0m.1-6.3h0m.1 62.3h0m.1-33.3h0m.1 3.9h0m.1 9.3h0m.1-40.6h0m.1 39.8h0m.1-26.2h0m0 33.7h0m.1-1.8h0m.1-6.6h0m.1 38.7h0m.1-35.4h0m.1 9.9h0m.1-8.6h0m.1 5h0m.1 23.7h0m.1 21.6h0m.1-46.4h0m.1-11.9h0m.1-.4h0m.1 3.9h0m.1 36.5h0m0-47.1h0m.1-19.2h0m.1-35.2h0m.1 62.8h0m.1 6.5h0m.1-8.1h0m.1 4h0m.1 5.2h0m.1-19.8h0m.1 20.1h0m.1-25.5h0m.1 18.9h0m.1 68.6h0m.1-47.8h0m.1-7.8h0m0-7h0m.1 4.7h0m.1 33h0m.1-53.6h0m.1 21h0m.1-6.8h0m.1 35.8h0m.1-14.2h0m.1-31.1h0m.1-60.6h0m.1 96.8h0m.1 14.6h0m.1-46.9h0m.1 51.7h0m.1-74h0m0 2.6h0m.1-11h0m.1 69.9h0m.1-40.9h0m.1 36h0m.1-89.7h0m.1 88.6h0m.1-13.5h0m.1 39.6h0m.1-27.2h0m.1-50h0m.1 79.5h0m.1-38.9h0m.1 30.1h0m.1-55.7h0m.1 39.6h0m0 9.8h0m.1 3.1h0m.1 5.8h0m.1-63.1h0m.1 23.1h0m.1-17.8h0m.1 39.4h0m.1-85.5h0m.1 141.3h0m.1-88.7h0m.1 41.3h0m.1-45.1h0m.1 84.9h0m.1-11.1h0m.1-118.3h0m0 28.9h0m.1 53.3h0m.1-50.8h0m.1 37.3h0m.1 45.4h0m.1-65.1h0m.1 12.1h0m.1 2.2h0m.1 15.5h0m.1 21.1h0m.1 1.6h0m.1-58.9h0m.1 4.3h0m.1 36.9h0m.1 27.6h0m0-46.8h0m.1-7.3h0m.1 14.7h0m.1 1.4h0m.1 11.7h0m.1-13.5h0m.1 15.4h0m.1-23h0m.1 56.5h0m.1-17.9h0m.1-9.2h0m.1-7.5h0m.1-17.4h0m.1-14.1h0m.1 38h0m.1-12.1h0m0-1.8h0m.1 46.4h0m.1-45h0m.1 43.9h0m.1 15.9h0m.1-.5h0m.1-56.5h0m.1 19.4h0m.1-17.8h0m.1 12.6h0m.1 2.7h0m.1-41.4h0m.1 32.2h0m.1 9.7h0m.1 9.9h0m0-7.6h0m.1-4.8h0m.1-9.5h0m.1 56.1h0m.1-68.7h0m.1 6.1h0m.1 16.4h0m.1-6.6h0m.1-26.7h0m.1 63.1h0m.1-.8h0m.1-22.7h0m.1-3.6h0m.1 5.4h0m.1 33.6h0m0-63.2h0m.1 28.2h0m.1 27.4h0m.1-50.4h0m.1 39.6h0m.1-67.4h0m.1 74.7h0m.1 20.3h0m.1-21.9h0m.1-8h0m.1-37.2h0m.1 1.1h0m.1-1.2h0m.1 39.5h0m.1-18h0m0 51.7h0m.1-55.1h0m.1 28.3h0m.1-7.6h0m.1-11.7h0m.1-11h0m.1 32.6h0m.1-79.9h0m.1 122.9h0m.1-74h0m.1 26.4h0m.1 38.8h0m.1-84.5h0m.1 10.2h0m.1 68.4h0m.1-77.1h0m0 30.8h0m.1-4.4h0m.1 15.8h0m.1-12.4h0m.1 23.6h0m.1-36.9h0m.1 18.3h0m.1-33.2h0m.1 49.5h0m.1-60h0m.1 57.6h0m.1-26.6h0m.1 55h0m.1-29.7h0m.1 2.8h0m0-25.3h0m.1 25.1h0m.1 14.6h0m.1-8.8h0m.1 32.3h0m.1-44.6h0m.1 51.2h0m.1-86.8h0m.1 23.8h0m.1 9.9h0m.1-1.6h0m.1 19.3h0m.1-22.2h0m.1-22.4h0m.1 22.1h0m0-21.8h0m.1 31.1h0m.1 6.8h0m.1-91.3h0m.1 122.7h0m.1-57.3h0m.1 18.5h0m.1 9.3h0m.1-7.3h0m.1 28h0m.1 8h0m.1-104.4h0m.1 134.9h0m.1-70h0m.1 12.7h0m.1-9h0m0-18.5h0m.1 19.3h0m.1 6.2h0m.1 3.2h0m.1 22.4h0m.1-9.8h0m.1-33.1h0m.1 54.2h0m.1-17.6h0m.1-32.4h0m.1 31.1h0m.1 9.2h0m.1-26.3h0m.1 3.1h0m.1-84.7h0m0 37.1h0m.1 31.2h0m.1 12.7h0m.1 28.4h0m.1-58.2h0m.1 15h0m.1 16.2h0m.1-22.9h0m.1-18.7h0m.1 76.3h0m.1-26.5h0m.1 36.2h0m.1-63.4h0m.1 50.1h0m.1 1.2h0m0 28.7h0m.1-46.2h0m.1 30.5h0m.1-6.1h0m.1-26.6h0m.1-34.1h0m.1 1.6h0m.1 15.3h0m.1 10.2h0m.1 25.1h0m.1 9h0m.1-53h0m.1 39.8h0m.1 2.6h0m.1 5.6h0m0-47.5h0m.1-4.2h0m.1 51.5h0m.1-22h0m.1 1.3h0m.1 43h0m.1-56.8h0m.1-19.2h0m.1 20.2h0m.1 57h0m.1-43.1h0m.1 21.1h0m.1-.6h0m.1 71.7h0m.1-115.6h0m.1 42.4h0m0-2.3h0m.1-17.3h0m.1 16.8h0m.1-49.4h0m.1 61.9h0m.1-51h0m.1 60.2h0m.1-30.4h0m.1-37.4h0m.1 30.6h0m.1 31.2h0m.1-39.9h0m.1-33.3h0m.1 49.6h0m.1 6.1h0m0-1.5h0m.1 8.6h0m.1 44.7h0m.1-8.2h0m.1-10.4h0m.1-34.5h0m.1 79.5h0m.1-113.8h0m.1 4.2h0m.1 7.5h0m.1 23.7h0m.1 13.1h0m.1-32.7h0m.1 26.6h0m.1 23.8h0m0-11.6h0m.1 2.6h0m.1 14.2h0m.1 29.4h0m.1-76.7h0m.1 16.3h0m.1-63.1h0m.1 46.8h0m.1-.5h0m.1 11.4h0m.1-32.8h0m.1 38.9h0m.1 7h0m.1-31.1h0m.1 17.1h0m.1 43.5h0m0-10.8h0m.1-57.1h0m.1 27.2h0m.1 8.6h0m.1 27.2h0m.1 2.8h0m.1-35.6h0m.1 1.9h0m.1 17.2h0m.1-20.4h0m.1 24.1h0m.1-45.2h0m.1 17.1h0m.1 64.5h0m.1-41h0m0-29.2h0m.1 67.3h0m.1-36.9h0m.1-2h0m.1 4.5h0m.1 80.5h0m.1-94.2h0m.1-13h0m.1 41h0m.1 3.3h0m.1-42.4h0m.1 14.6h0m.1 53.5h0m.1-22.9h0m.1 20h0m0-45.6h0m.1 9.6h0m.1-30.6h0m.1-28.8h0m.1 83.5h0m.1-54.6h0m.1 28.6h0m.1-21h0m.1 21.2h0m.1-14.1h0m.1 63.9h0m.1-45.8h0m.1-16.6h0m.1 15.6h0m.1-66.5h0m0 82.4h0m.1-35.2h0m.1 64.4h0m.1-95.8h0m.1 89.6h0m.1-118.6h0m.1 63.3h0m.1 48.1h0m.1-11.4h0m.1-29.4h0m.1 49.1h0m.1-58.1h0m.1 50.3h0m.1 14.8h0m.1 4h0m.1-70.3h0m0 66.7h0m.1-1.4h0m.1-29.5h0m.1 1.4h0m.1 4.7h0m.1-23.6h0m.1 4.9h0m.1 22.6h0m.1 10.3h0m.1-23.7h0m.1-47.2h0m.1 63h0m.1-69.1h0m.1 87.8h0m.1-13.5h0m0-44.6h0m.1 50.1h0m.1 11.1h0m.1-46.8h0m.1-53.6h0m.1 96.2h0m.1-24.1h0m.1-17.2h0m.1 36.1h0m.1-41.5h0m.1 48.6h0m.1 15.3h0m.1-61.9h0m.1 2.9h0m.1 47h0m0-28.8h0m.1-51.5h0m.1 80.3h0m.1-42.2h0m.1 62.5h0m.1-85.8h0m.1 46.6h0m.1 3.4h0m.1 2.5h0m.1-38.3h0m.1-16.7h0m.1 60.1h0m.1 10.3h0m.1-23.8h0m.1 10.1h0m.1-32.4h0m0-8.9h0m.1 62.2h0m.1 9h0m.1 10.5h0m.1-34.6h0m.1-41h0m.1-48h0m.1 87.1h0m.1 35.4h0m.1-29.9h0m.1 11.8h0m.1-59.5h0m.1 82.7h0m.1-12h0m.1 32.5h0m0-34.1h0m.1 8.4h0m.1-94.3h0m.1-12.1h0m.1 26.3h0m.1 61.3h0m.1-23.1h0m.1-44.5h0m.1 19.6h0m.1 41h0m.1-61h0m.1 57.9h0m.1 8.7h0m.1 37.8h0m.1-55.5h0m0-80.7h0m.1 118.4h0m.1-32.5h0m.1-7.5h0m.1-15.6h0m.1 25.3h0m.1-25.9h0m.1 1.1h0m.1 5.2h0m.1 66.7h0m.1-31.9h0m.1-74.9h0m.1 56.2h0m.1-14.8h0m.1 20.7h0m0 8.7h0m.1-20.9h0m.1 62.8h0m.1-21.6h0m.1-75.7h0m.1 42.7h0m.1-29.4h0m.1-38.5h0m.1 29.6h0m.1 6.6h0m.1 3h0m.1 50.2h0m.1-11.5h0m.1-28.3h0m.1-7h0m.1 33.1h0m0 8.3h0m.1 23.7h0m.1-31h0m.1 7.1h0m.1-80.5h0m.1 58.7h0m.1 30.6h0m.1-40.2h0m.1-2.1h0m.1 85h0m.1-34.7h0m.1-27.4h0m.1 27.8h0m.1-18.9h0m.1-25.9h0m0 14.6h0m.1-1.9h0m.1 48.4h0m.1-47.9h0m.1 4.4h0m.1-31.4h0m.1 1.8h0m.1 26.6h0m.1 2.2h0m.1 19.9h0m.1-.4h0m.1-5.8h0m.1-37h0m.1 43h0m.1-54.9h0m0 47h0m.1 10.5h0m.1 24.9h0m.1-51.6h0m.1 16.8h0m.1-4h0m.1-41.8h0m.1 81.5h0m.1-59.9h0m.1 41h0m.1-52.9h0m.1 48.4h0m.1 6.1h0m.1-18.2h0m.1 59.5h0m.1-51.7h0m0 16.4h0m.1-78.4h0m.1 78.2h0m.1-67.4h0m.1-5h0m.1 26.4h0m.1 11.2h0m.1 63.8h0m.1-55.9h0m.1 8.8h0m.1-19.6h0m.1 14.5h0m.1-45.8h0m.1 58.1h0m.1 3.7h0m0-54.4h0m.1-16.1h0m.1 37.1h0m.1 25.2h0m.1-31h0m.1-53.5h0m.1 93.8h0m.1-58.6h0m.1 68.7h0m.1 32h0m.1-141.2h0m.1 107h0m.1 1.2h0m.1.3h0m.1 25.5h0m0 7.5h0m.1-36.9h0m.1.6h0m.1-9.4h0m.1-5.4h0m.1 42.8h0m.1-8.7h0m.1-19.3h0m.1 43.9h0m.1-2.7h0m.1-6.8h0m.1-24.2h0m.1-1.4h0m.1 46.4h0m.1-14.3h0m0-2h0m.1-58.2h0m.1 14h0m.1 12h0m.1-4.3h0m.1 55.3h0m.1-29.2h0m.1-76.8h0m.1 60.1h0m.1 10.8h0m.1-48h0m.1-11.9h0m.1 40.6h0m.1-2.1h0m.1 47.7h0m.1-40.8h0m0 28.6h0m.1 13.4h0m.1-5.7h0m.1-51h0m.1 18.8h0m.1-17.2h0m.1-25.8h0m.1 70h0m.1-68.7h0m.1-15.4h0m.1 21h0m.1 33.5h0m.1-4.9h0m.1 18.8h0m.1 3.1h0m0-111.3h0m.1 62.3h0m.1 28.4h0m.1 22.7h0m.1 2.4h0m.1-80h0m.1 43.5h0m.1-33.5h0m.1 71.1h0m.1-24.1h0m.1 17.7h0m.1-16.7h0m.1-25h0m.1-20.9h0m.1 101h0m0-102.5h0m.1 11h0m.1 78.4h0m.1-69.6h0m.1 49h0m.1 26.1h0m.1-.6h0m.1-17h0m.1-5.1h0m.1 21.2h0m.1-24.9h0m.1 9h0m.1-24.6h0m.1-4.5h0m.1-30.1h0m.1 86.9h0m0-38.2h0m.1 52.4h0m.1-107.2h0m.1 1.6h0m.1 35.9h0m.1-16.4h0m.1 21.8h0m.1-25.1h0m.1 17.7h0m.1 16.5h0m.1 45.6h0m.1-25.6h0m.1-46.2h0m.1 23.9h0m.1-3.5h0m0 58.8h0m.1-116h0m.1 41h0m.1 36.2h0m.1-31.8h0m.1 54.2h0m.1-55.8h0m.1 23.2h0m.1 28.5h0m.1 29.7h0m.1-16h0m.1-57.8h0m.1 54.3h0m.1-62.3h0m.1 18.2h0m0 45.8h0m.1-77.7h0m.1 82h0m.1-73.7h0m.1 58.6h0m.1-19.2h0m.1 14h0m.1 1.7h0m.1-86.6h0m.1 68.5h0m.1 23.1h0m.1-29.2h0m.1 46.7h0m.1-81.9h0m.1 21.3h0m0 64.4h0m.1-35.5h0m.1-2.5h0m.1 6.4h0m.1 54.3h0m.1-84.5h0m.1 47.5h0m.1-24.9h0m.1-1.9h0m.1-28.4h0m.1 76.7h0m.1-33.5h0m.1-26.2h0m.1 8.4h0m.1-14.9h0m.1 51.7h0m0-74.4h0m.1 28.3h0m.1 11.4h0m.1 12.7h0m.1-33.1h0m.1-.9h0m.1 54.2h0m.1 25.5h0m.1-95.4h0m.1 33h0m.1-2.7h0m.1-9.4h0m.1 47.5h0m.1-98.8h0m.1 30.4h0m0 31.9h0m.1 20.2h0m.1 10.6h0m.1 2.7h0m.1.3h0m.1-26.9h0m.1 2.7h0m.1 20.3h0m.1 21.4h0m.1 18.7h0m.1-61.4h0m.1-5.2h0m.1 57.1h0m.1-19.2h0m.1 25.4h0m0-45.3h0m.1-9.7h0m.1 27.5h0m.1-66.5h0m.1 73.7h0m.1-39.9h0m.1-2h0m.1 17.9h0m.1-37.6h0m.1 20.1h0m.1 62.4h0m.1-81.9h0m.1 42.1h0m.1-34.9h0m.1 67.4h0m.1 56.1h0m0-153.6h0m.1 74.2h0m.1-2.4h0m.1 17.1h0m.1 7.7h0m.1-18.2h0m.1 9.4h0m.1-42.1h0m.1 78.2h0m.1-36.4h0m.1-52.6h0m.1 25h0m.1 4.5h0m.1-33.9h0m.1 17h0m0-7.4h0m.1 56.8h0m.1 25.7h0m.1-44.6h0m.1 35.3h0m.1-77.1h0m.1 36.5h0m.1-19.8h0m.1 56.5h0m.1-61.4h0m.1 18.4h0m.1.2h0m.1-9.7h0m.1-19.8h0m.1 69.8h0m0-66.7h0m.1 36.3h0m.1-48.5h0m.1-2.6h0m.1 12.9h0m.1 4.8h0m.1 57h0m.1-70h0m.1 25h0m.1-2.4h0m.1 31.1h0m.1 17.7h0m.1-47.5h0m.1 10.5h0m.1 45.6h0m0 5.1h0m.1-36.5h0m.1-5.8h0m.1-68.4h0m.1 52.3h0m.1 56.1h0m.1-50h0m.1-44.6h0m.1 50h0m.1-9.1h0m.1 37.3h0m.1-21h0m.1 8.5h0m.1 70.9h0m.1-87.4h0m.1-13.1h0m0 27.4h0m.1 7.4h0m.1-44h0m.1 53h0m.1-66.9h0m.1 20h0m.1 44.4h0m.1 26.3h0m.1-53.6h0m.1 40.1h0m.1-32.2h0m.1-38.6h0m.1 32.9h0m.1 30.7h0m.1-1.7h0m0 30.2h0m.1-26.9h0m.1 20.6h0m.1 4h0m.1-91.5h0m.1 15.8h0m.1 26.7h0m.1 59.9h0m.1-14h0m.1-58h0m.1 7.6h0m.1-17h0m.1 11.3h0m.1 115.6h0m.1-98h0m0-51.6h0m.1 26.1h0m.1-23.9h0m.1 93.1h0m.1-42.6h0m.1 67.8h0m.1-14.2h0m.1-80.2h0m.1-10.8h0m.1-22h0m.1 91.4h0m.1 55.2h0m.1-93.9h0m.1-4.8h0m.1 8.1h0m.1-17.6h0m0-27.5h0m.1 33.2h0m.1-20.6h0m.1 35.1h0m.1-5.6h0m.1-2.7h0m.1 34.7h0m.1-61.9h0m.1 71.8h0m.1-9.4h0m.1 4.2h0m.1-46.3h0m.1 21.4h0m.1 33.9h0m.1-23.1h0m0-56h0m.1 58h0m.1-24.7h0m.1.1h0m.1 8.6h0m.1-40.8h0m.1 7.6h0m.1 3.8h0m.1 7.7h0m.1 38.5h0m.1 13.3h0m.1-4.7h0m.1 1.9h0m.1-25.8h0m.1-5.2h0m0-15.5h0m.1 61.3h0m.1-37.4h0m.1 13.3h0m.1-5.3h0m.1 43.8h0m.1-74.6h0m.1 10.3h0m.1-18.4h0m.1 14.2h0m.1 38.1h0m.1-25.3h0m.1-60.7h0m.1 39.8h0m.1 36.2h0m0-7.9h0m.1-15h0m.1 30.7h0m.1-24.3h0m.1 8.5h0m.1 20.3h0m.1-2.3h0m.1-66.5h0m.1 39.7h0m.1 46.2h0m.1-31.1h0m.1 28.3h0m.1-46.1h0m.1 47.4h0m.1-36.7h0m.1-3.3h0m0 11h0m.1 25h0m.1-48.6h0m.1 15.8h0m.1-13.8h0m.1 8h0m.1 7h0m.1-4h0m.1 7.3h0m.1 34.4h0m.1-61.2h0m.1-36.7h0m.1 138.3h0m.1-19.6h0m.1-114.5h0m0 45.8h0m.1 54.4h0m.1-44.8h0m.1-11.3h0m.1-28.1h0m.1-7.4h0m.1 87.8h0m.1-42h0m.1-46.1h0m.1 66.8h0m.1 14.1h0m.1-24.3h0m.1 7.2h0m.1-53.2h0m.1 57.3h0m0-22.9h0m.1-6.4h0m.1-9.7h0m.1 30.2h0m.1 77.1h0m.1-93.5h0m.1 12.4h0m.1-4.1h0m.1 1.3h0m.1 52.6h0m.1-22.6h0m.1 34.8h0m.1 22.9h0m.1-160.3h0m.1 111.3h0m.1-34.9h0m0-44.2h0m.1 5.7h0m.1 34.2h0m.1 44.9h0m.1-13.1h0m.1-18.9h0m.1-30.3h0m.1 20.7h0m.1 13.9h0m.1 6.2h0m.1-28.4h0m.1-43.9h0m.1 12.9h0m.1 58.7h0m.1-17.6h0m0 22.7h0m.1-1.2h0m.1-42.4h0m.1 35.3h0m.1 19.7h0m.1-57.8h0m.1 3.6h0m.1 53.7h0m.1-43.5h0m.1 18.3h0m.1-10.7h0m.1 3.7h0m.1-2.8h0m.1 39.9h0m.1-27.2h0m0-5.8h0m.1 11.6h0m.1-21.5h0m.1-17.6h0m.1-9.9h0m.1 93.3h0m.1-83.2h0m.1-1.5h0m.1 51.9h0m.1 18.3h0m.1-18.8h0m.1.9h0m.1-53.7h0m.1 95.8h0m.1-25.7h0m0-43.8h0m.1-2.6h0m.1-98.2h0m.1 79.5h0m.1 55.6h0m.1 3.7h0m.1-42.9h0m.1-15.4h0m.1 28.8h0m.1-10.7h0m.1 6h0m.1 25.3h0m.1-101.3h0m.1 80.5h0m.1-52h0m.1 68.7h0m0-46.3h0m.1-24h0m.1 66.8h0m.1 7.4h0m.1-55.9h0m.1 80.4h0m.1-61.2h0m.1-1.1h0m.1 17.5h0m.1-9.5h0m.1-12.5h0m.1 70.2h0m.1-62.8h0m.1 31.7h0m.1-34.6h0m0-5.2h0m.1 2.9h0m.1-18.6h0m.1 69.7h0m.1-74.4h0m.1 42.5h0m.1 10.6h0m.1-70.1h0m.1 75.1h0m.1-46h0m.1 13h0m.1-18h0m.1 56.8h0m.1-68.7h0m.1 12.2h0m0 41.8h0m.1 59.2h0m.1-33.4h0m.1 27.7h0m.1-91.3h0m.1 70.1h0m.1-45h0m.1-1.1h0m.1 94.3h0m.1-35.9h0m.1-38.6h0m.1-40.4h0m.1 40h0m.1 22.8h0m.1-20.6h0m.1 34.2h0m0-55.9h0m.1 47.4h0m.1-.5h0m.1-34.5h0m.1-12.3h0m.1 59.8h0m.1-38.5h0m.1 21.4h0m.1-50.4h0m.1 34.5h0m.1 2.3h0m.1.6h0m.1-9h0m.1 5h0m.1-14.2h0m0 13.9h0m.1-18.6h0m.1-3h0m.1 62.4h0m.1-129.4h0m.1 28.6h0m.1 50.5h0m.1-13.6h0m.1 89.8h0m.1-47.6h0m.1 16.2h0m.1-64.8h0m.1 8.7h0m.1-55.9h0m.1 42.6h0m0 48.8h0m.1-59.4h0m.1 62.8h0m.1-10.1h0m.1-56.6h0m.1-6.3h0m.1 35.8h0m.1 31.1h0m.1-44.3h0m.1-1h0m.1 18.7h0m.1 6.8h0m.1 3.4h0m.1 17.7h0m.1-73.3h0m0 42.8h0m.1 25.5h0m.1 32.7h0m.1-28h0m.1-22.4h0m.1 15.6h0m.1-37.4h0m.1 44.5h0m.1-52.9h0m.1 4.4h0m.1 8.4h0m.1 24.1h0m.1 27.4h0m.1-32.9h0m.1 76.5h0m.1-40.1h0m0 7.4h0m.1-18.1h0m.1-10h0m.1-7.3h0m.1 24.6h0m.1-22.6h0m.1-19.9h0m.1 53.3h0m.1-8.9h0m.1-34.3h0m.1-16.9h0m.1 19.3h0m.1-50.2h0m.1 83.8h0m.1-39.2h0m0 38h0m.1-9.5h0m.1-26.9h0m.1 9.3h0m.1-61.3h0m.1 56.2h0m.1-50h0m.1 94.1h0m.1-47.7h0m.1 31.6h0m.1-38.2h0m.1-14.4h0m.1 2.1h0m.1 63.3h0m.1-23.9h0m0-14.8h0m.1 8.2h0m.1-29.4h0m.1 27.2h0m.1-16.9h0m.1 75.8h0m.1-91.5h0m.1 31.8h0m.1-38.3h0m.1-2.8h0m.1-34.2h0m.1 115.6h0m.1-23.5h0m.1 16.4h0m.1-10.6h0m.1-32.1h0m0-23.9h0m.1 7h0m.1-39.8h0m.1 54.8h0m.1-5.7h0m.1-.1h0m.1 59.8h0m.1-84.3h0m.1 42h0m.1-40h0m.1 27.1h0m.1 1.5h0m.1 43.7h0m.1-52.5h0m.1 22.4h0m0 49.6h0m.1.3h0m.1-35.9h0m.1 1.5h0m.1 37.4h0m.1-31.2h0m.1-29h0m.1-10.7h0m.1-2.2h0m.1 27.5h0m.1-9.7h0m.1 45.5h0m.1-56.4h0m.1 46.5h0m.1-21.2h0m0-4.7h0m.1 22.9h0m.1-26.1h0m.1-3.5h0m.1-46.8h0m.1 38.2h0m.1-26.3h0m.1 41.6h0m.1-8.9h0m.1-4.2h0m.1-22.7h0m.1 3h0m.1 61.4h0m.1 5h0m.1-50.2h0m0 45.8h0m.1-43.1h0m.1-40.3h0m.1 38h0m.1 3.2h0m.1-20.7h0m.1 7.8h0m.1 31.9h0m.1-38.1h0m.1 21.4h0m.1 14.2h0m.1-39.5h0m.1 14.5h0m.1-33.6h0m.1 62.3h0m.1 27.8h0m0-23.8h0m.1-71.5h0m.1 78.9h0m.1-52.1h0m.1 32.3h0m.1-39.7h0m.1 87.8h0m.1-44.8h0m.1-32.5h0m.1 33.2h0m.1 61h0m.1-119.8h0m.1 74.6h0m.1-24.3h0m.1-54.7h0m0 60h0m.1 20.8h0m.1-45.5h0m.1-15.7h0m.1 10.6h0m.1 24.4h0m.1 23.5h0m.1-18.8h0m.1 30.7h0m.1-67.6h0m.1-5.7h0m.1 75.2h0m.1 12h0m.1-60.4h0m.1 13.9h0m0-2.3h0m.1 32.9h0m.1-17.6h0m.1-7.3h0m.1-10.5h0m.1-54.4h0m.1 98.7h0m.1-78.9h0m.1 9.3h0m.1-24.7h0m.1 18.7h0m.1.2h0m.1 15.4h0m.1-12.8h0m.1 41.5h0m.1-5.2h0m0-47.7h0m.1 85.2h0m.1-70.4h0m.1 86.5h0m.1-58.7h0m.1 5.9h0m.1-11.6h0m.1 29.5h0m.1 73.6h0m.1-85.7h0m.1-5.5h0m.1-16.9h0m.1-7.4h0m.1 44.3h0m.1 24.9h0m0-72.9h0m.1 16.4h0m.1-5h0m.1-8h0m.1 17.1h0m.1-20.6h0m.1-4.6h0m.1 125.3h0m.1-189.1h0m.1 79.9h0m.1 23.9h0m.1-35.6h0m.1-14h0m.1 45.3h0m.1 4.9h0m0 15.4h0m.1-80.6h0m.1 47.8h0m.1 35.6h0m.1 21.9h0m.1-26.6h0m.1-57h0m.1 35.9h0m.1-8h0m.1 16.2h0m.1 10.1h0m.1 23.2h0m.1-64.1h0m.1 44.3h0m.1-33.4h0m0-10.8h0m.1 0h0m.1 2.5h0m.1 36.4h0m.1-5h0m.1-105.7h0m.1 92h0m.1 19.7h0m.1-3.2h0m.1 19.9h0m.1-42.5h0m.1 21.7h0m.1-69.7h0m.1 49.5h0m.1-23.2h0m.1-20.6h0m0 1.1h0m.1 24.7h0m.1 32.3h0m.1-69h0m.1 43.3h0m.1 30.3h0m.1-33.8h0m.1 44.2h0m.1-39.2h0m.1 32h0m.1-8.1h0m.1 31.6h0m.1 2.9h0m.1-75.7h0m.1 69.2h0m0 12.8h0m.1-101.6h0m.1 97.9h0m.1-26.8h0m.1-41.8h0m.1 66.4h0m.1-18.2h0m.1-37.2h0m.1-1.1h0m.1 11.3h0m.1 6.9h0m.1-1.3h0m.1-10.1h0m.1-29.6h0m.1 42.1h0m0 15.1h0m.1 13.7h0m.1-52.1h0m.1 1.2h0m.1-19.2h0m.1 106.4h0m.1-34.8h0m.1-68.3h0m.1-19.1h0m.1 54.7h0m.1-24.8h0m.1 50.5h0m.1 36.2h0m.1-63h0m.1-31.3h0m.1 61.4h0m0 2.1h0m.1-11.2h0m.1-11.9h0m.1-10.2h0m.1 16.5h0m.1-59.7h0m.1 55h0m.1-7h0m.1 23.2h0m.1-89h0m.1 73.7h0m.1 3.1h0m.1-32.2h0m.1 30h0m.1-32.9h0m0 30h0m.1-57.5h0m.1 35.1h0m.1 19.6h0m.1-13.7h0m.1 31.1h0m.1-9.3h0m.1-55.7h0m.1 28.5h0m.1 41.9h0m.1-14.6h0m.1 38.2h0m.1-58.6h0m.1 16.4h0m.1 13.2h0m0-59.2h0m.1 42.7h0m.1-49.2h0m.1 47.6h0m.1 31.5h0m.1-20.9h0m.1-6.9h0m.1-6.7h0m.1 39.1h0m.1-60.5h0m.1 87.2h0m.1-42.8h0m.1 11h0m.1-6.3h0m.1-47.7h0m0 56.5h0m.1-12.5h0m.1-30.2h0m.1 6.8h0m.1-2.7h0m.1-34.8h0m.1-17.2h0m.1 49.9h0m.1 20.1h0m.1 29.1h0m.1-25.5h0m.1 38.4h0m.1-52.7h0m.1 2.7h0m.1 3.6h0m.1-12.7h0m0 42h0m.1-58.1h0m.1 30.7h0m.1 1.8h0m.1-10.8h0m.1 101.2h0m.1-80.7h0m.1-24.8h0m.1 70.5h0m.1-57.5h0m.1 13.4h0m.1-34.4h0m.1-34.4h0m.1 149h0m.1-82.5h0m0-24h0m.1-38.9h0m.1 31.3h0m.1 5.4h0m.1 6.7h0m.1-57.2h0m.1 43.9h0m.1 60.2h0m.1-19.6h0m.1 28.7h0m.1-35.3h0m.1-31h0m.1 56.7h0m.1-59.7h0m.1 27h0m0 2.4h0m.1-3.2h0m.1-54.3h0m.1 85.5h0m.1-72.8h0m.1 49.7h0m.1-45.7h0m.1 33.8h0m.1 22.3h0m.1-75.3h0m.1 5.3h0m.1 73.3h0m.1-67.7h0m.1 17.3h0m.1 60.7h0m.1-16.3h0m0-15.7h0m.1 26.1h0m.1-48.2h0m.1 42.5h0m.1-.5h0m.1-1.3h0m.1-25.1h0m.1 59.5h0m.1-11.7h0m.1 12.8h0m.1-66.5h0m.1-.3h0m.1 64.9h0m.1-51.2h0m.1 61.5h0m0-51.2h0m.1-5.3h0m.1-39.4h0m.1 52.6h0m.1-31.3h0m.1 53.6h0m.1-6.9h0m.1 2.5h0m.1-28.1h0m.1-36h0m.1 32.7h0m.1-19.8h0m.1 22.7h0m.1-16.8h0m.1 73.5h0m0-26.6h0m.1-37.9h0m.1 11.4h0m.1-12.8h0m.1 18.3h0m.1 68.9h0m.1-82.3h0m.1-78.1h0m.1 108.9h0m.1-29.2h0m.1-19.6h0m.1-8.5h0m.1 48.7h0m.1-43.7h0m.1 54.9h0m0-23.5h0m.1-37.1h0m.1 30.9h0m.1 22.1h0m.1-40.3h0m.1-26.7h0m.1 45.9h0m.1 69.2h0m.1-86.9h0m.1-.1h0m.1-12.1h0m.1 69.8h0m.1-45.5h0m.1 6.7h0m.1 13.2h0m.1-2.4h0m0-60.6h0m.1 86.8h0m.1-71.5h0m.1-12.7h0m.1 34h0m.1 20.9h0m.1-16.8h0m.1-16.8h0m.1-.6h0m.1 31.8h0m.1-17.8h0m.1-27.7h0m.1-8.8h0m.1 34.2h0m.1.3h0m0-53.6h0m.1 56.2h0m.1 27.5h0m.1 18.8h0m.1-11.6h0m.1-42.6h0m.1-6.1h0m.1 37.8h0m.1-44.7h0m.1 3.3h0m.1 94.7h0m.1-118.5h0m.1 51.1h0m.1-45.2h0m.1 60.7h0m0-46h0m.1 45.1h0m.1 16.2h0m.1-14h0m.1 48.7h0m.1-10.8h0m.1-91.2h0m.1 14.8h0m.1 61.8h0m.1-30.4h0m.1 8.9h0m.1-9.8h0m.1 19.7h0m.1-33.4h0m.1 47.9h0m.1-14.1h0m0 33h0m.1-88.2h0m.1-17.9h0m.1 44.4h0m.1-63.4h0m.1 5.8h0m.1 46.4h0m.1-6.5h0m.1 81.6h0m.1-85.9h0m.1 34.1h0m.1-21.7h0m.1-16.8h0m.1 40.8h0m.1 23.7h0m0 7.4h0m.1-46h0m.1 44.5h0m.1-21.5h0m.1-21.6h0m.1 33.4h0m.1-43.1h0m.1 59.9h0m.1-103.2h0m.1 27.4h0m.1-34.5h0m.1 77.4h0m.1-33.8h0m.1 5.7h0m.1 33.1h0m0 29.5h0m.1-43.9h0m.1-42.6h0m.1 93.3h0m.1-80.1h0m.1 42.4h0m.1 6.8h0m.1 16.4h0m.1-27.5h0m.1 28.9h0m.1-11.2h0m.1-10.7h0m.1-12.4h0m.1 10.2h0m.1-32.1h0m0 .3h0m.1 35.9h0m.1 50.2h0m.1-140h0m.1 81h0m.1 32.7h0m.1-58.5h0m.1 13.7h0m.1 37h0m.1-97.3h0m.1 89.5h0m.1.4h0m.1-13.9h0m.1 26.6h0m.1-12.6h0m.1-18.9h0m0 6.8h0m.1-48.9h0m.1 10.1h0m.1 83.1h0m.1-35.2h0m.1 11.2h0m.1 12.4h0m.1-56.4h0m.1 108.6h0m.1-139.4h0m.1 91.6h0m.1-79.4h0m.1 61.1h0m.1-22.9h0m.1-31.9h0m0 19.6h0m.1 6.7h0m.1-16.9h0m.1 24.5h0m.1-12.9h0m.1 29.9h0m.1 20.6h0m.1-54h0m.1-15.2h0m.1 104.7h0m.1-121.8h0m.1 4.6h0m.1 83.2h0m.1-67.6h0m.1 43h0m0-26.1h0m.1-13.7h0m.1 44.5h0m.1-53h0m.1 58.3h0m.1-83.4h0m.1 71.3h0m.1-10.9h0m.1-40.7h0m.1-56.2h0m.1 78.7h0m.1 18.8h0m.1 1.7h0m.1 57.8h0m.1-28.6h0m.1-57.8h0m0 5.3h0m.1-17.5h0m.1 32.7h0m.1 8.9h0m.1 7.4h0m.1-39.4h0m.1 51h0m.1-45.5h0m.1 28.2h0m.1 42.6h0m.1-65.1h0m.1 13.4h0m.1-59.8h0m.1 110.2h0m.1 4.2h0m0-37.9h0m.1 8.9h0m.1-63.5h0m.1 87.8h0m.1-4.7h0m.1 15.9h0m.1-68.5h0m.1 12.6h0m.1-37.2h0m.1-8.2h0m.1 62.8h0m.1-13.8h0m.1-26.5h0m.1 42.4h0m.1 22.1h0m0-56.8h0m.1 35.2h0m.1-12.4h0m.1 4h0m.1 25.7h0m.1-43.9h0m.1 26.5h0m.1-70.4h0m.1 65.8h0m.1 52.3h0m.1-10.7h0m.1-25.5h0m.1-55.2h0m.1 57.9h0m.1-29.4h0m0-19.2h0m.1 26.1h0m.1 1.6h0m.1 26h0m.1-35.4h0m.1-56h0m.1 43.8h0m.1 55.5h0m.1-40.5h0m.1 24.3h0m.1 4.1h0m.1-29.8h0m.1 30.3h0m.1 7.1h0m.1 2.7h0m.1-81h0m0 48.1h0m.1 1.6h0m.1 5.9h0m.1-49.6h0m.1 7h0m.1 49.2h0m.1 16.3h0m.1-33h0m.1-28.5h0m.1 80.4h0m.1-33.2h0m.1 13.8h0m.1-38.4h0m.1 6.2h0m.1 6.2h0m0 6.8h0m.1-48h0m.1 29h0m.1-68.8h0m.1 84.8h0m.1-46.6h0m.1 87.6h0m.1-8.2h0m.1-11.2h0m.1 2.2h0m.1-10.1h0m.1-29.8h0m.1 4.8h0m.1 9.3h0m.1-25.1h0m0-4.2h0m.1 44.6h0m.1 43h0m.1-50.7h0m.1-42.9h0m.1-31h0m.1-.3h0m.1 31.1h0m.1 45.7h0m.1-25.2h0m.1-26.1h0m.1 33h0m.1-3.5h0m.1 25.7h0m.1 4.1h0m.1-24h0m0-34.7h0m.1-22.6h0m.1 51h0m.1-11.8h0m.1 53.3h0m.1-1.2h0m.1-76.2h0m.1 82.4h0m.1-73.6h0m.1 34.4h0m.1 32.4h0m.1-87.7h0m.1 56.2h0m.1-9.6h0m.1 50h0m0-51.9h0m.1-11.5h0m.1 44.4h0m.1-9.9h0m.1 12.9h0m.1-31.2h0m.1-28.9h0m.1 69.4h0m.1-21.3h0m.1 61.9h0m.1-72.6h0m.1-52.9h0m.1 41.2h0m.1 23.6h0m.1-93.7h0m0 31.4h0m.1 49.9h0m.1-13h0m.1 27h0m.1-30.9h0m.1 81.9h0m.1-81.8h0m.1 20.8h0m.1-48.5h0m.1 45.7h0m.1 5.5h0m.1-27.1h0m.1-35.9h0m.1 117.3h0m.1-69.2h0m0 3.1h0m.1-31.3h0m.1 94.9h0m.1-103.8h0m.1 47.8h0m.1 1.2h0m.1 56.3h0m.1-104.3h0m.1 59h0m.1-2.4h0m.1-20.7h0m.1-19.6h0m.1-7.2h0m.1 30.9h0m.1-10.7h0m.1 30.7h0m0 19.7h0m.1-23.1h0m.1 9.5h0m.1-49.4h0m.1-28.4h0m.1 57.3h0m.1 33.6h0m.1-57.7h0m.1-13.1h0m.1 24.3h0m.1 10.7h0m.1 23.1h0m.1-34.4h0m.1 19.6h0m.1-18.2h0m0-66.1h0m.1 106.2h0m.1-48h0m.1 72.2h0m.1 28.3h0m.1-92.4h0m.1 5.8h0m.1 27.2h0m.1-15.3h0m.1 41.3h0m.1 2.6h0m.1-90.6h0m.1-18.6h0m.1 90.1h0m.1 20.1h0m0-53.3h0m.1-11.8h0m.1 24.1h0m.1-24.3h0m.1-57.1h0m.1 20.4h0m.1 31.2h0m.1 47.9h0m.1-44.2h0m.1 14.5h0m.1-41.2h0m.1 70.8h0m.1-87.5h0m.1 77.7h0m.1-12.5h0m.1-4.8h0m0-3.8h0m.1 3.3h0m.1-12.7h0m.1 24.2h0m.1 56.6h0m.1-56.9h0m.1-65.2h0m.1 37.1h0m.1 38.2h0m.1-2.1h0m.1-7.4h0m.1-24.2h0m.1.7h0m.1-11h0m.1-21.3h0m0 64h0m.1 2.6h0m.1 53.2h0m.1-49.4h0m.1-28.2h0m.1 37h0m.1-3.5h0m.1-71.3h0m.1 51.5h0m.1 12.8h0m.1-50.2h0m.1 2.4h0m.1 14.6h0m.1 57.1h0m.1-62.7h0m0 33.8h0m.1-92.9h0m.1 110.1h0m.1-3h0m.1 18.4h0m.1-45.5h0m.1-21.7h0m.1-29.7h0m.1 76.7h0m.1 14.9h0m.1-39.2h0m.1-3.5h0m.1-25h0m.1 72h0m.1-59.1h0m0 36.1h0m.1-83.2h0m.1 67h0m.1.4h0m.1 22.1h0m.1 15.3h0m.1-80h0m.1 12.8h0m.1 41.5h0m.1 15.3h0m.1-88.2h0m.1 28h0m.1 108.7h0m.1-98.6h0m.1 9h0m.1-.3h0m0 24.5h0m.1 3.7h0m.1-31.7h0m.1 70.9h0m.1 11.1h0m.1-60.8h0m.1-11.7h0m.1-23.2h0m.1 42.6h0m.1-57.4h0m.1 26.4h0m.1 9.8h0m.1 5.2h0m.1-12.2h0m.1 61.3h0m0-54.5h0m.1 29.7h0m.1-4h0m.1-28.6h0m.1 29.2h0m.1-33.1h0m.1-32.8h0m.1 14h0m.1 42.4h0m.1-34.6h0m.1 34.3h0m.1-8.3h0m.1 11.9h0m.1-4h0m.1-20.4h0m0 29.8h0m.1-16.8h0m.1 12.2h0m.1-13.2h0m.1-15.3h0m.1-1.1h0m.1-1.3h0m.1 12.8h0m.1-22.6h0m.1 39.8h0m.1-11.9h0m.1-8.6h0m.1-9.8h0m.1 55.7h0m.1 3.8h0m.1-10.2h0m0-37.3h0m.1 11.5h0m.1 26.5h0m.1-.7h0m.1-6.7h0m.1 3.6h0m.1 16.5h0m.1-38.4h0m.1-41.1h0m.1 58.4h0m.1-8.9h0m.1 44.6h0m.1-58h0m.1 4.8h0m.1 10.7h0m0-40.2h0m.1 1h0m.1-13.3h0m.1.8h0m.1 63.9h0m.1 8.8h0m.1-96.8h0m.1 68.1h0m.1 5.8h0m.1 1.6h0m.1 21.2h0m.1-115.5h0m.1 149.1h0m.1-98.8h0m.1-50.4h0m0 113.8h0m.1-20.5h0m.1-65.2h0m.1-21.5h0m.1 64.9h0m.1 52.2h0m.1-8.1h0m.1-55.6h0m.1 4.6h0m.1 44.7h0m.1-35.1h0m.1-11.6h0m.1 18h0m.1-24.3h0m.1-42.1h0m0 64.2h0m.1-28.1h0m.1 81.4h0m.1-44.3h0m.1-29.9h0m.1-60.4h0m.1 65.5h0m.1 16.6h0m.1-21.9h0m.1 64.4h0m.1 16.5h0m.1-34.5h0m.1-66.7h0m.1 11.8h0m.1-42.5h0m.1 64.7h0m0-7h0m.1 21.8h0m.1-30.9h0m.1-24.4h0m.1 73.4h0m.1-37.9h0m.1 30h0m.1 68h0m.1-99.6h0m.1 63.7h0m.1-66.8h0m.1 17.2h0m.1 28.3h0m.1-97.9h0m.1 85.2h0m0 3.7h0m.1 6.9h0m.1 17.9h0m.1-28h0m.1-8.3h0m.1 25.1h0m.1-8h0m.1 39.5h0m.1-69.9h0m.1 44.2h0m.1 22.3h0m.1-12.1h0m.1-40.5h0m.1-1.9h0m.1-86.3h0m0 86.5h0m.1-57.1h0m.1 37.6h0m.1 2h0m.1 4.9h0m.1-8.9h0m.1 34.2h0m.1 29.1h0m.1-19.8h0m.1-41.3h0m.1-1.7h0m.1 22h0m.1 23.5h0m.1-73.8h0m.1 80.7h0m.1 38.2h0m0-63.8h0m.1-57.4h0m.1 104.1h0m.1-24h0m.1-28.3h0m.1-.5h0m.1 20h0m.1 7.2h0m.1-45.6h0m.1 47.3h0m.1-76.5h0m.1 44.9h0m.1-19.3h0m.1 34.8h0m.1 16.3h0m0 30.1h0m.1-20.9h0m.1-73.1h0m.1 46.4h0m.1 43.1h0m.1-85.3h0m.1 35h0m.1 53.2h0m.1-49.2h0m.1-56.7h0m.1 68.7h0m.1-42.3h0m.1 45h0m.1-43.3h0m.1 27.5h0m0-29.2h0m.1-41.3h0m.1 59.8h0m.1 121.4h0m.1-76.6h0m.1 73.3h0m.1-139h0m.1 43.4h0m.1 14.9h0m.1-55.5h0m.1 20.3h0m.1 24.2h0m.1 94.9h0m.1-110.4h0m.1-46.5h0m0 77.6h0m.1 50.7h0m.1-87.9h0m.1 6.3h0m.1 4.7h0m.1-72.4h0m.1 6.8h0m.1 63.6h0m.1 30.9h0m.1 1.1h0m.1-52.3h0m.1 17h0m.1 51h0m.1-26.6h0m.1-33h0m.1 56.5h0m0 69.4h0m.1-140.9h0m.1-10.1h0m.1 23.4h0m.1-72.7h0m.1 49.5h0m.1 22h0m.1-1.2h0m.1-15.2h0m.1 13.5h0m.1-38.5h0m.1 74.5h0m.1-35.7h0m.1 3.2h0m.1 40h0m0-41.3h0m.1 35.6h0m.1 79.2h0m.1-133.6h0m.1-5.1h0m.1 20h0m.1 34.3h0m.1-83.4h0m.1 76.6h0m.1.5h0m.1-.5h0m.1-31.5h0m.1 22.8h0m.1 5.9h0m.1.6h0m0-48.4h0m.1 59.9h0m.1-56.6h0m.1 69.8h0m.1-106.6h0m.1 74h0m.1-20.5h0m.1 38.7h0m.1-61.6h0m.1 166.4h0m.1-137.1h0m.1 61h0m.1-37h0m.1-2.4h0m.1 58.3h0m.1-32.4h0m0-63.4h0m.1 36.9h0m.1-28.2h0m.1 45.4h0m.1-24.2h0m.1-73h0m.1 34.5h0m.1 33.5h0m.1 32.5h0m.1 3.1h0m.1-102.6h0m.1 81.5h0m.1-24.5h0m.1 4.8h0m.1 11h0m0-17.1h0m.1-11h0m.1-57.4h0m.1 153.6h0m.1-76.1h0m.1 18.7h0m.1 85.3h0m.1-37.7h0m.1.9h0m.1-27.6h0m.1-55.4h0m.1 17.6h0m.1 17.3h0m.1 45.9h0m.1-21.8h0m0 2.9h0m.1-4.7h0m.1-11.5h0m.1 9.6h0m.1-106.4h0m.1 11.5h0m.1 7.4h0m.1 60.4h0m.1 32.2h0m.1-13h0m.1 16.9h0m.1-27.9h0m.1 19.7h0m.1-74.7h0m.1 106.5h0m0-108.8h0m.1 44.9h0m.1-13h0m.1 31.4h0m.1-53h0m.1-3.8h0m.1 108.9h0m.1-113.1h0m.1 104.1h0m.1-46.5h0m.1-14.2h0m.1 11.2h0m.1 54.8h0m.1-60.6h0m.1 8.7h0m.1 36.2h0m0-77.1h0m.1 49.4h0m.1 4.1h0m.1-36.3h0m.1 81h0m.1-75.7h0m.1 15.7h0m.1 32.3h0m.1-29.3h0m.1 10.4h0m.1-50.6h0m.1 128.5h0m.1 4h0m.1-41.1h0m.1-36.1h0m0 44.6h0m.1-20.5h0m.1-57.3h0m.1 17h0m.1 33.1h0m.1-20.4h0m.1-48.7h0m.1 44.4h0m.1 42.3h0m.1-47.3h0m.1-9.4h0m.1 33h0m.1-151.2h0m.1 148.6h0m.1 52.2h0m0-74.1h0m.1-69.4h0m.1 83.6h0m.1-15.4h0m.1-62.7h0m.1 29.9h0m.1 62h0m.1 16.6h0m.1-37.9h0m.1-5.2h0m.1 28.9h0m.1-60h0m.1 18.1h0m.1 11.1h0m.1-.1h0m.1-4.1h0m0 12.7h0m.1 23.5h0m.1-66.7h0m.1 38.3h0m.1-5h0m.1 4h0m.1 54h0m.1-53.7h0m.1 72.4h0m.1-64.1h0m.1-60h0m.1 53.3h0m.1-23.3h0m.1 68.5h0m.1-99.8h0m0 44.6h0m.1-90.6h0m.1 96.9h0m.1-60.6h0m.1 104.6h0m.1-4.3h0m.1-37.3h0m.1 29.1h0m.1-66.5h0m.1 29.4h0m.1-36.9h0m.1 59h0m.1-75.7h0m.1 120.6h0m.1-71.8h0m0-45.3h0m.1 137.6h0m.1 14.4h0m.1-51.4h0m.1-170.2h0m.1 142.5h0m.1-37.1h0m.1 0h0m.1-27.9h0m.1 51.9h0m.1-23.8h0m.1 58.2h0m.1-75h0m.1 86.8h0m.1-27.3h0m0 32h0m.1-106.6h0m.1 44h0m.1 3.4h0m.1 24.4h0m.1-14.3h0m.1-41.6h0m.1 31.4h0m.1 29.3h0m.1-32h0m.1 17h0m.1-67.1h0m.1 57.7h0m.1 53.7h0m.1 27.4h0m.1-85.5h0m0-12.6h0m.1 32.2h0m.1-29.9h0m.1-31.1h0m.1 93.8h0m.1-32.7h0m.1 15.4h0m.1 73.3h0m.1-113.3h0m.1 64.2h0m.1-10.1h0m.1 34.9h0m.1 10.5h0m.1-62.8h0m.1-48.9h0m0 15h0m.1 3.8h0m.1 108.3h0m.1-145.9h0m.1 79.6h0m.1-63.7h0m.1-18.2h0m.1 77.4h0m.1-43.4h0m.1 37.2h0m.1-45.2h0m.1 68.1h0m.1 23.5h0m.1-90h0m.1 43.5h0m0-40.7h0m.1-39.3h0m.1-11.1h0m.1 162.4h0m.1-96h0m.1-84.9h0m.1 104.1h0m.1-6.4h0m.1-21.9h0m.1 20.7h0m.1-31.6h0m.1 0h0m.1 46.2h0m.1 63.8h0m.1-39.8h0m.1-14.5h0m0 .4h0m.1-.5h0m.1 35.3h0m.1 10.3h0m.1-107.8h0m.1-19.1h0m.1 41.2h0m.1 75.7h0m.1 9.2h0m.1-57.2h0m.1 25.5h0m.1-55h0m.1 32.7h0m.1-46.9h0m.1 57.9h0m0-91.5h0m.1-16.4h0m.1 24.1h0m.1 49.9h0m.1 16.1h0m.1 29.2h0m.1-42.9h0m.1 42.3h0m.1-59.7h0m.1 14h0m.1 37h0m.1-87.1h0m.1 15.2h0m.1 32.4h0m.1-21.5h0m0 7.1h0m.1-5.3h0m.1 35h0m.1-61.1h0m.1 75.2h0m.1-33.5h0m.1 34.9h0m.1-23.4h0m.1 12.6h0m.1-40.4h0m.1 28.7h0m.1-48h0m.1 60.6h0m.1 68.3h0m.1-123.4h0m0 52.3h0m.1-82.3h0m.1 37.6h0m.1 53.8h0m.1-48.9h0m.1 33.9h0m.1 27.7h0m.1-51.4h0m.1 76.1h0m.1-121.6h0m.1 44.5h0m.1 11.6h0m.1 19.7h0m.1-98.8h0m.1 151.7h0m.1-55.9h0m0-4.9h0m.1 26.2h0m.1-32.5h0m.1 52.4h0m.1-41.6h0m.1-27h0m.1-10.5h0m.1 115h0m.1-151.3h0m.1-7.3h0m.1 69.1h0m.1-20h0m.1 138.2h0m.1-25.4h0m.1-67.7h0m0-68.2h0m.1 84.2h0m.1-56.8h0m.1 100.9h0m.1-61.1h0m.1 44.4h0m.1 18.8h0m.1-72.3h0m.1 66.7h0m.1-106.4h0m.1 58.4h0m.1-9.7h0m.1 11.8h0m.1-25.8h0m.1 69.7h0m0-78.5h0m.1 34.6h0m.1-44.3h0m.1 133.7h0m.1-72.8h0m.1-22.4h0m.1-16.3h0m.1 9.5h0m.1-31.3h0m.1-33.3h0m.1-5h0m.1 156.9h0m.1-144.3h0m.1 113h0m.1-93.1h0m.1 42.5h0m0 49.2h0m.1-196.9h0m.1 65.4h0m.1 76.3h0m.1 133.4h0m.1-221.2h0m.1 88.5h0m.1-25.1h0m.1 18.2h0m.1-5.2h0m.1-16.7h0m.1 51.9h0m.1 25.8h0m.1-10.6h0m.1-158.1h0m0 156.5h0m.1-61.3h0m.1-11.4h0m.1 72.6h0m.1-29.3h0m.1 57.3h0m.1-133.5h0m.1 108.8h0m.1-59.9h0m.1 35.8h0m.1-27.5h0m.1-3.1h0m.1-64.9h0m.1 20.1h0m.1 144.6h0m0-90.2h0m.1 104.1h0m.1-131.6h0m.1 84.9h0m.1-46.8h0m.1-9.5h0m.1-21.1h0m.1 64.2h0m.1-85.6h0m.1 8h0m.1 106.8h0m.1-64.3h0m.1-5.6h0m.1-72.8h0m.1 39.2h0m0 80.4h0m.1-73.3h0m.1-55.3h0m.1 114.6h0m.1-99.5h0m.1 86h0m.1 76.6h0m.1-36.9h0m.1-62.8h0m.1-27.2h0m.1-9.5h0m.1 49.8h0m.1-11.5h0m.1 63.1h0m.1-60.1h0m.1 49.5h0m0-28.2h0m.1 100.1h0m.1-225.1h0m.1 115.5h0m.1-69.7h0m.1 38.9h0m.1-64.9h0m.1 97.5h0m.1-97.1h0m.1 127.9h0m.1 32.9h0m.1-18.3h0m.1-127.1h0m.1 62h0m.1 49h0m0-97h0m.1 98.7h0m.1 3.1h0m.1-120.2h0m.1 105.1h0m.1-23.9h0m.1.2h0m.1 38.5h0m.1-51.3h0m.1 34.4h0m.1-34.6h0m.1-29h0m.1-13.5h0m.1 80.6h0m.1-55.8h0m0 89.3h0m.1-66.6h0m.1-37.5h0m.1 9.8h0m.1 47.9h0m.1 12.5h0m.1-47.3h0m.1-26.7h0m.1 46.5h0m.1-4.2h0m.1 63.7h0m.1-113.1h0m.1 106.6h0m.1-101.6h0m.1-6.7h0m.1 88.9h0m0 11.5h0m.1-61.5h0m.1 8.2h0m.1 11.8h0m.1-33.5h0m.1 23.1h0m.1 58.8h0m.1 8.2h0m.1-55h0m.1 1.7h0m.1-1.2h0m.1 52.1h0m.1-119.9h0m.1 72.5h0m.1-5.9h0m0-14.6h0m.1 5h0m.1-42h0m.1 47.4h0m.1 13h0m.1-44.7h0m.1 61h0m.1 24.9h0m.1-21.6h0m.1-34.4h0m.1-9.2h0m.1 5.1h0m.1-49.9h0m.1 55h0m.1 39h0m0-49.3h0m.1 22.2h0m.1-43.3h0m.1 34.2h0m.1 12.1h0m.1-10.5h0m.1-86.2h0m.1 55.9h0m.1 13.3h0m.1-5.4h0m.1 34h0m.1-25.8h0m.1-70.1h0m.1 60h0m.1-19.6h0m0 73.6h0m.1-13.3h0m.1-10.3h0m.1 40.9h0m.1-44.8h0m.1-14.3h0m.1-32.7h0m.1 77.6h0m.1-45.6h0m.1 34.7h0m.1-110.5h0m.1 151.1h0m.1-48.9h0m.1 10.3h0m.1-40.1h0m.1-38.3h0m0 55.2h0m.1-20.6h0m.1-12.9h0m.1 2.9h0m.1 45.2h0m.1-28h0m.1-73.5h0m.1 96h0m.1 1.3h0m.1-1.6h0m.1-41.2h0m.1-5.8h0m.1 28.5h0m.1 56.6h0m.1-91.1h0m0-3.5h0m.1 25h0m.1-35.8h0m.1 117.5h0m.1-96.8h0m.1 59h0m.1-56.9h0m.1 109.4h0m.1-40.3h0m.1-7.3h0m.1 11.2h0m.1-7.1h0m.1-79.8h0m.1 64.2h0m.1-11h0m0 51.7h0m.1-42.9h0m.1-47.7h0m.1 147.2h0m.1-109.3h0m.1-32h0m.1-16.8h0m.1 66.4h0m.1-103h0m.1 76.9h0m.1 19.4h0m.1-93.1h0m.1 22.6h0m.1-78.4h0m.1 138h0m.1-11.6h0m0 2.1h0m.1-7.5h0m.1 36.4h0m.1 101.5h0m.1-78h0m.1-42.5h0m.1-3h0m.1 71.4h0m.1-132.7h0m.1 57.5h0m.1 52.5h0m.1-87h0m.1 84.3h0m.1-88.3h0m.1 33.8h0m0-22.4h0m.1 27.8h0m.1-98h0m.1 84.7h0m.1 7.6h0m.1-12h0m.1 57h0m.1-18.2h0m.1-41.4h0m.1 47.9h0m.1-62h0m.1 25.8h0m.1 35.2h0m.1-26.2h0m.1 43.9h0m0-50.5h0m.1-15h0m.1 57.3h0m.1-23.5h0m.1 30.4h0m.1 58.2h0m.1-44.5h0m.1-55.4h0m.1.3h0m.1-39.5h0m.1 41.5h0m.1-55.1h0m.1 86.4h0m.1-41.5h0m.1-45.3h0m0 62.6h0m.1 33.7h0m.1-18.5h0m.1-8.8h0m.1 41.3h0m.1-85.3h0m.1 36.5h0m.1-16.7h0m.1 26.4h0m.1-65.2h0m.1 84h0m.1-55h0m.1 46.1h0m.1 15.4h0m.1-35.8h0m.1 69.5h0m0-112.5h0m.1 8.2h0m.1-5h0m.1 11.1h0m.1 46.4h0m.1 21.2h0m.1-39.6h0m.1-28.7h0m.1 1.4h0m.1-46.7h0m.1 66.6h0m.1-63.6h0m.1 99.5h0m.1-82.1h0m.1 116.4h0m0-159.8h0m.1 117.5h0m.1-98.4h0m.1 44.9h0m.1-.1h0m.1 39.4h0m.1 40.2h0m.1-14.7h0m.1-102.4h0m.1 102.3h0m.1-106.7h0m.1 34.8h0m.1 82.7h0m.1-103.9h0m.1 21.8h0m0 26h0m.1-49.6h0m.1 68.5h0m.1-124h0m.1 146.8h0m.1-32.5h0m.1-13h0m.1 50.1h0m.1-90h0m.1 72.3h0m.1-15.6h0m.1-16.7h0m.1 9.6h0m.1-25.1h0m.1-35.8h0m.1-20.5h0m0 98.2h0m.1 9.5h0m.1-35.1h0m.1-7.8h0m.1-43h0m.1 152.1h0m.1-114.2h0m.1 43.1h0m.1-2h0m.1-57.3h0m.1 36.3h0m.1 20.7h0m.1-40.6h0m.1 20.3h0m.1 14.7h0m0-143.7h0m.1 138h0m.1-22.5h0m.1 4.3h0m.1-55.4h0m.1 32.1h0m.1 13.5h0m.1-27.8h0m.1 40.8h0m.1-28.8h0m.1 15.4h0m.1.1h0m.1 79.3h0m.1-73.7h0m.1-60.7h0m0 11.2h0m.1 73.4h0m.1 7.1h0m.1-43.9h0m.1-8.6h0m.1 45.5h0m.1-87.5h0m.1 86.9h0m.1-7.7h0m.1 2h0m.1-84.9h0m.1 85.7h0m.1 19.6h0m.1-43.7h0m.1-17h0m0-38.1h0m.1 58.4h0m.1 32.3h0m.1-16.9h0m.1 8h0m.1 31.2h0m.1-67.2h0m.1-37.5h0m.1 5.4h0m.1 44.4h0m.1 7.3h0m.1 3.5h0m.1 84.9h0m.1-121h0m.1 27.5h0m.1-57.5h0m0 6.1h0m.1 7.2h0m.1 31.4h0m.1 141.3h0m.1-119.3h0m.1 7h0m.1-63.6h0m.1 19.6h0m.1-3.5h0m.1 67.8h0m.1-39.5h0m.1 43.1h0m.1-75.8h0m.1 39.3h0m.1 20.4h0m0 72.2h0m.1-23.2h0m.1-104.1h0m.1 81.9h0m.1-53h0m.1 3.8h0m.1-13h0m.1 22.8h0m.1-76.2h0m.1 85.8h0m.1-36h0m.1 26.2h0m.1-78.7h0m.1 67.4h0m.1-20.4h0m0 9.7h0m.1 16.5h0m.1 32.4h0m.1-32.1h0m.1 17h0m.1-40.9h0m.1-13.5h0m.1 2.3h0m.1 11.3h0m.1 45.2h0m.1-1.5h0m.1 7h0m.1-14.2h0m.1-28.1h0m.1-45.2h0m.1 100.2h0m0-1.2h0m.1-95.7h0m.1 143.9h0m.1-109.2h0m.1 68.9h0m.1-80.7h0m.1 60h0m.1-18.2h0m.1 28.6h0m.1-26.2h0m.1-35h0m.1 115.2h0m.1-148.3h0m.1 32.9h0m.1-35h0m0 94.8h0m.1-27.7h0m.1-18.8h0m.1 69h0m.1-15.6h0m.1-52.6h0m.1 9.8h0m.1 9.1h0m.1-9.1h0m.1 39.3h0m.1-17.4h0m.1-11.5h0m.1 13h0m.1-33.1h0m.1 44.9h0m0 16.7h0m.1-30h0m.1-28.8h0m.1 15.3h0m.1-22.4h0m.1 63.2h0m.1 26.3h0m.1-84.1h0m.1 23.7h0m.1-29.9h0m.1 24.5h0m.1-23.6h0m.1 99.9h0m.1-106.5h0m.1 67.8h0m0-59.6h0m.1 34.9h0m.1-18.9h0m.1-18.2h0m.1-17.8h0m.1 47.3h0m.1 15.4h0m.1-6.2h0m.1 2.7h0m.1-28.1h0m.1 72.8h0m.1-74h0m.1 2.8h0m.1.7h0m.1 15.8h0m.1-67.1h0m0 74.8h0m.1-8.7h0m.1 10.4h0m.1 93.9h0m.1-106.3h0m.1-74.5h0m.1 32.9h0m.1 56.3h0m.1-34.6h0m.1 30h0m.1-4.2h0m.1-24.2h0m.1-62.1h0m.1 36.5h0m.1 9.8h0m0 32.4h0m.1-34.9h0m.1 32.7h0m.1 61.3h0m.1-96.7h0m.1-77.2h0m.1-.2h0m.1 112.4h0m.1-18.6h0m.1 91h0m.1-122h0m.1-22.5h0m.1 52.8h0m.1 35.9h0m.1 34.1h0m0 9h0m.1-26.8h0m.1-38.6h0m.1-12.7h0m.1-12.1h0m.1 42.9h0m.1-14.8h0m.1-44.6h0m.1 30.6h0m.1-27.7h0m.1 52.4h0m.1 2h0m.1 23.3h0m.1-71.8h0m.1 10.9h0m.1 7.9h0m0-44.1h0m.1 27.5h0m.1 17.4h0m.1 17.8h0m.1-27.4h0m.1 111.8h0m.1-63.5h0m.1-55.2h0m.1 5.7h0m.1 14.8h0m.1 29.1h0m.1 7.7h0m.1-.2h0m.1-8.4h0m.1-3.3h0m0-50.5h0m.1 21h0m.1 18.6h0m.1 12.8h0m.1-57.7h0m.1 69.7h0m.1 11.5h0m.1-97.6h0m.1-4.4h0m.1 20h0m.1 8.9h0m.1 42.1h0m.1 29h0m.1 3.4h0m.1-52.6h0m0-12.2h0m.1 76.6h0m.1-28.2h0m.1-11.9h0m.1-28.6h0m.1-5.4h0m.1 41.4h0m.1-21.7h0m.1-4.1h0m.1-6.8h0m.1 31.4h0m.1 12.7h0m.1-12.1h0m.1-16.9h0m.1-65.1h0m0 76.5h0m.1-17.4h0m.1-69.8h0m.1 53.7h0m.1-17.7h0m.1 34.6h0m.1 1.3h0m.1 21.9h0m.1 82h0m.1-158h0m.1 89.1h0m.1-77.1h0m.1 74.8h0m.1-28.7h0m.1-5.7h0m.1-115.2h0m0 126h0m.1 25.3h0m.1-32.2h0m.1 20.6h0m.1 32h0m.1-49.2h0m.1 15.5h0m.1-22.7h0m.1-38.6h0m.1 86.6h0m.1-12.7h0m.1-52.4h0m.1-5.3h0m.1 48.9h0m.1-19.8h0m0-36.8h0m.1 7.3h0m.1 74.4h0m.1-77.8h0m.1 19.2h0m.1 26.1h0m.1 22.3h0m.1-10.7h0m.1-41.7h0m.1 4h0m.1 14.1h0m.1-34.8h0m.1 99.4h0m.1-76.1h0m.1 45.2h0m0-79.4h0m.1 18.1h0m.1 1.3h0m.1-11.9h0m.1-18.4h0m.1 29.5h0m.1 40.1h0m.1 26.6h0m.1 14h0m.1-19.4h0m.1 21.8h0m.1-51.8h0m.1 53h0m.1-18.6h0m.1-59.6h0m.1 20.8h0m0 29.6h0m.1 23.8h0m.1-91.8h0m.1 89.2h0m.1-69.1h0m.1-22.7h0m.1-9.2h0m.1-19h0m.1 56.5h0m.1 8.3h0m.1 77h0m.1-36.9h0m.1 8.8h0m.1 33.6h0m.1-21.7h0m0-74.9h0m.1-9.7h0m.1 28.5h0m.1-8.7h0m.1 26.3h0m.1-34.3h0m.1-9.1h0m.1 86.6h0m.1-34.5h0m.1 15h0m.1 1.5h0m.1-77.5h0m.1 86.9h0m.1-34.7h0m.1 3.2h0m0 .6h0m.1-57h0m.1 7.8h0m.1-15.4h0m.1-8.9h0m.1 16.3h0m.1-56.4h0m.1 116.2h0m.1-16.8h0m.1-12h0m.1 25.3h0m.1-87.1h0m.1 134h0m.1-126h0m.1 61h0m0-4.1h0m.1-24.8h0m.1 39.4h0m.1-27.7h0m.1 38.6h0m.1 2.3h0m.1-37.8h0m.1 112.6h0m.1-78.2h0m.1-45.3h0m.1-3.2h0m.1 62.5h0m.1-128.1h0m.1 50.6h0m.1 40.3h0m.1 15.7h0m0-17.3h0m.1-1.2h0m.1-33.4h0m.1-4.4h0m.1 90.3h0m.1-67.5h0m.1 20.3h0m.1-13h0m.1 52h0m.1-115.3h0m.1 63.9h0m.1-40.4h0m.1 35.6h0m.1 21.2h0m.1-47.3h0m0 79.3h0m.1-73.5h0m.1 56h0m.1-29.9h0m.1 6.1h0m.1 24.5h0m.1-28h0m.1 17.7h0m.1-17.9h0m.1 16.5h0m.1-58.1h0m.1-22.8h0m.1 74.1h0m.1-13.4h0m.1-6.1h0m0-7.8h0m.1-40.3h0m.1 73.4h0m.1 5.2h0m.1-35.4h0m.1-42.8h0m.1 4.1h0m.1 73.6h0m.1-34.5h0m.1 13.8h0m.1-21.1h0m.1 45.1h0m.1-21.5h0m.1-44.3h0m.1-21.5h0m.1 36.5h0m0-14.3h0m.1-26.7h0m.1 102.6h0m.1-2.6h0m.1-18.4h0m.1-14.3h0m.1 76.3h0m.1-106h0m.1 28.8h0m.1-18.5h0m.1-15.4h0m.1 71h0m.1-42.7h0m.1-21.8h0m.1-4h0m0 22.4h0m.1-12h0m.1-24h0m.1 15.2h0m.1 38.7h0m.1-61.8h0m.1 30.7h0m.1 98.8h0m.1-64.8h0m.1-30.9h0m.1 24h0m.1-16.4h0m.1.9h0m.1 47.1h0m.1-29.8h0m0 15.7h0m.1-37h0m.1 2.8h0m.1 34.8h0m.1 27.3h0m.1-34.8h0m.1-32.4h0m.1 65.9h0m.1-33.3h0m.1-32.7h0m.1.9h0m.1 18.2h0m.1-47.6h0m.1 34.9h0m.1-41.2h0m0 94.5h0m.1-30.5h0m.1 24.8h0m.1-69.5h0m.1 61.4h0m.1-9h0m.1-56.7h0m.1 105.7h0m.1-72.2h0m.1 10.4h0m.1 6.7h0m.1-39h0m.1 16.8h0m.1 6h0m.1 5.9h0m.1-14.1h0m0 33.5h0m.1-44.2h0m.1-21.9h0m.1 50.3h0m.1-17.2h0m.1 19.1h0m.1 51.8h0m.1-23.4h0m.1 2.5h0m.1-34.7h0m.1 7h0m.1-19.2h0m.1 12.1h0m.1 17.1h0m.1 6.6h0m0-22.2h0m.1-29.1h0m.1 55.5h0m.1-92h0m.1 40.5h0m.1 28h0m.1 54.2h0m.1-34.4h0m.1 29.4h0m.1-41.2h0m.1-60.3h0m.1 34h0m.1-15.1h0m.1 28.5h0m.1-17.8h0m0-2.3h0m.1 41.7h0m.1.9h0m.1 83.3h0m.1-113.4h0m.1 10.6h0m.1 22.6h0m.1-20.5h0m.1-28.7h0m.1 15.5h0m.1-49.7h0m.1 28.5h0m.1 34.8h0m.1-5.1h0m.1-26.9h0m.1 16.5h0m0 98.2h0m.1-47.1h0m.1-34.8h0m.1-43.1h0m.1 93.7h0m.1-90.5h0m.1-47h0m.1 97.2h0m.1 47.3h0m.1-122.5h0m.1-9.7h0m.1 42h0m.1 44.6h0m.1-32.3h0m.1-2.2h0m0-8.6h0m.1 40.8h0m.1 18.8h0m.1-43.5h0m.1 54.9h0m.1-56h0m.1 24.2h0m.1-14.1h0m.1-20.9h0m.1 13.1h0m.1-71.9h0m.1 81.5h0m.1 60.4h0m.1-12.4h0m.1-23.6h0m0-12h0m.1-59.1h0m.1 63.8h0m.1-65.1h0m.1 59.9h0m.1 45.6h0m.1-119.8h0m.1 37.5h0m.1 52.1h0m.1-21.5h0m.1-11.4h0m.1 78.6h0m.1-24.8h0m.1-68.6h0m.1-43.6h0m0 35.8h0m.1 30.2h0m.1 73.5h0m.1-39h0m.1-59.7h0m.1 61.2h0m.1-61.3h0m.1-6.5h0m.1.2h0m.1 24.8h0m.1 24.9h0m.1-7.1h0m.1-47.4h0m.1 31.4h0m.1-80.8h0m.1 52h0m0-51.4h0m.1 67.7h0m.1 77.5h0m.1-40.8h0m.1-63h0m.1 57.1h0m.1 8.6h0m.1-50.9h0m.1 15.5h0m.1-39.2h0m.1 96h0m.1-54.7h0m.1-68.4h0m.1 10.7h0m.1 139.8h0m0-135.3h0m.1 43.6h0m.1-17.5h0m.1 8.8h0m.1 27.1h0m.1 15.7h0m.1-41h0m.1-7.6h0m.1 46.6h0m.1-10.6h0m.1 25.2h0m.1-85.1h0m.1 88.6h0m.1 5.5h0m.1-86h0m0 42.4h0m.1 16.2h0m.1-2.3h0m.1 23.1h0m.1 13.5h0m.1-4.2h0m.1-82.2h0m.1 91.7h0m.1 3.6h0m.1-85h0m.1-5.5h0m.1 55.9h0m.1-42.7h0m.1 0h0m.1-16.5h0m.1 76.3h0m0-53.7h0m.1 54.2h0m.1-84.1h0m.1 18.5h0m.1 33.9h0m.1 21.4h0m.1 42.7h0m.1-66h0m.1-17h0m.1-30.6h0m.1 93.3h0m.1-44.7h0m.1 6.1h0m.1-2.9h0m.1 1.7h0m0-12.2h0m.1 9.9h0m.1 2.1h0m.1-2.5h0m.1 24.7h0m.1-16.6h0m.1-95.1h0m.1 33.9h0m.1 17.9h0m.1 31.2h0m.1 38h0m.1-10.1h0m.1-1.2h0m.1-30.9h0m.1-40.6h0m0 51.9h0m.1 17h0m.1-61h0m.1 52.3h0m.1 4.9h0m.1-51.2h0m.1 40h0m.1-.9h0m.1-33h0m.1 17.3h0m.1 6.9h0m.1-12.5h0m.1-53.9h0m.1 70.9h0m.1-61.2h0m0 79.9h0m.1-5.2h0m.1 16.3h0m.1-32.3h0m.1-21.3h0m.1 13.4h0m.1-37.8h0m.1 68.6h0m.1-1.1h0m.1-27.6h0m.1 46.4h0m.1-95.4h0m.1 55.6h0m.1-43.2h0m.1-25.3h0m.1 48h0m0-18.4h0m.1 86.1h0m.1-73.5h0m.1-69.4h0m.1 187.8h0m.1-75.6h0m.1 9.5h0m.1-17.2h0m.1 15.1h0m.1 45.4h0m.1-30.4h0m.1-59.5h0m.1 87.8h0m.1-163h0m.1 80h0m0-2.6h0m.1 5.7h0m.1 30.5h0m.1-19.9h0m.1 50.8h0m.1-126.5h0m.1 44.7h0m.1 44.1h0m.1-3.9h0m.1-55h0m.1 29.4h0m.1-6.2h0m.1 16.2h0m.1-3.8h0m.1-42.9h0m0 18h0m.1-17.1h0m.1 43.6h0m.1 42.7h0m.1 12h0m.1-18h0m.1-20.9h0m.1-79.7h0m.1 73.6h0m.1-65.4h0m.1 17.9h0m.1 12h0m.1 30.7h0m.1-.8h0m.1-53h0m.1-20.2h0m0 80.4h0m.1-13.8h0m.1-56.2h0m.1 85.6h0m.1-68.4h0m.1 83h0m.1-4.6h0m.1 31.6h0m.1-58.7h0m.1-56.6h0m.1 122.3h0m.1-174.1h0m.1 88h0m.1-18.9h0m.1 34.1h0m0 27.6h0m.1 8.5h0m.1-85.6h0m.1-53.7h0m.1 127.7h0m.1 10h0m.1-25.9h0m.1 27h0m.1-59.5h0m.1 4.4h0m.1-49.9h0m.1 80.8h0m.1-47.2h0m.1 50.5h0m.1-49.6h0m0-39h0m.1-14.4h0m.1 70.4h0m.1-11h0m.1 33.3h0m.1-59.1h0m.1 55.4h0m.1-35.5h0m.1 13.8h0m.1-25.9h0m.1 3.3h0m.1 49.7h0m.1 30.8h0m.1-67.5h0m.1 24.7h0m0 33.8h0m.1-49.8h0m.1 69.9h0m.1-69.5h0m.1 15h0m.1 25.9h0m.1-18.3h0m.1 25.8h0m.1 7.7h0m.1 3.9h0m.1-37.8h0m.1-54.9h0m.1 43.5h0m.1 20.4h0m.1-41h0m.1 60.7h0m0-29.5h0m.1-1.8h0m.1-28h0m.1 27h0m.1 13.4h0m.1-27.6h0m.1 26.2h0m.1-61.9h0m.1 46.8h0m.1 16.9h0m.1-78.4h0m.1 51.3h0m.1 9.8h0m.1-25.6h0m.1 49.6h0m0 41.4h0m.1 13.2h0m.1-68.1h0m.1 35.5h0m.1 25.6h0m.1-76h0m.1 14.9h0m.1 13.7h0m.1 15.2h0m.1-57.3h0m.1 41.3h0m.1-94.5h0m.1 101.4h0m.1-56.9h0m.1 23.6h0m0 96.6h0m.1-100.6h0m.1-56.8h0m.1 76.3h0m.1 14.5h0m.1-37.3h0m.1 7.1h0m.1 21.6h0m.1-5.8h0m.1-59h0m.1 18.2h0m.1 42.7h0m.1.3h0m.1-11.5h0m.1 44.3h0m.1 2.4h0m0-79.1h0m.1 54h0m.1 12.8h0m.1-115h0m.1 62h0m.1 16.3h0m.1-67.2h0m.1 113.9h0m.1 2.2h0m.1-147.6h0m.1 37.6h0m.1 108.1h0m.1 24.4h0m.1-52.8h0m.1 48h0m0-46.5h0m.1-12.2h0m.1 55h0m.1-88.1h0m.1 4.4h0m.1 16.2h0m.1-6.4h0m.1-36h0m.1 6.7h0m.1 110h0m.1-71.1h0m.1-23h0m.1-63.8h0m.1 48.8h0m.1 27.7h0m0-42.3h0m.1 93h0m.1-61.1h0m.1 40.6h0m.1-49.5h0m.1 24.6h0m.1-63.8h0m.1 32.3h0m.1 9.3h0m.1 50h0m.1-64.9h0m.1 86.3h0m.1-83.3h0m.1 34.2h0m.1 12.8h0m0-21.5h0m.1-23.2h0m.1-2.6h0m.1 42.6h0m.1-41.3h0m.1 101h0m.1-42.8h0m.1-50.8h0m.1-26.7h0m.1 90.2h0m.1 83.5h0m.1-156.2h0m.1-30.5h0m.1 94h0m.1 44.1h0m.1-49.9h0m0-63.2h0m.1 20.5h0m.1 47.4h0m.1-66.1h0m.1 50.6h0m.1 11.4h0m.1 19.2h0m.1-81.9h0m.1 44h0m.1 22.4h0m.1-38.4h0m.1 41.2h0m.1-40.8h0m.1-27.6h0m.1-52.9h0m0 75.7h0m.1 9.6h0m.1 43h0m.1-29.3h0m.1-50.8h0m.1 68.6h0m.1 45.1h0m.1-102.8h0m.1 41.1h0m.1-85.2h0m.1 165.1h0m.1-56.6h0m.1 18.3h0m.1-45.4h0m.1 7.6h0m0-19.9h0m.1-19h0m.1 139.7h0m.1-45.1h0m.1-91.1h0m.1 7.9h0m.1 19.7h0m.1 10.3h0m.1 91.7h0m.1-173.5h0m.1 36.9h0m.1-49.8h0m.1 52.3h0m.1 27.4h0m.1 67.4h0m.1-29.1h0m0-2.8h0m.1-51.5h0m.1 96.5h0m.1-30.5h0m.1-61.5h0m.1-9.4h0m.1 50.8h0m.1-73.7h0m.1 12.4h0m.1 56.3h0m.1-21.5h0m.1-20.1h0m.1 16.4h0m.1-9.6h0m.1 1.5h0m0 19.5h0m.1-78.6h0m.1 100.8h0m.1-48.5h0m.1 8.1h0m.1 8.8h0m.1 20.8h0m.1 76h0m.1-128.3h0m.1-4.1h0m.1 25.9h0m.1-11.8h0m.1-47.3h0m.1 50.4h0m.1-18.6h0m0 95.1h0m.1-25.6h0m.1-113.4h0m.1-8.5h0m.1 158.3h0m.1-83.5h0m.1-66.6h0m.1 54.6h0m.1 110.6h0m.1-70.4h0m.1 66.7h0m.1-17.7h0m.1-77.9h0m.1 53.1h0m.1-96.5h0m0 79.3h0m.1-4.8h0m.1 1.2h0m.1 14.2h0m.1 53.6h0m.1-122.8h0m.1 11.3h0m.1 32.9h0m.1-19.2h0m.1 45.9h0m.1-30.3h0m.1-60.6h0m.1 72.2h0m.1-33.9h0m.1-36.9h0m.1 89.7h0m0-69.4h0m.1 16h0m.1 45.6h0m.1-58h0m.1-5h0m.1 12h0m.1 30.1h0m.1-11.7h0m.1 77.7h0m.1-108.8h0m.1 84.2h0m.1-26h0m.1 5.3h0m.1-30.1h0m.1-56.4h0m0 44.7h0m.1 39.5h0m.1 18.5h0m.1-68h0m.1 19.5h0m.1 19.9h0m.1 17h0m.1-25.1h0m.1-58.2h0m.1 5.5h0m.1 49.1h0m.1-27.7h0m.1 122.2h0m.1-151.1h0m.1 55.8h0m0-34.6h0m.1 61.7h0m.1 44h0m.1-162h0m.1 73.2h0m.1-9.1h0m.1 40.4h0m.1-45.7h0m.1 31.6h0m.1-49.3h0m.1 114.4h0m.1-29.2h0m.1-64.2h0m.1-72.2h0m.1 78.6h0m.1 7.6h0m0-37.6h0m.1 103h0m.1-126.6h0m.1 202.8h0m.1-124.6h0m.1 20.4h0m.1-97h0m.1 12.7h0m.1 70.4h0m.1 64.9h0m.1-91.9h0m.1 106.4h0m.1-80.1h0m.1-50.1h0m.1 69.8h0m0 1.5h0m.1-41.6h0m.1 33.2h0m.1-11.7h0m.1 42.5h0m.1-74.6h0m.1 0h0m.1 47.1h0m.1-100.9h0m.1 65.9h0m.1-17.3h0m.1-7.7h0m.1 95h0m.1-57.5h0m.1-12.7h0m0 40.5h0m.1-121.5h0m.1 114.2h0m.1-71.7h0m.1 57.8h0m.1 51.4h0m.1-65.7h0m.1-58h0m.1-9h0m.1 34.2h0m.1-3.5h0m.1-38.2h0m.1 21.4h0m.1 18.6h0m.1-3.8h0m0 22.1h0m.1-15.2h0m.1 120.6h0m.1-112.3h0m.1-5.7h0m.1 37h0m.1-7.1h0m.1-38.7h0m.1-8.7h0m.1 17.6h0m.1-22.8h0m.1 115.8h0m.1-117.5h0m.1 24.1h0m.1 24.1h0m.1 15h0m0 41.8h0m.1-76.2h0m.1 4.4h0m.1 69.8h0m.1-4.7h0m.1-60.5h0m.1-40.6h0m.1 66.5h0m.1-79.3h0m.1 116h0m.1-25.1h0m.1-85.1h0m.1 91.2h0m.1-78.6h0m.1 21.5h0m0 69.1h0m.1-104.1h0m.1-31.8h0m.1 32.4h0m.1 64.3h0m.1-7.5h0m.1-61.3h0m.1-30.7h0m.1 66.8h0m.1-26.8h0m.1 74.2h0m.1-111.9h0m.1 129.9h0m.1-66.2h0m.1 31.4h0m0 4.1h0m.1 1.5h0m.1-96.1h0m.1 107.9h0m.1-85.5h0m.1 85.2h0m.1-29.7h0m.1-23.3h0m.1 21h0m.1 11.3h0m.1-4.7h0m.1 56.6h0m.1-52.3h0m.1-18h0m.1 110h0m.1-149.8h0m0 2.2h0m.1 84.6h0m.1 11.6h0m.1 29.2h0m.1 1.9h0m.1-21.5h0m.1-101.9h0m.1 82.8h0m.1-86.2h0m.1 61.4h0m.1-51.7h0m.1 49.9h0m.1 8.3h0m.1-.5h0m.1-34.6h0m0-13h0m.1 74.6h0m.1 14.4h0m.1-76.5h0m.1-66.4h0m.1 81.5h0m.1 68.6h0m.1-84.4h0m.1-3.5h0m.1 52.3h0m.1 20.4h0m.1-112.1h0m.1 10.3h0m.1 30.2h0m.1-44.8h0m0 80.2h0m.1-78.8h0m.1 116.1h0m.1-75.9h0m.1 4.2h0m.1 49.9h0m.1 9.2h0m.1-30.9h0m.1 11.4h0m.1-54.4h0m.1 112.2h0m.1-143.8h0m.1 35.5h0m.1-19.3h0m.1-23.2h0m0 112.8h0m.1 9.9h0m.1 34.8h0m.1-76.5h0m.1-89.3h0m.1 5h0m.1 21.1h0m.1 9.9h0m.1 51.4h0m.1.9h0m.1-22.4h0m.1-64.7h0m.1 97.3h0m.1-28.3h0m.1-75.5h0m.1 91.5h0m0-71.6h0m.1 139.1h0m.1-143.5h0m.1 86.5h0m.1-43.6h0m.1-76.8h0m.1 28.9h0m.1 1.2h0m.1 46.3h0m.1 65.2h0m.1-32.9h0m.1 49.6h0m.1-35.7h0m.1 23.6h0m.1-49h0m0 19.9h0m.1 22h0m.1-63.9h0m.1 22.6h0m.1-38.5h0m.1 20h0m.1-50.9h0m.1 48h0m.1-4.3h0m.1 59.9h0m.1-73.2h0m.1-5.7h0m.1 45.8h0m.1-32.2h0m.1-1h0m0 27.5h0m.1 8.4h0m.1-10.2h0m.1 72.5h0m.1-1.6h0m.1 2.4h0m.1-89h0m.1-43.2h0m.1 4.5h0m.1 52.6h0m.1-67.6h0m.1 76.8h0m.1-36.7h0m.1 16.9h0m.1 28.8h0m.1-16.1h0m0-95.4h0m.1 15.3h0m.1 132.6h0m.1-69.7h0m.1 68.2h0m.1-68.2h0m.1 20.3h0m.1-39.4h0m.1 47.6h0m.1 14.9h0m.1-26.8h0m.1 29.1h0m.1-28.5h0m.1-151.6h0m.1 167.6h0m0 32.9h0m.1-93.8h0m.1 75h0m.1-92.2h0m.1 42.3h0m.1 26.6h0m.1-123.3h0m.1 127.8h0m.1-22.6h0m.1 36.6h0m.1-58.9h0m.1 15.3h0m.1 4.8h0m.1 1.3h0m.1-67.4h0m0 122.5h0m.1-113.6h0m.1 41h0m.1 30.4h0m.1-48.2h0m.1 74.5h0m.1-62.2h0m.1-7.1h0m.1 48.2h0m.1 60.1h0m.1-86.2h0m.1 81.8h0m.1-101.4h0m.1 23h0m.1 4.7h0m0 28.6h0m.1-10.5h0m.1-54.1h0m.1 7.8h0m.1 17.8h0m.1 29.3h0m.1 86.1h0m.1-108.2h0m.1 76.2h0m.1 12.6h0m.1-106.6h0m.1-20.5h0m.1 84.7h0m.1-108.5h0m.1 158.7h0m.1-100.6h0m0 36h0m.1-16.3h0m.1-89.8h0m.1 116h0m.1-27.1h0m.1-116.8h0m.1 22.7h0m.1 85.5h0m.1-4.3h0m.1-7.8h0m.1 6.8h0m.1-46.8h0m.1 20.8h0m.1 75.2h0m.1-153.3h0m0-44.9h0m.1 198.8h0m.1-19.5h0m.1 34.4h0m.1-15.3h0m.1 19.1h0m.1-60.3h0m.1-71.1h0m.1 16.7h0m.1 104.3h0m.1-54.8h0m.1 25.1h0m.1 32.7h0m.1-68.7h0m.1 91.2h0m0-111h0m.1 20.2h0m.1 31.3h0m.1 4.4h0m.1-45.8h0m.1 49.2h0m.1-107h0m.1 84.8h0m.1 25.4h0m.1-30.3h0m.1-11h0m.1 7.2h0m.1-66.2h0m.1 141.1h0m.1-72.5h0m.1-17.3h0m0 8.4h0m.1 16.9h0m.1-51.7h0m.1-19.3h0m.1 95.1h0m.1-81h0m.1 11.4h0m.1-95.9h0m.1 142h0m.1 16.5h0m.1-10.3h0m.1 3.6h0m.1-106.4h0m.1 191.8h0m.1-89.8h0m0-43.6h0m.1 50.9h0m.1-13.2h0m.1-4h0m.1-38.7h0m.1 26.3h0m.1-18.3h0m.1 36.8h0m.1-32.5h0m.1 24.2h0m.1-15.6h0m.1 26.7h0m.1 9.4h0m.1-26.5h0m.1 36.8h0m0-38.3h0m.1 115.2h0m.1-72h0m.1 1.7h0m.1-110h0m.1 41.1h0m.1 19.8h0m.1 18.8h0m.1-5.3h0m.1 4.5h0m.1-88h0m.1 150.3h0m.1-70.4h0m.1 12.8h0m.1-22.6h0m0-.2h0m.1-4.3h0m.1 69.1h0m.1-92.3h0m.1 44.6h0m.1 29.6h0m.1-106.4h0m.1 17.8h0m.1-8.5h0m.1 62.9h0m.1-87.5h0m.1 53h0m.1 11.4h0m.1-14.2h0m.1-57.2h0m.1 142.1h0m0-103.3h0m.1 4.5h0m.1 99.5h0m.1-94.7h0m.1-.7h0m.1-16.3h0m.1 21.1h0m.1 25.1h0m.1 69h0m.1-82.4h0m.1 11.7h0m.1-87.3h0m.1 87.7h0m.1 44.9h0m.1-11.6h0m0-113.9h0m.1 31.5h0m.1-30.9h0m.1 63.1h0m.1 57.4h0m.1-116.9h0m.1 90.4h0m.1-53.2h0m.1 70.6h0m.1-69.6h0m.1-50.6h0m.1 50.8h0m.1 4.2h0m.1-2.7h0m.1-13.4h0m0 66.5h0m.1-14.4h0m.1-32.3h0m.1 38.9h0m.1-13.4h0m.1 44.2h0m.1 19.3h0m.1 4.3h0m.1-95.2h0m.1 44.3h0m.1-34h0m.1 26.9h0m.1 5.6h0m.1-28.1h0m.1-2.6h0m.1 40.1h0m0-52.3h0m.1-9.3h0m.1-18.2h0m.1-7.5h0m.1 82.6h0m.1 13h0m.1-53.3h0m.1-36.9h0m.1 104.4h0m.1-70.8h0m.1-15.5h0m.1 10h0m.1 45.7h0m.1-25.7h0m.1 58.7h0m0-25.9h0m.1-27.5h0m.1-81.2h0m.1 33.9h0m.1 100.4h0m.1-10.5h0m.1-23.2h0m.1 2h0m.1-20.3h0m.1-9.7h0m.1-41.1h0m.1 69.9h0m.1-10.2h0m.1-66.3h0m.1-5.5h0m0 65.8h0m.1-43.2h0m.1 93.4h0m.1-61.4h0m.1-49.4h0m.1 24.4h0m.1-10.5h0m.1-.4h0m.1 58h0m.1-59.2h0m.1-14h0m.1-50.6h0m.1 118.7h0m.1-13.1h0m.1-98.8h0m0 135.7h0m.1-75.9h0m.1 101.3h0m.1-67.3h0m.1-31.6h0m.1 52.2h0m.1 44.3h0m.1-153.1h0m.1 98.7h0m.1 6.6h0m.1-36.8h0m.1-31.9h0m.1 19.1h0m.1 66.4h0m.1-2.3h0m.1-27.1h0m0 63.9h0m.1-29.9h0m.1-3.6h0m.1-10.3h0m.1-19.3h0m.1-13.5h0m.1 30.5h0m.1-46.1h0m.1 16.2h0m.1-106.8h0m.1 57.4h0m.1-8h0m.1 131.4h0m.1-158.3h0m.1 91.1h0m0 29.7h0m.1-53.8h0m.1 5.9h0m.1 17.2h0m.1-91.6h0m.1 77.3h0m.1 57.4h0m.1-.9h0m.1-51.9h0m.1-1.5h0m.1 43h0m.1-76.8h0m.1 46.2h0m.1 34.9h0m.1-95.9h0m0 35.9h0m.1 45.3h0m.1 53.1h0m.1-129.5h0m.1 83.6h0m.1 35.4h0m.1-48.2h0m.1-23.6h0m.1-4.6h0m.1-50.6h0m.1 108h0m.1-116.8h0m.1 54h0m.1-14.1h0m.1 34.2h0m.1-35.1h0m0 72.4h0m.1-129.1h0m.1-10.1h0m.1 81.3h0m.1-56.4h0m.1 85.6h0m.1-.6h0m.1 5.5h0m.1-77.8h0m.1 13.6h0m.1 10.6h0m.1 26.8h0m.1-8.1h0m.1 31.2h0m.1-52h0m0 102.8h0m.1-69.1h0m.1 7.2h0m.1-117h0m.1 59.2h0m.1 77.5h0m.1-63h0m.1-1.1h0m.1-24.1h0m.1 38.9h0m.1 40.2h0m.1-30.2h0m.1 47.3h0m.1-86.7h0m.1 62.5h0m0-18h0m.1.3h0m.1-67h0m.1 58.8h0m.1 10.5h0m.1-74.7h0m.1 180.1h0m.1-117.2h0m.1-52.9h0m.1 102h0m.1-94.6h0m.1 60.2h0m.1-82.6h0m.1 114.7h0m.1-32h0m0-18.7h0m.1-31.3h0m.1-13.2h0m.1 106.8h0m.1-70.2h0m.1 59.4h0m.1-91.2h0m.1 42.4h0m.1-47.2h0m.1 63.9h0m.1-99.6h0m.1 113.7h0m.1-86.2h0m.1 70.3h0m.1-12.4h0m.1-8.8h0m0 1.3h0m.1 113.2h0m.1-155.8h0m.1 13.9h0m.1 102h0m.1-45.3h0m.1 28.7h0m.1-41.2h0m.1-33.4h0m.1 15.8h0m.1 22.1h0m.1 11.9h0m.1-21.1h0m.1-43.2h0m.1 17.4h0m0 82.5h0m.1-99.9h0m.1 89.8h0m.1-116.5h0m.1 20h0m.1-25.3h0m.1 126.6h0m.1-81.7h0m.1 10.8h0m.1 61.7h0m.1-36.5h0m.1-75.8h0m.1-14.1h0m.1 0h0m.1 103.4h0m0-38.3h0m.1-34.1h0m.1 36.6h0m.1 40.4h0m.1.2h0m.1 55h0m.1-122.7h0m.1 87h0m.1-16.8h0m.1-18.1h0m.1-133.2h0m.1 52.3h0m.1 136.5h0m.1-114h0m.1 43.7h0m.1-66.4h0m0 140h0m.1-22.1h0m.1-95.6h0m.1-42.8h0m.1 107.4h0m.1 18.1h0m.1-61.2h0m.1 68.3h0m.1-48.4h0m.1-.1h0m.1 3.4h0m.1-69.4h0m.1 27.9h0m.1 44.9h0m.1-14.4h0m0 62.4h0m.1-120h0m.1 86.3h0m.1 73.3h0m.1-63.9h0m.1-3.5h0m.1-61.7h0m.1 11.5h0m.1 34.3h0m.1-55.4h0m.1-15.8h0m.1-42.6h0m.1 37.7h0m.1 99.6h0m.1-11.4h0m0 37.5h0m.1-62.3h0m.1 3.8h0m.1-64.2h0m.1 43.8h0m.1 36.4h0m.1-59.4h0m.1-44.9h0m.1 96.3h0m.1-73h0m.1 97.8h0m.1-63.7h0m.1-14.5h0m.1-15.2h0m.1 22.6h0m0 45.2h0m.1.7h0m.1 12.4h0m.1-26.4h0m.1-11.7h0m.1 22.5h0m.1-53h0m.1-4.1h0m.1 22.6h0m.1-24.9h0m.1-85.8h0m.1 67.1h0m.1 72.6h0m.1-23h0m.1-15.1h0m.1 27.6h0m0 4.7h0m.1 63.1h0m.1-49h0m.1-27.3h0m.1 12.6h0m.1-4.3h0m.1-91.5h0m.1 154.9h0m.1-120.6h0m.1 75.4h0m.1-50.4h0m.1-14.5h0m.1 86.6h0m.1-113.6h0m.1 40.2h0m0-123.4h0m.1 180.8h0m.1-60.5h0m.1-41.7h0m.1 102.7h0m.1-47.5h0m.1-135.7h0m.1 167.9h0m.1-73.4h0m.1 10.7h0m.1-2.5h0m.1-36.3h0m.1 45.5h0m.1 22.2h0m.1 64.1h0m0-2h0m.1-83.7h0m.1 150.5h0m.1-131h0m.1 68.6h0m.1-47.2h0m.1-8.8h0m.1-108h0m.1 156.5h0m.1-163.9h0m.1 138.4h0m.1-105.2h0m.1-11.5h0m.1 16.4h0m.1 8.9h0m.1 11.5h0m0 62.1h0m.1 9.9h0m.1.4h0m.1 26.8h0m.1-19.2h0m.1 2.3h0m.1-28.4h0m.1 55.2h0m.1-62.7h0m.1-83.5h0m.1 23.1h0m.1 120.5h0m.1-69.2h0m.1-12.6h0m.1 75.7h0m0-45.9h0m.1-1h0m.1-4.1h0m.1 105.1h0m.1-91.7h0m.1-6.9h0m.1 3.5h0m.1-35.7h0m.1 16.1h0m.1 92.1h0m.1-80.5h0m.1 89h0m.1-119.2h0m.1 10.5h0m.1-18.4h0m0 36.4h0m.1 45.9h0m.1-66.9h0m.1 3.7h0m.1-50.6h0m.1 127.1h0m.1-27.3h0m.1-28.1h0m.1 44.6h0m.1-22.7h0m.1-38.4h0m.1-68.2h0m.1 68.2h0m.1-36.2h0m.1 58.7h0m0 25.5h0m.1-59.2h0m.1-61.5h0m.1 129.7h0m.1-15.1h0m.1 4.6h0m.1-100.1h0m.1 40.1h0m.1 79.2h0m.1-14.2h0m.1-7.6h0m.1-191h0m.1 226.7h0m.1-107h0m.1.3h0m.1 66.3h0m0-57.3h0m.1-3.1h0m.1 28.6h0m.1-10.9h0m.1 4.5h0m.1-31h0m.1-16h0m.1 23.8h0m.1 8.8h0m.1-1.6h0m.1 39h0m.1 107.3h0m.1-188.2h0m.1 62.9h0m.1 9.7h0m0-65.3h0m.1 27h0m.1-8.2h0m.1 21.1h0m.1-7.6h0m.1-15.4h0m.1 66.5h0m.1-100.3h0m.1 88.6h0m.1 11.1h0m.1-11.6h0m.1-127.1h0m.1 34.1h0m.1 49.3h0m.1-15.6h0m0-7h0m.1 95.3h0m.1-98.5h0m.1 79.6h0m.1 23.5h0m.1 4.9h0m.1 25.6h0m.1-42h0m.1-39.5h0m.1-73.7h0m.1 54.6h0m.1-21.2h0m.1 108h0m.1-42.9h0m.1-32.3h0m.1-62.7h0m0 6h0m.1 37.4h0m.1 27h0m.1 32.3h0m.1-24.2h0m.1-13.6h0m.1 32.4h0m.1-89.3h0m.1 20.7h0m.1-1.6h0m.1 40.4h0m.1 12.2h0m.1-40.2h0m.1-61h0m.1 80.3h0m0-56.5h0m.1 74h0m.1-123h0m.1 186.1h0m.1-131.6h0m.1 167.7h0m.1-92.8h0m.1 32.1h0m.1-14.7h0m.1-80.2h0m.1 4.9h0m.1-8.7h0m.1-40.4h0m.1 127.1h0m.1-96.2h0m0 23h0m.1-65.9h0m.1 102.4h0m.1-129.9h0m.1 216.9h0m.1-111.1h0m.1-4.4h0m.1 26.3h0m.1-53.8h0m.1 14.7h0m.1 20.3h0m.1 8.2h0m.1 19h0m.1-29.6h0m.1-91.5h0m0 62.8h0m.1-7.8h0m.1 21.1h0m.1 22.9h0m.1-12.5h0m.1 147.5h0m.1-159.6h0m.1-23.1h0m.1 34.4h0m.1 9.3h0m.1 91.6h0m.1-128.1h0m.1 56.7h0m.1-9.2h0m.1-9.4h0m.1-2.4h0m0 3h0m.1-64.9h0m.1 29h0m.1 35.9h0m.1 56.7h0m.1-26.9h0m.1-22.9h0m.1-5h0m.1 1.2h0m.1 21.2h0m.1 25.5h0m.1-127.4h0m.1 52.3h0m.1 110.7h0m.1-60.2h0m0-46h0m.1-15.8h0m.1 27.6h0m.1-60.7h0m.1 27h0m.1 65.5h0m.1 2.7h0m.1-24.8h0m.1-5.8h0m.1-19.4h0m.1-41.6h0m.1-11.7h0m.1 40.5h0m.1 14.5h0m.1-36.3h0m0 2.6h0m.1 130.8h0m.1-99.3h0m.1 72h0m.1-65.2h0m.1-31.7h0m.1 10.3h0m.1-32.4h0m.1 93.6h0m.1-2.6h0m.1-2.1h0m.1-22.8h0m.1-28.4h0m.1-16.1h0m.1 65.8h0m.1-39.9h0m0-11.9h0m.1 1.4h0m.1 18.2h0m.1-26.7h0m.1 25.4h0m.1 33.4h0m.1 6.4h0m.1-84.5h0m.1 66.7h0m.1-32.3h0m.1-36.4h0m.1-21.1h0m.1 89.6h0m.1 57.2h0m.1-55.2h0m0 33.8h0m.1 75.2h0m.1-29.9h0m.1-141.3h0m.1 49h0m.1-40.1h0m.1-47.5h0m.1 113.7h0m.1-64.4h0m.1 78.6h0m.1-68.7h0m.1 12.6h0m.1-19.4h0m.1 16.9h0m.1 40.8h0m0-28.2h0m.1 1h0m.1-19.4h0m.1 47.7h0m.1-83.7h0m.1 51.9h0m.1 11.8h0m.1-45h0m.1 78.4h0m.1-49.6h0m.1-64.4h0m.1 46.9h0m.1 35.9h0m.1-21.2h0m.1-77.5h0m0 94.1h0m.1-67.4h0m.1 47.2h0m.1-95.7h0m.1 165.4h0m.1-.5h0m.1-72.6h0m.1-67.9h0m.1 83.1h0m.1 72.5h0m.1-6.7h0m.1 19.2h0m.1-161.9h0m.1 118.1h0m.1-72.8h0m.1-1.1h0m0 47.6h0m.1-25.1h0m.1-54h0m.1-42.7h0m.1 73.2h0m.1-17.4h0m.1 136.2h0m.1-140.4h0m.1 97.6h0m.1-84.9h0m.1 85.7h0m.1-26.4h0m.1 68.1h0m.1-84.1h0m.1 20h0m0-49.2h0m.1-35.5h0m.1 157.2h0m.1-29.4h0m.1-57.6h0m.1 117.7h0m.1-184.9h0m.1 39.7h0m.1-24.4h0m.1 52.2h0m.1-75.6h0m.1 60.3h0m.1 19.3h0m.1 34.9h0m.1-56.8h0m0 85.9h0m.1-137.9h0m.1 65.5h0m.1 55.1h0m.1-136.8h0m.1 50.9h0m.1 14.8h0m.1 82.2h0m.1-54.4h0m.1-82.2h0m.1 21.9h0m.1 10.7h0m.1 55.5h0m.1 24.3h0m.1-67h0m.1-44.2h0m0-47h0m.1 117.2h0m.1 24.9h0m.1-72.7h0m.1-30.7h0m.1 4.3h0m.1 51.3h0m.1-132.1h0m.1 93.8h0m.1 24.7h0m.1-120.4h0m.1 146.1h0m.1-86.2h0m.1 103.1h0m.1-127.1h0m0 132.1h0m.1-109.7h0m.1 70.2h0m.1 24.9h0m.1-47.2h0m.1 26.2h0m.1-10.3h0m.1-8.2h0m.1 61.4h0m.1-101.2h0m.1 80.7h0m.1 40.1h0m.1-38.6h0m.1-72.5h0m.1 55.1h0m0 29.9h0m.1-13.1h0m.1-115.6h0m.1-8h0m.1 189.7h0m.1-72.2h0m.1-16.5h0m.1-22h0m.1 44.8h0m.1 27.4h0m.1-30h0m.1-63.3h0m.1 48.3h0m.1 67.9h0m.1-88h0m0-35.7h0m.1 83.7h0m.1-79.9h0m.1 38h0m.1 117.4h0m.1-70.8h0m.1-92.2h0m.1 80.4h0m.1 11h0m.1 13.3h0m.1-61.5h0m.1 11.3h0m.1 67h0m.1-192.5h0m.1 71.1h0m.1 2.5h0m0 73.1h0m.1-.7h0m.1-28.7h0m.1 38.6h0m.1-69.3h0m.1-8.7h0m.1 21.9h0m.1-70.4h0m.1 23.1h0m.1 66.6h0m.1-23h0m.1-18.9h0m.1 77.6h0m.1-22.7h0m.1-21.1h0m14 34.4h0m.1-87.2h0m.1 34.4h0m.1-32.5h0m.1 39.3h0m.1-12.8h0m.1 26.5h0m.1-106.2h0m.1 38h0m.1 22.3h0m.1 30.8h0m.1-13.2h0m.1 10.8h0m.1-17.7h0m.1-.5h0m0-30.6h0m.1-15.2h0m.1 55.5h0m.1-52.4h0m.1-.2h0m.1 42.3h0m.1-9.2h0m.1-44.5h0m.1 38.2h0m.1 3.2h0m.1-44.8h0m.1 24.7h0m.1 34h0m.1-79.4h0m.1 31.5h0m.1-30.7h0m0 9.2h0m.1-31.2h0m.1 6.8h0m.1 47.1h0m.1-42.4h0m.1 32.3h0m.1 7.6h0m.1-40.5h0m.1 24.7h0m.1-33.8h0m.1-5.9h0m.1-27.4h0m.1 60h0m.1 18.8h0m.1-50.3h0m0-4.9h0m.1 36.8h0m.1-23h0m.1-8.4h0m.1 67.6h0m.1-63.1h0m.1-18.4h0m.1-3.3h0m.1 5.7h0m.1 55.3h0m.1-9.9h0m.1 5.4h0m.1-68.7h0m.1 119h0m.1-102.7h0m0 43.5h0m.1-72.2h0m.1 24.7h0m.1-32.5h0m.1 42.6h0m.1 18.9h0m.1-75h0m.1 32.9h0m.1-2h0m.1 8.7h0m.1 3h0m.1 26h0m.1-14.9h0m.1-36.3h0m.1 45.3h0m0-23.7h0m.1-68.1h0m.1 114.8h0m.1-52.1h0m.1-34.7h0m.1 36.3h0m.1-25.4h0m.1-12.3h0m.1 67.5h0m.1-72.6h0m.1 10.2h0m.1-18h0m.1 32.8h0m.1 9.7h0m.1 19.9h0m.1 40.4h0m0-61h0m.1-22.3h0m.1 8h0m.1 27.8h0m.1-17.8h0m.1 29.9h0m.1 8.2h0m.1-54.7h0m.1 26.1h0m.1 6.4h0m.1-38.1h0m.1-3h0m.1 25.2h0m.1-38.2h0m.1 50.7h0m0 68.1h0m.1-58.4h0m.1-16.8h0m.1-25.4h0m.1 83.7h0m.1-85.3h0m.1 34.6h0m.1-21.2h0m.1 27.8h0m.1 20.5h0m.1-23.6h0m.1-2h0m.1 20.7h0m.1-100.7h0m.1 49.9h0m0-5.4h0m.1-90.1h0m.1 78.3h0m.1 63.5h0m.1 15.7h0m.1-108.1h0m.1 20h0m.1 54.5h0m.1-23.4h0m.1 48.2h0m.1-38.8h0m.1 3.4h0m.1-10.9h0m.1-19.1h0m.1 58.7h0m.1 24.1h0m0-5.7h0m.1-52.2h0m.1 4.7h0m.1-7.3h0m.1 25.8h0m.1-12.6h0m.1 2.7h0m.1-19.4h0m.1-46.8h0m.1 5.8h0m.1 59.5h0m.1-8.9h0m.1-13.4h0m.1-26.3h0m.1 42.1h0m0 46.8h0m.1-43.8h0m.1 23.3h0m.1-26.8h0m.1-56.6h0m.1 46.7h0m.1-31.6h0m.1 92.9h0m.1-30.4h0m.1 26.4h0m.1-44.5h0m.1-50.3h0m.1-14.5h0m.1-1.7h0m.1 52.5h0m0 26.4h0m.1-8.1h0m.1 16.9h0m.1-79.6h0m.1 59.5h0m.1-4.1h0m.1-21.4h0m.1-23.4h0m.1 38.9h0m.1 17h0m.1-49.4h0m.1-6.8h0m.1 70.5h0m.1-13.1h0m.1-122.5h0m0 109.8h0m.1 7h0m.1-36.9h0m.1-3.7h0m.1 19.2h0m.1 35.4h0m.1-21.5h0m.1-4.7h0m.1-67.4h0m.1 98.7h0m.1-23.8h0m.1-47.4h0m.1-20.3h0m.1 27h0m.1 30.4h0m.1-9.8h0m0 33.6h0m.1-71.2h0m.1 89.4h0m.1-142.8h0m.1 69.7h0m.1 91.2h0m.1-16.1h0m.1-87.3h0m.1 16.7h0m.1 50.8h0m.1 59h0m.1-109.8h0m.1-3.3h0m.1 88.1h0m.1-61h0m0-20.5h0m.1 45.2h0m.1 1.9h0m.1 18h0m.1-88.6h0m.1 32.5h0m.1-39.6h0m.1 53.1h0m.1 2.2h0m.1-8.5h0m.1 44.4h0m.1-51.3h0m.1 57.4h0m.1-96.2h0m.1 26h0m0 7.3h0m.1 75.4h0m.1-30.5h0m.1-25.7h0m.1 12h0m.1-43.1h0m.1 3.3h0m.1 41.9h0m.1 12.6h0m.1-46.6h0m.1 60.8h0m.1-61h0m.1-39.2h0m.1 45.6h0m.1-10.7h0m.1 60.6h0m0-76.8h0m.1 69.2h0m.1-41.7h0m.1 26.8h0m.1-26.5h0m.1 13.5h0m.1-55.6h0m.1 66.5h0m.1-25h0m.1 20.8h0m.1-32.4h0m.1 19.9h0m.1-68.6h0m.1 76.4h0m.1-4h0m0-2.3h0m.1-14h0m.1-47.3h0m.1 131.5h0m.1-72.8h0m.1 54.7h0m.1-54.1h0m.1-34.1h0m.1 25.3h0m.1 7h0m.1-5.3h0m.1-14.3h0m.1 25.6h0m.1 19.3h0m.1-26.8h0m0 6.3h0m.1 25.4h0m.1-7.9h0m.1-47.6h0m.1 82.8h0m.1-47.1h0m.1 21.1h0m.1-50.4h0m.1 9.9h0m.1 14.4h0m.1 31.2h0m.1-1h0m.1 34.8h0m.1-60.5h0m.1-6.4h0m0-24.4h0m.1 38.1h0m.1-36.2h0m.1 58h0m.1 7.1h0m.1-83.1h0m.1 45.9h0m.1 80.5h0m.1-111.5h0m.1-30.1h0m.1 87.8h0m.1-65.4h0m.1 12.9h0m.1 73h0m.1-41.9h0m.1-39h0m0 34.7h0m.1-13.2h0m.1 33.3h0m.1-77.8h0m.1 39.7h0m.1 17.3h0m.1-33.7h0m.1-5.7h0m.1 29.7h0m.1 9.4h0m.1 4.3h0m.1 11.2h0m.1 25.3h0m.1 34.5h0m.1-101.4h0m0 40.8h0m.1-38.4h0m.1 16.3h0m.1 34.9h0m.1 45.3h0m.1-109.8h0m.1 77.1h0m.1-69.7h0m.1 145.4h0m.1-96.1h0m.1-50.3h0m.1 28.9h0m.1-1.5h0m.1 12.7h0m.1 10.5h0m0-87.7h0m.1 89.4h0m.1 13.9h0m.1 1.8h0m.1-3.5h0m.1-71.6h0m.1 6h0m.1 36.9h0m.1 22.1h0m.1-51h0m.1-23.4h0m.1-26.6h0m.1 5.2h0m.1 91.4h0m.1-53.7h0m.1 17.4h0m0 7.8h0m.1 10h0m.1-24.5h0m.1 12.3h0m.1 1.4h0m.1-6.7h0m.1 57.6h0m.1 7.7h0m.1-119h0m.1 72.5h0m.1 20.9h0m.1-26h0m.1 101.4h0m.1-105.4h0m.1-14.6h0m0 3h0m.1 32.2h0m.1-21.8h0m.1 105h0m.1-72h0m.1-22.4h0m.1 11.6h0m.1-25.8h0m.1 52.7h0m.1-96.6h0m.1 31h0m.1 33.8h0m.1-23.1h0m.1 43.7h0m.1-82.4h0m0 11.3h0m.1 61.6h0m.1-35.6h0m.1-8.2h0m.1 34.6h0m.1 34.2h0m.1-101.2h0m.1 37h0m.1 56.8h0m.1-4.3h0m.1-40.8h0m.1-7h0m.1 26h0m.1 6.5h0m.1 3.4h0m0 .3h0m.1-36.5h0m.1 60.6h0m.1-94.1h0m.1 111h0m.1-55.1h0m.1 29.6h0m.1-66h0m.1-39.4h0m.1 94.5h0m.1 2.8h0m.1-88.2h0m.1 95.3h0m.1-10.9h0m.1-67.1h0m.1 93.5h0m0-48.2h0m.1 46.3h0m.1 36.3h0m.1-50.4h0m.1-43.1h0m.1 64h0m.1-48.9h0m.1 27.3h0m.1-32.2h0m.1-10.6h0m.1-3.6h0m.1 28.3h0m.1-10.1h0m.1 46.5h0m.1 51.9h0m0-164.6h0m.1-10.1h0m.1-37.7h0m.1 97.8h0m.1 92.5h0m.1-110.6h0m.1 31.2h0m.1-19.4h0m.1 47h0m.1-30.7h0m.1-11.1h0m.1 7.9h0m.1-53.2h0m.1 39.5h0m.1 15.7h0m0 71.7h0m.1-85.4h0m.1-30.9h0m.1 68.3h0m.1-14.3h0m.1-13.1h0m.1-65.8h0m.1 8.2h0m.1 98.1h0m.1-54.8h0m.1 50.3h0m.1-51.1h0m.1 50.8h0m.1 18.6h0m.1-58.9h0m.1 1.7h0m0 29.2h0m.1-46.5h0m.1-4.8h0m.1 87.7h0m.1-90.9h0m.1 12h0m.1 81.6h0m.1-47.7h0m.1-56h0m.1 63.2h0m.1-44.9h0m.1 28h0m.1 9.9h0m.1 10.8h0m.1-60.5h0m0 21h0m.1 43.3h0m.1 45.9h0m.1-97.7h0m.1 31.5h0m.1-54.4h0m.1 65.7h0m.1 2.6h0m.1 13.2h0m.1-46.1h0m.1 2.6h0m.1-74.8h0m.1 44.8h0m.1 63.3h0m.1-57.3h0m0 32.1h0m.1-30h0m.1 29.5h0m.1-49.7h0m.1 44.1h0m.1 6.2h0m.1-3.2h0m.1 73.7h0m.1-96h0m.1 21.2h0m.1-1.2h0m.1 50h0m.1-32.1h0m.1-61.1h0m.1 67.3h0m0-19.5h0m.1 85.9h0m.1-143.4h0m.1 96.5h0m.1-70.4h0m.1 31.4h0m.1-6h0m.1 16.1h0m.1 9.3h0m.1 2.9h0m.1-27h0m.1-8.7h0m.1 6.2h0m.1 3.3h0m.1-16.3h0m.1 40h0m0-76.1h0m.1 79h0m.1-56.1h0m.1 57.3h0m.1 16.1h0m.1 7.2h0m.1-3.7h0m.1-60h0m.1 41h0m.1-8.7h0m.1-36h0m.1-21h0m.1 7.5h0m.1 77.5h0m.1-56.8h0m0 45.8h0m.1-27.6h0m.1 28.5h0m.1-66.1h0m.1 2.8h0m.1-12.5h0m.1 22.6h0m.1 49.4h0m.1-51.1h0m.1.4h0m.1 15h0m.1-3.2h0m.1 14.4h0m.1-33.5h0m.1 22.5h0m0-113.6h0m.1 142.1h0m.1 13.6h0m.1-61.2h0m.1 37.8h0m.1-21.6h0m.1-25.8h0m.1 33.1h0m.1-19.7h0m.1-3.6h0m.1-8.8h0m.1 6.4h0m.1 117.1h0m.1-69h0m.1-17.4h0m.1-12.6h0m0 1.9h0m.1-30h0m.1-20h0m.1-7.7h0m.1 18.6h0m.1 5.8h0m.1 5.8h0m.1-9.7h0m.1 68.2h0m.1-49.5h0m.1 57.1h0m.1-97h0m.1 102.1h0m.1-17.8h0m.1 7.7h0m0 27.5h0m.1-53.4h0m.1-24.4h0m.1 48.8h0m.1 92.6h0m.1-126.8h0m.1-1.3h0m.1 62.1h0m.1-45h0m.1-48.7h0m.1 27.5h0m.1 38.1h0m.1-37.8h0m.1-9.8h0m.1 56.4h0m0-.7h0m.1 20.8h0m.1-104.9h0m.1 28.1h0m.1 25.5h0m.1 59.4h0m.1-37.3h0m.1-34.2h0m.1.5h0m.1 34.4h0m.1-60.9h0m.1 52.9h0m.1-6h0m.1 32.2h0m.1-41.9h0m0-23.7h0m.1-38.9h0m.1 54.9h0m.1 96.4h0m.1-56.1h0m.1-52h0m.1-15.2h0m.1 11.9h0m.1 10.8h0m.1 7.3h0m.1 40.8h0m.1 27.1h0m.1-74.7h0m.1-35h0m.1 50.5h0m.1-44.8h0m0 33.5h0m.1-61.4h0m.1 95.8h0m.1-31.2h0m.1 71.9h0m.1-50.3h0m.1-66.2h0m.1 11.1h0m.1 1.5h0m.1 20.1h0m.1 49.1h0m.1-64.9h0m.1 8.8h0m.1 84.6h0m.1-95.3h0m0 65.6h0m.1-22.7h0m.1-15.5h0m.1-36.6h0m.1 52.9h0m.1-70.7h0m.1 3.2h0m.1 90.5h0m.1-33.1h0m.1 10.8h0m.1 63.5h0m.1-48.9h0m.1-32.9h0m.1-24.3h0m.1 57.9h0m0-3.1h0m.1 31.6h0m.1-56.9h0m.1 14.2h0m.1 6.9h0m.1-19.9h0m.1-25.3h0m.1 42.5h0m.1.9h0m.1 17.6h0m.1-3.5h0m.1 10.5h0m.1-37.3h0m.1 21.6h0m.1 18.9h0m.1-65.6h0m0 37.9h0m.1-2.5h0m.1-54.3h0m.1 38.1h0m.1 9.8h0m.1-14.9h0m.1-43.2h0m.1 41.6h0m.1-36.7h0m.1 3.6h0m.1 31.5h0m.1 6.6h0m.1-31.2h0m.1-43.3h0m.1 92.2h0m0-7.7h0m.1-26.5h0m.1 60.6h0m.1-26.2h0m.1-38.1h0m.1 66.9h0m.1-21.3h0m.1-32.9h0m.1-30.5h0m.1 15.8h0m.1 40.6h0m.1-26h0m.1-3.1h0m.1-23.5h0m.1 32.9h0m0-19.7h0m.1 36.3h0m.1 29.2h0m.1 7.2h0m.1-30.7h0m.1 7.2h0m.1-36.8h0m.1 13.9h0m.1-51.8h0m.1 42.1h0m.1-61h0m.1 67.2h0m.1 8.7h0m.1 8h0m.1 2.4h0m0-23.2h0m.1-28.2h0m.1-.4h0m.1 36.4h0m.1-41.4h0m.1 49.7h0m.1-7.9h0m.1 21.5h0m.1-14.2h0m.1-58.4h0m.1 25.6h0m.1-27h0m.1 36h0m.1-31.5h0m.1 35.5h0m.1 32.3h0m0-31.7h0m.1 7.3h0m.1 74.4h0m.1-123.2h0m.1 87.5h0m.1-28.8h0m.1 66.7h0m.1-81.8h0m.1-98.1h0m.1 114.5h0m.1 9h0m.1-31.9h0m.1 31.6h0m.1 60.7h0m.1-44.4h0m0-68.2h0m.1 11.6h0m.1 17.3h0m.1-11.7h0m.1 12.5h0m.1-11h0m.1 26.9h0m.1-38.5h0m.1 77.4h0m.1-62.4h0m.1-9.8h0m.1-9.6h0m.1 18.4h0m.1 73.5h0m.1-49.8h0m0 49.2h0m.1-80.8h0m.1 39.5h0m.1-69.3h0m.1 98.4h0m.1-53h0m.1 66.5h0m.1-74.1h0m.1 30.2h0m.1-21.5h0m.1 92.7h0m.1-74.3h0m.1-4.2h0m.1.8h0m.1-7.7h0m.1 2.6h0m0 38.6h0m.1-157.1h0m.1 135.7h0m.1-44.6h0m.1 23.9h0m.1 7.1h0m.1-43.4h0m.1 25.8h0m.1-36.2h0m.1 106.4h0m.1-91.3h0m.1 47.6h0m.1-1.6h0m.1 13.9h0m.1-18.3h0m0-42.4h0m.1 47.4h0m.1-44.1h0m.1-23.5h0m.1 29.7h0m.1 18.5h0m.1 30.7h0m.1-81.3h0m.1 4.9h0m.1 47.3h0m.1-9.1h0m.1 58.6h0m.1-47.9h0m.1-47.1h0m.1 83.2h0m0-50.1h0m.1-11.2h0m.1-39.2h0m.1 24.9h0m.1 17.1h0m.1 25.3h0m.1-1.9h0m.1 52.9h0m.1-21.5h0m.1-28.9h0m.1 16.1h0m.1-22.5h0m.1-23.5h0m.1 36h0m.1-42.5h0m0 50.6h0m.1-32.8h0m.1 1.1h0m.1 37.8h0m.1-31.3h0m.1-37.5h0m.1 3.4h0m.1 86.3h0m.1-43.8h0m.1-1.3h0m.1-10.2h0m.1-61h0m.1 63.6h0m.1 27.9h0m.1-36.3h0m.1 17.8h0m0-22.3h0m.1 16h0m.1 55.5h0m.1-41.6h0m.1 98.3h0m.1-150.6h0m.1-47.1h0m.1 99.8h0m.1-39.1h0m.1-6.8h0m.1 32.5h0m.1 11.1h0m.1-28.2h0m.1 14.9h0m.1 53.8h0m0 19.7h0m.1-77.9h0m.1-69.9h0m.1 3.3h0m.1 47.8h0m.1 27.9h0m.1-43.1h0m.1 39.3h0m.1 37.1h0m.1-28.3h0m.1 50.6h0m.1-68.4h0m.1 10.8h0m.1-59.5h0m.1 67.4h0m0 16.3h0m.1-49.6h0m.1 8.7h0m.1 30.5h0m.1-24.6h0m.1-36.1h0m.1 111.2h0m.1-80.9h0m.1-1.1h0m.1-5.5h0m.1 11.1h0m.1-37.6h0m.1-2.6h0m.1 2.7h0m.1 88.2h0m.1-29.1h0m0-.8h0m.1 9.7h0m.1-29.9h0m.1 45.8h0m.1-29h0m.1-49.6h0m.1-67.2h0m.1 101.6h0m.1 3h0m.1-2.9h0m.1 57.2h0m.1-76.3h0m.1 30.6h0m.1-10.4h0m.1 26h0m0-10.4h0m.1-38h0m.1 6h0m.1 47.9h0m.1-36.9h0m.1-43.9h0m.1 73.8h0m.1-54.8h0m.1-9.1h0m.1 43.6h0m.1-2.6h0m.1 39.1h0m.1-79.7h0m.1 17.5h0m.1 62.9h0m0 48.4h0m.1-80.9h0m.1-5.7h0m.1-.2h0m.1-19.2h0m.1-1.3h0m.1 72.9h0m.1-30.3h0m.1-96.9h0m.1 119h0m.1-47.5h0m.1-37.6h0m.1 37.7h0m.1 117.6h0m.1-117.7h0m0 23.4h0m.1 30.5h0m.1-46.8h0m.1-69.5h0m.1 97.9h0m.1-9.5h0m.1-23.5h0m.1 11.7h0m.1-50h0m.1 22h0m.1 26.9h0m.1-85.6h0m.1 203.9h0m.1-107.9h0m.1-38.2h0m.1-13.3h0m0 9.4h0m.1 6h0m.1 41.2h0m.1-6.9h0m.1 18.1h0m.1-19.9h0m.1-25.7h0m.1 6.2h0m.1-59.7h0m.1 117.8h0m.1-43.4h0m.1-44.3h0m.1 58h0m.1 52.1h0m.1-77.5h0m0 35.6h0m.1 11.4h0m.1 41.6h0m.1-48.1h0m.1 15.3h0m.1-41.1h0m.1 60.9h0m.1-72.6h0m.1 17.3h0m.1-67.5h0m.1 66.9h0m.1-39.3h0m.1 17h0m.1 4.1h0m.1-15.2h0m0 53.5h0m.1-66h0m.1 107.7h0m.1-34.3h0m.1-88.1h0m.1-78.9h0m.1 156.1h0m.1-57.6h0m.1 10.4h0m.1 82.8h0m.1-36.3h0m.1-79h0m.1 64.4h0m.1-60.2h0m.1 126h0m.1-148.5h0m0 1.7h0m.1 68.8h0m.1 19.2h0m.1-77.3h0m.1 74.1h0m.1 12h0m.1-24.5h0m.1-17h0m.1 27.5h0m.1-51.1h0m.1 55.1h0m.1 69.6h0m.1-69.3h0m.1-62.4h0m.1 15h0m0-6h0m.1 5.6h0m.1 128.3h0m.1-67.6h0m.1-42.2h0m.1-24.1h0m.1-5.1h0m.1-.5h0m.1 63.9h0m.1-72h0m.1 64.3h0m.1 8.4h0m.1-77.1h0m.1 33.2h0m.1 65h0m0-58.7h0m.1 9h0m.1 51.6h0m.1-21h0m.1 2.4h0m.1-49.7h0m.1-58.3h0m.1 47.2h0m.1 24.1h0m.1-57.5h0m.1 149.9h0m.1-130.2h0m.1.1h0m.1-12.2h0m.1 134.1h0m0-53.2h0m.1-84.1h0m.1 104.6h0m.1-50.9h0m.1 23h0m.1-18.9h0m.1 2.8h0m.1-34h0m.1 44.3h0m.1 3.7h0m.1-60.5h0m.1 96.9h0m.1-37.3h0m.1 29.7h0m.1-26.4h0m.1-44.3h0m0-2.2h0m.1 47.6h0m.1-15.6h0m.1 21.5h0m.1-12.5h0m.1-4h0m.1 15.1h0m.1-6.2h0m.1-147.2h0m.1 236.3h0m.1-154.1h0m.1 27.8h0m.1 20.5h0m.1-13.4h0m.1-53.7h0m0 68.2h0m.1 21h0m.1 42.3h0m.1-72h0m.1 40.4h0m.1 1.2h0m.1-26.4h0m.1-29.1h0m.1 138.9h0m.1-141.2h0m.1 69.7h0m.1 45.9h0m.1-105.4h0m.1-10.8h0m.1 38.2h0m0 56.4h0m.1-94.1h0m.1 45.2h0m.1-31.2h0m.1-13.1h0m.1 27.4h0m.1-62.7h0m.1 111.6h0m.1-104.3h0m.1 91.6h0m.1-41.7h0m.1 1.9h0m.1 27.7h0m.1-101.6h0m.1 59.7h0m.1-8.8h0m0 29.8h0m.1-22.4h0m.1 78.1h0m.1-83.4h0m.1-12.4h0m.1 26.7h0m.1-59.1h0m.1 35h0m.1 57h0m.1 29.9h0m.1-42.2h0m.1-77.4h0m.1-4.2h0m.1 68.1h0m.1 64.5h0m0-91.7h0m.1.7h0m.1 118.4h0m.1-108.7h0m.1 66.6h0m.1-27.9h0m.1-22.1h0m.1 66.1h0m.1.9h0m.1-118.6h0m.1-11.3h0m.1 135.5h0m.1-13.9h0m.1-85.3h0m.1 34.4h0m0-49.6h0m.1 37.4h0m.1.5h0m.1-41.6h0m.1 75.2h0m.1-79.6h0m.1 91.1h0m.1 27.8h0m.1-84.3h0m.1 73.9h0m.1-24.6h0m.1-43.9h0m.1 78.1h0m.1-27h0m.1-53.6h0m0 4.3h0m.1-11.4h0m.1-11.3h0m.1 49.7h0m.1-61.4h0m.1 68h0m.1 69.8h0m.1-97.2h0m.1-45h0m.1 50.7h0m.1 62.1h0m.1 31.2h0m.1-100.4h0m.1 3.6h0m.1.9h0m.1 24.5h0m0-65.2h0m.1 26.7h0m.1-38.3h0m.1 42.6h0m.1-3.7h0m.1-9.2h0m.1-35.7h0m.1 4.1h0m.1-2.8h0m.1 125.7h0m.1-106.8h0m.1 65.2h0m.1-53.3h0m.1-41.1h0m.1 51.6h0m0-20.4h0m.1 48.6h0m.1-8.6h0m.1-20.6h0m.1 48.7h0m.1-69.8h0m.1-15h0m.1 5.1h0m.1 149.8h0m.1-170.7h0m.1 5.4h0m.1 79.7h0m.1-2.9h0m.1-52.2h0m.1-36.7h0m0-29.5h0m.1 76.9h0m.1-67.2h0m.1 65.8h0m.1 83.4h0m.1-107.9h0m.1-40.4h0m.1 23.4h0m.1 103.4h0m.1-50.1h0m.1 42.3h0m.1 3.9h0m.1 25.2h0m.1-81h0m.1.6h0m.1-85h0m0 120.4h0m.1-24.8h0m.1-54.5h0m.1 40.2h0m.1 22.3h0m.1-.2h0m.1-13.8h0m.1 5.7h0m.1-31.4h0m.1 98.4h0m.1-1.9h0m.1-133.2h0m.1 80h0m.1-23h0m.1-37.8h0m0 11.3h0m.1 82.2h0m.1-4.2h0m.1-45.6h0m.1 12.6h0m.1-9.1h0m.1-.5h0m.1-80.7h0m.1 118.9h0m.1-81.4h0m.1 135.7h0m.1-183.4h0m.1 56.3h0m.1 45.4h0m.1 25h0m0-100.6h0m.1 76.7h0m.1-23.1h0m.1 132.8h0m.1-104.2h0m.1-9.9h0m.1-1.6h0m.1 24.8h0m.1-47h0m.1 78h0m.1-60.2h0m.1-72.1h0m.1 30.4h0m.1 71.7h0m.1-86.1h0m0 33.2h0m.1 109.9h0m.1-106.5h0m.1 103.2h0m.1-59.9h0m.1-1.5h0m.1-7h0m.1-43.6h0m.1-6h0m.1 49h0m.1-54.3h0m.1 51.3h0m.1-8.3h0m.1 129.9h0m.1-114.9h0m.1-19.6h0m0 55h0m.1-21.2h0m.1-34.7h0m.1 35.4h0m.1 42.1h0m.1-53.3h0m.1-2.1h0m.1-68.5h0m.1 118.3h0m.1-29.5h0m.1-89h0m.1 87.4h0m.1-62.5h0m.1-9h0m.1-2.3h0m0-10.7h0m.1-25.7h0m.1 37.5h0m.1 64.1h0m.1-52.7h0m.1 37h0m.1 4h0m.1-23.1h0m.1 27.2h0m.1-46h0m.1 32.6h0m.1-14.5h0m.1-68.3h0m.1 89.5h0m.1-89.9h0m0 64.4h0m.1 14.2h0m.1-99.5h0m.1 87.1h0m.1 66.1h0m.1-73.5h0m.1-4.3h0m.1 70.4h0m.1-55.7h0m.1 7.4h0m.1-1.9h0m.1-26.1h0m.1 17.2h0m.1 42.7h0m.1-92.2h0m.1 134.8h0m0-76h0m.1-18.5h0m.1 49.5h0m.1-77.1h0m.1 39.2h0m.1 12.4h0m.1-7.2h0m.1 37.2h0m.1-95.5h0m.1 46h0m.1 64.8h0m.1-90.8h0m.1 22.7h0m.1-8.8h0m.1 19.5h0m0-20.8h0m.1-17.4h0m.1 39.5h0m.1 2.5h0m.1-21.4h0m.1-3.2h0m.1-.7h0m.1 82.2h0m.1-83.4h0m.1 49.8h0m.1-2.1h0m.1 17.8h0m.1-31.6h0m.1-3.2h0m.1 10.7h0m0 23.2h0m.1-69.8h0m.1 23.8h0m.1-52.3h0m.1 64.4h0m.1-19.5h0m.1 46.6h0m.1-69.9h0m.1 112.7h0m.1 3.9h0m.1-149.4h0m.1 98.3h0m.1-63.6h0m.1 53.3h0m.1-87h0m0 53.4h0m.1 52.3h0m.1-8h0m.1-50.1h0m.1 21.7h0m.1 35.7h0m.1 40.1h0m.1-27.1h0m.1-97.5h0m.1 23.5h0m.1 17.5h0m.1 14.7h0m.1-122.7h0m.1 80.9h0m.1 23.7h0m.1-39.6h0m0-38h0m.1 58.6h0m.1 61.2h0m.1 13.4h0m.1-98.5h0m.1 62.7h0m.1-27.7h0m.1 22.7h0m.1 94h0m.1-105.8h0m.1-23.4h0m.1 7h0m.1-2.9h0m.1-48h0m.1 92h0m0-57.1h0m.1 74.4h0m.1 7.2h0m.1-57.5h0m.1-9.5h0m.1 8h0m.1 0h0m.1-28.7h0m.1-9.8h0m.1-48.7h0m.1 129.6h0m.1 13h0m.1-64.2h0m.1 13.6h0m.1 16.9h0m0-20.9h0m.1 15.6h0m.1-55.9h0m.1 70h0m.1-18.9h0m.1 12.5h0m.1-63.9h0m.1 14.7h0m.1 73.6h0m.1-97.5h0m.1 4.7h0m.1 98.1h0m.1-35.3h0m.1-38.6h0m.1 44.4h0m.1 12.8h0m0 43.8h0m.1-23.2h0m.1-64.4h0m.1 24.9h0m.1-48.9h0m.1 32.6h0m.1 38.7h0m.1-43.2h0m.1 9.3h0m.1 62.2h0m.1 53.2h0m.1-70.3h0m.1 25.9h0m.1-64.6h0m.1 69.5h0m0-105.6h0m.1 15h0m.1-33h0m.1 110.1h0m.1-49.5h0m.1-.1h0m.1 1.6h0m.1-5.6h0m.1-9.1h0m.1 14h0m.1-55.6h0m.1-26.9h0m.1 34.7h0m.1 18h0m.1 85.5h0m0 15.5h0m.1-81.6h0m.1 77.9h0m.1-57.4h0m.1-29.3h0m.1-44.8h0m.1 69.5h0m.1 15.1h0m.1-41.7h0m.1-1.7h0m.1-8.3h0m.1 94.5h0m.1-76.1h0m.1 6.3h0m.1-7h0m0-3.1h0m.1 6h0m.1 75.3h0m.1-20.7h0m.1.8h0m.1-77.9h0m.1 36.5h0m.1-72h0m.1 91h0m.1-1.6h0m.1 42.2h0m.1-45.7h0m.1 68h0m.1-104.8h0m.1 12.2h0m.1-107.1h0m0 86.3h0m.1 13.6h0m.1-37.3h0m.1 60.5h0m.1 49h0m.1-87h0m.1-3.8h0m.1 77.1h0m.1-26.1h0m.1-46.8h0m.1 42.5h0m.1-48.4h0m.1-50.2h0m.1 56.5h0m.1 48.9h0m0-13.4h0m.1-2.8h0m.1-44.6h0m.1-41.6h0m.1 103.3h0m.1-20.7h0m.1 68.8h0m.1-137.7h0m.1 104.9h0m.1-11.9h0m.1-28.4h0m.1-87.2h0m.1-9.1h0m.1 116.4h0m.1 10.1h0m0 4.3h0m.1-71.6h0m.1 10.4h0m.1 21h0m.1-65.8h0m.1 61.7h0m.1 5.5h0m.1 21.3h0m.1-76.7h0m.1 92.3h0m.1-45.7h0m.1 6.3h0m.1-44.7h0m.1 9.5h0m.1 46.4h0m.1-49.9h0m0 39h0m.1 3h0m.1-23h0m.1-32.2h0m.1 95.7h0m.1 20.5h0m.1 2.8h0m.1-96.7h0m.1 15.3h0m.1-35.5h0m.1 38.8h0m.1-1.7h0m.1 2.7h0m.1 22.1h0m.1-24.4h0m0 28.7h0m.1-152.9h0m.1 161.6h0m.1-118.1h0m.1 173.6h0m.1-203h0m.1 101.3h0m.1 11h0m.1 70.9h0m.1-128.6h0m.1 22.9h0m.1 59.5h0m.1-126.5h0m.1 234.8h0m.1-91.4h0m0-109.3h0m.1 96.6h0m.1-18.7h0m.1-52.9h0m.1 80.3h0m.1-66.2h0m.1 66.8h0m.1-38.7h0m.1 71.9h0m.1-30.9h0m.1-29.5h0m.1-22h0m.1-24.3h0m.1 47.9h0m.1 23h0m0-12.6h0m.1-37.6h0m.1 7h0m.1 37.5h0m.1-4.1h0m.1 114.1h0m.1-205.5h0m.1 52.8h0m.1-9.9h0m.1 46.7h0m.1 48.1h0m.1-123.2h0m.1 45.6h0m.1 51h0m.1-56.4h0m.1 49h0m0-114.9h0m.1 153.2h0m.1-33.7h0m.1-72.8h0m.1 118.1h0m.1 13.4h0m.1-60.6h0m.1-12.4h0m.1-21h0m.1-60.8h0m.1 108.7h0m.1-47.7h0m.1 23.8h0m.1-33.8h0m.1 10.4h0m0 22.3h0m.1 42.5h0m.1-38.5h0m.1-36.9h0m.1 77h0m.1-37.1h0m.1 7.1h0m.1 8.7h0m.1-6.5h0m.1-58.7h0m.1 19h0m.1-38.9h0m.1 90h0m.1-134.6h0m.1 103.4h0m0-24.3h0m.1 2.8h0m.1-7.3h0m.1 52.3h0m.1-28.9h0m.1-20.4h0m.1 6.2h0m.1-6.4h0m.1 91.9h0m.1-89.7h0m.1 49.2h0m.1-35.9h0m.1 30h0m.1-22.3h0m.1-39.6h0m.1 47.4h0m0 83h0m.1-7.9h0m.1-135.7h0m.1 96.8h0m.1 13.7h0m.1-61.9h0m.1 35.3h0m.1-63.5h0m.1 54h0m.1-75.9h0m.1 89.6h0m.1-1.4h0m.1-72.9h0m.1-8.8h0m.1 43.5h0m0-101.2h0m.1 120.8h0m.1-10.7h0m.1 93.8h0m.1-107.5h0m.1-51.8h0m.1 71.5h0m.1-19.9h0m.1 81.6h0m.1-101.1h0m.1 23.5h0m.1-8.1h0m.1 6.8h0m.1-16.6h0m.1 56.1h0m0-20.1h0m.1-42.2h0m.1 53.5h0m.1 5h0m.1-54.7h0m.1-9.1h0m.1 22.5h0m.1 33.6h0m.1-21.3h0m.1-6.4h0m.1-101.4h0m.1 85.2h0m.1 16h0m.1 27h0m.1-26.3h0m0-27.2h0m.1 5.4h0m.1 41.5h0m.1-23.3h0m.1-122.3h0m.1 80.2h0m.1 9.9h0m.1 57h0m.1-12.4h0m.1 1h0m.1-11.2h0m.1-56.8h0m.1 14.9h0m.1 51.9h0m.1 9.2h0m.1 59.5h0m0-96.1h0m.1 16.5h0m.1.4h0m.1 97.5h0m.1-74.1h0m.1 38.6h0m.1-64.7h0m.1-1.9h0m.1 45.9h0m.1-127.3h0m.1 54.9h0m.1 59.8h0m.1-23.4h0m.1-73.5h0m.1 60.6h0m0 13.8h0m.1-23.6h0m.1 64.8h0m.1-62.7h0m.1 30h0m.1-61.6h0m.1 57.4h0m.1 35.8h0m.1-5.1h0m.1-98.6h0m.1 60.8h0m.1-23.4h0m.1 7.2h0m.1-12.1h0m.1-15.3h0m0 50.7h0m.1 60h0m.1-68.1h0m.1 78.7h0m.1-103.7h0m.1-73.4h0m.1 79.6h0m.1 27.1h0m.1-38.1h0m.1-17.6h0m.1 115.5h0m.1-10.8h0m.1-12.7h0m.1-25.9h0m.1-9.9h0m.1-31.2h0m0 12.5h0m.1 21.7h0m.1-50.3h0m.1 36.7h0m.1 13.7h0m.1-24h0m.1 7.2h0m.1-1.1h0m.1 58.3h0m.1-114.7h0m.1 16.4h0m.1 23.6h0m.1 54.1h0m.1-16.7h0m.1-77.5h0m0 25h0m.1 89h0m.1-181h0m.1 143.2h0m.1 69.7h0m.1-151.8h0m.1 85.5h0m.1-68.3h0m.1 29.5h0m.1-3.3h0m.1-68.1h0m.1 71.8h0m.1 33.5h0m.1-19.8h0m.1 81.8h0m0-135h0m.1 28.9h0m.1-45.5h0m.1 13.4h0m.1 103.1h0m.1 14h0m.1-11h0m.1-40.6h0m.1 1.1h0m.1 70.7h0m.1 20.3h0m.1-106.7h0m.1 58.4h0m.1-46h0m.1 71.6h0m0-26.6h0m.1-43.8h0m.1-44.6h0m.1 33.1h0m.1 16.4h0m.1-4.5h0m.1-9.8h0m.1-30.5h0m.1 32.3h0m.1 3.4h0m.1 55h0m.1-45.8h0m.1 34.4h0m.1-90.7h0m.1 19.1h0m.1-10.4h0m0 14.7h0m.1 49.6h0m.1 86.7h0m.1-143h0m.1 127.9h0m.1-82.3h0m.1 24.6h0m.1-103.5h0m.1 84.5h0m.1 5.1h0m.1 34.2h0m.1-76.3h0m.1 16.5h0m.1-2h0m.1-42.3h0m0 104h0m.1-41.5h0m.1 83.4h0m.1-91.1h0m.1 48.4h0m.1-108.5h0m.1 28.2h0m.1-15h0m.1 125.1h0m.1-85.7h0m.1-52.3h0m.1 55.9h0m.1-54.1h0m.1 121.1h0m.1-86.5h0m0-37.7h0m.1 35.9h0m.1 77.7h0m.1-76.9h0m.1 68.1h0m.1-57.1h0m.1 6.9h0m.1 41.9h0m.1-81.9h0m.1 62.5h0m.1-44.7h0m.1-44.9h0m.1 58.4h0m.1-11.7h0m.1-32.1h0m.1 46.6h0m0-8.1h0m.1 52.3h0m.1-38.7h0m.1-82.7h0m.1 65.1h0m.1 11.5h0m.1 32.7h0m.1-4.6h0m.1-61.4h0m.1 97.4h0m.1-30.9h0m.1-23.4h0m.1-25.1h0m.1-73.1h0m.1 212.8h0m0-67.9h0m.1-7h0m.1-83.4h0m.1-8h0m.1 28.2h0m.1 7.8h0m.1-46.7h0m.1 34h0m.1 71h0m.1-135.9h0m.1 104.8h0m.1 3.3h0m.1-42.9h0m.1 14.1h0m.1-6.4h0m0 9.8h0m.1 44.1h0m.1-120.6h0m.1 193.9h0m.1-56.9h0m.1-43.9h0m.1 12.1h0m.1-19.7h0m.1 54.9h0m.1 4.5h0m.1-105h0m.1 67.3h0m.1 23.5h0m.1-70.7h0m.1 43h0m0-11.2h0m.1-12.1h0m.1-5.9h0m.1 49.3h0m.1-81.6h0m.1 90.8h0m.1 10.3h0m.1-50.3h0m.1-45.3h0m.1-20.8h0m.1 10.1h0m.1 29.6h0m.1 32.9h0m.1-122.6h0m.1 153.3h0m.1-112.1h0m0 92.3h0m.1-71h0m.1 7.7h0m.1 46.7h0m.1-65.1h0m.1 122.3h0m.1-110.3h0m.1-12.2h0m.1 76.1h0m.1 10.5h0m.1-86.1h0m.1 74.3h0m.1-96h0m.1 150.1h0m.1-103h0m0-32.9h0m.1 81.4h0m.1-27.9h0m.1 14.1h0m.1-56.2h0m.1 116.6h0m.1-67.3h0m.1-59.2h0m.1 39.9h0m.1-39.9h0m.1-10h0m.1 106.5h0m.1 6.5h0m.1 5.3h0m.1-133.9h0m0 51.7h0m.1 30.8h0m.1-92.3h0m.1 3.3h0m.1 135.9h0m.1-63.6h0m.1-10.3h0m.1-81.8h0m.1 173.3h0m.1-105.3h0m.1-19.7h0m.1 120.9h0m.1-84.3h0m.1-71.4h0m.1 103.5h0m.1-8.1h0m0-56.1h0m.1 42.4h0m.1 49.6h0m.1 8.3h0m.1-23.5h0m.1-94.1h0m.1 98h0m.1-20h0m.1-86.9h0m.1 54.3h0m.1-22.3h0m.1 46.2h0m.1-51.7h0m.1 121.8h0m.1-108.1h0m0-3.8h0m.1 3.6h0m.1 82.7h0m.1-83h0m.1-47.7h0m.1 38.6h0m.1 66.8h0m.1-8.2h0m.1 83.9h0m.1-101.5h0m.1 3.8h0m.1-24h0m.1 25.2h0m.1-3.6h0m.1 13.9h0m0-92.3h0m.1 156.4h0m.1-87.4h0m.1-15.1h0m.1-8.3h0m.1 32.8h0m.1 23.3h0m.1 12.6h0m.1-30.6h0m.1 58.1h0m.1-145.6h0m.1 78.5h0m.1 29.6h0m.1-4.8h0m.1-19.3h0m0-45.3h0m.1 1.9h0m.1 55.4h0m.1-43.8h0m.1 53.3h0m.1-67h0m.1 28.3h0m.1-51.3h0m.1 35.1h0m.1 49.3h0m.1-29.6h0m.1-32.4h0m.1 176.1h0m.1-172.3h0m.1 59.7h0m.1 30.1h0m0-95.4h0m.1 31.6h0m.1 0h0m.1 37h0m.1-13.5h0m.1-39h0m.1-18.9h0m.1-6.3h0m.1 71.3h0m.1 17.7h0m.1-45.5h0m.1-15.5h0m.1 59.2h0m.1-73.5h0m.1 9.5h0m0 106.6h0m.1-55.7h0m.1-23.5h0m.1-90.9h0m.1 120.9h0m.1-61.4h0m.1 64.5h0m.1 6.8h0m.1-41.2h0m.1 37h0m.1 21.8h0m.1-8h0m.1-54.6h0m.1 30h0m.1-35.2h0m0 8.5h0m.1-40.3h0m.1 95.8h0m.1-50.4h0m.1 22.1h0m.1-63.3h0m.1-39.5h0m.1 42.3h0m.1 51h0m.1 7.4h0m.1 45.3h0m.1-56h0m.1-11h0m.1 41.5h0m.1-29.4h0m.1 15.9h0m0 31.6h0m.1-159.5h0m.1 144.5h0m.1-170.8h0m.1 112.4h0m.1-19.7h0m.1 37h0m.1 96.2h0m.1-105.8h0m.1 10.4h0m.1 15.8h0m.1-57.9h0m.1-57.2h0m.1 126.2h0m.1-10.3h0m0-6.4h0m.1-20.1h0m.1-29.3h0m.1 71.7h0m.1-56.8h0m.1 103.3h0m.1-108.9h0m.1 18h0m.1-16.1h0m.1 97.2h0m.1-69.1h0m.1 49h0m.1-65.1h0m.1 93.2h0m.1-43.6h0m0 12.2h0m.1-.8h0m.1-76.5h0m.1 90.4h0m.1-35.7h0m.1 56.9h0m.1-135.3h0m.1 20.1h0m.1 76.3h0m.1-11.2h0m.1-110h0m.1 58.7h0m.1-7.8h0m.1 45.7h0m.1 26.5h0m0-10.4h0m.1-40.2h0m.1 12.8h0m.1 1h0m.1-47.5h0m.1 68.3h0m.1-24h0m.1-92.8h0m.1 91.3h0m.1 25.8h0m.1 75.4h0m.1-93.7h0m.1 37.5h0m.1-52.8h0m.1 28h0m.1 1.5h0m0-12.4h0m.1-32.2h0m.1 7.5h0m.1 91.9h0m.1-29.2h0m.1 9.7h0m.1-43.5h0m.1 13.1h0m.1-96.6h0m.1 59.5h0m.1 33.9h0m.1-35.9h0m.1 23.3h0m.1-64.9h0m.1 26h0m0 74.4h0m.1-135.8h0m.1 107.2h0m.1-3h0m.1 5.8h0m.1 40.2h0m.1-4.3h0m.1-58.6h0m.1 7.5h0m.1-26h0m.1-25.6h0m.1-8.7h0m.1 25.3h0m.1 77.9h0m.1-.1h0m0-16.5h0m.1-15.2h0m.1-32.9h0m.1 12.2h0m.1-80.1h0m.1 98h0m.1-10.7h0m.1 3.7h0m.1-29.3h0m.1 1.1h0m.1-13h0m.1 75.9h0m.1-15.2h0m.1-35.7h0m.1 77.5h0m.1-27.5h0m0 13.2h0m.1-90.2h0m.1 67.5h0m.1-18.1h0m.1-19.2h0m.1-37.1h0m.1 34h0m.1-13h0m.1 59.4h0m.1 46.8h0m.1-143.1h0m.1 48h0m.1 38.5h0m.1-111.5h0m.1 63.5h0m0 48.8h0m.1-129.8h0m.1 149.5h0m.1-18.9h0m.1-36.1h0m.1 1.7h0m.1-7.3h0m.1-20.1h0m.1 35.4h0m.1 22.4h0m.1.1h0m.1-14.9h0m.1-64.3h0m.1 23.7h0m.1 71.5h0m0-29.2h0m.1 5.9h0m.1 47.1h0m.1-111.9h0m.1 80.2h0m.1 1.3h0m.1-76.1h0m.1-35.3h0m.1 28.1h0m.1 42.1h0m.1-67.7h0m.1 7.7h0m.1 52.2h0m.1-23.5h0m.1 43.9h0m0-45.3h0m.1 24h0m.1 19h0m.1-40.3h0m.1 30.3h0m.1 10.4h0m.1 9.5h0m.1-31.3h0m.1-23.4h0m.1 12h0m.1 35.9h0m.1-47.8h0m.1 34.3h0m.1-4.9h0m.1 18.9h0m.1 14.7h0m0 26.6h0m.1-104.8h0m.1 43.6h0m.1 20.9h0m.1-25.1h0m.1 18.2h0m.1-81.7h0m.1 144.3h0m.1-70h0m.1 51.3h0m.1-60h0m.1 38.5h0m.1-4.4h0m.1 53h0m.1-108.4h0m0 61.6h0m.1-81.8h0m.1 19.8h0m.1-12.9h0m.1 45.8h0m.1 63.5h0m.1-114.4h0m.1 100.7h0m.1-40h0m.1-27.8h0m.1-29.5h0m.1 104.1h0m.1-43.3h0m.1 20.1h0m.1-43.3h0m0-62.3h0m.1.9h0m.1 87.3h0m.1-71.6h0m.1 62.8h0m.1-27.3h0m.1-.1h0m.1-103.5h0m.1 167.3h0m.1-123.6h0m.1 53.3h0m.1 47.9h0m.1-111.5h0m.1 96.3h0m.1 29.3h0m.1 79.4h0m0-129.4h0m.1 45.3h0m.1-64.6h0m.1 79.4h0m.1-44.8h0m.1-47.4h0m.1 31.4h0m.1 34.1h0m.1-22.2h0m.1 63.8h0m.1-69.6h0m.1-9.4h0m.1 58.8h0m.1-46.8h0m.1-50.2h0m0 112.4h0m.1-71h0m.1 46h0m.1-26.6h0m.1 120h0m.1-129.2h0m.1 12.2h0m.1-1.2h0m.1-27.3h0m.1 88.7h0m.1-63.1h0m.1-8.8h0m.1 36h0m.1-102.4h0m.1 71.6h0m0 22.5h0m.1 36.8h0m.1-44h0m.1-46.6h0m.1 39.9h0m.1 31.8h0m.1-53.4h0m.1-84.9h0m.1 75.8h0m.1 14.8h0m.1 29.4h0m.1-60.3h0m.1-59.6h0m.1 80.6h0m.1-17.9h0m0 72.1h0m.1 38.1h0m.1-115.2h0m.1 115.3h0m.1-121.4h0m.1-38.8h0m.1 62.9h0m.1 34.6h0m.1-2.1h0m.1-1.3h0m.1-10.8h0m.1-9h0m.1 8.8h0m.1-46.6h0m.1 67.7h0m.1 37.5h0m0-41.2h0m.1-4.3h0m.1 30.2h0m.1-20.1h0m.1 5.8h0m.1-56.9h0m.1 11.7h0m.1-25.4h0m.1 24h0m.1-31.5h0m.1 54.6h0m.1-19.5h0m.1.4h0m.1 63.5h0m.1-31.6h0m0 3.8h0m.1-26.8h0m.1 20.8h0m.1-12.8h0m.1 91.4h0m.1-81.9h0m.1-39.1h0m.1-16.9h0m.1 107.5h0m.1-49.8h0m.1 42h0m.1-53.4h0m.1-7.2h0m.1-39.5h0m.1 30.9h0m0 27.9h0m.1-87.1h0m.1 86.7h0m.1-33h0m.1-23.2h0m.1 65.1h0m.1-63.6h0m.1 35h0m.1 45.2h0m.1 9.9h0m.1 33.3h0m.1-94.7h0m.1 47.6h0m.1-52.7h0m.1 19.6h0m.1 50h0m0-41.4h0m.1-51.4h0m.1 15.6h0m.1-62.9h0m.1 31.2h0m.1 138.8h0m.1-67.7h0m.1-19.5h0m.1-6.7h0m.1 97.6h0m.1-61.4h0m.1-13.9h0m.1-40.7h0m.1 26.3h0m.1 44.8h0m0-43.9h0m.1-24.4h0m.1 51h0m.1-4.7h0m.1-43.7h0m.1 8.6h0m.1 48.7h0m.1 15.8h0m.1-87.6h0m.1 76.9h0m.1-84.6h0m.1 84.7h0m.1-11.4h0m.1-25.7h0m.1-17.7h0m0-18.5h0m.1-14.8h0m.1 66.9h0m.1-29h0m.1 21h0m.1 33.2h0m.1-57.1h0m.1 15.3h0m.1-80.9h0m.1 136.5h0m.1-38.3h0m.1-12.2h0m.1 12.3h0m.1-110.9h0m.1 70.5h0m0 10.8h0m.1 24.3h0m.1-54.9h0m.1 48.8h0m.1-3.6h0m.1-46.9h0m.1 55.5h0m.1-23.5h0m.1 3.1h0m.1 6.1h0m.1-34.6h0m.1 49.6h0m.1 1h0m.1-48.4h0m.1 11.2h0m.1-31.2h0m0 138h0m.1-76.8h0m.1-38.1h0m.1-53.2h0m.1 72.8h0m.1 24h0m.1-49.8h0m.1 39h0m.1-33.5h0m.1-19.6h0m.1 60.7h0m.1-98.3h0m.1 156.2h0m.1-127.1h0m.1 50.5h0m0 18.8h0m.1 2.1h0m.1-11.6h0m.1-38.4h0m.1 86h0m.1-122.9h0m.1 99.8h0m.1-22.5h0m.1 78.7h0m.1-58.2h0m.1 16.7h0m.1-108.1h0m.1 155.4h0m.1-49.6h0m.1-78.7h0m0 12.3h0m.1 78.8h0m.1-59.2h0m.1 10.4h0m.1 3.4h0m.1 42.6h0m.1-93h0m.1 68.7h0m.1-58.9h0m.1 5.3h0m.1-15.7h0m.1-13.3h0m.1 97.7h0m.1 47.8h0m.1-78.7h0m.1 75.8h0m0-136.1h0m.1-28.2h0m.1 100.1h0m.1 21.5h0m.1-104.5h0m.1 21.7h0m.1 35.5h0m.1-31.8h0m.1 32.1h0m.1-89.9h0m.1 41.6h0m.1 78.9h0m.1-10.7h0m.1 26.4h0m.1-10.3h0m0-98.6h0m.1 63h0m.1 17h0m.1-60.2h0m.1 37h0m.1-24.9h0m.1-38.8h0m.1 99.4h0m.1-23.7h0m.1 32.1h0m.1 24.3h0m.1-38.6h0m.1 3.4h0m.1.8h0m.1-78.9h0m0 155.7h0m.1-132h0m.1-10.1h0m.1-26.1h0m.1 96.7h0m.1-35.2h0m.1 96.2h0m.1-109.2h0m.1-.1h0m.1-75.4h0m.1 132.4h0m.1-42.7h0m.1 39.4h0m.1-95.2h0m.1 2h0m0 69.1h0m.1-41.6h0m.1 10.4h0m.1-25.8h0m.1 37.5h0m.1-13.2h0m.1 20.2h0m.1-44.7h0m.1 124.7h0m.1-94.8h0m.1 60.9h0m.1-12.7h0m.1-66.5h0m.1 56.3h0m.1-91.6h0m.1-55.7h0m0 63.2h0m.1 52.5h0m.1 58.2h0m.1-65.4h0m.1 50.3h0m.1.4h0m.1-77.4h0m.1 67.1h0m.1 17.8h0m.1-4.9h0m.1-62.5h0m.1 20.4h0m.1-4.9h0m.1-41.2h0m.1-71h0m0 78.2h0m.1 61.6h0m.1-74.1h0m.1 79.2h0m.1-69h0m.1 67.7h0m.1-60.4h0m.1 46.8h0m.1-43.8h0m.1 39.4h0m.1-8.2h0m.1-18.6h0m.1 0h0m.1 22.5h0m.1 16.2h0m0-37.7h0m.1 34.6h0m.1-16.6h0m.1 43.6h0m.1-115.2h0m.1 47.4h0m.1 8.3h0m.1-13.9h0m.1-7.3h0m.1 7.8h0m.1 25.5h0m.1-1.4h0m.1-4.4h0m.1 20.9h0m.1-25.4h0m.1-20.9h0m0 63h0m.1 35.4h0m.1-30.2h0m.1-58.3h0m.1 8.7h0m.1 89.5h0m.1-133.2h0m.1 98.9h0m.1-28.8h0m.1-37.1h0m.1-43.4h0m.1 142.5h0m.1-39h0m.1-21.6h0m.1-23.1h0m0-12.5h0m.1 25.2h0m.1-22.3h0m.1 14.9h0m.1-37.8h0m.1 23.5h0m.1 60.9h0m.1-51h0m.1-57.2h0m.1 6.3h0m.1 56.7h0m.1-7.3h0m.1-60.9h0m.1 94h0m.1 98.6h0m0-133.1h0m.1-33.5h0m.1 96.1h0m.1 1.8h0m.1-92.2h0m.1 8.1h0m.1 32.3h0m.1-14.6h0m.1 36.7h0m.1-40.6h0m.1 32.4h0m.1 35.1h0m.1-29h0m.1 25.7h0m.1-40.6h0m0 49.8h0m.1-14h0m.1-86.6h0m.1 90.5h0m.1-73h0m.1 81.3h0m.1-80.2h0m.1 19.7h0m.1-2.9h0m.1 2.8h0m.1-9.8h0m.1-60.6h0m.1 76.1h0m.1 70.2h0m.1-38.1h0m.1-62.2h0m0 67h0m.1 41.8h0m.1-108.4h0m.1-6.1h0m.1 66.1h0m.1-36.6h0m.1 24.3h0m.1-43.8h0m.1 58.1h0m.1-70.7h0m.1 18.1h0m.1 13.7h0m.1 4.6h0m.1-20.5h0m.1 15.5h0m0-12.1h0m.1 38.3h0m.1-43.8h0m.1 34.2h0m.1 47.5h0m.1-27.1h0m.1-7h0m.1-43.2h0m.1-36.3h0m.1 43.2h0m.1-13.1h0m.1 14.6h0m.1 35.3h0m.1-67.7h0m.1 7.8h0m0 25.1h0m.1 30.7h0m.1-32.6h0m.1-64.8h0m.1 59.3h0m.1 42.4h0m.1-42.9h0m.1 68.7h0m.1-44.3h0m.1 1.4h0m.1-31.4h0m.1 106.6h0m.1-108.8h0m.1 18h0m.1 13.9h0m.1-38.2h0m0 56.1h0m.1-1.2h0m.1-24.7h0m.1-8.8h0m.1 63.9h0m.1 17.8h0m.1-30.3h0m.1-47.1h0m.1-63.8h0m.1 77.5h0m.1-98.7h0m.1 162.6h0m.1-83.8h0m.1 37.4h0m.1-40.6h0m0-9.6h0m.1 103.6h0m.1-41.8h0m.1-65h0m.1 31.7h0m.1 31.1h0m.1-74.1h0m.1 71h0m.1 4h0m.1-71.7h0m.1 62h0m.1-44.3h0m.1 6.7h0m.1 6h0m.1 17.6h0m0 40.8h0m.1 6.2h0m.1-59.2h0m.1-11h0m.1 12.4h0m.1-11.5h0m.1 93.9h0m.1-35.8h0m.1-124.4h0m.1 65h0m.1 5.7h0m.1 52.7h0m.1-49.4h0m.1 71.6h0m.1-11h0m0-24.1h0m.1-28.9h0m.1-9.5h0m.1 54h0m.1-63.2h0m.1-.2h0m.1 43h0m.1-29.1h0m.1 42.6h0m.1-25h0m.1-41.7h0m.1 25.4h0m.1-27.5h0m.1 94.8h0m.1-98.4h0m.1 49.3h0m0-56.1h0m.1 77.4h0m.1-18.8h0m.1-86.5h0m.1 92.9h0m.1 64.8h0m.1-41.4h0m.1-112.6h0m.1 149.7h0m.1-129.9h0m.1 19.6h0m.1-21.7h0m.1 5.5h0m.1-24.4h0m.1 35.7h0m0 35.2h0m.1 83.9h0m.1-81.3h0m.1.5h0m.1 5.5h0m.1 12.7h0m.1-112.8h0m.1 73.5h0m.1 58.4h0m.1-137.1h0m.1 80.1h0m.1 19.5h0m.1 30.2h0m.1-75.1h0m.1-26.4h0m0 77h0m.1-19.6h0m.1-20.9h0m.1 62.5h0m.1-98.2h0m.1 72.4h0m.1 29.7h0m.1 41.4h0m.1-75.3h0m.1 15.8h0m.1-3.8h0m.1 37.5h0m.1-107.4h0m.1 43.3h0m.1-52.2h0m.1 34.3h0m0 26.9h0m.1 18.5h0m.1 9.6h0m.1-89.8h0m.1-.3h0m.1 52.6h0m.1 13.9h0m.1-71.2h0m.1 63.6h0m.1-15.5h0m.1 6.9h0m.1 21.3h0m.1-46.3h0m.1 55.6h0m.1-44.7h0m0-49.2h0m.1 30.8h0m.1 34.9h0m.1-3.4h0m.1-11.3h0m.1 39.9h0m.1-35.1h0m.1-65.2h0m.1 42.2h0m.1 42h0m.1 4.7h0m.1-75h0m.1 89.3h0m.1 24.8h0m.1-37.3h0m0-55.1h0m.1 22.1h0m.1-2.8h0m.1 14.8h0m.1 40.4h0m.1-12.2h0m.1 37.3h0m.1-61.7h0m.1 14.8h0m.1.3h0m.1 20h0m.1-32.1h0m.1-21.9h0m.1-6.4h0m.1 100.3h0m0-116.4h0m.1-14.8h0m.1 116.1h0m.1-35.1h0m.1-.7h0m.1 16.8h0m.1-60.5h0m.1-13.8h0m.1 60.9h0m.1-39.5h0m.1 23.1h0m.1 10.4h0m.1-25h0m.1 32.3h0m.1-85.2h0m.1 66.3h0m0 20.5h0m.1-21.3h0m.1-12.7h0m.1 21.9h0m.1-29.4h0m.1 12.2h0m.1-9.9h0m.1 85.6h0m.1-126.1h0m.1 36.6h0m.1-3.6h0m.1 31.1h0m.1-71.5h0m.1 36.7h0m.1-47.4h0m0 61.6h0m.1-52.6h0m.1 36.7h0m.1 104.6h0m.1-135.2h0m.1 55.9h0m.1 58.2h0m.1-25.1h0m.1-89.4h0m.1 85.3h0m.1-6.3h0m.1-10.7h0m.1-72.7h0m.1 109.3h0m.1-61h0m0-44.3h0m.1 39.5h0m.1 14.4h0m.1 44.2h0m.1-36.8h0m.1-26.4h0m.1 22.3h0m.1 21.1h0m.1-27.9h0m.1 10h0m.1-34.3h0m.1-14.6h0m.1 33.9h0m.1 51.1h0m.1-38.5h0m.1 18.3h0m0 57.2h0m.1-74h0m.1 23.1h0m.1-16.5h0m.1-36.7h0m.1 80.6h0m.1-12.2h0m.1-87.7h0m.1 41.2h0m.1 14.7h0m.1-60.5h0m.1 23.9h0m.1 33h0m.1-11.2h0m.1-45.9h0m0 34h0m.1 16.6h0m.1 9.7h0m.1 4.8h0m.1-21.5h0m.1-2.6h0m.1 64.4h0m.1-71h0m.1-5h0m.1-5.6h0m.1 7.4h0m.1-6.8h0m.1 61.4h0m.1-39.6h0m.1-94.1h0m0 86.1h0m.1-31.4h0m.1 39.8h0m.1-10.9h0m.1 13h0m.1-36.1h0m.1 53h0m.1 34.5h0m.1 64.8h0m.1-117.1h0m.1-4.3h0m.1-19.3h0m.1 29.2h0m.1-61.6h0m.1-16.1h0m0 139.1h0m.1 40.9h0m.1-103.3h0m.1-10h0m.1 3.7h0m.1 66.6h0m.1-113.2h0m.1 21h0m.1 16.1h0m.1 110.2h0m.1-50.1h0m.1-53.7h0m.1-5h0m.1-4.9h0m.1-11.8h0m.1 25.8h0m0-50.6h0m.1 25.9h0m.1-14.8h0m.1 55.9h0m.1-61.4h0m.1 47h0m.1 32.5h0m.1-49.4h0m.1-80.5h0m.1 47.6h0m.1-38.7h0m.1 201.9h0m.1-94.5h0m.1 6.9h0m.1-130.9h0m0 70.5h0m.1-26h0m.1-7.3h0m.1 101.8h0m.1 27.3h0m.1-59.3h0m.1 38h0m.1-16.5h0m.1-77.5h0m.1 39.2h0m.1-56.9h0m.1 48.3h0m.1 53.6h0m.1-64.4h0m.1 50.6h0m0-33.4h0m.1 61.5h0m.1-5.1h0m.1 7.3h0m.1-39.6h0m.1-19.2h0m.1 33.5h0m.1-71.5h0m.1-57.3h0m.1 119.6h0m.1-30.4h0m.1-9.5h0m.1-13.8h0m.1 58h0m.1-28.9h0m.1-38.8h0m0 112.5h0m.1-29.4h0m.1-123.3h0m.1 7.8h0m.1 78.3h0m.1 7.6h0m.1-44h0m.1 107.8h0m.1-31.4h0m.1-34.9h0m.1 4.2h0m.1-17.4h0m.1-12.7h0m.1 64.2h0m.1-94.9h0m0 78.3h0m.1-11.1h0m.1 6h0m.1-10.6h0m.1-62h0m.1 32.1h0m.1-20.6h0m.1 29.4h0m.1-27.8h0m.1 14.7h0m.1-8.1h0m.1-83.9h0m.1 67.9h0m.1 13.1h0m.1 40.3h0m0-29.2h0m.1 24.7h0m.1-27.4h0m.1 10.4h0m.1 11.2h0m.1-34.1h0m.1-44.4h0m.1 61.4h0m.1 2.2h0m.1 33.6h0m.1-8.2h0m.1-104.1h0m.1 62.4h0m.1 46.3h0m.1-35.4h0m0-4.3h0m.1 35.4h0m.1-28.4h0m.1 20.1h0m.1-53.4h0m.1 44.7h0m.1-97h0m.1 84.4h0m.1 11.6h0m.1-5.7h0m.1-8.7h0m.1-.6h0m.1-30.1h0m.1 53.5h0m.1-8.7h0m.1-66.5h0m0 72.5h0m.1-59.8h0m.1 53.3h0m.1 47.6h0m.1-112.1h0m.1 150.1h0m.1-53.1h0m.1-29.8h0m.1 54.6h0m.1-65.2h0m.1 54.5h0m.1-87.9h0m.1.5h0m.1 6.2h0m.1 26.5h0m0-24h0m.1-11.5h0m.1 49.5h0m.1-16.7h0m.1 62.6h0m.1-52h0m.1 44h0m.1-12.9h0m.1-39.6h0m.1-22.1h0m.1 32.5h0m.1 6.3h0m.1 42.8h0m.1 37.9h0m.1-77.5h0m0-25.7h0m.1 8.4h0m.1 67.2h0m.1-62.7h0m.1-20.1h0m.1 13.8h0m.1 19.4h0m.1-5.5h0m.1 12.5h0m.1 24.9h0m.1-87.1h0m.1 76.5h0m.1-15.4h0m.1-29.3h0m.1 62.1h0m.1 21h0m0-39.1h0m.1-73.3h0m.1 96.8h0m.1-23.9h0m.1-13h0m.1-25.4h0m.1 27h0m.1-17.2h0m.1 119.5h0m.1-45.7h0m.1-170.1h0m.1 137.7h0m.1-43.3h0m.1 9.7h0m.1-16.8h0m0 5.5h0m.1 59.9h0m.1-106.2h0m.1 68.9h0m.1 74.2h0m.1-149.7h0m.1 41.4h0m.1 17.5h0m.1 32.8h0m.1 24.8h0m.1-17.4h0m.1-37.6h0m.1 8.2h0m.1 24.6h0m.1-25.1h0m0 8.4h0m.1-52.3h0m.1 37.6h0m.1 89.3h0m.1-34.2h0m.1-27h0m.1 37.1h0m.1-55h0m.1-59.4h0m.1 70h0m.1-1.7h0m.1-77.9h0m.1 81.9h0m.1 8.3h0m.1 82.5h0m0-84.4h0m.1 49.4h0m.1 11h0m.1-21.1h0m.1-51.5h0m.1 65.5h0m.1-33.1h0m.1-70.1h0m.1 52.6h0m.1-65.6h0m.1-.3h0m.1 52.7h0m.1-7.8h0m.1 8h0m.1 16.3h0m.1 15.4h0m0-62.4h0m.1 30.8h0m.1 58h0m.1 6h0m.1 15.6h0m.1 66.1h0m.1-170.2h0m.1 32.7h0m.1 4.2h0m.1-19.1h0m.1 20.9h0m.1 10.2h0m.1-75.4h0m.1 65h0m.1-29h0m0-20.2h0m.1-51.8h0m.1 181h0m.1-94h0m.1 25.1h0m.1 33.1h0m.1-60.9h0m.1 35.8h0m.1-14.2h0m.1-16.7h0m.1 12h0m.1.2h0m.1 37.1h0m.1-22.9h0m.1-1.1h0m0 58.1h0m.1-.1h0m.1-44h0m.1-38.2h0m.1 80.6h0m.1-34.5h0m.1-9.3h0m.1-47.2h0m.1 43.9h0m.1-29.2h0m.1 60.7h0m.1-56.8h0m.1 46.5h0m.1 40.1h0m.1-99.1h0m.1-87.1h0m0 149.9h0m.1-46.2h0m.1-31.7h0m.1-5.4h0m.1 14.9h0m.1 1.8h0m.1 34.1h0m.1-55.2h0m.1 9.5h0m.1 65.1h0m.1-6h0m.1-32h0m.1 73.7h0m.1-26.9h0m.1-37.1h0m0-16.5h0m.1 21.4h0m.1-12.5h0m.1-29.4h0m.1 112.5h0m.1-17.7h0m.1 12.9h0m.1-38.9h0m.1-13h0m.1-19.9h0m.1 15.9h0m.1-27.2h0m.1 14.1h0m.1 33.4h0m.1-22.7h0m0-18.1h0m.1-47.1h0m.1 69.7h0m.1-122.6h0m.1 129.7h0m.1 28.5h0m.1 95h0m.1-152.4h0m.1 21.4h0m.1-11.7h0m.1 13.6h0m.1-53.1h0m.1 52.9h0m.1 15.4h0m.1-7.2h0m0-41.2h0m.1 54.6h0m.1-44.3h0m.1 17.8h0m.1-.7h0m.1 71h0m.1-58.8h0m.1 6.9h0m.1 19.6h0m.1-49.2h0m.1 29.3h0m.1-43.2h0m.1-1.2h0m.1 33.2h0m.1-8.1h0m.1-28.6h0m0 36h0m.1 1.6h0m.1-66h0m.1 81h0m.1-2.4h0m.1 34.2h0m.1-107.2h0m.1 69.6h0m.1 25.9h0m.1-90.2h0m.1 29.6h0m.1 4.6h0m.1-54.4h0m.1 117.1h0m.1 5h0m0-26.2h0m.1-96.8h0m.1 43.3h0m.1 69h0m.1-22.5h0m.1-115h0m.1 157.1h0m.1-40.5h0m.1-40.5h0m.1 10.5h0m.1-17.6h0m.1 30h0m.1 16.1h0m.1 19.3h0m.1-16.6h0m0 27h0m.1-72.3h0m.1 157.4h0m.1-103.6h0m.1-25.8h0m.1-4.2h0m.1 39.2h0m.1-73.2h0m.1 68.3h0m.1-87.4h0m.1 146.6h0m.1-41.9h0m.1-79.2h0m.1 81.4h0m.1-60.4h0m.1-22.3h0m0 86.7h0m.1-82.9h0m.1 96h0m.1 14h0m.1-107.3h0m.1-23.6h0m.1 32.8h0m.1-83h0m.1 84.8h0m.1 20.5h0m.1-8.1h0m.1-4.4h0m.1-23.8h0m.1 23.2h0m.1 38h0m0-5.5h0m.1-8.1h0m.1-74.9h0m.1 84.7h0m.1-124.9h0m.1 126.1h0m.1-24.7h0m.1-23.9h0m.1-19.4h0m.1 70.2h0m.1-66.3h0m.1 21.1h0m.1 32.7h0m.1-34.3h0m.1 42.8h0m0-36.4h0m.1 35.1h0m.1-3.6h0m.1-18.1h0m.1-.6h0m.1 63.9h0m.1-88.4h0m.1-24.8h0m.1 87.3h0m.1-60.8h0m.1-23h0m.1 52.1h0m.1 31.4h0m.1 25.5h0m.1-43h0m0 4.3h0m.1-54.6h0m.1 48.3h0m.1-6.1h0m.1-10.8h0m.1 24.7h0m.1-94.4h0m.1 27.8h0m.1-29.5h0m.1 130.5h0m.1-36.9h0m.1-22h0m.1 19.9h0m.1-40.4h0m.1 8.5h0m.1-36.5h0m0 39.5h0m.1-18.3h0m.1 50.4h0m.1-63.4h0m.1 38.5h0m.1-13.8h0m.1 14.6h0m.1-22.4h0m.1-36.2h0m.1 107h0m.1-34.1h0m.1 24.4h0m.1-13.9h0m.1 16.5h0m.1-6.6h0m0-30.9h0m.1 54.8h0m.1-57.8h0m.1-54.1h0m.1 9.4h0m.1 54.4h0m.1 16.4h0m.1-47.8h0m.1-42.8h0m.1 55.4h0m.1 34.8h0m.1-51.6h0m.1-7.3h0m.1 52.9h0m.1 13.4h0m0 31.3h0m.1-121.7h0m.1 101h0m.1-1.2h0m.1 17.7h0m.1-64.6h0m.1 13.7h0m.1-55.3h0m.1 94.5h0m.1 6.1h0m.1-65.8h0m.1-42.7h0m.1 107.9h0m.1-45.5h0m.1 30.5h0m.1-15.8h0m0-53.4h0m.1 35.2h0m.1-27.9h0m.1 5.4h0m.1 68.3h0m.1-90.6h0m.1 70.8h0m.1-34.7h0m.1.5h0m.1 27.5h0m.1-44.4h0m.1-5.4h0m.1-6.6h0m.1 43.7h0m.1 3.9h0m0-39.9h0m.1 16.7h0m.1 45.7h0m.1-75.2h0m.1 33.6h0m.1-31.9h0m.1-4.9h0m.1 4.9h0m.1 35.7h0m.1 5.7h0m.1-26.5h0m.1 56.8h0m.1-41.2h0m.1-27.8h0m.1 31.8h0m0-55.6h0m.1 21.4h0m.1 42.1h0m.1 49.2h0m.1 26.8h0m.1-52h0m.1-39.6h0m.1 18h0m.1 5.6h0m.1 6.8h0m.1 43.2h0m.1-128.5h0m.1 44.3h0m.1 20.7h0m.1-44.2h0m0 59.9h0m.1-73.2h0m.1 78h0m.1-49.6h0m.1-62.1h0m.1 110.1h0m.1-29.2h0m.1 2.4h0m.1-15.8h0m.1 52.5h0m.1-15.7h0m.1 7h0m.1 30.3h0m.1-130.5h0m.1 119.7h0m.1-116.9h0m0 88.8h0m.1 17.5h0m.1 7.9h0m.1 8.9h0m.1-42.2h0m.1-38.5h0m.1 81.9h0m.1-9.9h0m.1-8.4h0m.1-70.9h0m.1 108.8h0m.1-60.9h0m.1 15.1h0m.1-26.7h0m.1-5.4h0m0 32.3h0m.1-7.2h0m.1-37h0m.1 25.3h0m.1 12.1h0m.1 2.2h0m.1-22.4h0m.1-28.8h0m.1 49.5h0m.1-37.9h0m.1 19.3h0m.1 20.4h0m.1-7h0m.1-7h0m.1-15.6h0m0 64h0m.1-46.9h0m.1 27.5h0m.1-50.9h0m.1 38.1h0m.1-33.6h0m.1 38h0m.1-43.6h0m.1 33.5h0m.1-15.8h0m.1 73.9h0m.1 36.9h0m.1-89.7h0m.1 44.9h0m.1-78.5h0m.1-107.1h0m0 108.5h0m.1.4h0m.1 25.7h0m.1-14.1h0m.1 15.5h0m.1-21h0m.1 74.9h0m.1-20.6h0m.1-13.5h0m.1-37.4h0m.1-40h0m.1 37.6h0m.1 5.2h0m.1 19.4h0m.1 2.4h0m0 50.9h0m.1-47.3h0m.1-21.1h0m.1-19.9h0m.1-7h0m.1 10h0m.1-.2h0m.1 20.9h0m.1-54.4h0m.1 88.1h0m.1-102.4h0m.1 110.3h0m.1-67h0m.1 7.7h0m.1 27.7h0m0 83.9h0m.1-163.6h0m.1 12.6h0m.1 41.1h0m.1 38.3h0m.1-17.5h0m.1-51.6h0m.1 114.2h0m.1-25.7h0m.1-44.4h0m.1-65.3h0m.1 58.7h0m.1 32.3h0m.1 23.1h0m.1 3h0m0-105.3h0m.1 35.9h0m.1-14h0m.1 62.3h0m.1-15.8h0m.1 6.6h0m.1-3.7h0m.1-6.6h0m.1-62.8h0m.1 46.8h0m.1-21.1h0m.1 31.3h0m.1 21.9h0m.1-38.5h0m.1-52.5h0m.1 86.1h0m0 41.9h0m.1-79h0m.1-15.9h0m.1 53.3h0m.1-6.3h0m.1 17.2h0m.1 51.2h0m.1-72.4h0m.1 20.2h0m.1 11h0m.1-31h0m.1 39.7h0m.1-76.7h0m.1-66.8h0m.1 69.2h0m0-13.6h0m.1 54.2h0m.1 72.4h0m.1 17.7h0m.1-88.3h0m.1-21h0m.1 95.9h0m.1-116.9h0m.1 16.1h0m.1 37.9h0m.1-40.9h0m.1 22.4h0m.1-27.8h0m.1 64.9h0m.1 54h0m0-113.7h0m.1-22.6h0m.1 17.3h0m.1 48.6h0m.1 35h0m.1-80h0m.1-32.8h0m.1 26h0m.1 58.4h0m.1-21.4h0m.1-5h0m.1-83.2h0m.1 72.9h0m.1-57.5h0m.1 124.6h0m.1-22.6h0m0-3.8h0m.1 9h0m.1-47.4h0m.1-10.3h0m.1 19.7h0m.1-5h0m.1-73.8h0m.1.4h0m.1 52.4h0m.1 29.9h0m.1 35.9h0m.1-18.9h0m.1 41.3h0m.1-54.8h0m.1-54.1h0m0 73.5h0m.1-41h0m.1 61.8h0m.1-42h0m.1-14.8h0m.1-92h0m.1 175.6h0m.1 7.6h0m.1-123.1h0m.1 7.2h0m.1 4.9h0m.1 80.3h0m.1-150.8h0m.1 36.8h0m.1 35.6h0m0-44.6h0m.1 58.9h0m.1 8.5h0m.1-17.1h0m.1 14.6h0m.1-3.1h0m.1-11h0m.1 66.9h0m.1-97.5h0m.1-25.9h0m.1 107.3h0m.1 2.5h0m.1 82.3h0m.1-144.1h0m.1-14.5h0m0 52.6h0m.1-6h0m.1 39.1h0m.1-22.2h0m.1-41.3h0m.1-95.3h0m.1 94.3h0m.1 69.7h0m.1-67.1h0m.1 7h0m.1-21.5h0m.1 42h0m.1 12.6h0m.1-52.8h0m.1 40.5h0m.1-89.1h0m0 97.2h0m.1-17.4h0m.1-6.9h0m.1-129.5h0m.1 177h0m.1-81.1h0m.1 41.4h0m.1 28.9h0m.1 37.9h0m.1-67.3h0m.1-49.4h0m.1 57.2h0m.1 23.8h0m.1 23.7h0m.1-46.5h0m0 16.8h0m.1-54.4h0m.1 58h0m.1 38.6h0m.1-75.9h0m.1 50.1h0m.1-55.4h0m.1-68.7h0m.1 57.3h0m.1-35.3h0m.1 57.3h0m.1-.9h0m.1 42.6h0m.1 14.2h0m.1-51.8h0m0 8.9h0m.1-58.4h0m.1 104.1h0m.1-99.5h0m.1 16h0m.1 11.2h0m.1 19.7h0m.1 31.3h0m.1-58.8h0m.1 68.7h0m.1-45.3h0m.1-13.4h0m.1-15.2h0m.1 56.8h0m.1-18h0m.1-11.2h0m0-12.9h0m.1 18.9h0m.1 67.3h0m.1-55.9h0m.1 9.8h0m.1-10.2h0m.1-23.4h0m.1 3.5h0m.1 25.2h0m.1-37.6h0m.1 1.5h0m.1 12.6h0m.1 11.7h0m.1-71.9h0m.1 63h0m0 50.3h0m.1-33.7h0m.1-25.6h0m.1-88.1h0m.1 62.6h0m.1 19.1h0m.1 13.9h0m.1-11.1h0m.1 25h0m.1 86h0m.1-50h0m.1-27.4h0m.1-38.7h0m.1-7.3h0m.1 13.6h0m0 42.5h0m.1-30.6h0m.1 117.7h0m.1-148.8h0m.1-53.2h0m.1 66.8h0m.1 26.4h0m.1-35.8h0m.1 41.2h0m.1-5h0m.1-61.5h0m.1 66.7h0m.1-44.2h0m.1 55.9h0m.1 35.3h0m0-25h0m.1-103.4h0m.1-.6h0m.1 93.7h0m.1-23.1h0m.1-21.8h0m.1-55h0m.1 170.4h0m.1-139.8h0m.1 36.1h0m.1 26.4h0m.1-58.6h0m.1 76h0m.1-23.4h0m.1 13.6h0m.1-15.3h0m0-36.6h0m.1-28.2h0m.1 78.7h0m.1-5.4h0m.1-14.8h0m.1 56.7h0m.1-37.4h0m.1-35.5h0m.1-41.7h0m.1 37.8h0m.1 8h0m.1 55.8h0m.1 16.5h0m.1-35.2h0m.1-25.8h0m0-42.7h0m.1 88.3h0m.1-20.6h0m.1-58.9h0m.1 26.7h0m.1 35.5h0m.1-43.6h0m.1-3.1h0m.1 20.3h0m.1 11.2h0m.1-37h0m.1 20.3h0m.1-47.7h0m.1-9.5h0m.1 120.2h0m0-77.1h0m.1-3.2h0m.1 20.1h0m.1 14.8h0m.1 47.8h0m.1-23.4h0m.1.9h0m.1-33.7h0m.1-15h0m.1-4h0m.1 20.1h0m.1 6.7h0m.1-5.1h0m.1-32h0m.1 40.9h0m.1-40.2h0m0 80.4h0m.1-72.8h0m.1 20.8h0m.1-25.2h0m.1-43.9h0m.1 95.1h0m.1 26.1h0m.1-27.8h0m.1-40.5h0m.1 52.1h0m.1-2.3h0m.1-94h0m.1 94.1h0m.1-108.5h0m.1 37.3h0m0 6.9h0m.1 25.3h0m.1-18h0m.1 22.7h0m.1 60.7h0m.1-108.8h0m.1 54.7h0m.1-47.9h0m.1 104.4h0m.1-83.4h0m.1 56h0m.1-46.9h0m.1-13.8h0m.1 80.2h0m.1-84h0m0-2.9h0m.1 43.9h0m.1-11.3h0m.1 25.3h0m.1-83h0m.1 92.4h0m.1-55.4h0m.1 36.3h0m.1-72.8h0m.1 3.7h0m.1 65h0m.1-78.5h0m.1 39.8h0m.1 35h0m.1-69.2h0m0 4h0m.1-16.5h0m.1 57.4h0m.1 61.5h0m.1-106.8h0m.1 75.6h0m.1-38.2h0m.1-25h0m.1 12.2h0m.1 26.4h0m.1-16.1h0m.1-25.6h0m.1 4.2h0m.1 93h0m.1 13.8h0m.1-27.5h0m0-61.1h0m.1 40.2h0m.1 31.5h0m.1-21.4h0m.1 69.8h0m.1-104h0m.1-3.5h0m.1 7.7h0m.1 19.3h0m.1 56.8h0m.1-32h0m.1-81.8h0m.1 101.7h0m.1-45.2h0m.1 13h0m0 41.2h0m.1-30.7h0m.1-127.2h0m.1 116h0m.1-33.7h0m.1 9h0m.1 38.1h0m.1 6.3h0m.1-94.3h0m.1 72.2h0m.1-30.7h0m.1 54.5h0m.1-128.3h0m.1 84.1h0m.1 22.7h0m0-73.2h0m.1 44.5h0m.1 21.7h0m.1-87.5h0m.1 170.5h0m.1-104.2h0m.1 43.3h0m.1-59.1h0m.1 8h0m.1 31.2h0m.1-103.9h0m.1 51.7h0m.1 40.3h0m.1 32.7h0m.1 86h0m.1-235.1h0m0 108.7h0m.1-13.1h0m.1 23.9h0m.1-18.1h0m.1 73.6h0m.1-89.3h0m.1 69.8h0m.1-21.8h0m.1-16.1h0m.1 24.1h0m.1-82.1h0m.1 159.3h0m.1-114.8h0m.1 42.9h0m.1-10.9h0m0 15.7h0m.1-24.4h0m.1-18.7h0m.1-50.4h0m.1-8.8h0m.1 79.9h0m.1-9.7h0m.1 53.8h0m.1-134.1h0m.1 87.9h0m.1-44.3h0m.1 25.3h0m.1 42.5h0m.1 23.6h0m.1-62h0m0-18.6h0m.1 44.7h0m.1-59h0m.1 46.3h0m.1 32.1h0m.1-48.2h0m.1 22.9h0m.1-31.1h0m.1 41.9h0m.1-22.8h0m.1 21.3h0m.1 57.2h0m.1-110.7h0m.1 51.4h0m.1 14.3h0m0 3.8h0m.1-1.4h0m.1-51.5h0m.1 85.8h0m.1-56.1h0m.1-18.3h0m.1 39.4h0m.1-77.3h0m.1 86.3h0m.1-36.4h0m.1-70.8h0m.1 60.8h0m.1 43.6h0m.1 40.4h0m.1-38.1h0m.1-48h0m0 46.1h0m.1-36.9h0m.1 75.6h0m.1-80.7h0m.1-4.6h0m.1 11.8h0m.1 56.5h0m.1-112.9h0m.1 21.4h0m.1 55.6h0m.1-51.4h0m.1 26.2h0m.1-103.4h0m.1 150.5h0m.1-40.3h0m0 23.6h0m.1-106.1h0m.1 110.9h0m.1 3.2h0m.1-40.5h0m.1 35.7h0m.1-58h0m.1-62.8h0m.1 77.9h0m.1 97.1h0m.1-115.4h0m.1 21.6h0m.1-11.1h0m.1 33.2h0m.1 2.6h0m0-21.6h0m.1 14.3h0m.1-12.2h0m.1 14.4h0m.1 29.3h0m.1-47.9h0m.1 43.1h0m.1-64.7h0m.1 93.7h0m.1-100.1h0m.1 32.1h0m.1 44.9h0m.1-14.2h0m.1 42.1h0m.1-121.5h0m.1 64h0m0 9.5h0m.1-3.3h0m.1-40.1h0m.1-60.8h0m.1 5.1h0m.1 171.4h0m.1-.1h0m.1-146.9h0m.1 67.7h0m.1-20.4h0m.1 36.7h0m.1 11.7h0m.1-42.8h0m.1 38.9h0m.1-82.5h0m0 27.9h0m.1 73.6h0m.1 15.9h0m.1-143.6h0m.1 84.3h0m.1-20.4h0m.1 19.7h0m.1 47.8h0m.1-64.4h0m.1-65.4h0m.1 77h0m.1-87.2h0m.1 157.6h0m.1-112.2h0m.1 22.3h0m0 5h0m.1 32.8h0m.1 4.7h0m.1 6.1h0m.1-27.5h0m.1-20.2h0m.1 18h0m.1 36.6h0m.1-39.9h0m.1-1.9h0m.1 15.6h0m.1 16.7h0m.1-51.8h0m.1 28h0m.1 34.5h0m0-124.2h0m.1 124.8h0m.1-6.3h0m.1-56.3h0m.1 5.1h0m.1 29.4h0m.1-25h0m.1 70.8h0m.1-26.5h0m.1-101h0m.1 132.7h0m.1-68.7h0m.1 33.2h0m.1-92.2h0m.1 99.6h0m.1-43h0m0 12h0m.1 11.6h0m.1-15h0m.1-51.2h0m.1 24.4h0m.1 106.5h0m.1-137h0m.1-3.6h0m.1 10.3h0m.1 60.3h0m.1-25.9h0m.1 9.9h0m.1-53.6h0m.1 191.3h0m.1-96.3h0m0-42.7h0m.1 27.6h0m.1-20.7h0m.1-16.1h0m.1 80.9h0m.1-32h0m.1-51.3h0m.1 30.5h0m.1-10.2h0m.1.7h0m.1-38.5h0m.1 57.8h0m.1-47.2h0m.1 88.3h0m.1-.6h0m0-22.7h0m.1-39h0m.1-20.9h0m.1-46.9h0m.1 113.3h0m.1-41.7h0m.1.8h0m.1-28.8h0m.1 71.6h0m.1-112.7h0m.1 81.6h0m.1-42.5h0m.1 38.7h0m.1-77.6h0m.1 119.5h0m.1-130.1h0m0 73.4h0m.1 13.4h0m.1 28.5h0m.1-11.7h0m.1-7.9h0m.1-11.4h0m.1 64.2h0m.1-134.6h0m.1 123.5h0m.1-52.9h0m.1 35.3h0m.1-58.2h0m.1 116.2h0m.1-185.9h0m.1 131.2h0m0-76.5h0m.1 64.6h0m.1 8.1h0m.1-34.8h0m.1 7.7h0m.1-23.9h0m.1-9.2h0m.1 7.1h0m.1 18.7h0m.1 7.5h0m.1-36h0m.1 74.2h0m.1-47.9h0m.1 14.4h0m.1-5.7h0m0-7.1h0m.1-17.7h0m.1 31.7h0m.1-7h0m.1-21.4h0m.1 52.7h0m.1-38.9h0m.1-15.2h0m.1 30.8h0m.1-42.8h0m.1 10.6h0m.1 13h0m.1-3.2h0m.1-46.5h0m.1 121.6h0m0-123.3h0m.1 46.3h0m.1 58.2h0m.1-5.9h0m.1 16.4h0m.1-5.7h0m.1-98.4h0m.1 15.3h0m.1 96.9h0m.1-46.7h0m.1-23.5h0m.1-61.6h0m.1 82.9h0m.1-20h0m.1 8.7h0m.1-4.7h0m0-.9h0m.1 25.1h0m.1-23.9h0m.1 2.1h0m.1-33h0m.1 55.6h0m.1-69.2h0m.1 79.9h0m.1 12h0m.1-31.3h0m.1-33.6h0m.1 67.5h0m.1-64.8h0m.1 19.7h0m.1 19.4h0m0-37.5h0m.1 91h0m.1-74.1h0m.1-3h0m.1-89.8h0m.1 119.3h0m.1-123.9h0m.1 101.7h0m.1-21.7h0m.1-2h0m.1-60.9h0m.1 71.1h0m.1 21.9h0m.1-32.6h0m.1 5h0m0 71.1h0m.1-128.5h0m.1 108.7h0m.1-70.3h0m.1 13.4h0m.1 59.2h0m.1-39.1h0m.1-14h0m.1 116.7h0m.1-42h0m.1-40.3h0m.1-2h0m.1-50.1h0m.1 26.7h0m.1 44.2h0m.1-28h0m0-9.6h0m.1 12.9h0m.1-36.2h0m.1 28.9h0m.1 67.4h0m.1-147.8h0m.1 38h0m.1 22.4h0m.1 57.8h0m.1-60.2h0m.1 21.2h0m.1-15.3h0m.1 73.8h0m.1-88.3h0m.1 1.1h0m0 33.1h0m.1-28.9h0m.1 14.1h0m.1-67.3h0m.1 27.1h0m.1 46.9h0m.1-43.1h0m.1 44.1h0m.1-19.4h0m.1 58.3h0m.1 68.5h0m.1-96.2h0m.1 26.3h0m.1-35.5h0m.1 2.4h0m0-15.4h0m.1-20h0m.1-4.7h0m.1 47.7h0m.1-53.4h0m.1 43.4h0m.1 40h0m.1-80.5h0m.1 2h0m.1 39.5h0m.1 24.7h0m.1-146.1h0m.1 40.3h0m.1 73.6h0m.1-54.4h0m0 55h0m.1 37.3h0m.1 38.6h0m.1-89.4h0m.1 8.2h0m.1-2.2h0m.1 86.1h0m.1-16.4h0m.1-112.1h0m.1 12.4h0m.1-19.8h0m.1 41.7h0m.1-107.5h0m.1 154.4h0m.1 23.3h0m.1-31.6h0m0-46.7h0m.1 16h0m.1 46.1h0m.1-34.2h0m.1-50.8h0m.1 47.6h0m.1-42.8h0m.1 40.4h0m.1 98.7h0m.1-220.7h0m.1 144.6h0m.1-14.2h0m.1 24.6h0m.1-10h0m.1-37.3h0m0 12.5h0m.1 9.5h0m.1-94.3h0m.1 70.9h0m.1-67.3h0m.1 68.4h0m.1-8.5h0m.1-9.2h0m.1 37.8h0m.1 40.2h0m.1-59.5h0m.1 93h0m.1-128.4h0m.1 54.8h0m.1 120.1h0m0-134h0m.1 16.3h0m.1 55.9h0m.1-61.4h0m.1-47.2h0m.1 47.4h0m.1 28.3h0m.1-41.6h0m.1-13.1h0m.1 1.4h0m.1 39.1h0m.1-32.3h0m.1 85.4h0m.1-91.8h0m.1 34.9h0m.1 64.8h0m0-58.9h0m.1-88.1h0m.1 83.7h0m.1-27h0m.1 8.4h0m.1-26.6h0m.1 31.6h0m.1 8.6h0m.1-49.8h0m.1-19.8h0m.1 85.4h0m.1 17.8h0m.1 5h0m.1-41.4h0m.1-37.6h0m0-31.6h0m.1 107.9h0m.1-9.3h0m.1 47.5h0m.1-116.2h0m.1 25.5h0m.1 71.4h0m.1-106.7h0m.1-18.7h0m.1 47.5h0m.1 55.7h0m.1 16.4h0m.1-71.3h0m.1 14.8h0m.1-55.1h0m0 140h0m.1 4.7h0m.1-74.4h0m.1-30.5h0m.1 52.3h0m.1 1.2h0m.1-69.8h0m.1-12.8h0m.1 13.3h0m.1 135.5h0m.1-145.6h0m.1 10.3h0m.1 47.1h0m.1-33.3h0m.1 7.9h0m0 32.8h0m.1-3.3h0m.1 44.6h0m.1-76.6h0m.1 31.2h0m.1 18.2h0m.1-22.2h0m.1-20.5h0m.1 11.8h0m.1-86h0m.1 107.9h0m.1-1.2h0m.1-15.4h0m.1 61.8h0m.1-151.1h0m.1 92.8h0m0-40.4h0m.1 51.4h0m.1-95.8h0m.1 55.1h0m.1 90.6h0m.1-58.7h0m.1-7.4h0m.1 22.9h0m.1 6.8h0m.1-16.2h0m.1-56h0m.1-10.6h0m.1 100.6h0m.1 29.3h0m.1 26.9h0m0-66h0m.1-40.7h0m.1 40.6h0m.1-43.7h0m.1 72.6h0m.1-23h0m.1-181.1h0m.1 174.8h0m.1-28.3h0m.1-127.9h0m.1 64h0m.1 37.3h0m.1 27.9h0m.1-23.3h0m.1 54.4h0m0-126.5h0m.1 74.4h0m.1 14.3h0m.1 23.7h0m.1-46.7h0m.1-44.9h0m.1 111.1h0m.1-73.7h0m.1 46.7h0m.1-72.3h0m.1 42.8h0m.1-49.3h0m.1 11.9h0m.1-23.2h0m.1 89.5h0m.1 40.2h0m0 3.6h0m.1-56.2h0m.1-10.4h0m.1-121.4h0m.1 137.2h0m.1-16h0m.1 12.6h0m.1-50.5h0m.1 66.7h0m.1 68.8h0m.1-93.3h0m.1 81.2h0m.1-2.1h0m.1-29.4h0m.1-34.4h0m0-102.3h0m.1 97h0m.1-8h0m.1 43.6h0m.1-34.8h0m.1-3.6h0m.1-81.4h0m.1 65.7h0m.1 31.9h0m.1-17.6h0m.1 67.6h0m.1-82.4h0m.1 14h0m.1-7.2h0m.1 11.7h0m0-42.4h0m.1 49.8h0m.1-17.9h0m.1 20.2h0m.1 24.1h0m.1-38h0m.1 49.5h0m.1-95.6h0m.1 74h0m.1-116.4h0m.1 104.1h0m.1-20.3h0m.1-16.3h0m.1-90h0m-928.5-287.8h0m-1 44.5h0m-.5 350h0m-726-30h0m-41 24h0m1316 68h0m240-341h0m5 5h0m5-4h0m-1444-94h0m-53 15h0" fill="none" stroke="#000" stroke-width="4.3" stroke-linecap="round"/>
<rect x="180" y="60" width="2004" height="985" fill="none" stroke="#000" stroke-width="2"/>
<path d="M437 1046v6M773 1046v6M1108 1046v6M1444 1046v6M1779 1046v6M2115 1046v6M179 93h-6M179 292h-6M179 490h-6M179 688h-6M179 887h-6" stroke="#000" stroke-width="2" fill="none"/>
<text x="396.02" y="1085.60" textLength="82.14" lengthAdjust="spacingAndGlyphs" style="font-size:34.80px">3455</text><text x="731.62" y="1085.60" textLength="82.14" lengthAdjust="spacingAndGlyphs" style="font-size:34.80px">3460</text><text x="1067.22" y="1085.60" textLength="82.14" lengthAdjust="spacingAndGlyphs" style="font-size:34.80px">3465</text><text x="1402.82" y="1085.60" textLength="82.14" lengthAdjust="spacingAndGlyphs" style="font-size:34.80px">3470</text><text x="1738.42" y="1085.60" textLength="82.14" lengthAdjust="spacingAndGlyphs" style="font-size:34.80px">3475</text><text x="2074.02" y="1085.60" textLength="82.14" lengthAdjust="spacingAndGlyphs" style="font-size:34.80px">3480</text>
<text x="60.01" y="105.60" textLength="104.53" lengthAdjust="spacingAndGlyphs" style="font-size:34.80px">88500</text><text x="60.01" y="304.10" textLength="104.53" lengthAdjust="spacingAndGlyphs" style="font-size:34.80px">88000</text><text x="60.01" y="502.60" textLength="104.53" lengthAdjust="spacingAndGlyphs" style="font-size:34.80px">87500</text><text x="60.01" y="701.10" textLength="104.53" lengthAdjust="spacingAndGlyphs" style="font-size:34.80px">87000</text><text x="60.01" y="899.60" textLength="104.53" lengthAdjust="spacingAndGlyphs" style="font-size:34.80px">86500</text>
<text x="741.13" y="48.00" textLength="881.62" lengthAdjust="spacingAndGlyphs" style="font-size:44.90px">Light curve for TIC 428888603 (Sector 79)</text>
<text x="1046.89" y="1129.40" textLength="267.93" lengthAdjust="spacingAndGlyphs" style="font-size:39.70px">JD - 2 457 000</text>
<g transform="translate(42.2 721.1) rotate(-90)"><text x="-3.41" y="0.00" textLength="340.84" lengthAdjust="spacingAndGlyphs" style="font-size:39.70px">Magnitude, mmag</text></g>
</svg>
</body></html>
